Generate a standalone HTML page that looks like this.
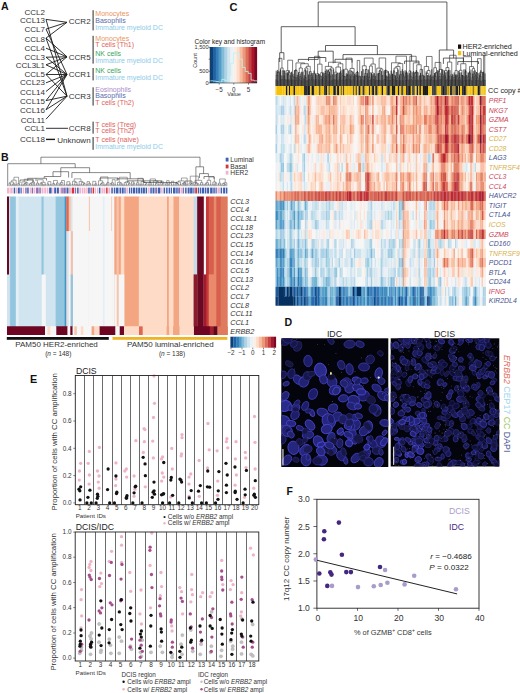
<!DOCTYPE html><html><head><meta charset="utf-8"><style>html,body{margin:0;padding:0;background:#fff;}body{width:520px;height:693px;overflow:hidden;font-family:"Liberation Sans",sans-serif;}svg{display:block}</style></head><body><svg width="520" height="693" viewBox="0 0 520 693" font-family="Liberation Sans, sans-serif"><defs><filter id="blur" x="-5%" y="-5%" width="110%" height="110%"><feGaussianBlur stdDeviation="1.0"/></filter><filter id="blur2" x="-5%" y="-5%" width="110%" height="110%"><feGaussianBlur stdDeviation="0.7"/></filter></defs><text x="1.1" y="10.4" font-size="10.6" fill="#111" font-weight="bold">A</text><text x="45" y="15" font-size="8" fill="#333" text-anchor="end">CCL2</text><text x="45" y="22.7" font-size="8" fill="#333" text-anchor="end">CCL13</text><text x="45" y="31.7" font-size="8" fill="#333" text-anchor="end">CCL7</text><text x="45" y="41.6" font-size="8" fill="#333" text-anchor="end">CCL8</text><text x="45" y="51.2" font-size="8" fill="#333" text-anchor="end">CCL4</text><text x="45" y="60.2" font-size="8" fill="#333" text-anchor="end">CCL3</text><text x="45" y="67.6" font-size="8" fill="#333" text-anchor="end">CCL3L1</text><text x="45" y="76.5" font-size="8" fill="#333" text-anchor="end">CCL5</text><text x="45" y="85" font-size="8" fill="#333" text-anchor="end">CCL23</text><text x="45" y="95" font-size="8" fill="#333" text-anchor="end">CCL14</text><text x="45" y="104" font-size="8" fill="#333" text-anchor="end">CCL15</text><text x="45" y="112.9" font-size="8" fill="#333" text-anchor="end">CCL16</text><text x="45" y="123.3" font-size="8" fill="#333" text-anchor="end">CCL11</text><text x="45" y="131" font-size="8" fill="#333" text-anchor="end">CCL1</text><text x="45" y="142.2" font-size="8" fill="#333" text-anchor="end">CCL18</text><text x="90.6" y="24.4" font-size="8" fill="#333" text-anchor="end">CCR2</text><text x="90.6" y="59.6" font-size="8" fill="#333" text-anchor="end">CCR5</text><text x="90.6" y="77" font-size="8" fill="#333" text-anchor="end">CCR1</text><text x="90.6" y="99.4" font-size="8" fill="#333" text-anchor="end">CCR3</text><text x="90.6" y="131" font-size="8" fill="#333" text-anchor="end">CCR8</text><text x="90.6" y="142.6" font-size="8" fill="#333" text-anchor="end">Unknown</text><path d="M46 19.4L67 22.3 M46 29.1L67 22.3 M46 38.1L67 22.3 M46 38.1L67 56.8 M46 48.2L67 56.8 M46 57.2L67 56.8 M46 64.8L67 56.8 M46 74.5L67 56.8 M46 29.1L67 74.5 M46 57.2L67 74.5 M46 64.8L67 74.5 M46 74.5L67 74.5 M46 82.8L67 74.5 M46 91.5L67 74.5 M46 100.6L67 74.5 M46 109.7L67 74.5 M46 19.4L67 96.2 M46 38.1L67 96.2 M46 74.5L67 96.2 M46 100.6L67 96.2 M46 109.7L67 96.2 M46 119.2L67 96.2" stroke="#1a1a1a" stroke-width="0.9" fill="none"/><line x1="46" y1="128.3" x2="68" y2="128.3" stroke="#1a1a1a" stroke-width="0.9"/><line x1="46" y1="139.4" x2="55" y2="139.4" stroke="#1a1a1a" stroke-width="1.4"/><rect x="92.3" y="10.2" width="1.7" height="20.2" fill="#808080"/><text x="95.3" y="15.8" font-size="7" fill="#e9955f">Monocytes</text><text x="95.3" y="22.6" font-size="7" fill="#5a6aab">Basophils</text><text x="95.3" y="30" font-size="7" fill="#8ecbe8">Immature myeloid DC</text><rect x="92.3" y="35.8" width="1.7" height="27.8" fill="#808080"/><text x="95.3" y="40.8" font-size="7" fill="#e9955f">Monocytes</text><text x="95.3" y="47.4" font-size="7" fill="#e0625c">T cells (Th1)</text><text x="95.3" y="55.8" font-size="7" fill="#3aa65a">NK cells</text><text x="95.3" y="62.7" font-size="7" fill="#8ecbe8">Immature myeloid DC</text><rect x="92.3" y="68" width="1.7" height="12.4" fill="#808080"/><text x="95.3" y="73.4" font-size="7" fill="#3aa65a">NK cells</text><text x="95.3" y="79.7" font-size="7" fill="#8ecbe8">Immature myeloid DC</text><rect x="92.3" y="87.3" width="1.7" height="18.3" fill="#808080"/><text x="95.3" y="92.2" font-size="7" fill="#a98ccb">Eosinophils</text><text x="95.3" y="98.4" font-size="7" fill="#5a6aab">Basophils</text><text x="95.3" y="104.8" font-size="7" fill="#e0625c">T cells (Th2)</text><rect x="92.3" y="121.6" width="1.7" height="12" fill="#808080"/><text x="95.3" y="126.5" font-size="7" fill="#e0625c">T cells (Treg)</text><text x="95.3" y="132.6" font-size="7" fill="#e0625c">T cells (Th2)</text><rect x="92.3" y="137" width="1.7" height="12.8" fill="#808080"/><text x="95.3" y="142.2" font-size="7" fill="#e0625c">T cells (naive)</text><text x="95.3" y="149" font-size="7" fill="#8ecbe8">Immature myeloid DC</text><text x="1" y="160.6" font-size="10.6" fill="#111" font-weight="bold">B</text><path d="M40.9 163.7V157.2H200V166.8 M7.7 186.2V163.7H75.2V167.7 M60.8 171.7V167.7H89.6V172.6 M53 176.5V171.7H68.6V177.5 M44.2 178.3V176.5H60.8V171.7 M71.9 178V172.6H130.2V178.8 M27.7 181V178.3H46.5V180.5 M117 181V178.8H143.5V182.5 M127.8 183V180.8H161.5V183 M143.5 182.5H177V184 M195.9 184V166.8H203.6V173.6 M199.5 178V173.6H208.4V176.5 M204 179V176.5H214V179 M36 181V178.3 M20 183V180 H33V182 M100 180V178 H118V180 M150 183V181 M170 184V182.5 M185 184.5V181H192V184" stroke="#3a3a3a" stroke-width="0.6" fill="none"/><path d="M10.1 186.2V184.7H11.2V186.2M9 186.2V183.29H10.65V184.7M12.3 186.2V184.52H13.4V186.2M12.85 184.52V183.72H14.5V186.2M9.82 183.29V182.04H13.68V183.72M15.6 186.2V184.29H16.7V186.2M11.75 182.04V180.18H16.15V184.29M18.9 186.2V184.33H20V186.2M17.8 186.2V183.45H19.45V184.33M13.95 180.18V177.23H18.62V183.45M21.3 186.2V184.77H22.4V186.2M23.5 186.2V184.47H24.6V186.2M25.7 186.2V184.37H26.8V186.2M24.05 184.47V183.51H26.25V184.37M25.15 183.51V182.71H27.9V186.2M21.85 184.77V181.91H26.52V182.71M29 186.2V184.64H30.1V186.2M31.2 186.2V184.61H32.3V186.2M29.55 184.64V183.64H31.75V184.61M30.65 183.64V182.84H33.4V186.2M32.03 182.84V182.04H34.5V186.2M24.19 181.91V179.23H33.26V182.04M35.8 186.2V184.65H36.9V186.2M38 186.2V184.21H39.1V186.2M36.35 184.65V183.18H38.55V184.21M42.4 186.2V184.73H43.5V186.2M41.3 186.2V183.93H42.95V184.73M40.2 186.2V183.13H42.12V183.93M44.6 186.2V184.43H45.7V186.2M41.16 183.13V182.33H45.15V184.43M37.45 183.18V179.69H43.16V182.33M48.1 186.2V184.69H49.2V186.2M47 186.2V183.89H48.65V184.69M50.3 186.2V184.5H51.4V186.2M47.83 183.89V181.59H50.85V184.5M53.8 186.2V184.31H54.9V186.2M52.7 186.2V183.51H54.35V184.31M56 186.2V184.17H57.1V186.2M56.55 184.17V182.91H58.2V186.2M53.53 183.51V180.46H57.38V182.91M60.6 186.2V184.49H61.7V186.2M59.5 186.2V183.69H61.15V184.49M60.33 183.69V182.45H62.8V186.2M63.9 186.2V184.72H65V186.2M61.56 182.45V180.51H64.45V184.72M66.3 186.2V184.39H67.4V186.2M68.5 186.2V184.71H69.6V186.2M69.05 184.71V183.89H70.7V186.2M66.85 184.39V181.71H69.88V183.89M72 186.2V184.41H73.1V186.2M74.2 186.2V184.44H75.3V186.2M76.4 186.2V184.36H77.5V186.2M74.75 184.44V182.34H76.95V184.36M72.55 184.41V181.31H75.85V182.34M78.6 186.2V184.76H79.7V186.2M80.8 186.2V184.33H81.9V186.2M83 186.2V184.48H84.1V186.2M83.55 184.48V183.51H85.2V186.2M81.35 184.33V182.61H84.38V183.51M79.15 184.76V181.45H82.86V182.61M74.2 181.31V178.86H81.01V181.45M86.5 186.2V184.38H87.6V186.2M89.8 186.2V184.22H90.9V186.2M88.7 186.2V183.29H90.35V184.22M87.05 184.38V181.61H89.53V183.29M92.2 186.2V184.75H93.3V186.2M94.4 186.2V184.7H95.5V186.2M94.95 184.7V183.73H96.6V186.2M92.75 184.75V181.33H95.78V183.73M97.9 186.2V184.76H99V186.2M100.1 186.2V184.49H101.2V186.2M100.65 184.49V183.54H102.3V186.2M103.4 186.2V184.77H104.5V186.2M101.48 183.54V182.74H103.95V184.77M98.45 184.76V180.75H102.71V182.74M105.6 186.2V184.63H106.7V186.2M106.15 184.63V183.83H107.8V186.2M106.98 183.83V182.52H108.9V186.2M100.58 180.75V176.9H107.94V182.52M111.3 186.2V184.42H112.4V186.2M110.2 186.2V183.62H111.85V184.42M111.03 183.62V182.82H113.5V186.2M114.6 186.2V184.36H115.7V186.2M112.26 182.82V179.66H115.15V184.36M117 186.2V184.71H118.1V186.2M119.2 186.2V184.21H120.3V186.2M121.4 186.2V184.35H122.5V186.2M119.75 184.21V183.14H121.95V184.35M117.55 184.71V182.34H120.85V183.14M123.6 186.2V184.73H124.7V186.2M125.8 186.2V184.77H126.9V186.2M124.15 184.73V182.68H126.35V184.77M128 186.2V184.38H129.1V186.2M128.55 184.38V183.39H130.2V186.2M125.25 182.68V181.88H129.38V183.39M119.2 182.34V177.24H127.31V181.88M132.6 186.2V184.32H133.7V186.2M133.15 184.32V183.29H134.8V186.2M131.5 186.2V181.84H133.97V183.29M136.1 186.2V184.29H137.2V186.2M138.3 186.2V184.32H139.4V186.2M136.65 184.29V182.75H138.85V184.32M140.5 186.2V184.21H141.6V186.2M142.7 186.2V184.23H143.8V186.2M144.9 186.2V184.66H146V186.2M145.45 184.66V183.86H147.1V186.2M143.25 184.23V182.46H146.27V183.86M141.05 184.21V181.56H144.76V182.46M137.75 182.75V178.29H142.91V181.56M148.4 186.2V184.59H149.5V186.2M150.6 186.2V184.26H151.7V186.2M148.95 184.59V182.74H151.15V184.26M152.8 186.2V184.76H153.9V186.2M155 186.2V184.77H156.1V186.2M155.55 184.77V183.33H157.2V186.2M158.3 186.2V184.59H159.4V186.2M156.38 183.33V181.67H158.85V184.59M153.35 184.76V180.87H157.61V181.67M150.05 182.74V178.93H155.48V180.87M161.8 186.2V184.18H162.9V186.2M162.35 184.18V183.12H164V186.2M160.7 186.2V181.18H163.18V183.12M165.3 186.2V184.66H166.4V186.2M165.85 184.66V183.09H167.5V186.2M168.6 186.2V184.19H169.7V186.2M166.68 183.09V180.64H169.15V184.19M171 186.2V184.76H172.1V186.2M173.2 186.2V184.64H174.3V186.2M171.55 184.76V181.2H173.75V184.64M177.8 186.2V184.44H178.9V186.2M176.7 186.2V183.59H178.35V184.44M175.6 186.2V182.79H177.52V183.59M180 186.2V184.51H181.1V186.2M176.56 182.79V181.99H180.55V184.51M183.3 186.2V184.36H184.4V186.2M182.2 186.2V183.56H183.85V184.36M183.02 183.56V182.74H185.5V186.2M178.56 181.99V180.86H184.26V182.74M186.6 186.2V184.26H187.7V186.2M181.41 180.86V178H187.15V184.26M190.1 186.2V184.56H191.2V186.2M190.65 184.56V183.76H192.3V186.2M189 186.2V182.96H191.47V183.76M194.5 186.2V184.61H195.6V186.2M196.7 186.2V184.74H197.8V186.2M197.25 184.74V183.94H198.9V186.2M195.05 184.61V183.14H198.07V183.94M193.4 186.2V182.34H196.56V183.14M200 186.2V184.36H201.1V186.2M202.2 186.2V184.22H203.3V186.2M200.55 184.36V182.62H202.75V184.22M194.98 182.34V180.35H201.65V182.62M190.24 182.96V176.15H198.32V180.35M204.6 186.2V184.46H205.7V186.2M205.15 184.46V183.61H206.8V186.2M207.9 186.2V184.33H209V186.2M205.97 183.61V182.64H208.45V184.33M210.1 186.2V184.65H211.2V186.2M207.21 182.64V180.28H210.65V184.65M212.3 186.2V184.26H213.4V186.2M214.5 186.2V184.18H215.6V186.2M215.05 184.18V183H216.7V186.2M212.85 184.26V182.03H215.88V183M208.93 180.28V176.99H214.36V182.03M218 186.2V184.45H219.1V186.2M220.2 186.2V184.76H221.3V186.2M218.55 184.45V183.12H220.75V184.76M223.5 186.2V185.16H224.6V186.2M224.05 185.16V184.36H225.7V186.2M222.4 186.2V183.56H224.88V184.36M223.64 183.56V182.76H226.8V186.2M219.65 183.12V178.96H225.22V182.76" stroke="#4a4a4a" stroke-width="0.5" fill="none"/><rect x="7" y="187.6" width="220.4" height="5.9" fill="#fff"/><rect x="7" y="187.6" width="2.5" height="5.9" fill="#f3b3cc"/><rect x="10.2" y="187.6" width="2.5" height="5.9" fill="#f3b3cc"/><rect x="13.7" y="187.6" width="1.5" height="5.9" fill="#3f5fb0"/><rect x="15.9" y="187.6" width="1.2" height="5.9" fill="#f3b3cc"/><rect x="17.8" y="187.6" width="2" height="5.9" fill="#3f5fb0"/><rect x="20.5" y="187.6" width="1.2" height="5.9" fill="#3f5fb0"/><rect x="22.7" y="187.6" width="1.5" height="5.9" fill="#f3b3cc"/><rect x="25.2" y="187.6" width="1.5" height="5.9" fill="#8c6fb0"/><rect x="27.2" y="187.6" width="1.5" height="5.9" fill="#3f5fb0"/><rect x="29.7" y="187.6" width="1.5" height="5.9" fill="#f3b3cc"/><rect x="31.7" y="187.6" width="1.5" height="5.9" fill="#8c6fb0"/><rect x="33.9" y="187.6" width="1.5" height="5.9" fill="#f3b3cc"/><rect x="36.1" y="187.6" width="2.5" height="5.9" fill="#8c6fb0"/><rect x="39.3" y="187.6" width="1.5" height="5.9" fill="#8c6fb0"/><rect x="41.5" y="187.6" width="2" height="5.9" fill="#f3b3cc"/><rect x="44.2" y="187.6" width="2" height="5.9" fill="#f3b3cc"/><rect x="46.9" y="187.6" width="1.5" height="5.9" fill="#f3b3cc"/><rect x="49.1" y="187.6" width="2.5" height="5.9" fill="#3f5fb0"/><rect x="52.3" y="187.6" width="1.2" height="5.9" fill="#f3b3cc"/><rect x="54.2" y="187.6" width="2" height="5.9" fill="#3f5fb0"/><rect x="56.9" y="187.6" width="2" height="5.9" fill="#3f5fb0"/><rect x="59.6" y="187.6" width="1.2" height="5.9" fill="#f3b3cc"/><rect x="61.3" y="187.6" width="1.5" height="5.9" fill="#8c6fb0"/><rect x="63.3" y="187.6" width="2.5" height="5.9" fill="#8c6fb0"/><rect x="66.5" y="187.6" width="2" height="5.9" fill="#3f5fb0"/><rect x="69" y="187.6" width="2" height="5.9" fill="#f3b3cc"/><rect x="71.7" y="187.6" width="2.5" height="5.9" fill="#d2373c"/><rect x="74.9" y="187.6" width="1.2" height="5.9" fill="#8c6fb0"/><rect x="77.1" y="187.6" width="1.5" height="5.9" fill="#3f5fb0"/><rect x="79.3" y="187.6" width="2" height="5.9" fill="#f3b3cc"/><rect x="82" y="187.6" width="1.5" height="5.9" fill="#f3b3cc"/><rect x="84" y="187.6" width="1.5" height="5.9" fill="#f3b3cc"/><rect x="86.2" y="187.6" width="1.5" height="5.9" fill="#f3b3cc"/><rect x="88.2" y="187.6" width="1.5" height="5.9" fill="#3f5fb0"/><rect x="90.4" y="187.6" width="1.5" height="5.9" fill="#8c6fb0"/><rect x="92.6" y="187.6" width="1.5" height="5.9" fill="#d2373c"/><rect x="94.8" y="187.6" width="1.2" height="5.9" fill="#f3b3cc"/><rect x="97" y="187.6" width="1.2" height="5.9" fill="#f3b3cc"/><rect x="98.9" y="187.6" width="1.5" height="5.9" fill="#3f5fb0"/><rect x="101.4" y="187.6" width="1.5" height="5.9" fill="#f3b3cc"/><rect x="103.4" y="187.6" width="2" height="5.9" fill="#f3b3cc"/><rect x="106.1" y="187.6" width="1.5" height="5.9" fill="#d2373c"/><rect x="108.3" y="187.6" width="2" height="5.9" fill="#f3b3cc"/><rect x="111.3" y="187.6" width="1.5" height="5.9" fill="#3f5fb0"/><rect x="113.8" y="187.6" width="1.5" height="5.9" fill="#3f5fb0"/><rect x="116" y="187.6" width="2.5" height="5.9" fill="#3f5fb0"/><rect x="119.5" y="187.6" width="1.5" height="5.9" fill="#3f5fb0"/><rect x="121.7" y="187.6" width="2" height="5.9" fill="#3f5fb0"/><rect x="124.4" y="187.6" width="1.2" height="5.9" fill="#3f5fb0"/><rect x="126.3" y="187.6" width="2" height="5.9" fill="#f3b3cc"/><rect x="129" y="187.6" width="1.2" height="5.9" fill="#3f5fb0"/><rect x="130.9" y="187.6" width="1.2" height="5.9" fill="#3f5fb0"/><rect x="132.8" y="187.6" width="2.5" height="5.9" fill="#3f5fb0"/><rect x="136" y="187.6" width="1.5" height="5.9" fill="#3f5fb0"/><rect x="138.2" y="187.6" width="2" height="5.9" fill="#3f5fb0"/><rect x="140.9" y="187.6" width="1.5" height="5.9" fill="#3f5fb0"/><rect x="142.9" y="187.6" width="2" height="5.9" fill="#3f5fb0"/><rect x="145.6" y="187.6" width="1.5" height="5.9" fill="#3f5fb0"/><rect x="148.1" y="187.6" width="1.5" height="5.9" fill="#f3b3cc"/><rect x="150.3" y="187.6" width="1.5" height="5.9" fill="#3f5fb0"/><rect x="152.5" y="187.6" width="2" height="5.9" fill="#3f5fb0"/><rect x="155.2" y="187.6" width="2" height="5.9" fill="#8c6fb0"/><rect x="157.9" y="187.6" width="2.5" height="5.9" fill="#3f5fb0"/><rect x="161.1" y="187.6" width="1.5" height="5.9" fill="#f3b3cc"/><rect x="163.6" y="187.6" width="1.5" height="5.9" fill="#3f5fb0"/><rect x="166.1" y="187.6" width="1.5" height="5.9" fill="#3f5fb0"/><rect x="168.6" y="187.6" width="1.5" height="5.9" fill="#3f5fb0"/><rect x="170.8" y="187.6" width="1.2" height="5.9" fill="#3f5fb0"/><rect x="173" y="187.6" width="2.5" height="5.9" fill="#3f5fb0"/><rect x="176.2" y="187.6" width="1.5" height="5.9" fill="#3f5fb0"/><rect x="178.2" y="187.6" width="2" height="5.9" fill="#8c6fb0"/><rect x="180.9" y="187.6" width="1.2" height="5.9" fill="#f3b3cc"/><rect x="182.6" y="187.6" width="1.5" height="5.9" fill="#8c6fb0"/><rect x="185.1" y="187.6" width="1.5" height="5.9" fill="#3f5fb0"/><rect x="187.6" y="187.6" width="2" height="5.9" fill="#3f5fb0"/><rect x="190.1" y="187.6" width="2.5" height="5.9" fill="#3f5fb0"/><rect x="193.3" y="187.6" width="1.2" height="5.9" fill="#3f5fb0"/><rect x="195.2" y="187.6" width="2" height="5.9" fill="#d2373c"/><rect x="197.9" y="187.6" width="1.2" height="5.9" fill="#3f5fb0"/><rect x="199.8" y="187.6" width="1.2" height="5.9" fill="#3f5fb0"/><rect x="201.7" y="187.6" width="2.5" height="5.9" fill="#3f5fb0"/><rect x="204.9" y="187.6" width="1.5" height="5.9" fill="#3f5fb0"/><rect x="207.1" y="187.6" width="2" height="5.9" fill="#3f5fb0"/><rect x="210.1" y="187.6" width="2.5" height="5.9" fill="#3f5fb0"/><rect x="213.3" y="187.6" width="1.5" height="5.9" fill="#3f5fb0"/><rect x="215.5" y="187.6" width="1.2" height="5.9" fill="#3f5fb0"/><rect x="217.4" y="187.6" width="2.5" height="5.9" fill="#f3b3cc"/><rect x="220.6" y="187.6" width="1.5" height="5.9" fill="#3f5fb0"/><rect x="223.1" y="187.6" width="2" height="5.9" fill="#3f5fb0"/><rect x="225.8" y="187.6" width="1.6" height="5.9" fill="#3f5fb0"/><path fill="#6c0722" d="M7 196.5h2.4v138.5h-2.4zM196.9 196.5h7.2v138.5h-7.2z"/><path fill="#d1e5f0" d="M9.1 196.5h1.3v138.5h-1.3zM18.2 196.5h23.5v138.5h-23.5zM43.4 196.5h2.4v138.5h-2.4zM45.5 196.5h10.4v138.5h-10.4z"/><path fill="#92c5de" d="M10.1 196.5h6v138.5h-6zM41.4 196.5h2.3v138.5h-2.3zM55.6 196.5h9.3v138.5h-9.3z"/><path fill="#e3eef5" d="M15.8 196.5h2.7v138.5h-2.7zM102.4 196.5h2.5v138.5h-2.5z"/><path fill="#4393c3" d="M64.6 196.5h2v138.5h-2z"/><path fill="#e0684e" d="M66.3 196.5h2.7v138.5h-2.7z"/><path fill="#f7c4aa" d="M68.7 196.5h2.3v138.5h-2.3zM88.4 196.5h1.8v138.5h-1.8zM111 196.5h1.5v138.5h-1.5zM116.5 196.5h2.4v138.5h-2.4z"/><path fill="#dde5ea" d="M70.7 196.5h2.2v138.5h-2.2z"/><path fill="#f6f6f7" d="M72.6 196.5h16.1v138.5h-16.1zM89.9 196.5h12.8v138.5h-12.8zM104.6 196.5h6.7v138.5h-6.7zM112.2 196.5h2.4v138.5h-2.4zM203.8 196.5h2.5v138.5h-2.5z"/><path fill="#f4a582" d="M114.3 196.5h2.5v138.5h-2.5zM118.6 196.5h2.5v138.5h-2.5zM124 196.5h15.1v138.5h-15.1zM166.6 196.5h2.5v138.5h-2.5zM173.1 196.5h6.4v138.5h-6.4z"/><path fill="#fddbc7" d="M120.8 196.5h3.5v138.5h-3.5zM138.8 196.5h28.1v138.5h-28.1zM168.8 196.5h4.6v138.5h-4.6zM179.2 196.5h14.7v138.5h-14.7z"/><path fill="#c6dbe8" d="M193.6 196.5h3.6v138.5h-3.6z"/><path fill="#c83a3a" d="M206 196.5h3.1v138.5h-3.1z"/><path fill="#d6604d" d="M208.8 196.5h5.3v138.5h-5.3zM216 196.5h5v138.5h-5z"/><path fill="#ea8a6c" d="M213.8 196.5h2.5v138.5h-2.5z"/><path fill="#e07a5f" d="M220.7 196.5h7v138.5h-7z"/><path fill="#d1e5f0" d="M66.3 231.12h2.7v103.88h-2.7z"/><path fill="#f6f6f7" d="M68.7 231.12h2.3v103.88h-2.3zM88.4 231.12h1.8v103.88h-1.8zM111 231.12h1.5v103.88h-1.5z"/><path fill="#f0c0b0" d="M70.7 231.12h2.2v103.88h-2.2z"/><path fill="#d1e5f0" d="M7 274.41h2.4v60.59h-2.4z"/><path fill="#f6f6f7" d="M41.4 274.41h2.3v60.59h-2.3zM43.4 274.41h2.4v60.59h-2.4zM114.3 274.41h2.5v60.59h-2.5zM118.6 274.41h2.5v60.59h-2.5zM120.8 274.41h3.5v60.59h-3.5z"/><path fill="#92c5de" d="M70.7 274.41h2.2v60.59h-2.2z"/><path fill="#8b1a2b" d="M193.6 274.41h3.6v60.59h-3.6z"/><path fill="#a01c2c" d="M203.8 274.41h2.5v60.59h-2.5z"/><path fill="#ea8a6c" d="M208.8 274.41h5.3v60.59h-5.3z"/><path fill="#6e0623" d="M7 326.34h38.3v8.66h-38.3zM56 326.34h11.8v8.66h-11.8zM70 326.34h2.9v8.66h-2.9zM99.2 326.34h16.5v8.66h-16.5zM119.3 326.34h5v8.66h-5zM193.6 326.34h16.5v8.66h-16.5z"/><path fill="#f6f6f7" d="M45 326.34h2.8v8.66h-2.8zM50 326.34h6.3v8.66h-6.3zM67.5 326.34h2.8v8.66h-2.8zM72.6 326.34h2v8.66h-2zM76.5 326.34h4.6v8.66h-4.6zM83 326.34h8.9v8.66h-8.9zM115.4 326.34h4.2v8.66h-4.2z"/><path fill="#fddbc7" d="M47.5 326.34h2.8v8.66h-2.8zM80.8 326.34h2.5v8.66h-2.5zM93.8 326.34h5.7v8.66h-5.7zM124 326.34h15.3v8.66h-15.3zM142.4 326.34h24.5v8.66h-24.5zM168.8 326.34h4.6v8.66h-4.6zM179.2 326.34h14.7v8.66h-14.7z"/><path fill="#f7c4aa" d="M74.3 326.34h2.5v8.66h-2.5z"/><path fill="#f4a582" d="M91.6 326.34h2.5v8.66h-2.5zM166.6 326.34h2.5v8.66h-2.5zM173.1 326.34h6.4v8.66h-6.4z"/><path fill="#e0684e" d="M139 326.34h3.7v8.66h-3.7z"/><path fill="#a01c2c" d="M209.8 326.34h4.3v8.66h-4.3z"/><path fill="#5a0a1e" d="M213.8 326.34h3.9v8.66h-3.9z"/><path fill="#e07a5f" d="M217.4 326.34h10.3v8.66h-10.3z"/><text x="230.3" y="203.7" font-size="7.3" fill="#333" font-style="italic">CCL3</text><text x="230.3" y="212.36" font-size="7.3" fill="#333" font-style="italic">CCL4</text><text x="230.3" y="221.01" font-size="7.3" fill="#333" font-style="italic">CCL3L1</text><text x="230.3" y="229.67" font-size="7.3" fill="#333" font-style="italic">CCL18</text><text x="230.3" y="238.32" font-size="7.3" fill="#333" font-style="italic">CCL23</text><text x="230.3" y="246.98" font-size="7.3" fill="#333" font-style="italic">CCL15</text><text x="230.3" y="255.64" font-size="7.3" fill="#333" font-style="italic">CCL14</text><text x="230.3" y="264.29" font-size="7.3" fill="#333" font-style="italic">CCL16</text><text x="230.3" y="272.95" font-size="7.3" fill="#333" font-style="italic">CCL5</text><text x="230.3" y="281.61" font-size="7.3" fill="#333" font-style="italic">CCL13</text><text x="230.3" y="290.26" font-size="7.3" fill="#333" font-style="italic">CCL2</text><text x="230.3" y="298.92" font-size="7.3" fill="#333" font-style="italic">CCL7</text><text x="230.3" y="307.57" font-size="7.3" fill="#333" font-style="italic">CCL8</text><text x="230.3" y="316.23" font-size="7.3" fill="#333" font-style="italic">CCL11</text><text x="230.3" y="324.89" font-size="7.3" fill="#333" font-style="italic">CCL1</text><text x="230.3" y="333.54" font-size="7.3" fill="#333" font-style="italic">ERBB2</text><rect x="225.7" y="157.7" width="2.8" height="3.8" fill="#3f5fb0"/><text x="230.3" y="161.6" font-size="6.7" fill="#333">Luminal</text><rect x="225.7" y="164.6" width="2.8" height="3.8" fill="#d2373c"/><text x="230.3" y="168.5" font-size="6.7" fill="#333">Basal</text><rect x="225.7" y="170.8" width="2.8" height="3.8" fill="#f3b3cc"/><text x="230.3" y="174.7" font-size="6.7" fill="#333">HER2</text><rect x="6.8" y="337" width="102" height="2.8" fill="#111"/><rect x="112.5" y="337" width="114.9" height="2.8" fill="#f0b323"/><text x="56.5" y="347.4" font-size="8" fill="#333" text-anchor="middle">PAM50 HER2-enriched</text><text x="58.3" y="355.6" font-size="6.5" fill="#333" text-anchor="middle">(<tspan font-style="italic">n</tspan> = 148)</text><text x="170.3" y="347.4" font-size="8" fill="#333" text-anchor="middle">PAM50 luminal-enriched</text><text x="172" y="355.6" font-size="6.5" fill="#333" text-anchor="middle">(<tspan font-style="italic">n</tspan> = 138)</text><rect x="230.4" y="336.7" width="2.95" height="11" fill="#0e4178"/><rect x="233.25" y="336.7" width="2.95" height="11" fill="#1f63a7"/><rect x="236.1" y="336.7" width="2.95" height="11" fill="#347fb9"/><rect x="238.95" y="336.7" width="2.95" height="11" fill="#529cc8"/><rect x="241.8" y="336.7" width="2.95" height="11" fill="#83bcd9"/><rect x="244.65" y="336.7" width="2.95" height="11" fill="#aed3e6"/><rect x="247.5" y="336.7" width="2.95" height="11" fill="#d3e6f0"/><rect x="250.35" y="336.7" width="2.95" height="11" fill="#ebf1f5"/><rect x="253.2" y="336.7" width="2.95" height="11" fill="#f9eee8"/><rect x="256.05" y="336.7" width="2.95" height="11" fill="#fdddca"/><rect x="258.9" y="336.7" width="2.95" height="11" fill="#f8bda0"/><rect x="261.75" y="336.7" width="2.95" height="11" fill="#ee9878"/><rect x="264.6" y="336.7" width="2.95" height="11" fill="#dc6d57"/><rect x="267.45" y="336.7" width="2.95" height="11" fill="#c6403e"/><rect x="270.3" y="336.7" width="2.95" height="11" fill="#ad162a"/><rect x="273.15" y="336.7" width="2.95" height="11" fill="#7e0823"/><text x="231" y="355.3" font-size="6.3" fill="#333" text-anchor="middle">−2</text><text x="242" y="355.3" font-size="6.3" fill="#333" text-anchor="middle">−1</text><text x="252.8" y="355.3" font-size="6.3" fill="#333" text-anchor="middle">0</text><text x="263.5" y="355.3" font-size="6.3" fill="#333" text-anchor="middle">1</text><text x="274.3" y="355.3" font-size="6.3" fill="#333" text-anchor="middle">2</text><line x1="231" y1="347.7" x2="231" y2="349.3" stroke="#333" stroke-width="0.6"/><line x1="242" y1="347.7" x2="242" y2="349.3" stroke="#333" stroke-width="0.6"/><line x1="252.8" y1="347.7" x2="252.8" y2="349.3" stroke="#333" stroke-width="0.6"/><line x1="263.5" y1="347.7" x2="263.5" y2="349.3" stroke="#333" stroke-width="0.6"/><line x1="274.3" y1="347.7" x2="274.3" y2="349.3" stroke="#333" stroke-width="0.6"/><text x="229.6" y="10.6" font-size="11" fill="#111" font-weight="bold">C</text><rect x="275.7" y="70.67" width="1" height="15.33" fill="#555"/><rect x="277.1" y="69.91" width="1" height="16.09" fill="#555"/><rect x="278.5" y="72.32" width="1" height="13.68" fill="#555"/><rect x="279.9" y="69.46" width="1" height="16.54" fill="#333"/><rect x="281.31" y="75.36" width="1" height="10.64" fill="#4a4a4a"/><rect x="282.71" y="70.82" width="1" height="15.18" fill="#3a3a3a"/><rect x="284.11" y="70.34" width="1" height="15.66" fill="#4a4a4a"/><rect x="285.51" y="72.79" width="1" height="13.21" fill="#555"/><rect x="286.91" y="72.33" width="1" height="13.67" fill="#3a3a3a"/><rect x="288.31" y="70.62" width="1" height="15.38" fill="#3a3a3a"/><rect x="289.71" y="75.08" width="1" height="10.92" fill="#555"/><rect x="291.11" y="71.73" width="1" height="14.27" fill="#333"/><rect x="292.52" y="73.7" width="1" height="12.3" fill="#333"/><rect x="293.92" y="70.12" width="1" height="15.88" fill="#555"/><rect x="295.32" y="69.3" width="1" height="16.7" fill="#333"/><rect x="296.72" y="74.76" width="1" height="11.24" fill="#444"/><rect x="298.12" y="72.31" width="1" height="13.69" fill="#4a4a4a"/><rect x="299.52" y="74" width="1" height="12" fill="#4a4a4a"/><rect x="300.92" y="71.76" width="1" height="14.24" fill="#555"/><rect x="302.33" y="72.11" width="1" height="13.89" fill="#3a3a3a"/><rect x="303.73" y="75.15" width="1" height="10.85" fill="#333"/><rect x="305.13" y="69.25" width="1" height="16.75" fill="#4a4a4a"/><rect x="306.53" y="70.52" width="1" height="15.48" fill="#4a4a4a"/><rect x="307.93" y="74.45" width="1" height="11.55" fill="#444"/><rect x="309.33" y="71.95" width="1" height="14.05" fill="#4a4a4a"/><rect x="310.73" y="73.02" width="1" height="12.98" fill="#555"/><rect x="312.13" y="73.1" width="1" height="12.9" fill="#555"/><rect x="313.54" y="70.63" width="1" height="15.37" fill="#444"/><rect x="314.94" y="73.77" width="1" height="12.23" fill="#333"/><rect x="316.34" y="74.99" width="1" height="11.01" fill="#555"/><rect x="317.74" y="73.7" width="1" height="12.3" fill="#3a3a3a"/><rect x="319.14" y="73.89" width="1" height="12.11" fill="#444"/><rect x="320.54" y="75.75" width="1" height="10.25" fill="#555"/><rect x="321.94" y="72.98" width="1" height="13.02" fill="#3a3a3a"/><rect x="323.35" y="73.43" width="1" height="12.57" fill="#555"/><rect x="324.75" y="70.87" width="1" height="15.13" fill="#333"/><rect x="326.15" y="69.44" width="1" height="16.56" fill="#4a4a4a"/><rect x="327.55" y="69.62" width="1" height="16.38" fill="#333"/><rect x="328.95" y="71.87" width="1" height="14.13" fill="#3a3a3a"/><rect x="330.35" y="69.14" width="1" height="16.86" fill="#4a4a4a"/><rect x="331.75" y="74.38" width="1" height="11.62" fill="#333"/><rect x="333.15" y="69.31" width="1" height="16.69" fill="#555"/><rect x="334.56" y="74.33" width="1" height="11.67" fill="#4a4a4a"/><rect x="335.96" y="74.03" width="1" height="11.97" fill="#444"/><rect x="337.36" y="72.86" width="1" height="13.14" fill="#444"/><rect x="338.76" y="72.54" width="1" height="13.46" fill="#333"/><rect x="340.16" y="71.17" width="1" height="14.83" fill="#333"/><rect x="341.56" y="69.76" width="1" height="16.24" fill="#555"/><rect x="342.96" y="69.22" width="1" height="16.78" fill="#3a3a3a"/><rect x="344.37" y="75.8" width="1" height="10.2" fill="#444"/><rect x="345.77" y="73.27" width="1" height="12.73" fill="#3a3a3a"/><rect x="347.17" y="73.83" width="1" height="12.17" fill="#444"/><rect x="348.57" y="71.2" width="1" height="14.8" fill="#3a3a3a"/><rect x="349.97" y="75.28" width="1" height="10.72" fill="#4a4a4a"/><rect x="351.37" y="71.64" width="1" height="14.36" fill="#555"/><rect x="352.77" y="71.7" width="1" height="14.3" fill="#555"/><rect x="354.17" y="73.77" width="1" height="12.23" fill="#333"/><rect x="355.58" y="73.34" width="1" height="12.66" fill="#555"/><rect x="356.98" y="70.9" width="1" height="15.1" fill="#3a3a3a"/><rect x="358.38" y="75.56" width="1" height="10.44" fill="#4a4a4a"/><rect x="359.78" y="75.84" width="1" height="10.16" fill="#555"/><rect x="361.18" y="71.12" width="1" height="14.88" fill="#444"/><rect x="362.58" y="69.08" width="1" height="16.92" fill="#4a4a4a"/><rect x="363.98" y="75.91" width="1" height="10.09" fill="#444"/><rect x="365.39" y="69.14" width="1" height="16.86" fill="#555"/><rect x="366.79" y="73.12" width="1" height="12.88" fill="#3a3a3a"/><rect x="368.19" y="69.42" width="1" height="16.58" fill="#444"/><rect x="369.59" y="72.26" width="1" height="13.74" fill="#444"/><rect x="370.99" y="73.26" width="1" height="12.74" fill="#444"/><rect x="372.39" y="74.17" width="1" height="11.83" fill="#333"/><rect x="373.79" y="73.13" width="1" height="12.87" fill="#333"/><rect x="375.19" y="75.74" width="1" height="10.26" fill="#444"/><rect x="376.6" y="73.4" width="1" height="12.6" fill="#444"/><rect x="378" y="73.15" width="1" height="12.85" fill="#444"/><rect x="379.4" y="70.24" width="1" height="15.76" fill="#3a3a3a"/><rect x="380.8" y="71.19" width="1" height="14.81" fill="#444"/><rect x="382.2" y="74.91" width="1" height="11.09" fill="#444"/><rect x="383.6" y="71.1" width="1" height="14.9" fill="#4a4a4a"/><rect x="385" y="69.73" width="1" height="16.27" fill="#333"/><rect x="386.41" y="75.8" width="1" height="10.2" fill="#3a3a3a"/><rect x="387.81" y="71.17" width="1" height="14.83" fill="#3a3a3a"/><rect x="389.21" y="73.58" width="1" height="12.42" fill="#444"/><rect x="390.61" y="70.67" width="1" height="15.33" fill="#3a3a3a"/><rect x="392.01" y="73.75" width="1" height="12.25" fill="#333"/><rect x="393.41" y="69.71" width="1" height="16.29" fill="#444"/><rect x="394.81" y="75.64" width="1" height="10.36" fill="#3a3a3a"/><rect x="396.21" y="72.07" width="1" height="13.93" fill="#3a3a3a"/><rect x="397.62" y="69.56" width="1" height="16.44" fill="#3a3a3a"/><rect x="399.02" y="75.19" width="1" height="10.81" fill="#4a4a4a"/><rect x="400.42" y="70.89" width="1" height="15.11" fill="#333"/><rect x="401.82" y="69.24" width="1" height="16.76" fill="#3a3a3a"/><rect x="403.22" y="71.21" width="1" height="14.79" fill="#555"/><rect x="404.62" y="70.29" width="1" height="15.71" fill="#444"/><rect x="406.02" y="71.38" width="1" height="14.62" fill="#333"/><rect x="407.43" y="74.64" width="1" height="11.36" fill="#444"/><rect x="408.83" y="73.13" width="1" height="12.87" fill="#4a4a4a"/><rect x="410.23" y="71.04" width="1" height="14.96" fill="#444"/><rect x="411.63" y="72.25" width="1" height="13.75" fill="#4a4a4a"/><rect x="413.03" y="71.03" width="1" height="14.97" fill="#555"/><rect x="414.43" y="71.87" width="1" height="14.13" fill="#4a4a4a"/><rect x="415.83" y="70.09" width="1" height="15.91" fill="#333"/><rect x="417.23" y="72.34" width="1" height="13.66" fill="#555"/><rect x="418.64" y="75.91" width="1" height="10.09" fill="#4a4a4a"/><rect x="420.04" y="72.91" width="1" height="13.09" fill="#3a3a3a"/><rect x="421.44" y="69.23" width="1" height="16.77" fill="#4a4a4a"/><rect x="422.84" y="74.86" width="1" height="11.14" fill="#555"/><rect x="424.24" y="75.74" width="1" height="10.26" fill="#555"/><rect x="425.64" y="71.39" width="1" height="14.61" fill="#3a3a3a"/><rect x="427.04" y="75.03" width="1" height="10.97" fill="#555"/><rect x="428.45" y="75.8" width="1" height="10.2" fill="#333"/><rect x="429.85" y="74.67" width="1" height="11.33" fill="#333"/><rect x="431.25" y="69.25" width="1" height="16.75" fill="#555"/><rect x="432.65" y="75.47" width="1" height="10.53" fill="#4a4a4a"/><rect x="434.05" y="73.04" width="1" height="12.96" fill="#333"/><rect x="435.45" y="72.37" width="1" height="13.63" fill="#333"/><rect x="436.85" y="70.2" width="1" height="15.8" fill="#444"/><rect x="438.25" y="70.67" width="1" height="15.33" fill="#333"/><rect x="439.66" y="72.67" width="1" height="13.33" fill="#4a4a4a"/><rect x="441.06" y="69.37" width="1" height="16.63" fill="#555"/><rect x="442.46" y="69.8" width="1" height="16.2" fill="#3a3a3a"/><rect x="443.86" y="70.77" width="1" height="15.23" fill="#555"/><rect x="445.26" y="72.34" width="1" height="13.66" fill="#333"/><rect x="446.66" y="71.46" width="1" height="14.54" fill="#3a3a3a"/><rect x="448.06" y="69.86" width="1" height="16.14" fill="#333"/><rect x="449.47" y="70.2" width="1" height="15.8" fill="#444"/><rect x="450.87" y="75.45" width="1" height="10.55" fill="#3a3a3a"/><rect x="452.27" y="74.76" width="1" height="11.24" fill="#333"/><rect x="453.67" y="72.41" width="1" height="13.59" fill="#555"/><rect x="455.07" y="75.04" width="1" height="10.96" fill="#333"/><rect x="456.47" y="74.3" width="1" height="11.7" fill="#3a3a3a"/><rect x="457.87" y="70.88" width="1" height="15.12" fill="#555"/><rect x="459.27" y="72.64" width="1" height="13.36" fill="#333"/><rect x="460.68" y="72.31" width="1" height="13.69" fill="#333"/><rect x="462.08" y="75" width="1" height="11" fill="#3a3a3a"/><rect x="463.48" y="69.32" width="1" height="16.68" fill="#333"/><rect x="464.88" y="69.48" width="1" height="16.52" fill="#333"/><rect x="466.28" y="74.98" width="1" height="11.02" fill="#333"/><rect x="467.68" y="72.61" width="1" height="13.39" fill="#4a4a4a"/><rect x="469.08" y="71.21" width="1" height="14.79" fill="#444"/><rect x="470.49" y="69.5" width="1" height="16.5" fill="#4a4a4a"/><rect x="471.89" y="73.53" width="1" height="12.47" fill="#555"/><rect x="473.29" y="71.13" width="1" height="14.87" fill="#444"/><rect x="474.69" y="70.34" width="1" height="15.66" fill="#444"/><rect x="476.09" y="72" width="1" height="14" fill="#3a3a3a"/><rect x="477.49" y="72.89" width="1" height="13.11" fill="#4a4a4a"/><rect x="478.89" y="74.57" width="1" height="11.43" fill="#555"/><rect x="480.29" y="70.25" width="1" height="15.75" fill="#444"/><rect x="481.7" y="72.23" width="1" height="13.77" fill="#555"/><rect x="483.1" y="71.66" width="1" height="14.34" fill="#333"/><rect x="484.5" y="73.36" width="1" height="12.64" fill="#4a4a4a"/><path d="M318.2 26.7V2H446.9V50 M281.2 52.7V26.7H355.1V45.5 M279.7 62V52.7H283.9V60 M325.5 51.2V45.5H377.4V54.6 M318.2 57.5V51.2H333.2V63.3 M308.5 61V57.5H325.8V62 M298.3 62V59.4H318.2V57.5 M343 59.3V54.6H411.6V61.1 M335 63V59.3H352V62.5 M404.6 64V61.1H419V63.5 M439.3 72V50H453.6V58.1 M443.4 63.9V58.1H463.5V61.6 M457.8 65V61.6H478.5V64" stroke="#2e2e2e" stroke-width="0.75" fill="none"/><path d="M275.9 86V79.66H276.65V86M277.4 86V80.91H278.15V86M276.27 79.66V75.28H277.77V80.91M277.02 75.28V72.53H278.9V86M277.96 72.53V71.73H279.65V86M280.4 86V79.72H281.15V86M281.9 86V79.33H282.65V86M284.15 86V79.39H284.9V86M283.4 86V76H284.52V79.39M282.27 79.33V70.79H283.96V76M280.77 79.72V67.97H283.12V70.79M278.81 71.73V58.34H281.95V67.97M285.65 86V79.63H286.4V86M287.15 86V80.18H287.9V86M288.65 86V79.61H289.4V86M287.52 80.18V74.57H289.02V79.61M290.15 86V80.69H290.9V86M288.27 74.57V72.82H290.52V80.69M286.02 79.63V70.69H289.4V72.82M291.65 86V79.87H292.4V86M292.02 79.87V76.08H293.15V86M287.71 70.69V60.19H292.59V76.08M293.9 86V80.46H294.65V86M294.27 80.46V77.1H295.4V86M296.15 86V80.42H296.9V86M296.52 80.42V77.6H297.65V86M294.84 77.1V70.57H297.09V77.6M299.15 86V80.01H299.9V86M299.52 80.01V76.44H300.65V86M298.4 86V72.7H300.09V76.44M301.4 86V80.75H302.15V86M301.77 80.75V77.96H302.9V86M299.24 72.7V68.01H302.34V77.96M303.65 86V79.45H304.4V86M305.9 86V80.87H306.65V86M305.15 86V77.53H306.27V80.87M304.02 79.45V70.76H305.71V77.53M307.4 86V80.54H308.15V86M304.87 70.76V68.01H307.77V80.54M308.9 86V79.46H309.65V86M311.15 86V79.86H311.9V86M311.52 79.86V77.08H312.65V86M310.4 86V75.34H312.09V77.08M309.27 79.46V71.52H311.24V75.34M306.32 68.01V66.3H310.26V71.52M300.79 68.01V63.71H308.29V66.3M295.96 70.57V62.91H304.54V63.71M313.4 86V79.59H314.15V86M314.9 86V80.85H315.65V86M313.77 79.59V73.27H315.27V80.85M316.4 86V79.49H317.15V86M318.65 86V80.53H319.4V86M317.9 86V75.46H319.02V80.53M316.77 79.49V73.6H318.46V75.46M320.9 86V79.58H321.65V86M320.15 86V76.11H321.27V79.58M322.4 86V79.97H323.15V86M322.77 79.97V77.9H323.9V86M320.71 76.11V72.61H323.34V77.9M317.62 73.6V64.16H322.02V72.61M314.52 73.27V56.3H319.82V64.16M326.15 86V80.41H326.9V86M325.4 86V76.14H326.52V80.41M324.65 86V73.55H325.96V76.14M329.15 86V80.82H329.9V86M329.52 80.82V76.33H330.65V86M328.4 86V74.59H330.09V76.33M327.65 86V71.2H329.24V74.59M331.4 86V80.71H332.15V86M328.45 71.2V69.87H331.77V80.71M332.9 86V79.83H333.65V86M330.11 69.87V67.99H333.27V79.83M325.31 73.55V66.42H331.69V67.99M334.4 86V79.74H335.15V86M335.9 86V79.73H336.65V86M337.4 86V80.84H338.15V86M336.27 79.73V73.43H337.77V80.84M334.77 79.74V72.15H337.02V73.43M338.9 86V79.56H339.65V86M339.27 79.56V76.95H340.4V86M339.84 76.95V73.11H341.15V86M335.9 72.15V67.05H340.49V73.11M341.9 86V79.96H342.65V86M342.27 79.96V75.7H343.4V86M338.2 67.05V63.75H342.84V75.7M328.5 66.42V62.22H340.52V63.75M344.9 86V79.97H345.65V86M344.15 86V76.57H345.27V79.97M346.4 86V79.38H347.15V86M346.77 79.38V75.55H347.9V86M344.71 76.57V69.15H347.34V75.55M349.4 86V79.33H350.15V86M350.9 86V80.76H351.65V86M349.77 79.33V74.72H351.27V80.76M350.52 74.72V71.51H352.4V86M348.65 86V70.71H351.46V71.51M353.15 86V79.71H353.9V86M353.52 79.71V76.54H354.65V86M350.06 70.71V68.43H354.09V76.54M346.02 69.15V58.11H352.07V68.43M356.9 86V80.49H357.65V86M356.15 86V76.44H357.27V80.49M355.4 86V75.64H356.71V76.44M356.06 75.64V72.48H358.4V86M359.9 86V80.25H360.65V86M359.15 86V76.66H360.27V80.25M357.23 72.48V60.44H359.71V76.66M361.4 86V79.5H362.15V86M361.77 79.5V76.75H362.9V86M363.65 86V80.54H364.4V86M364.02 80.54V76.19H365.15V86M364.59 76.19V73.42H365.9V86M367.4 86V79.94H368.15V86M366.65 86V76.27H367.77V79.94M365.24 73.42V69.55H367.21V76.27M362.34 76.75V65.79H366.23V69.55M369.65 86V80.04H370.4V86M368.9 86V77.17H370.02V80.04M371.15 86V79.41H371.9V86M373.4 86V79.39H374.15V86M372.65 86V76.08H373.77V79.39M371.52 79.41V72.77H373.21V76.08M369.46 77.17V66.02H372.37V72.77M374.9 86V80.92H375.65V86M370.92 66.02V64.02H375.27V80.92M364.28 65.79V58.08H373.1V64.02M376.4 86V80.1H377.15V86M377.9 86V80.29H378.65V86M379.4 86V80.19H380.15V86M378.27 80.29V73.56H379.77V80.19M380.9 86V80.68H381.65V86M379.02 73.56V70.79H381.27V80.68M382.4 86V80.55H383.15V86M380.15 70.79V68.96H382.77V80.55M376.77 80.1V68.16H381.46V68.96M383.9 86V79.36H384.65V86M386.15 86V80H386.9V86M385.4 86V75.74H386.52V80M388.4 86V80.21H389.15V86M387.65 86V77.03H388.77V80.21M385.96 75.74V72.01H388.21V77.03M384.27 79.36V70.4H387.09V72.01M379.12 68.16V57.98H385.68V70.4M389.9 86V80.44H390.65V86M390.27 80.44V76.87H391.4V86M390.84 76.87V75.33H392.15V86M392.9 86V79.59H393.65V86M395.15 86V80.13H395.9V86M394.4 86V75.45H395.52V80.13M393.27 79.59V71.77H394.96V75.45M396.65 86V80.14H397.4V86M397.02 80.14V77.78H398.15V86M394.12 71.77V67.98H397.59V77.78M398.9 86V80.69H399.65V86M400.4 86V80.69H401.15V86M399.27 80.69V74.36H400.77V80.69M395.85 67.98V66.43H400.02V74.36M402.65 86V80.63H403.4V86M403.02 80.63V75.91H404.15V86M401.9 86V74.02H403.59V75.91M397.94 66.43V63.58H402.74V74.02M391.49 75.33V62.78H400.34V63.58M405.65 86V79.99H406.4V86M404.9 86V77.05H406.02V79.99M407.15 86V80.37H407.9V86M405.46 77.05V72.85H407.52V80.37M395.92 62.78V56.18H406.49V72.85M408.65 86V79.82H409.4V86M410.9 86V79.6H411.65V86M410.15 86V76.11H411.27V79.6M409.02 79.82V70.76H410.71V76.11M412.4 86V80.65H413.15V86M412.77 80.65V77.07H413.9V86M415.4 86V80.07H416.15V86M415.77 80.07V75.99H416.9V86M414.65 86V73.03H416.34V75.99M417.65 86V79.84H418.4V86M415.49 73.03V72.23H418.02V79.84M419.15 86V80.91H419.9V86M419.52 80.91V75.57H420.65V86M421.4 86V79.96H422.15V86M421.77 79.96V75.58H422.9V86M420.09 75.57V69.36H422.34V75.58M416.76 72.23V64.76H421.21V69.36M413.34 77.07V62.82H418.99V64.76M409.87 70.76V56.27H416.16V62.82M424.4 86V79.7H425.15V86M423.65 86V76.66H424.77V79.7M425.9 86V79.85H426.65V86M427.4 86V79.47H428.15V86M427.77 79.47V75.76H428.9V86M426.27 79.85V73.34H428.34V75.76M429.65 86V79.97H430.4V86M427.31 73.34V70.48H430.02V79.97M424.21 76.66V66.49H428.67V70.48M431.15 86V79.74H431.9V86M431.52 79.74V76.92H432.65V86M426.44 66.49V56.46H432.09V76.92M433.4 86V80.55H434.15V86M435.65 86V80.24H436.4V86M434.9 86V76.05H436.02V80.24M437.15 86V79.89H437.9V86M435.46 76.05V72.65H437.52V79.89M433.77 80.55V67.73H436.49V72.65M439.4 86V79.61H440.15V86M438.65 86V76.6H439.77V79.61M440.9 86V79.33H441.65V86M441.27 79.33V76.09H442.4V86M441.84 76.09V74.39H443.15V86M439.21 76.6V69.45H442.49V74.39M435.13 67.73V62.42H440.85V69.45M445.4 86V80.03H446.15V86M444.65 86V77.12H445.77V80.03M443.9 86V75.78H445.21V77.12M446.9 86V79.46H447.65V86M444.56 75.78V70.6H447.27V79.46M449.15 86V80.52H449.9V86M448.4 86V76.02H449.52V80.52M445.92 70.6V67.6H448.96V76.02M450.65 86V79.75H451.4V86M452.15 86V80.19H452.9V86M451.02 79.75V74.3H452.52V80.19M447.44 67.6V62.09H451.77V74.3M454.4 86V79.72H455.15V86M453.65 86V77.33H454.77V79.72M454.21 77.33V74.79H455.9V86M457.4 86V79.94H458.15V86M456.65 86V75.8H457.77V79.94M455.06 74.79V70.44H457.21V75.8M449.61 62.09V55.26H456.13V70.44M459.65 86V79.81H460.4V86M458.9 86V77.48H460.02V79.81M461.9 86V80.9H462.65V86M462.27 80.9V76.21H463.4V86M461.15 86V75.41H462.84V76.21M459.46 77.48V70.26H461.99V75.41M464.15 86V80.33H464.9V86M464.52 80.33V76.84H465.65V86M466.4 86V80.13H467.15V86M465.09 76.84V71.81H466.77V80.13M460.73 70.26V63.72H465.93V71.81M468.65 86V79.66H469.4V86M467.9 86V76.8H469.02V79.66M470.15 86V80.11H470.9V86M468.46 76.8V72.94H470.52V80.11M471.65 86V80.79H472.4V86M472.02 80.79V77.4H473.15V86M475.4 86V80.4H476.15V86M474.65 86V75.93H475.77V80.4M473.9 86V73.98H475.21V75.93M472.59 77.4V68.36H474.56V73.98M469.49 72.94V66.58H473.57V68.36M463.33 63.72V56.66H471.53V66.58M477.65 86V80.05H478.4V86M476.9 86V77.94H478.02V80.05M480.65 86V80.9H481.4V86M479.9 86V76.18H481.02V80.9M479.15 86V73.84H480.46V76.18M482.15 86V80.74H482.9V86M479.81 73.84V72.24H482.52V80.74M477.46 77.94V58.65H481.17V72.24M484.4 86V80H485.15V86M483.65 86V55.77H484.77V80" stroke="#262626" stroke-width="0.6" fill="none"/><rect x="275.5" y="86" width="1.05" height="9.2" fill="#f4c20d"/><rect x="276.5" y="86" width="1.55" height="9.2" fill="#f4c20d"/><rect x="278" y="86" width="2.05" height="9.2" fill="#f4c20d"/><rect x="280" y="86" width="1.05" height="9.2" fill="#f4c20d"/><rect x="281" y="86" width="1.55" height="9.2" fill="#f4c20d"/><rect x="282.5" y="86" width="2.05" height="9.2" fill="#f4c20d"/><rect x="284.5" y="86" width="1.55" height="9.2" fill="#f4c20d"/><rect x="286" y="86" width="1.55" height="9.2" fill="#1c1c1c"/><rect x="287.5" y="86" width="1.55" height="9.2" fill="#f4c20d"/><rect x="289" y="86" width="1.05" height="9.2" fill="#1c1c1c"/><rect x="290" y="86" width="2.05" height="9.2" fill="#f4c20d"/><rect x="292" y="86" width="1.55" height="9.2" fill="#f4c20d"/><rect x="293.5" y="86" width="1.55" height="9.2" fill="#1c1c1c"/><rect x="295" y="86" width="2.05" height="9.2" fill="#f4c20d"/><rect x="297" y="86" width="0.85" height="9.2" fill="#f4c20d"/><rect x="297.8" y="86" width="1.55" height="9.2" fill="#f4c20d"/><rect x="299.3" y="86" width="0.85" height="9.2" fill="#f4c20d"/><rect x="300.1" y="86" width="2.05" height="9.2" fill="#f4c20d"/><rect x="302.1" y="86" width="2.05" height="9.2" fill="#f4c20d"/><rect x="304.1" y="86" width="1.05" height="9.2" fill="#1c1c1c"/><rect x="305.1" y="86" width="1.05" height="9.2" fill="#1c1c1c"/><rect x="306.1" y="86" width="1.55" height="9.2" fill="#1c1c1c"/><rect x="307.6" y="86" width="1.55" height="9.2" fill="#1c1c1c"/><rect x="309.1" y="86" width="1.05" height="9.2" fill="#1c1c1c"/><rect x="310.1" y="86" width="1.55" height="9.2" fill="#f4c20d"/><rect x="311.6" y="86" width="1.55" height="9.2" fill="#1c1c1c"/><rect x="313.1" y="86" width="1.25" height="9.2" fill="#1c1c1c"/><rect x="314.3" y="86" width="1.55" height="9.2" fill="#f4c20d"/><rect x="315.8" y="86" width="1.55" height="9.2" fill="#f4c20d"/><rect x="317.3" y="86" width="2.05" height="9.2" fill="#f4c20d"/><rect x="319.3" y="86" width="1.25" height="9.2" fill="#1c1c1c"/><rect x="320.5" y="86" width="1.55" height="9.2" fill="#f4c20d"/><rect x="322" y="86" width="1.05" height="9.2" fill="#f4c20d"/><rect x="323" y="86" width="1.25" height="9.2" fill="#f4c20d"/><rect x="324.2" y="86" width="1.55" height="9.2" fill="#1c1c1c"/><rect x="325.7" y="86" width="1.55" height="9.2" fill="#1c1c1c"/><rect x="327.2" y="86" width="1.55" height="9.2" fill="#f4c20d"/><rect x="328.7" y="86" width="1.05" height="9.2" fill="#1c1c1c"/><rect x="329.7" y="86" width="1.25" height="9.2" fill="#f4c20d"/><rect x="330.9" y="86" width="1.25" height="9.2" fill="#f4c20d"/><rect x="332.1" y="86" width="1.25" height="9.2" fill="#f4c20d"/><rect x="333.3" y="86" width="2.05" height="9.2" fill="#1c1c1c"/><rect x="335.3" y="86" width="1.05" height="9.2" fill="#1c1c1c"/><rect x="336.3" y="86" width="0.85" height="9.2" fill="#f4c20d"/><rect x="337.1" y="86" width="2.05" height="9.2" fill="#1c1c1c"/><rect x="339.1" y="86" width="0.85" height="9.2" fill="#f4c20d"/><rect x="339.9" y="86" width="1.05" height="9.2" fill="#f4c20d"/><rect x="340.9" y="86" width="0.85" height="9.2" fill="#1c1c1c"/><rect x="341.7" y="86" width="1.55" height="9.2" fill="#f4c20d"/><rect x="343.2" y="86" width="1.05" height="9.2" fill="#1c1c1c"/><rect x="344.2" y="86" width="1.05" height="9.2" fill="#f4c20d"/><rect x="345.2" y="86" width="1.55" height="9.2" fill="#f4c20d"/><rect x="346.7" y="86" width="1.55" height="9.2" fill="#f4c20d"/><rect x="348.2" y="86" width="0.85" height="9.2" fill="#f4c20d"/><rect x="349" y="86" width="0.85" height="9.2" fill="#f4c20d"/><rect x="349.8" y="86" width="2.05" height="9.2" fill="#f4c20d"/><rect x="351.8" y="86" width="1.55" height="9.2" fill="#f4c20d"/><rect x="353.3" y="86" width="1.05" height="9.2" fill="#1c1c1c"/><rect x="354.3" y="86" width="1.55" height="9.2" fill="#f4c20d"/><rect x="355.8" y="86" width="1.05" height="9.2" fill="#1c1c1c"/><rect x="356.8" y="86" width="0.85" height="9.2" fill="#f4c20d"/><rect x="357.6" y="86" width="1.05" height="9.2" fill="#f4c20d"/><rect x="358.6" y="86" width="2.05" height="9.2" fill="#1c1c1c"/><rect x="360.6" y="86" width="2.05" height="9.2" fill="#f4c20d"/><rect x="362.6" y="86" width="1.25" height="9.2" fill="#1c1c1c"/><rect x="363.8" y="86" width="0.85" height="9.2" fill="#1c1c1c"/><rect x="364.6" y="86" width="1.55" height="9.2" fill="#f4c20d"/><rect x="366.1" y="86" width="1.55" height="9.2" fill="#f4c20d"/><rect x="367.6" y="86" width="1.55" height="9.2" fill="#f4c20d"/><rect x="369.1" y="86" width="1.25" height="9.2" fill="#1c1c1c"/><rect x="370.3" y="86" width="1.55" height="9.2" fill="#f4c20d"/><rect x="371.8" y="86" width="1.05" height="9.2" fill="#1c1c1c"/><rect x="372.8" y="86" width="1.55" height="9.2" fill="#1c1c1c"/><rect x="374.3" y="86" width="1.05" height="9.2" fill="#f4c20d"/><rect x="375.3" y="86" width="0.85" height="9.2" fill="#1c1c1c"/><rect x="376.1" y="86" width="1.55" height="9.2" fill="#1c1c1c"/><rect x="377.6" y="86" width="2.05" height="9.2" fill="#f4c20d"/><rect x="379.6" y="86" width="2.05" height="9.2" fill="#f4c20d"/><rect x="381.6" y="86" width="1.55" height="9.2" fill="#1c1c1c"/><rect x="383.1" y="86" width="1.25" height="9.2" fill="#f4c20d"/><rect x="384.3" y="86" width="0.85" height="9.2" fill="#f4c20d"/><rect x="385.1" y="86" width="1.55" height="9.2" fill="#f4c20d"/><rect x="386.6" y="86" width="1.05" height="9.2" fill="#1c1c1c"/><rect x="387.6" y="86" width="2.05" height="9.2" fill="#1c1c1c"/><rect x="389.6" y="86" width="0.85" height="9.2" fill="#1c1c1c"/><rect x="390.4" y="86" width="1.55" height="9.2" fill="#f4c20d"/><rect x="391.9" y="86" width="2.05" height="9.2" fill="#1c1c1c"/><rect x="393.9" y="86" width="1.55" height="9.2" fill="#1c1c1c"/><rect x="395.4" y="86" width="1.55" height="9.2" fill="#f4c20d"/><rect x="396.9" y="86" width="1.05" height="9.2" fill="#f4c20d"/><rect x="397.9" y="86" width="1.55" height="9.2" fill="#1c1c1c"/><rect x="399.4" y="86" width="2.05" height="9.2" fill="#f4c20d"/><rect x="401.4" y="86" width="1.25" height="9.2" fill="#1c1c1c"/><rect x="402.6" y="86" width="0.85" height="9.2" fill="#1c1c1c"/><rect x="403.4" y="86" width="1.55" height="9.2" fill="#f4c20d"/><rect x="404.9" y="86" width="1.25" height="9.2" fill="#f4c20d"/><rect x="406.1" y="86" width="1.55" height="9.2" fill="#1c1c1c"/><rect x="407.6" y="86" width="1.25" height="9.2" fill="#1c1c1c"/><rect x="408.8" y="86" width="2.05" height="9.2" fill="#1c1c1c"/><rect x="410.8" y="86" width="1.55" height="9.2" fill="#f4c20d"/><rect x="412.3" y="86" width="1.25" height="9.2" fill="#1c1c1c"/><rect x="413.5" y="86" width="1.25" height="9.2" fill="#1c1c1c"/><rect x="414.7" y="86" width="0.85" height="9.2" fill="#f4c20d"/><rect x="415.5" y="86" width="1.25" height="9.2" fill="#f4c20d"/><rect x="416.7" y="86" width="1.55" height="9.2" fill="#1c1c1c"/><rect x="418.2" y="86" width="1.25" height="9.2" fill="#f4c20d"/><rect x="419.4" y="86" width="1.55" height="9.2" fill="#1c1c1c"/><rect x="420.9" y="86" width="2.05" height="9.2" fill="#f4c20d"/><rect x="422.9" y="86" width="2.05" height="9.2" fill="#1c1c1c"/><rect x="424.9" y="86" width="2.05" height="9.2" fill="#1c1c1c"/><rect x="426.9" y="86" width="1.25" height="9.2" fill="#1c1c1c"/><rect x="428.1" y="86" width="1.05" height="9.2" fill="#f4c20d"/><rect x="429.1" y="86" width="1.55" height="9.2" fill="#f4c20d"/><rect x="430.6" y="86" width="0.85" height="9.2" fill="#f4c20d"/><rect x="431.4" y="86" width="0.85" height="9.2" fill="#f4c20d"/><rect x="432.2" y="86" width="1.25" height="9.2" fill="#1c1c1c"/><rect x="433.4" y="86" width="0.85" height="9.2" fill="#1c1c1c"/><rect x="434.2" y="86" width="1.25" height="9.2" fill="#1c1c1c"/><rect x="435.4" y="86" width="1.25" height="9.2" fill="#1c1c1c"/><rect x="436.6" y="86" width="1.55" height="9.2" fill="#f4c20d"/><rect x="438.1" y="86" width="2.05" height="9.2" fill="#f4c20d"/><rect x="440.1" y="86" width="1.25" height="9.2" fill="#f4c20d"/><rect x="441.3" y="86" width="1.05" height="9.2" fill="#1c1c1c"/><rect x="442.3" y="86" width="2.05" height="9.2" fill="#1c1c1c"/><rect x="444.3" y="86" width="1.05" height="9.2" fill="#1c1c1c"/><rect x="445.3" y="86" width="1.55" height="9.2" fill="#1c1c1c"/><rect x="446.8" y="86" width="1.05" height="9.2" fill="#f4c20d"/><rect x="447.8" y="86" width="0.85" height="9.2" fill="#1c1c1c"/><rect x="448.6" y="86" width="1.55" height="9.2" fill="#f4c20d"/><rect x="450.1" y="86" width="1.05" height="9.2" fill="#1c1c1c"/><rect x="451.1" y="86" width="1.55" height="9.2" fill="#1c1c1c"/><rect x="452.6" y="86" width="1.05" height="9.2" fill="#f4c20d"/><rect x="453.6" y="86" width="1.05" height="9.2" fill="#1c1c1c"/><rect x="454.6" y="86" width="0.85" height="9.2" fill="#f4c20d"/><rect x="455.4" y="86" width="1.55" height="9.2" fill="#1c1c1c"/><rect x="456.9" y="86" width="1.25" height="9.2" fill="#1c1c1c"/><rect x="458.1" y="86" width="0.85" height="9.2" fill="#f4c20d"/><rect x="458.9" y="86" width="1.25" height="9.2" fill="#1c1c1c"/><rect x="460.1" y="86" width="2.05" height="9.2" fill="#f4c20d"/><rect x="462.1" y="86" width="0.85" height="9.2" fill="#1c1c1c"/><rect x="462.9" y="86" width="0.85" height="9.2" fill="#1c1c1c"/><rect x="463.7" y="86" width="2.05" height="9.2" fill="#1c1c1c"/><rect x="465.7" y="86" width="0.85" height="9.2" fill="#1c1c1c"/><rect x="466.5" y="86" width="2.05" height="9.2" fill="#f4c20d"/><rect x="468.5" y="86" width="1.25" height="9.2" fill="#f4c20d"/><rect x="469.7" y="86" width="2.05" height="9.2" fill="#f4c20d"/><rect x="471.7" y="86" width="1.25" height="9.2" fill="#f4c20d"/><rect x="472.9" y="86" width="0.85" height="9.2" fill="#1c1c1c"/><rect x="473.7" y="86" width="1.55" height="9.2" fill="#f4c20d"/><rect x="475.2" y="86" width="1.05" height="9.2" fill="#f4c20d"/><rect x="476.2" y="86" width="1.55" height="9.2" fill="#f4c20d"/><rect x="477.7" y="86" width="2.05" height="9.2" fill="#1c1c1c"/><rect x="479.7" y="86" width="0.85" height="9.2" fill="#1c1c1c"/><rect x="480.5" y="86" width="0.85" height="9.2" fill="#f4c20d"/><rect x="481.3" y="86" width="1.05" height="9.2" fill="#f4c20d"/><rect x="482.3" y="86" width="1.05" height="9.2" fill="#f4c20d"/><rect x="483.3" y="86" width="0.85" height="9.2" fill="#f4c20d"/><rect x="484.1" y="86" width="1.65" height="9.2" fill="#f4c20d"/><path fill="#b4d8e4" d="M275.5 96h1.45v9.58h-1.45zM474.49 162.72h1.45v9.58h-1.45zM289.51 172.25h1.45v9.58h-1.45zM303.53 200.85h1.45v9.58h-1.45zM428.25 200.85h1.45v9.58h-1.45zM311.93 210.38h1.45v9.58h-1.45zM328.75 210.38h1.45v9.58h-1.45zM380.6 238.98h1.45v9.58h-1.45zM390.41 238.98h1.45v9.58h-1.45zM447.86 238.98h1.45v9.58h-1.45zM454.87 238.98h1.45v9.58h-1.45zM391.81 248.51h1.45v9.58h-1.45zM426.84 248.51h1.45v9.58h-1.45zM303.53 258.04h1.45v9.58h-1.45zM328.75 258.04h1.45v9.58h-1.45zM331.55 258.04h1.45v9.58h-1.45zM341.36 267.57h1.45v9.58h-1.45zM398.82 267.57h1.45v9.58h-1.45zM342.76 277.1h1.45v9.58h-1.45zM351.17 277.1h1.45v9.58h-1.45zM445.06 286.64h1.45v9.58h-1.45zM461.88 296.17h1.45v9.58h-1.45zM477.29 296.17h1.45v9.58h-1.45z"/><path fill="#cce4f0" d="M276.9 96h1.45v9.58h-1.45zM289.51 96h1.45v9.58h-1.45zM278.3 105.53h1.45v9.58h-1.45zM282.51 134.13h1.45v9.58h-1.45zM283.91 143.66h1.45v9.58h-1.45zM380.6 153.19h1.45v9.58h-1.45zM382 153.19h1.45v9.58h-1.45zM429.65 153.19h1.45v9.58h-1.45zM279.7 162.72h1.45v9.58h-1.45zM296.52 162.72h1.45v9.58h-1.45zM363.78 162.72h1.45v9.58h-1.45zM426.84 162.72h1.45v9.58h-1.45zM311.93 200.85h1.45v9.58h-1.45zM317.54 200.85h1.45v9.58h-1.45zM323.15 200.85h1.45v9.58h-1.45zM330.15 200.85h1.45v9.58h-1.45zM390.41 200.85h1.45v9.58h-1.45zM286.71 210.38h1.45v9.58h-1.45zM314.74 210.38h1.45v9.58h-1.45zM320.34 210.38h1.45v9.58h-1.45zM321.74 210.38h1.45v9.58h-1.45zM335.76 210.38h1.45v9.58h-1.45zM366.59 210.38h1.45v9.58h-1.45zM367.99 210.38h1.45v9.58h-1.45zM386.21 210.38h1.45v9.58h-1.45zM393.21 210.38h1.45v9.58h-1.45zM428.25 210.38h1.45v9.58h-1.45zM429.65 210.38h1.45v9.58h-1.45zM432.45 210.38h1.45v9.58h-1.45zM433.85 210.38h1.45v9.58h-1.45zM390.41 219.91h1.45v9.58h-1.45zM428.25 219.91h1.45v9.58h-1.45zM292.32 229.45h1.45v9.58h-1.45zM296.52 229.45h1.45v9.58h-1.45zM306.33 229.45h1.45v9.58h-1.45zM401.62 229.45h1.45v9.58h-1.45zM286.71 238.98h1.45v9.58h-1.45zM300.72 238.98h1.45v9.58h-1.45zM314.74 238.98h1.45v9.58h-1.45zM316.14 238.98h1.45v9.58h-1.45zM325.95 238.98h1.45v9.58h-1.45zM335.76 238.98h1.45v9.58h-1.45zM394.61 238.98h1.45v9.58h-1.45zM426.84 238.98h1.45v9.58h-1.45zM429.65 238.98h1.45v9.58h-1.45zM286.71 248.51h1.45v9.58h-1.45zM317.54 248.51h1.45v9.58h-1.45zM338.56 248.51h1.45v9.58h-1.45zM356.78 248.51h1.45v9.58h-1.45zM358.18 248.51h1.45v9.58h-1.45zM359.58 248.51h1.45v9.58h-1.45zM412.83 248.51h1.45v9.58h-1.45zM285.31 258.04h1.45v9.58h-1.45zM324.55 258.04h1.45v9.58h-1.45zM334.36 258.04h1.45v9.58h-1.45zM349.77 258.04h1.45v9.58h-1.45zM353.97 258.04h1.45v9.58h-1.45zM386.21 258.04h1.45v9.58h-1.45zM397.42 258.04h1.45v9.58h-1.45zM295.12 267.57h1.45v9.58h-1.45zM302.13 267.57h1.45v9.58h-1.45zM325.95 267.57h1.45v9.58h-1.45zM330.15 267.57h1.45v9.58h-1.45zM331.55 267.57h1.45v9.58h-1.45zM285.31 277.1h1.45v9.58h-1.45zM331.55 277.1h1.45v9.58h-1.45zM398.82 277.1h1.45v9.58h-1.45zM410.03 277.1h1.45v9.58h-1.45zM426.84 277.1h1.45v9.58h-1.45zM432.45 277.1h1.45v9.58h-1.45zM433.85 277.1h1.45v9.58h-1.45zM466.08 277.1h1.45v9.58h-1.45zM438.05 286.64h1.45v9.58h-1.45zM477.29 286.64h1.45v9.58h-1.45zM445.06 296.17h1.45v9.58h-1.45zM471.69 296.17h1.45v9.58h-1.45zM478.69 296.17h1.45v9.58h-1.45z"/><path fill="#d8eaf0" d="M278.3 96h1.45v9.58h-1.45zM281.11 96h1.45v9.58h-1.45zM276.9 105.53h1.45v9.58h-1.45zM282.51 115.06h1.45v9.58h-1.45zM293.72 115.06h1.45v9.58h-1.45zM303.53 115.06h1.45v9.58h-1.45zM279.7 124.6h1.45v9.58h-1.45zM276.9 134.13h1.45v9.58h-1.45zM290.91 143.66h1.45v9.58h-1.45zM275.5 153.19h1.45v9.58h-1.45zM360.98 153.19h1.45v9.58h-1.45zM426.84 153.19h1.45v9.58h-1.45zM292.32 162.72h1.45v9.58h-1.45zM380.6 162.72h1.45v9.58h-1.45zM382 162.72h1.45v9.58h-1.45zM426.84 172.25h1.45v9.58h-1.45zM286.71 181.79h1.45v9.58h-1.45zM320.34 200.85h1.45v9.58h-1.45zM321.74 200.85h1.45v9.58h-1.45zM324.55 200.85h1.45v9.58h-1.45zM332.95 200.85h1.45v9.58h-1.45zM351.17 200.85h1.45v9.58h-1.45zM339.96 210.38h1.45v9.58h-1.45zM411.43 210.38h1.45v9.58h-1.45zM311.93 219.91h1.45v9.58h-1.45zM313.34 219.91h1.45v9.58h-1.45zM351.17 219.91h1.45v9.58h-1.45zM383.4 219.91h1.45v9.58h-1.45zM384.8 219.91h1.45v9.58h-1.45zM400.22 219.91h1.45v9.58h-1.45zM418.44 219.91h1.45v9.58h-1.45zM286.71 229.45h1.45v9.58h-1.45zM300.72 229.45h1.45v9.58h-1.45zM328.75 229.45h1.45v9.58h-1.45zM323.15 238.98h1.45v9.58h-1.45zM366.59 238.98h1.45v9.58h-1.45zM367.99 238.98h1.45v9.58h-1.45zM382 238.98h1.45v9.58h-1.45zM412.83 238.98h1.45v9.58h-1.45zM417.03 238.98h1.45v9.58h-1.45zM422.64 238.98h1.45v9.58h-1.45zM431.05 238.98h1.45v9.58h-1.45zM450.67 238.98h1.45v9.58h-1.45zM466.08 238.98h1.45v9.58h-1.45zM473.09 238.98h1.45v9.58h-1.45zM474.49 238.98h1.45v9.58h-1.45zM478.69 238.98h1.45v9.58h-1.45zM307.73 248.51h1.45v9.58h-1.45zM346.97 248.51h1.45v9.58h-1.45zM348.37 248.51h1.45v9.58h-1.45zM351.17 248.51h1.45v9.58h-1.45zM362.38 248.51h1.45v9.58h-1.45zM384.8 248.51h1.45v9.58h-1.45zM421.24 248.51h1.45v9.58h-1.45zM422.64 248.51h1.45v9.58h-1.45zM295.12 258.04h1.45v9.58h-1.45zM302.13 258.04h1.45v9.58h-1.45zM323.15 258.04h1.45v9.58h-1.45zM369.39 258.04h1.45v9.58h-1.45zM383.4 258.04h1.45v9.58h-1.45zM393.21 258.04h1.45v9.58h-1.45zM394.61 258.04h1.45v9.58h-1.45zM412.83 258.04h1.45v9.58h-1.45zM431.05 258.04h1.45v9.58h-1.45zM311.93 267.57h1.45v9.58h-1.45zM313.34 267.57h1.45v9.58h-1.45zM338.56 267.57h1.45v9.58h-1.45zM356.78 267.57h1.45v9.58h-1.45zM358.18 267.57h1.45v9.58h-1.45zM359.58 267.57h1.45v9.58h-1.45zM365.19 267.57h1.45v9.58h-1.45zM389.01 267.57h1.45v9.58h-1.45zM410.03 267.57h1.45v9.58h-1.45zM439.46 267.57h1.45v9.58h-1.45zM463.28 267.57h1.45v9.58h-1.45zM307.73 277.1h1.45v9.58h-1.45zM339.96 277.1h1.45v9.58h-1.45zM346.97 277.1h1.45v9.58h-1.45zM348.37 277.1h1.45v9.58h-1.45zM373.59 277.1h1.45v9.58h-1.45zM379.2 277.1h1.45v9.58h-1.45zM431.05 277.1h1.45v9.58h-1.45zM478.69 277.1h1.45v9.58h-1.45zM440.86 286.64h1.45v9.58h-1.45zM456.27 286.64h1.45v9.58h-1.45zM457.67 286.64h1.45v9.58h-1.45zM447.86 296.17h1.45v9.58h-1.45z"/><path fill="#f6f6f6" d="M279.7 96h1.45v9.58h-1.45zM290.91 96h1.45v9.58h-1.45zM311.93 96h1.45v9.58h-1.45zM353.97 96h1.45v9.58h-1.45zM338.56 105.53h1.45v9.58h-1.45zM370.79 105.53h1.45v9.58h-1.45zM389.01 105.53h1.45v9.58h-1.45zM278.3 115.06h1.45v9.58h-1.45zM355.38 115.06h1.45v9.58h-1.45zM286.71 124.6h1.45v9.58h-1.45zM299.32 124.6h1.45v9.58h-1.45zM355.38 124.6h1.45v9.58h-1.45zM376.4 124.6h1.45v9.58h-1.45zM377.8 124.6h1.45v9.58h-1.45zM288.11 134.13h1.45v9.58h-1.45zM299.32 134.13h1.45v9.58h-1.45zM302.13 134.13h1.45v9.58h-1.45zM311.93 134.13h1.45v9.58h-1.45zM345.57 134.13h1.45v9.58h-1.45zM355.38 134.13h1.45v9.58h-1.45zM373.59 134.13h1.45v9.58h-1.45zM374.99 134.13h1.45v9.58h-1.45zM386.21 134.13h1.45v9.58h-1.45zM286.71 143.66h1.45v9.58h-1.45zM302.13 143.66h1.45v9.58h-1.45zM353.97 143.66h1.45v9.58h-1.45zM283.91 153.19h1.45v9.58h-1.45zM285.31 153.19h1.45v9.58h-1.45zM299.32 153.19h1.45v9.58h-1.45zM300.72 153.19h1.45v9.58h-1.45zM309.13 153.19h1.45v9.58h-1.45zM313.34 153.19h1.45v9.58h-1.45zM334.36 153.19h1.45v9.58h-1.45zM338.56 153.19h1.45v9.58h-1.45zM353.97 153.19h1.45v9.58h-1.45zM386.21 153.19h1.45v9.58h-1.45zM418.44 153.19h1.45v9.58h-1.45zM283.91 162.72h1.45v9.58h-1.45zM285.31 162.72h1.45v9.58h-1.45zM300.72 162.72h1.45v9.58h-1.45zM309.13 162.72h1.45v9.58h-1.45zM324.55 162.72h1.45v9.58h-1.45zM330.15 162.72h1.45v9.58h-1.45zM391.81 162.72h1.45v9.58h-1.45zM467.48 162.72h1.45v9.58h-1.45zM468.88 162.72h1.45v9.58h-1.45zM304.93 172.25h1.45v9.58h-1.45zM341.36 172.25h1.45v9.58h-1.45zM276.9 181.79h1.45v9.58h-1.45zM362.38 181.79h1.45v9.58h-1.45zM384.8 181.79h1.45v9.58h-1.45zM398.82 181.79h1.45v9.58h-1.45zM466.08 181.79h1.45v9.58h-1.45zM346.97 200.85h1.45v9.58h-1.45zM348.37 200.85h1.45v9.58h-1.45zM356.78 200.85h1.45v9.58h-1.45zM358.18 200.85h1.45v9.58h-1.45zM410.03 200.85h1.45v9.58h-1.45zM421.24 200.85h1.45v9.58h-1.45zM426.84 200.85h1.45v9.58h-1.45zM352.57 210.38h1.45v9.58h-1.45zM331.55 219.91h1.45v9.58h-1.45zM341.36 219.91h1.45v9.58h-1.45zM344.17 219.91h1.45v9.58h-1.45zM345.57 219.91h1.45v9.58h-1.45zM389.01 219.91h1.45v9.58h-1.45zM411.43 219.91h1.45v9.58h-1.45zM311.93 229.45h1.45v9.58h-1.45zM313.34 229.45h1.45v9.58h-1.45zM317.54 229.45h1.45v9.58h-1.45zM339.96 229.45h1.45v9.58h-1.45zM353.97 229.45h1.45v9.58h-1.45zM373.59 229.45h1.45v9.58h-1.45zM383.4 229.45h1.45v9.58h-1.45zM295.12 238.98h1.45v9.58h-1.45zM337.16 238.98h1.45v9.58h-1.45zM346.97 238.98h1.45v9.58h-1.45zM355.38 238.98h1.45v9.58h-1.45zM356.78 238.98h1.45v9.58h-1.45zM359.58 238.98h1.45v9.58h-1.45zM360.98 238.98h1.45v9.58h-1.45zM372.19 238.98h1.45v9.58h-1.45zM373.59 238.98h1.45v9.58h-1.45zM410.03 238.98h1.45v9.58h-1.45zM445.06 238.98h1.45v9.58h-1.45zM452.07 238.98h1.45v9.58h-1.45zM453.47 238.98h1.45v9.58h-1.45zM457.67 238.98h1.45v9.58h-1.45zM467.48 238.98h1.45v9.58h-1.45zM468.88 238.98h1.45v9.58h-1.45zM475.89 238.98h1.45v9.58h-1.45zM484.3 238.98h1.45v9.58h-1.45zM342.76 248.51h1.45v9.58h-1.45zM374.99 248.51h1.45v9.58h-1.45zM379.2 248.51h1.45v9.58h-1.45zM456.27 248.51h1.45v9.58h-1.45zM309.13 258.04h1.45v9.58h-1.45zM332.95 258.04h1.45v9.58h-1.45zM422.64 258.04h1.45v9.58h-1.45zM318.94 267.57h1.45v9.58h-1.45zM337.16 267.57h1.45v9.58h-1.45zM342.76 267.57h1.45v9.58h-1.45zM396.01 267.57h1.45v9.58h-1.45zM359.58 277.1h1.45v9.58h-1.45zM360.98 277.1h1.45v9.58h-1.45zM363.78 277.1h1.45v9.58h-1.45zM422.64 277.1h1.45v9.58h-1.45zM449.27 277.1h1.45v9.58h-1.45zM460.48 277.1h1.45v9.58h-1.45zM480.09 277.1h1.45v9.58h-1.45zM482.9 277.1h1.45v9.58h-1.45zM450.67 286.64h1.45v9.58h-1.45zM470.29 286.64h1.45v9.58h-1.45zM470.29 296.17h1.45v9.58h-1.45z"/><path fill="#d2e4f0" d="M282.51 96h1.45v9.58h-1.45zM299.32 96h1.45v9.58h-1.45zM279.7 105.53h1.45v9.58h-1.45zM288.11 124.6h1.45v9.58h-1.45zM303.53 124.6h1.45v9.58h-1.45zM362.38 153.19h1.45v9.58h-1.45zM338.56 162.72h1.45v9.58h-1.45zM466.08 162.72h1.45v9.58h-1.45zM289.51 181.79h1.45v9.58h-1.45zM303.53 181.79h1.45v9.58h-1.45zM285.31 200.85h1.45v9.58h-1.45zM331.55 200.85h1.45v9.58h-1.45zM338.56 200.85h1.45v9.58h-1.45zM380.6 200.85h1.45v9.58h-1.45zM316.14 210.38h1.45v9.58h-1.45zM324.55 210.38h1.45v9.58h-1.45zM389.01 210.38h1.45v9.58h-1.45zM412.83 210.38h1.45v9.58h-1.45zM426.84 210.38h1.45v9.58h-1.45zM431.05 210.38h1.45v9.58h-1.45zM288.11 219.91h1.45v9.58h-1.45zM295.12 219.91h1.45v9.58h-1.45zM334.36 219.91h1.45v9.58h-1.45zM366.59 219.91h1.45v9.58h-1.45zM367.99 219.91h1.45v9.58h-1.45zM393.21 219.91h1.45v9.58h-1.45zM288.11 238.98h1.45v9.58h-1.45zM310.53 238.98h1.45v9.58h-1.45zM320.34 238.98h1.45v9.58h-1.45zM321.74 238.98h1.45v9.58h-1.45zM342.76 238.98h1.45v9.58h-1.45zM365.19 238.98h1.45v9.58h-1.45zM419.84 238.98h1.45v9.58h-1.45zM432.45 238.98h1.45v9.58h-1.45zM456.27 238.98h1.45v9.58h-1.45zM288.11 248.51h1.45v9.58h-1.45zM295.12 248.51h1.45v9.58h-1.45zM328.75 248.51h1.45v9.58h-1.45zM330.15 248.51h1.45v9.58h-1.45zM331.55 248.51h1.45v9.58h-1.45zM335.76 248.51h1.45v9.58h-1.45zM339.96 248.51h1.45v9.58h-1.45zM355.38 248.51h1.45v9.58h-1.45zM365.19 248.51h1.45v9.58h-1.45zM367.99 248.51h1.45v9.58h-1.45zM398.82 248.51h1.45v9.58h-1.45zM411.43 248.51h1.45v9.58h-1.45zM321.74 258.04h1.45v9.58h-1.45zM337.16 258.04h1.45v9.58h-1.45zM341.36 258.04h1.45v9.58h-1.45zM344.17 258.04h1.45v9.58h-1.45zM345.57 258.04h1.45v9.58h-1.45zM374.99 258.04h1.45v9.58h-1.45zM384.8 258.04h1.45v9.58h-1.45zM390.41 258.04h1.45v9.58h-1.45zM426.84 258.04h1.45v9.58h-1.45zM332.95 267.57h1.45v9.58h-1.45zM349.77 267.57h1.45v9.58h-1.45zM351.17 267.57h1.45v9.58h-1.45zM367.99 267.57h1.45v9.58h-1.45zM373.59 267.57h1.45v9.58h-1.45zM387.61 267.57h1.45v9.58h-1.45zM391.81 267.57h1.45v9.58h-1.45zM431.05 267.57h1.45v9.58h-1.45zM320.34 277.1h1.45v9.58h-1.45zM321.74 277.1h1.45v9.58h-1.45zM335.76 277.1h1.45v9.58h-1.45zM349.77 277.1h1.45v9.58h-1.45zM352.57 277.1h1.45v9.58h-1.45zM389.01 277.1h1.45v9.58h-1.45zM419.84 277.1h1.45v9.58h-1.45zM440.86 277.1h1.45v9.58h-1.45zM478.69 286.64h1.45v9.58h-1.45zM453.47 296.17h1.45v9.58h-1.45zM456.27 296.17h1.45v9.58h-1.45zM457.67 296.17h1.45v9.58h-1.45zM481.5 296.17h1.45v9.58h-1.45z"/><path fill="#deeaf0" d="M283.91 96h1.45v9.58h-1.45zM285.31 96h1.45v9.58h-1.45zM285.31 105.53h1.45v9.58h-1.45zM290.91 105.53h1.45v9.58h-1.45zM289.51 115.06h1.45v9.58h-1.45zM290.91 115.06h1.45v9.58h-1.45zM283.91 124.6h1.45v9.58h-1.45zM304.93 124.6h1.45v9.58h-1.45zM293.72 134.13h1.45v9.58h-1.45zM278.3 153.19h1.45v9.58h-1.45zM288.11 153.19h1.45v9.58h-1.45zM292.32 153.19h1.45v9.58h-1.45zM317.54 153.19h1.45v9.58h-1.45zM323.15 153.19h1.45v9.58h-1.45zM344.17 153.19h1.45v9.58h-1.45zM363.78 153.19h1.45v9.58h-1.45zM431.05 153.19h1.45v9.58h-1.45zM360.98 162.72h1.45v9.58h-1.45zM398.82 162.72h1.45v9.58h-1.45zM428.25 162.72h1.45v9.58h-1.45zM463.28 162.72h1.45v9.58h-1.45zM473.09 162.72h1.45v9.58h-1.45zM473.09 172.25h1.45v9.58h-1.45zM300.72 200.85h1.45v9.58h-1.45zM344.17 200.85h1.45v9.58h-1.45zM383.4 200.85h1.45v9.58h-1.45zM394.61 200.85h1.45v9.58h-1.45zM303.53 210.38h1.45v9.58h-1.45zM337.16 210.38h1.45v9.58h-1.45zM353.97 210.38h1.45v9.58h-1.45zM355.38 210.38h1.45v9.58h-1.45zM373.59 210.38h1.45v9.58h-1.45zM380.6 210.38h1.45v9.58h-1.45zM382 210.38h1.45v9.58h-1.45zM383.4 210.38h1.45v9.58h-1.45zM391.81 210.38h1.45v9.58h-1.45zM285.31 219.91h1.45v9.58h-1.45zM320.34 219.91h1.45v9.58h-1.45zM353.97 219.91h1.45v9.58h-1.45zM397.42 219.91h1.45v9.58h-1.45zM288.11 229.45h1.45v9.58h-1.45zM293.72 229.45h1.45v9.58h-1.45zM316.14 229.45h1.45v9.58h-1.45zM394.61 229.45h1.45v9.58h-1.45zM426.84 229.45h1.45v9.58h-1.45zM338.56 238.98h1.45v9.58h-1.45zM339.96 238.98h1.45v9.58h-1.45zM341.36 238.98h1.45v9.58h-1.45zM353.97 238.98h1.45v9.58h-1.45zM309.13 248.51h1.45v9.58h-1.45zM383.4 248.51h1.45v9.58h-1.45zM386.21 248.51h1.45v9.58h-1.45zM400.22 248.51h1.45v9.58h-1.45zM410.03 248.51h1.45v9.58h-1.45zM417.03 248.51h1.45v9.58h-1.45zM310.53 258.04h1.45v9.58h-1.45zM330.15 258.04h1.45v9.58h-1.45zM348.37 258.04h1.45v9.58h-1.45zM352.57 258.04h1.45v9.58h-1.45zM387.61 258.04h1.45v9.58h-1.45zM408.63 258.04h1.45v9.58h-1.45zM411.43 258.04h1.45v9.58h-1.45zM317.54 267.57h1.45v9.58h-1.45zM374.99 267.57h1.45v9.58h-1.45zM376.4 267.57h1.45v9.58h-1.45zM447.86 267.57h1.45v9.58h-1.45zM309.13 277.1h1.45v9.58h-1.45zM332.95 277.1h1.45v9.58h-1.45zM338.56 277.1h1.45v9.58h-1.45zM374.99 277.1h1.45v9.58h-1.45zM376.4 277.1h1.45v9.58h-1.45zM400.22 277.1h1.45v9.58h-1.45zM474.49 277.1h1.45v9.58h-1.45zM449.27 286.64h1.45v9.58h-1.45zM468.88 296.17h1.45v9.58h-1.45z"/><path fill="#f0f6f6" d="M286.71 96h1.45v9.58h-1.45zM300.72 96h1.45v9.58h-1.45zM355.38 96h1.45v9.58h-1.45zM286.71 105.53h1.45v9.58h-1.45zM373.59 105.53h1.45v9.58h-1.45zM387.61 105.53h1.45v9.58h-1.45zM285.31 115.06h1.45v9.58h-1.45zM278.3 124.6h1.45v9.58h-1.45zM310.53 124.6h1.45v9.58h-1.45zM279.7 134.13h1.45v9.58h-1.45zM289.51 134.13h1.45v9.58h-1.45zM278.3 143.66h1.45v9.58h-1.45zM292.32 143.66h1.45v9.58h-1.45zM311.93 143.66h1.45v9.58h-1.45zM355.38 143.66h1.45v9.58h-1.45zM332.95 153.19h1.45v9.58h-1.45zM341.36 153.19h1.45v9.58h-1.45zM351.17 153.19h1.45v9.58h-1.45zM411.43 153.19h1.45v9.58h-1.45zM421.24 153.19h1.45v9.58h-1.45zM297.92 162.72h1.45v9.58h-1.45zM299.32 162.72h1.45v9.58h-1.45zM311.93 162.72h1.45v9.58h-1.45zM317.54 162.72h1.45v9.58h-1.45zM331.55 162.72h1.45v9.58h-1.45zM339.96 162.72h1.45v9.58h-1.45zM393.21 162.72h1.45v9.58h-1.45zM405.82 162.72h1.45v9.58h-1.45zM411.43 162.72h1.45v9.58h-1.45zM276.9 172.25h1.45v9.58h-1.45zM428.25 172.25h1.45v9.58h-1.45zM283.91 181.79h1.45v9.58h-1.45zM288.11 181.79h1.45v9.58h-1.45zM473.09 181.79h1.45v9.58h-1.45zM355.38 200.85h1.45v9.58h-1.45zM365.19 200.85h1.45v9.58h-1.45zM414.23 200.85h1.45v9.58h-1.45zM307.73 210.38h1.45v9.58h-1.45zM362.38 210.38h1.45v9.58h-1.45zM377.8 210.38h1.45v9.58h-1.45zM414.23 210.38h1.45v9.58h-1.45zM419.84 210.38h1.45v9.58h-1.45zM421.24 210.38h1.45v9.58h-1.45zM302.13 219.91h1.45v9.58h-1.45zM355.38 219.91h1.45v9.58h-1.45zM394.61 219.91h1.45v9.58h-1.45zM410.03 219.91h1.45v9.58h-1.45zM412.83 219.91h1.45v9.58h-1.45zM440.86 219.91h1.45v9.58h-1.45zM338.56 229.45h1.45v9.58h-1.45zM349.77 229.45h1.45v9.58h-1.45zM389.01 229.45h1.45v9.58h-1.45zM391.81 229.45h1.45v9.58h-1.45zM285.31 238.98h1.45v9.58h-1.45zM358.18 238.98h1.45v9.58h-1.45zM362.38 238.98h1.45v9.58h-1.45zM411.43 238.98h1.45v9.58h-1.45zM344.17 248.51h1.45v9.58h-1.45zM408.63 248.51h1.45v9.58h-1.45zM440.86 248.51h1.45v9.58h-1.45zM454.87 248.51h1.45v9.58h-1.45zM307.73 258.04h1.45v9.58h-1.45zM376.4 258.04h1.45v9.58h-1.45zM310.53 267.57h1.45v9.58h-1.45zM344.17 267.57h1.45v9.58h-1.45zM345.57 267.57h1.45v9.58h-1.45zM355.38 267.57h1.45v9.58h-1.45zM421.24 267.57h1.45v9.58h-1.45zM440.86 267.57h1.45v9.58h-1.45zM355.38 277.1h1.45v9.58h-1.45zM356.78 277.1h1.45v9.58h-1.45zM358.18 277.1h1.45v9.58h-1.45zM445.06 277.1h1.45v9.58h-1.45zM446.46 286.64h1.45v9.58h-1.45zM460.48 286.64h1.45v9.58h-1.45zM471.69 286.64h1.45v9.58h-1.45zM480.09 286.64h1.45v9.58h-1.45z"/><path fill="#eaf0f6" d="M288.11 96h1.45v9.58h-1.45zM292.32 105.53h1.45v9.58h-1.45zM311.93 115.06h1.45v9.58h-1.45zM285.31 134.13h1.45v9.58h-1.45zM288.11 143.66h1.45v9.58h-1.45zM303.53 143.66h1.45v9.58h-1.45zM304.93 153.19h1.45v9.58h-1.45zM306.33 153.19h1.45v9.58h-1.45zM328.75 153.19h1.45v9.58h-1.45zM387.61 153.19h1.45v9.58h-1.45zM398.82 153.19h1.45v9.58h-1.45zM404.42 153.19h1.45v9.58h-1.45zM414.23 153.19h1.45v9.58h-1.45zM304.93 162.72h1.45v9.58h-1.45zM316.14 162.72h1.45v9.58h-1.45zM356.78 162.72h1.45v9.58h-1.45zM383.4 162.72h1.45v9.58h-1.45zM384.8 162.72h1.45v9.58h-1.45zM419.84 162.72h1.45v9.58h-1.45zM288.11 172.25h1.45v9.58h-1.45zM344.17 172.25h1.45v9.58h-1.45zM380.6 172.25h1.45v9.58h-1.45zM275.5 181.79h1.45v9.58h-1.45zM292.32 181.79h1.45v9.58h-1.45zM302.13 181.79h1.45v9.58h-1.45zM325.95 181.79h1.45v9.58h-1.45zM327.35 181.79h1.45v9.58h-1.45zM328.75 181.79h1.45v9.58h-1.45zM474.49 181.79h1.45v9.58h-1.45zM309.13 200.85h1.45v9.58h-1.45zM310.53 200.85h1.45v9.58h-1.45zM334.36 200.85h1.45v9.58h-1.45zM366.59 200.85h1.45v9.58h-1.45zM372.19 200.85h1.45v9.58h-1.45zM374.99 200.85h1.45v9.58h-1.45zM377.8 200.85h1.45v9.58h-1.45zM379.2 200.85h1.45v9.58h-1.45zM419.84 200.85h1.45v9.58h-1.45zM422.64 200.85h1.45v9.58h-1.45zM288.11 210.38h1.45v9.58h-1.45zM342.76 210.38h1.45v9.58h-1.45zM349.77 210.38h1.45v9.58h-1.45zM372.19 210.38h1.45v9.58h-1.45zM374.99 210.38h1.45v9.58h-1.45zM394.61 210.38h1.45v9.58h-1.45zM410.03 210.38h1.45v9.58h-1.45zM466.08 210.38h1.45v9.58h-1.45zM318.94 219.91h1.45v9.58h-1.45zM349.77 219.91h1.45v9.58h-1.45zM365.19 219.91h1.45v9.58h-1.45zM325.95 229.45h1.45v9.58h-1.45zM327.35 229.45h1.45v9.58h-1.45zM334.36 229.45h1.45v9.58h-1.45zM341.36 229.45h1.45v9.58h-1.45zM369.39 229.45h1.45v9.58h-1.45zM370.79 229.45h1.45v9.58h-1.45zM393.21 229.45h1.45v9.58h-1.45zM398.82 229.45h1.45v9.58h-1.45zM422.64 229.45h1.45v9.58h-1.45zM431.05 229.45h1.45v9.58h-1.45zM324.55 238.98h1.45v9.58h-1.45zM332.95 238.98h1.45v9.58h-1.45zM344.17 238.98h1.45v9.58h-1.45zM345.57 238.98h1.45v9.58h-1.45zM349.77 238.98h1.45v9.58h-1.45zM386.21 238.98h1.45v9.58h-1.45zM446.46 238.98h1.45v9.58h-1.45zM463.28 238.98h1.45v9.58h-1.45zM464.68 238.98h1.45v9.58h-1.45zM337.16 248.51h1.45v9.58h-1.45zM352.57 248.51h1.45v9.58h-1.45zM355.38 258.04h1.45v9.58h-1.45zM360.98 258.04h1.45v9.58h-1.45zM391.81 258.04h1.45v9.58h-1.45zM419.84 258.04h1.45v9.58h-1.45zM421.24 258.04h1.45v9.58h-1.45zM439.46 258.04h1.45v9.58h-1.45zM348.37 267.57h1.45v9.58h-1.45zM377.8 267.57h1.45v9.58h-1.45zM379.2 267.57h1.45v9.58h-1.45zM383.4 267.57h1.45v9.58h-1.45zM384.8 267.57h1.45v9.58h-1.45zM386.21 267.57h1.45v9.58h-1.45zM411.43 267.57h1.45v9.58h-1.45zM417.03 267.57h1.45v9.58h-1.45zM422.64 267.57h1.45v9.58h-1.45zM474.49 267.57h1.45v9.58h-1.45zM367.99 277.1h1.45v9.58h-1.45zM450.67 277.1h1.45v9.58h-1.45zM456.27 277.1h1.45v9.58h-1.45zM477.29 277.1h1.45v9.58h-1.45z"/><path fill="#e4f0f6" d="M292.32 96h1.45v9.58h-1.45zM304.93 96h1.45v9.58h-1.45zM288.11 105.53h1.45v9.58h-1.45zM276.9 124.6h1.45v9.58h-1.45zM283.91 134.13h1.45v9.58h-1.45zM300.72 134.13h1.45v9.58h-1.45zM276.9 143.66h1.45v9.58h-1.45zM285.31 143.66h1.45v9.58h-1.45zM304.93 143.66h1.45v9.58h-1.45zM389.01 143.66h1.45v9.58h-1.45zM421.24 143.66h1.45v9.58h-1.45zM276.9 153.19h1.45v9.58h-1.45zM311.93 153.19h1.45v9.58h-1.45zM352.57 153.19h1.45v9.58h-1.45zM397.42 153.19h1.45v9.58h-1.45zM325.95 162.72h1.45v9.58h-1.45zM351.17 162.72h1.45v9.58h-1.45zM352.57 162.72h1.45v9.58h-1.45zM355.38 162.72h1.45v9.58h-1.45zM360.98 172.25h1.45v9.58h-1.45zM281.11 181.79h1.45v9.58h-1.45zM360.98 181.79h1.45v9.58h-1.45zM288.11 200.85h1.45v9.58h-1.45zM295.12 200.85h1.45v9.58h-1.45zM307.73 200.85h1.45v9.58h-1.45zM342.76 200.85h1.45v9.58h-1.45zM376.4 200.85h1.45v9.58h-1.45zM389.01 200.85h1.45v9.58h-1.45zM391.81 200.85h1.45v9.58h-1.45zM310.53 219.91h1.45v9.58h-1.45zM323.15 219.91h1.45v9.58h-1.45zM328.75 219.91h1.45v9.58h-1.45zM335.76 219.91h1.45v9.58h-1.45zM356.78 219.91h1.45v9.58h-1.45zM362.38 219.91h1.45v9.58h-1.45zM391.81 219.91h1.45v9.58h-1.45zM414.23 219.91h1.45v9.58h-1.45zM419.84 219.91h1.45v9.58h-1.45zM421.24 219.91h1.45v9.58h-1.45zM318.94 229.45h1.45v9.58h-1.45zM351.17 229.45h1.45v9.58h-1.45zM400.22 229.45h1.45v9.58h-1.45zM432.45 229.45h1.45v9.58h-1.45zM328.75 238.98h1.45v9.58h-1.45zM421.24 238.98h1.45v9.58h-1.45zM433.85 238.98h1.45v9.58h-1.45zM318.94 248.51h1.45v9.58h-1.45zM332.95 248.51h1.45v9.58h-1.45zM394.61 248.51h1.45v9.58h-1.45zM318.94 258.04h1.45v9.58h-1.45zM362.38 258.04h1.45v9.58h-1.45zM373.59 258.04h1.45v9.58h-1.45zM379.2 258.04h1.45v9.58h-1.45zM414.23 258.04h1.45v9.58h-1.45zM417.03 258.04h1.45v9.58h-1.45zM324.55 267.57h1.45v9.58h-1.45zM346.97 267.57h1.45v9.58h-1.45zM412.83 267.57h1.45v9.58h-1.45zM419.84 267.57h1.45v9.58h-1.45zM421.24 277.1h1.45v9.58h-1.45zM475.89 277.1h1.45v9.58h-1.45zM459.07 286.64h1.45v9.58h-1.45zM481.5 286.64h1.45v9.58h-1.45zM438.05 296.17h1.45v9.58h-1.45z"/><path fill="#c0d8ea" d="M293.72 96h1.45v9.58h-1.45zM304.93 115.06h1.45v9.58h-1.45zM303.53 134.13h1.45v9.58h-1.45zM341.36 200.85h1.45v9.58h-1.45zM310.53 210.38h1.45v9.58h-1.45zM323.15 210.38h1.45v9.58h-1.45zM338.56 210.38h1.45v9.58h-1.45zM398.82 219.91h1.45v9.58h-1.45zM380.6 248.51h1.45v9.58h-1.45zM382 248.51h1.45v9.58h-1.45zM432.45 248.51h1.45v9.58h-1.45zM433.85 248.51h1.45v9.58h-1.45zM313.34 258.04h1.45v9.58h-1.45zM418.44 258.04h1.45v9.58h-1.45zM303.53 267.57h1.45v9.58h-1.45zM321.74 267.57h1.45v9.58h-1.45zM426.84 267.57h1.45v9.58h-1.45z"/><path fill="#fcd8c0" d="M295.12 96h1.45v9.58h-1.45zM318.94 96h1.45v9.58h-1.45zM337.16 96h1.45v9.58h-1.45zM352.57 96h1.45v9.58h-1.45zM425.44 96h1.45v9.58h-1.45zM317.54 105.53h1.45v9.58h-1.45zM344.17 105.53h1.45v9.58h-1.45zM379.2 105.53h1.45v9.58h-1.45zM428.25 105.53h1.45v9.58h-1.45zM314.74 115.06h1.45v9.58h-1.45zM337.16 115.06h1.45v9.58h-1.45zM404.42 115.06h1.45v9.58h-1.45zM464.68 115.06h1.45v9.58h-1.45zM314.74 124.6h1.45v9.58h-1.45zM323.15 124.6h1.45v9.58h-1.45zM330.15 124.6h1.45v9.58h-1.45zM348.37 124.6h1.45v9.58h-1.45zM313.34 134.13h1.45v9.58h-1.45zM369.39 134.13h1.45v9.58h-1.45zM390.41 134.13h1.45v9.58h-1.45zM474.49 134.13h1.45v9.58h-1.45zM306.33 143.66h1.45v9.58h-1.45zM332.95 143.66h1.45v9.58h-1.45zM380.6 143.66h1.45v9.58h-1.45zM382 143.66h1.45v9.58h-1.45zM383.4 143.66h1.45v9.58h-1.45zM349.77 153.19h1.45v9.58h-1.45zM390.41 153.19h1.45v9.58h-1.45zM407.23 153.19h1.45v9.58h-1.45zM447.86 162.72h1.45v9.58h-1.45zM318.94 172.25h1.45v9.58h-1.45zM320.34 172.25h1.45v9.58h-1.45zM373.59 172.25h1.45v9.58h-1.45zM449.27 172.25h1.45v9.58h-1.45zM387.61 181.79h1.45v9.58h-1.45zM390.41 181.79h1.45v9.58h-1.45zM440.86 200.85h1.45v9.58h-1.45zM460.48 200.85h1.45v9.58h-1.45zM396.01 210.38h1.45v9.58h-1.45zM449.27 210.38h1.45v9.58h-1.45zM309.13 229.45h1.45v9.58h-1.45zM365.19 229.45h1.45v9.58h-1.45zM424.04 248.51h1.45v9.58h-1.45zM425.44 248.51h1.45v9.58h-1.45zM435.25 248.51h1.45v9.58h-1.45zM457.67 248.51h1.45v9.58h-1.45zM404.42 258.04h1.45v9.58h-1.45zM456.27 258.04h1.45v9.58h-1.45zM477.29 258.04h1.45v9.58h-1.45zM405.82 267.57h1.45v9.58h-1.45zM407.23 267.57h1.45v9.58h-1.45z"/><path fill="#f6b49c" d="M296.52 96h1.45v9.58h-1.45zM432.45 96h1.45v9.58h-1.45zM335.76 115.06h1.45v9.58h-1.45zM473.09 115.06h1.45v9.58h-1.45zM442.26 124.6h1.45v9.58h-1.45zM443.66 124.6h1.45v9.58h-1.45zM362.38 134.13h1.45v9.58h-1.45zM391.81 134.13h1.45v9.58h-1.45zM307.73 143.66h1.45v9.58h-1.45zM459.07 162.72h1.45v9.58h-1.45zM349.77 181.79h1.45v9.58h-1.45zM467.48 210.38h1.45v9.58h-1.45zM468.88 210.38h1.45v9.58h-1.45zM446.46 219.91h1.45v9.58h-1.45zM454.87 229.45h1.45v9.58h-1.45zM425.44 258.04h1.45v9.58h-1.45z"/><path fill="#fcd2c0" d="M297.92 96h1.45v9.58h-1.45zM316.14 96h1.45v9.58h-1.45zM348.37 96h1.45v9.58h-1.45zM337.16 105.53h1.45v9.58h-1.45zM339.96 105.53h1.45v9.58h-1.45zM367.99 105.53h1.45v9.58h-1.45zM384.8 105.53h1.45v9.58h-1.45zM410.03 105.53h1.45v9.58h-1.45zM370.79 115.06h1.45v9.58h-1.45zM405.82 115.06h1.45v9.58h-1.45zM401.62 134.13h1.45v9.58h-1.45zM384.8 143.66h1.45v9.58h-1.45zM433.85 143.66h1.45v9.58h-1.45zM356.78 153.19h1.45v9.58h-1.45zM393.21 153.19h1.45v9.58h-1.45zM438.05 181.79h1.45v9.58h-1.45zM404.42 200.85h1.45v9.58h-1.45zM463.28 210.38h1.45v9.58h-1.45zM477.29 219.91h1.45v9.58h-1.45zM436.65 258.04h1.45v9.58h-1.45zM473.09 258.04h1.45v9.58h-1.45zM396.01 277.1h1.45v9.58h-1.45zM446.46 277.1h1.45v9.58h-1.45z"/><path fill="#fceae4" d="M302.13 96h1.45v9.58h-1.45zM314.74 96h1.45v9.58h-1.45zM338.56 96h1.45v9.58h-1.45zM474.49 96h1.45v9.58h-1.45zM310.53 105.53h1.45v9.58h-1.45zM352.57 105.53h1.45v9.58h-1.45zM363.78 105.53h1.45v9.58h-1.45zM386.21 105.53h1.45v9.58h-1.45zM286.71 115.06h1.45v9.58h-1.45zM288.11 115.06h1.45v9.58h-1.45zM318.94 115.06h1.45v9.58h-1.45zM356.78 115.06h1.45v9.58h-1.45zM363.78 115.06h1.45v9.58h-1.45zM311.93 124.6h1.45v9.58h-1.45zM397.42 124.6h1.45v9.58h-1.45zM398.82 124.6h1.45v9.58h-1.45zM352.57 134.13h1.45v9.58h-1.45zM370.79 134.13h1.45v9.58h-1.45zM389.01 134.13h1.45v9.58h-1.45zM421.24 134.13h1.45v9.58h-1.45zM313.34 143.66h1.45v9.58h-1.45zM373.59 143.66h1.45v9.58h-1.45zM386.21 143.66h1.45v9.58h-1.45zM321.74 153.19h1.45v9.58h-1.45zM335.76 153.19h1.45v9.58h-1.45zM348.37 153.19h1.45v9.58h-1.45zM379.2 153.19h1.45v9.58h-1.45zM391.81 153.19h1.45v9.58h-1.45zM417.03 153.19h1.45v9.58h-1.45zM466.08 153.19h1.45v9.58h-1.45zM307.73 162.72h1.45v9.58h-1.45zM323.15 162.72h1.45v9.58h-1.45zM348.37 162.72h1.45v9.58h-1.45zM390.41 162.72h1.45v9.58h-1.45zM412.83 162.72h1.45v9.58h-1.45zM417.03 162.72h1.45v9.58h-1.45zM452.07 162.72h1.45v9.58h-1.45zM477.29 162.72h1.45v9.58h-1.45zM285.31 172.25h1.45v9.58h-1.45zM397.42 172.25h1.45v9.58h-1.45zM414.23 172.25h1.45v9.58h-1.45zM418.44 172.25h1.45v9.58h-1.45zM419.84 172.25h1.45v9.58h-1.45zM468.88 172.25h1.45v9.58h-1.45zM293.72 181.79h1.45v9.58h-1.45zM355.38 181.79h1.45v9.58h-1.45zM405.82 181.79h1.45v9.58h-1.45zM359.58 200.85h1.45v9.58h-1.45zM360.98 200.85h1.45v9.58h-1.45zM363.78 200.85h1.45v9.58h-1.45zM405.82 200.85h1.45v9.58h-1.45zM473.09 210.38h1.45v9.58h-1.45zM332.95 219.91h1.45v9.58h-1.45zM339.96 219.91h1.45v9.58h-1.45zM377.8 219.91h1.45v9.58h-1.45zM379.2 219.91h1.45v9.58h-1.45zM484.3 219.91h1.45v9.58h-1.45zM331.55 229.45h1.45v9.58h-1.45zM332.95 229.45h1.45v9.58h-1.45zM352.57 229.45h1.45v9.58h-1.45zM414.23 229.45h1.45v9.58h-1.45zM417.03 229.45h1.45v9.58h-1.45zM376.4 238.98h1.45v9.58h-1.45zM460.48 238.98h1.45v9.58h-1.45zM461.88 238.98h1.45v9.58h-1.45zM438.05 258.04h1.45v9.58h-1.45zM442.26 267.57h1.45v9.58h-1.45zM446.46 267.57h1.45v9.58h-1.45zM449.27 267.57h1.45v9.58h-1.45zM450.67 267.57h1.45v9.58h-1.45zM475.89 267.57h1.45v9.58h-1.45zM405.82 277.1h1.45v9.58h-1.45z"/><path fill="#e4f0f0" d="M303.53 96h1.45v9.58h-1.45zM279.7 115.06h1.45v9.58h-1.45zM283.91 115.06h1.45v9.58h-1.45zM285.31 124.6h1.45v9.58h-1.45zM293.72 124.6h1.45v9.58h-1.45zM290.91 134.13h1.45v9.58h-1.45zM279.7 143.66h1.45v9.58h-1.45zM299.32 143.66h1.45v9.58h-1.45zM300.72 143.66h1.45v9.58h-1.45zM286.71 153.19h1.45v9.58h-1.45zM316.14 153.19h1.45v9.58h-1.45zM278.3 162.72h1.45v9.58h-1.45zM397.42 162.72h1.45v9.58h-1.45zM414.23 162.72h1.45v9.58h-1.45zM464.68 162.72h1.45v9.58h-1.45zM275.5 172.25h1.45v9.58h-1.45zM279.7 181.79h1.45v9.58h-1.45zM304.93 181.79h1.45v9.58h-1.45zM306.33 181.79h1.45v9.58h-1.45zM341.36 181.79h1.45v9.58h-1.45zM426.84 181.79h1.45v9.58h-1.45zM302.13 200.85h1.45v9.58h-1.45zM349.77 200.85h1.45v9.58h-1.45zM353.97 200.85h1.45v9.58h-1.45zM373.59 200.85h1.45v9.58h-1.45zM386.21 200.85h1.45v9.58h-1.45zM387.61 200.85h1.45v9.58h-1.45zM397.42 200.85h1.45v9.58h-1.45zM285.31 210.38h1.45v9.58h-1.45zM309.13 210.38h1.45v9.58h-1.45zM317.54 210.38h1.45v9.58h-1.45zM351.17 210.38h1.45v9.58h-1.45zM397.42 210.38h1.45v9.58h-1.45zM324.55 219.91h1.45v9.58h-1.45zM426.84 219.91h1.45v9.58h-1.45zM299.32 229.45h1.45v9.58h-1.45zM302.13 229.45h1.45v9.58h-1.45zM380.6 229.45h1.45v9.58h-1.45zM382 229.45h1.45v9.58h-1.45zM363.78 238.98h1.45v9.58h-1.45zM477.29 238.98h1.45v9.58h-1.45zM360.98 248.51h1.45v9.58h-1.45zM363.78 248.51h1.45v9.58h-1.45zM339.96 258.04h1.45v9.58h-1.45zM377.8 258.04h1.45v9.58h-1.45zM389.01 258.04h1.45v9.58h-1.45zM352.57 267.57h1.45v9.58h-1.45zM360.98 267.57h1.45v9.58h-1.45zM473.09 267.57h1.45v9.58h-1.45zM318.94 277.1h1.45v9.58h-1.45zM372.19 277.1h1.45v9.58h-1.45zM377.8 277.1h1.45v9.58h-1.45zM386.21 277.1h1.45v9.58h-1.45zM408.63 277.1h1.45v9.58h-1.45zM414.23 277.1h1.45v9.58h-1.45zM417.03 277.1h1.45v9.58h-1.45zM443.66 296.17h1.45v9.58h-1.45z"/><path fill="#fcccb4" d="M306.33 96h1.45v9.58h-1.45zM317.54 96h1.45v9.58h-1.45zM358.18 96h1.45v9.58h-1.45zM459.07 96h1.45v9.58h-1.45zM362.38 105.53h1.45v9.58h-1.45zM464.68 105.53h1.45v9.58h-1.45zM475.89 105.53h1.45v9.58h-1.45zM358.18 115.06h1.45v9.58h-1.45zM379.2 115.06h1.45v9.58h-1.45zM398.82 115.06h1.45v9.58h-1.45zM422.64 115.06h1.45v9.58h-1.45zM309.13 124.6h1.45v9.58h-1.45zM344.17 124.6h1.45v9.58h-1.45zM380.6 124.6h1.45v9.58h-1.45zM382 124.6h1.45v9.58h-1.45zM393.21 124.6h1.45v9.58h-1.45zM464.68 124.6h1.45v9.58h-1.45zM466.08 124.6h1.45v9.58h-1.45zM296.52 134.13h1.45v9.58h-1.45zM324.55 134.13h1.45v9.58h-1.45zM332.95 134.13h1.45v9.58h-1.45zM334.36 134.13h1.45v9.58h-1.45zM335.76 134.13h1.45v9.58h-1.45zM351.17 134.13h1.45v9.58h-1.45zM411.43 134.13h1.45v9.58h-1.45zM426.84 134.13h1.45v9.58h-1.45zM337.16 143.66h1.45v9.58h-1.45zM394.61 143.66h1.45v9.58h-1.45zM407.23 143.66h1.45v9.58h-1.45zM408.63 143.66h1.45v9.58h-1.45zM431.05 143.66h1.45v9.58h-1.45zM466.08 143.66h1.45v9.58h-1.45zM366.59 153.19h1.45v9.58h-1.45zM373.59 153.19h1.45v9.58h-1.45zM408.63 153.19h1.45v9.58h-1.45zM424.04 153.19h1.45v9.58h-1.45zM425.44 153.19h1.45v9.58h-1.45zM320.34 162.72h1.45v9.58h-1.45zM293.72 172.25h1.45v9.58h-1.45zM299.32 172.25h1.45v9.58h-1.45zM300.72 172.25h1.45v9.58h-1.45zM383.4 172.25h1.45v9.58h-1.45zM389.01 172.25h1.45v9.58h-1.45zM391.81 172.25h1.45v9.58h-1.45zM314.74 181.79h1.45v9.58h-1.45zM321.74 181.79h1.45v9.58h-1.45zM356.78 181.79h1.45v9.58h-1.45zM376.4 181.79h1.45v9.58h-1.45zM447.86 181.79h1.45v9.58h-1.45zM449.27 181.79h1.45v9.58h-1.45zM474.49 200.85h1.45v9.58h-1.45zM405.82 210.38h1.45v9.58h-1.45zM459.07 210.38h1.45v9.58h-1.45zM445.06 219.91h1.45v9.58h-1.45zM459.07 219.91h1.45v9.58h-1.45zM463.28 219.91h1.45v9.58h-1.45zM474.49 219.91h1.45v9.58h-1.45zM345.57 229.45h1.45v9.58h-1.45zM346.97 229.45h1.45v9.58h-1.45zM424.04 229.45h1.45v9.58h-1.45zM425.44 229.45h1.45v9.58h-1.45zM404.42 248.51h1.45v9.58h-1.45zM460.48 248.51h1.45v9.58h-1.45zM467.48 258.04h1.45v9.58h-1.45zM443.66 267.57h1.45v9.58h-1.45zM452.07 267.57h1.45v9.58h-1.45zM453.47 267.57h1.45v9.58h-1.45zM424.04 277.1h1.45v9.58h-1.45zM470.29 277.1h1.45v9.58h-1.45zM471.69 277.1h1.45v9.58h-1.45zM481.5 277.1h1.45v9.58h-1.45z"/><path fill="#f09c7e" d="M307.73 96h1.45v9.58h-1.45zM400.22 96h1.45v9.58h-1.45zM461.88 96h1.45v9.58h-1.45zM383.4 105.53h1.45v9.58h-1.45zM401.62 105.53h1.45v9.58h-1.45zM463.28 105.53h1.45v9.58h-1.45zM327.35 115.06h1.45v9.58h-1.45zM415.63 115.06h1.45v9.58h-1.45zM433.85 115.06h1.45v9.58h-1.45zM366.59 124.6h1.45v9.58h-1.45zM410.03 124.6h1.45v9.58h-1.45zM418.44 124.6h1.45v9.58h-1.45zM419.84 124.6h1.45v9.58h-1.45zM435.25 134.13h1.45v9.58h-1.45zM335.76 143.66h1.45v9.58h-1.45zM473.09 143.66h1.45v9.58h-1.45zM450.67 181.79h1.45v9.58h-1.45zM477.29 181.79h1.45v9.58h-1.45zM457.67 200.85h1.45v9.58h-1.45zM484.3 229.45h1.45v9.58h-1.45zM481.5 267.57h1.45v9.58h-1.45zM403.02 277.1h1.45v9.58h-1.45z"/><path fill="#f09678" d="M309.13 96h1.45v9.58h-1.45zM360.98 96h1.45v9.58h-1.45zM450.67 96h1.45v9.58h-1.45zM466.08 96h1.45v9.58h-1.45zM412.83 105.53h1.45v9.58h-1.45zM442.26 105.53h1.45v9.58h-1.45zM467.48 105.53h1.45v9.58h-1.45zM473.09 105.53h1.45v9.58h-1.45zM428.25 115.06h1.45v9.58h-1.45zM429.65 115.06h1.45v9.58h-1.45zM432.45 115.06h1.45v9.58h-1.45zM459.07 115.06h1.45v9.58h-1.45zM365.19 124.6h1.45v9.58h-1.45zM431.05 124.6h1.45v9.58h-1.45zM440.86 124.6h1.45v9.58h-1.45zM460.48 124.6h1.45v9.58h-1.45zM412.83 134.13h1.45v9.58h-1.45zM415.63 143.66h1.45v9.58h-1.45zM449.27 143.66h1.45v9.58h-1.45zM459.07 153.19h1.45v9.58h-1.45zM461.88 153.19h1.45v9.58h-1.45zM440.86 162.72h1.45v9.58h-1.45zM403.02 172.25h1.45v9.58h-1.45zM475.89 172.25h1.45v9.58h-1.45zM369.39 181.79h1.45v9.58h-1.45zM401.62 181.79h1.45v9.58h-1.45zM282.51 191.32h1.45v9.58h-1.45zM398.82 191.32h1.45v9.58h-1.45zM424.04 219.91h1.45v9.58h-1.45zM403.02 229.45h1.45v9.58h-1.45zM457.67 258.04h1.45v9.58h-1.45z"/><path fill="#fce4d8" d="M310.53 96h1.45v9.58h-1.45zM351.17 96h1.45v9.58h-1.45zM387.61 96h1.45v9.58h-1.45zM426.84 96h1.45v9.58h-1.45zM369.39 105.53h1.45v9.58h-1.45zM380.6 105.53h1.45v9.58h-1.45zM398.82 105.53h1.45v9.58h-1.45zM421.24 105.53h1.45v9.58h-1.45zM313.34 115.06h1.45v9.58h-1.45zM345.57 115.06h1.45v9.58h-1.45zM474.49 115.06h1.45v9.58h-1.45zM296.52 124.6h1.45v9.58h-1.45zM297.92 124.6h1.45v9.58h-1.45zM302.13 124.6h1.45v9.58h-1.45zM353.97 124.6h1.45v9.58h-1.45zM358.18 124.6h1.45v9.58h-1.45zM389.01 124.6h1.45v9.58h-1.45zM310.53 134.13h1.45v9.58h-1.45zM316.14 134.13h1.45v9.58h-1.45zM317.54 134.13h1.45v9.58h-1.45zM338.56 134.13h1.45v9.58h-1.45zM348.37 134.13h1.45v9.58h-1.45zM358.18 134.13h1.45v9.58h-1.45zM338.56 143.66h1.45v9.58h-1.45zM349.77 143.66h1.45v9.58h-1.45zM358.18 143.66h1.45v9.58h-1.45zM374.99 143.66h1.45v9.58h-1.45zM379.2 143.66h1.45v9.58h-1.45zM410.03 143.66h1.45v9.58h-1.45zM419.84 143.66h1.45v9.58h-1.45zM297.92 153.19h1.45v9.58h-1.45zM342.76 153.19h1.45v9.58h-1.45zM346.97 153.19h1.45v9.58h-1.45zM412.83 153.19h1.45v9.58h-1.45zM436.65 153.19h1.45v9.58h-1.45zM295.12 162.72h1.45v9.58h-1.45zM313.34 162.72h1.45v9.58h-1.45zM335.76 162.72h1.45v9.58h-1.45zM349.77 162.72h1.45v9.58h-1.45zM372.19 162.72h1.45v9.58h-1.45zM418.44 162.72h1.45v9.58h-1.45zM431.05 162.72h1.45v9.58h-1.45zM311.93 172.25h1.45v9.58h-1.45zM316.14 172.25h1.45v9.58h-1.45zM334.36 172.25h1.45v9.58h-1.45zM335.76 172.25h1.45v9.58h-1.45zM338.56 172.25h1.45v9.58h-1.45zM374.99 172.25h1.45v9.58h-1.45zM447.86 172.25h1.45v9.58h-1.45zM297.92 181.79h1.45v9.58h-1.45zM323.15 181.79h1.45v9.58h-1.45zM332.95 181.79h1.45v9.58h-1.45zM339.96 181.79h1.45v9.58h-1.45zM344.17 181.79h1.45v9.58h-1.45zM417.03 181.79h1.45v9.58h-1.45zM428.25 181.79h1.45v9.58h-1.45zM332.95 210.38h1.45v9.58h-1.45zM363.78 210.38h1.45v9.58h-1.45zM454.87 210.38h1.45v9.58h-1.45zM359.58 219.91h1.45v9.58h-1.45zM360.98 219.91h1.45v9.58h-1.45zM372.19 219.91h1.45v9.58h-1.45zM374.99 219.91h1.45v9.58h-1.45zM408.63 219.91h1.45v9.58h-1.45zM447.86 219.91h1.45v9.58h-1.45zM482.9 219.91h1.45v9.58h-1.45zM307.73 229.45h1.45v9.58h-1.45zM310.53 229.45h1.45v9.58h-1.45zM355.38 229.45h1.45v9.58h-1.45zM356.78 229.45h1.45v9.58h-1.45zM386.21 229.45h1.45v9.58h-1.45zM412.83 229.45h1.45v9.58h-1.45zM433.85 229.45h1.45v9.58h-1.45zM405.82 248.51h1.45v9.58h-1.45zM446.46 248.51h1.45v9.58h-1.45zM450.67 248.51h1.45v9.58h-1.45zM466.08 248.51h1.45v9.58h-1.45zM474.49 248.51h1.45v9.58h-1.45zM358.18 258.04h1.45v9.58h-1.45zM359.58 258.04h1.45v9.58h-1.45zM415.63 267.57h1.45v9.58h-1.45zM477.29 267.57h1.45v9.58h-1.45zM459.07 277.1h1.45v9.58h-1.45z"/><path fill="#fcf0ea" d="M313.34 96h1.45v9.58h-1.45zM302.13 105.53h1.45v9.58h-1.45zM346.97 105.53h1.45v9.58h-1.45zM397.42 105.53h1.45v9.58h-1.45zM299.32 115.06h1.45v9.58h-1.45zM302.13 115.06h1.45v9.58h-1.45zM292.32 124.6h1.45v9.58h-1.45zM306.33 134.13h1.45v9.58h-1.45zM356.78 134.13h1.45v9.58h-1.45zM331.55 143.66h1.45v9.58h-1.45zM352.57 143.66h1.45v9.58h-1.45zM356.78 143.66h1.45v9.58h-1.45zM376.4 143.66h1.45v9.58h-1.45zM377.8 143.66h1.45v9.58h-1.45zM332.95 162.72h1.45v9.58h-1.45zM342.76 162.72h1.45v9.58h-1.45zM377.8 162.72h1.45v9.58h-1.45zM394.61 162.72h1.45v9.58h-1.45zM363.78 172.25h1.45v9.58h-1.45zM379.2 172.25h1.45v9.58h-1.45zM398.82 172.25h1.45v9.58h-1.45zM307.73 181.79h1.45v9.58h-1.45zM309.13 181.79h1.45v9.58h-1.45zM331.55 181.79h1.45v9.58h-1.45zM353.97 181.79h1.45v9.58h-1.45zM380.6 181.79h1.45v9.58h-1.45zM382 181.79h1.45v9.58h-1.45zM418.44 181.79h1.45v9.58h-1.45zM419.84 181.79h1.45v9.58h-1.45zM411.43 200.85h1.45v9.58h-1.45zM365.19 210.38h1.45v9.58h-1.45zM408.63 210.38h1.45v9.58h-1.45zM303.53 219.91h1.45v9.58h-1.45zM309.13 219.91h1.45v9.58h-1.45zM442.26 219.91h1.45v9.58h-1.45zM360.98 229.45h1.45v9.58h-1.45zM367.99 229.45h1.45v9.58h-1.45zM410.03 229.45h1.45v9.58h-1.45zM374.99 238.98h1.45v9.58h-1.45zM415.63 238.98h1.45v9.58h-1.45zM439.46 248.51h1.45v9.58h-1.45zM356.78 258.04h1.45v9.58h-1.45zM309.13 267.57h1.45v9.58h-1.45zM407.23 277.1h1.45v9.58h-1.45zM435.25 277.1h1.45v9.58h-1.45zM446.46 296.17h1.45v9.58h-1.45z"/><path fill="#fcc6ae" d="M320.34 96h1.45v9.58h-1.45zM330.15 96h1.45v9.58h-1.45zM363.78 96h1.45v9.58h-1.45zM335.76 105.53h1.45v9.58h-1.45zM426.84 105.53h1.45v9.58h-1.45zM339.96 115.06h1.45v9.58h-1.45zM351.17 115.06h1.45v9.58h-1.45zM426.84 124.6h1.45v9.58h-1.45zM297.92 134.13h1.45v9.58h-1.45zM341.36 134.13h1.45v9.58h-1.45zM376.4 134.13h1.45v9.58h-1.45zM377.8 134.13h1.45v9.58h-1.45zM432.45 134.13h1.45v9.58h-1.45zM323.15 143.66h1.45v9.58h-1.45zM345.57 153.19h1.45v9.58h-1.45zM401.62 153.19h1.45v9.58h-1.45zM415.63 153.19h1.45v9.58h-1.45zM463.28 153.19h1.45v9.58h-1.45zM337.16 162.72h1.45v9.58h-1.45zM400.22 162.72h1.45v9.58h-1.45zM337.16 172.25h1.45v9.58h-1.45zM351.17 172.25h1.45v9.58h-1.45zM353.97 172.25h1.45v9.58h-1.45zM372.19 172.25h1.45v9.58h-1.45zM372.19 181.79h1.45v9.58h-1.45zM383.4 181.79h1.45v9.58h-1.45zM393.21 181.79h1.45v9.58h-1.45zM394.61 181.79h1.45v9.58h-1.45zM429.65 181.79h1.45v9.58h-1.45zM471.69 181.79h1.45v9.58h-1.45zM447.86 200.85h1.45v9.58h-1.45zM459.07 200.85h1.45v9.58h-1.45zM467.48 200.85h1.45v9.58h-1.45zM468.88 200.85h1.45v9.58h-1.45zM415.63 210.38h1.45v9.58h-1.45zM425.44 210.38h1.45v9.58h-1.45zM457.67 210.38h1.45v9.58h-1.45zM450.67 219.91h1.45v9.58h-1.45zM358.18 229.45h1.45v9.58h-1.45zM407.23 238.98h1.45v9.58h-1.45zM435.25 238.98h1.45v9.58h-1.45zM461.88 248.51h1.45v9.58h-1.45zM450.67 258.04h1.45v9.58h-1.45zM424.04 267.57h1.45v9.58h-1.45zM425.44 267.57h1.45v9.58h-1.45zM480.09 267.57h1.45v9.58h-1.45z"/><path fill="#fcdec6" d="M321.74 96h1.45v9.58h-1.45zM421.24 124.6h1.45v9.58h-1.45zM369.39 143.66h1.45v9.58h-1.45zM307.73 172.25h1.45v9.58h-1.45zM463.28 172.25h1.45v9.58h-1.45zM478.69 248.51h1.45v9.58h-1.45z"/><path fill="#fcd2ba" d="M323.15 96h1.45v9.58h-1.45zM324.55 96h1.45v9.58h-1.45zM397.42 96h1.45v9.58h-1.45zM421.24 96h1.45v9.58h-1.45zM475.89 96h1.45v9.58h-1.45zM342.76 105.53h1.45v9.58h-1.45zM358.18 105.53h1.45v9.58h-1.45zM411.43 105.53h1.45v9.58h-1.45zM422.64 105.53h1.45v9.58h-1.45zM306.33 115.06h1.45v9.58h-1.45zM331.55 115.06h1.45v9.58h-1.45zM394.61 115.06h1.45v9.58h-1.45zM341.36 124.6h1.45v9.58h-1.45zM307.73 134.13h1.45v9.58h-1.45zM359.58 134.13h1.45v9.58h-1.45zM380.6 134.13h1.45v9.58h-1.45zM407.23 134.13h1.45v9.58h-1.45zM424.04 134.13h1.45v9.58h-1.45zM295.12 143.66h1.45v9.58h-1.45zM321.74 143.66h1.45v9.58h-1.45zM348.37 143.66h1.45v9.58h-1.45zM337.16 153.19h1.45v9.58h-1.45zM359.58 153.19h1.45v9.58h-1.45zM389.01 153.19h1.45v9.58h-1.45zM394.61 153.19h1.45v9.58h-1.45zM484.3 162.72h1.45v9.58h-1.45zM390.41 172.25h1.45v9.58h-1.45zM393.21 172.25h1.45v9.58h-1.45zM438.05 172.25h1.45v9.58h-1.45zM310.53 181.79h1.45v9.58h-1.45zM389.01 181.79h1.45v9.58h-1.45zM412.83 181.79h1.45v9.58h-1.45zM438.05 200.85h1.45v9.58h-1.45zM435.25 210.38h1.45v9.58h-1.45zM484.3 210.38h1.45v9.58h-1.45zM396.01 219.91h1.45v9.58h-1.45zM405.82 219.91h1.45v9.58h-1.45zM456.27 219.91h1.45v9.58h-1.45zM477.29 248.51h1.45v9.58h-1.45z"/><path fill="#ea9072" d="M325.95 96h1.45v9.58h-1.45zM328.75 96h1.45v9.58h-1.45zM367.99 96h1.45v9.58h-1.45zM408.63 96h1.45v9.58h-1.45zM460.48 96h1.45v9.58h-1.45zM463.28 96h1.45v9.58h-1.45zM478.69 96h1.45v9.58h-1.45zM295.12 105.53h1.45v9.58h-1.45zM415.63 105.53h1.45v9.58h-1.45zM328.75 115.06h1.45v9.58h-1.45zM401.62 124.6h1.45v9.58h-1.45zM412.83 124.6h1.45v9.58h-1.45zM415.63 124.6h1.45v9.58h-1.45zM447.86 124.6h1.45v9.58h-1.45zM467.48 124.6h1.45v9.58h-1.45zM365.19 134.13h1.45v9.58h-1.45zM443.66 143.66h1.45v9.58h-1.45zM450.67 153.19h1.45v9.58h-1.45zM482.9 153.19h1.45v9.58h-1.45zM345.57 172.25h1.45v9.58h-1.45zM459.07 172.25h1.45v9.58h-1.45zM459.07 181.79h1.45v9.58h-1.45zM480.09 181.79h1.45v9.58h-1.45zM481.5 181.79h1.45v9.58h-1.45zM482.9 181.79h1.45v9.58h-1.45zM288.11 191.32h1.45v9.58h-1.45zM289.51 191.32h1.45v9.58h-1.45zM397.42 191.32h1.45v9.58h-1.45zM477.29 200.85h1.45v9.58h-1.45zM471.69 219.91h1.45v9.58h-1.45zM436.65 229.45h1.45v9.58h-1.45zM445.06 229.45h1.45v9.58h-1.45z"/><path fill="#e4846c" d="M327.35 96h1.45v9.58h-1.45zM332.95 96h1.45v9.58h-1.45zM405.82 96h1.45v9.58h-1.45zM453.47 96h1.45v9.58h-1.45zM362.38 115.06h1.45v9.58h-1.45zM365.19 115.06h1.45v9.58h-1.45zM456.27 115.06h1.45v9.58h-1.45zM396.01 134.13h1.45v9.58h-1.45zM412.83 143.66h1.45v9.58h-1.45zM454.87 153.19h1.45v9.58h-1.45zM348.37 172.25h1.45v9.58h-1.45zM349.77 172.25h1.45v9.58h-1.45zM369.39 172.25h1.45v9.58h-1.45zM396.01 172.25h1.45v9.58h-1.45zM440.86 181.79h1.45v9.58h-1.45zM275.5 191.32h1.45v9.58h-1.45zM355.38 191.32h1.45v9.58h-1.45zM425.44 200.85h1.45v9.58h-1.45zM435.25 229.45h1.45v9.58h-1.45zM480.09 258.04h1.45v9.58h-1.45z"/><path fill="#fcdecc" d="M331.55 96h1.45v9.58h-1.45zM344.17 96h1.45v9.58h-1.45zM346.97 96h1.45v9.58h-1.45zM356.78 96h1.45v9.58h-1.45zM389.01 96h1.45v9.58h-1.45zM306.33 105.53h1.45v9.58h-1.45zM318.94 105.53h1.45v9.58h-1.45zM341.36 105.53h1.45v9.58h-1.45zM351.17 105.53h1.45v9.58h-1.45zM360.98 105.53h1.45v9.58h-1.45zM348.37 115.06h1.45v9.58h-1.45zM386.21 115.06h1.45v9.58h-1.45zM410.03 115.06h1.45v9.58h-1.45zM411.43 115.06h1.45v9.58h-1.45zM306.33 124.6h1.45v9.58h-1.45zM313.34 124.6h1.45v9.58h-1.45zM321.74 124.6h1.45v9.58h-1.45zM331.55 124.6h1.45v9.58h-1.45zM345.57 124.6h1.45v9.58h-1.45zM346.97 124.6h1.45v9.58h-1.45zM379.2 124.6h1.45v9.58h-1.45zM386.21 124.6h1.45v9.58h-1.45zM474.49 124.6h1.45v9.58h-1.45zM323.15 134.13h1.45v9.58h-1.45zM379.2 134.13h1.45v9.58h-1.45zM422.64 134.13h1.45v9.58h-1.45zM316.14 143.66h1.45v9.58h-1.45zM344.17 143.66h1.45v9.58h-1.45zM345.57 143.66h1.45v9.58h-1.45zM359.58 143.66h1.45v9.58h-1.45zM429.65 143.66h1.45v9.58h-1.45zM432.45 143.66h1.45v9.58h-1.45zM320.34 153.19h1.45v9.58h-1.45zM330.15 153.19h1.45v9.58h-1.45zM339.96 153.19h1.45v9.58h-1.45zM376.4 153.19h1.45v9.58h-1.45zM383.4 153.19h1.45v9.58h-1.45zM384.8 153.19h1.45v9.58h-1.45zM433.85 153.19h1.45v9.58h-1.45zM334.36 162.72h1.45v9.58h-1.45zM370.79 162.72h1.45v9.58h-1.45zM387.61 162.72h1.45v9.58h-1.45zM461.88 162.72h1.45v9.58h-1.45zM297.92 172.25h1.45v9.58h-1.45zM313.34 172.25h1.45v9.58h-1.45zM317.54 172.25h1.45v9.58h-1.45zM327.35 172.25h1.45v9.58h-1.45zM328.75 172.25h1.45v9.58h-1.45zM382 172.25h1.45v9.58h-1.45zM421.24 172.25h1.45v9.58h-1.45zM471.69 172.25h1.45v9.58h-1.45zM299.32 181.79h1.45v9.58h-1.45zM300.72 181.79h1.45v9.58h-1.45zM311.93 181.79h1.45v9.58h-1.45zM313.34 181.79h1.45v9.58h-1.45zM338.56 181.79h1.45v9.58h-1.45zM374.99 181.79h1.45v9.58h-1.45zM433.85 181.79h1.45v9.58h-1.45zM464.68 181.79h1.45v9.58h-1.45zM467.48 181.79h1.45v9.58h-1.45zM337.16 200.85h1.45v9.58h-1.45zM407.23 200.85h1.45v9.58h-1.45zM435.25 200.85h1.45v9.58h-1.45zM456.27 200.85h1.45v9.58h-1.45zM438.05 210.38h1.45v9.58h-1.45zM445.06 210.38h1.45v9.58h-1.45zM452.07 210.38h1.45v9.58h-1.45zM453.47 210.38h1.45v9.58h-1.45zM464.68 210.38h1.45v9.58h-1.45zM474.49 210.38h1.45v9.58h-1.45zM478.69 210.38h1.45v9.58h-1.45zM438.05 219.91h1.45v9.58h-1.45zM449.27 219.91h1.45v9.58h-1.45zM475.89 219.91h1.45v9.58h-1.45zM303.53 229.45h1.45v9.58h-1.45zM366.59 229.45h1.45v9.58h-1.45zM372.19 229.45h1.45v9.58h-1.45zM374.99 229.45h1.45v9.58h-1.45zM376.4 229.45h1.45v9.58h-1.45zM377.8 229.45h1.45v9.58h-1.45zM408.63 229.45h1.45v9.58h-1.45zM419.84 229.45h1.45v9.58h-1.45zM421.24 229.45h1.45v9.58h-1.45zM405.82 238.98h1.45v9.58h-1.45zM443.66 238.98h1.45v9.58h-1.45zM445.06 248.51h1.45v9.58h-1.45zM452.07 248.51h1.45v9.58h-1.45zM482.9 248.51h1.45v9.58h-1.45zM484.3 248.51h1.45v9.58h-1.45zM449.27 258.04h1.45v9.58h-1.45zM475.89 258.04h1.45v9.58h-1.45zM459.07 267.57h1.45v9.58h-1.45zM461.88 267.57h1.45v9.58h-1.45zM470.29 267.57h1.45v9.58h-1.45zM471.69 267.57h1.45v9.58h-1.45zM482.9 267.57h1.45v9.58h-1.45z"/><path fill="#e48466" d="M334.36 96h1.45v9.58h-1.45zM447.86 96h1.45v9.58h-1.45zM307.73 105.53h1.45v9.58h-1.45zM457.67 105.53h1.45v9.58h-1.45zM391.81 115.06h1.45v9.58h-1.45zM457.67 124.6h1.45v9.58h-1.45zM461.88 124.6h1.45v9.58h-1.45zM418.44 143.66h1.45v9.58h-1.45zM480.09 153.19h1.45v9.58h-1.45zM481.5 153.19h1.45v9.58h-1.45zM453.47 162.72h1.45v9.58h-1.45zM454.87 162.72h1.45v9.58h-1.45zM424.04 172.25h1.45v9.58h-1.45zM480.09 172.25h1.45v9.58h-1.45zM481.5 172.25h1.45v9.58h-1.45zM408.63 181.79h1.45v9.58h-1.45zM403.02 200.85h1.45v9.58h-1.45z"/><path fill="#f6ae90" d="M335.76 96h1.45v9.58h-1.45zM390.41 105.53h1.45v9.58h-1.45zM316.14 115.06h1.45v9.58h-1.45zM369.39 115.06h1.45v9.58h-1.45zM393.21 115.06h1.45v9.58h-1.45zM460.48 115.06h1.45v9.58h-1.45zM461.88 115.06h1.45v9.58h-1.45zM466.08 115.06h1.45v9.58h-1.45zM295.12 124.6h1.45v9.58h-1.45zM316.14 124.6h1.45v9.58h-1.45zM335.76 124.6h1.45v9.58h-1.45zM394.61 134.13h1.45v9.58h-1.45zM475.89 134.13h1.45v9.58h-1.45zM309.13 143.66h1.45v9.58h-1.45zM320.34 143.66h1.45v9.58h-1.45zM475.89 143.66h1.45v9.58h-1.45zM403.02 153.19h1.45v9.58h-1.45zM424.04 162.72h1.45v9.58h-1.45zM358.18 172.25h1.45v9.58h-1.45zM377.8 172.25h1.45v9.58h-1.45zM407.23 181.79h1.45v9.58h-1.45zM475.89 181.79h1.45v9.58h-1.45zM445.06 200.85h1.45v9.58h-1.45zM453.47 200.85h1.45v9.58h-1.45zM482.9 200.85h1.45v9.58h-1.45zM424.04 210.38h1.45v9.58h-1.45zM436.65 219.91h1.45v9.58h-1.45zM481.5 219.91h1.45v9.58h-1.45zM407.23 229.45h1.45v9.58h-1.45zM403.02 248.51h1.45v9.58h-1.45zM467.48 248.51h1.45v9.58h-1.45zM468.88 248.51h1.45v9.58h-1.45zM480.09 248.51h1.45v9.58h-1.45zM403.02 258.04h1.45v9.58h-1.45z"/><path fill="#fcccae" d="M339.96 96h1.45v9.58h-1.45zM394.61 96h1.45v9.58h-1.45zM325.95 105.53h1.45v9.58h-1.45zM324.55 124.6h1.45v9.58h-1.45zM404.42 124.6h1.45v9.58h-1.45zM346.97 134.13h1.45v9.58h-1.45zM362.38 143.66h1.45v9.58h-1.45zM422.64 143.66h1.45v9.58h-1.45zM426.84 143.66h1.45v9.58h-1.45zM367.99 153.19h1.45v9.58h-1.45zM407.23 162.72h1.45v9.58h-1.45zM348.37 229.45h1.45v9.58h-1.45zM425.44 238.98h1.45v9.58h-1.45zM425.44 277.1h1.45v9.58h-1.45z"/><path fill="#fce4d2" d="M341.36 96h1.45v9.58h-1.45zM342.76 96h1.45v9.58h-1.45zM345.57 105.53h1.45v9.58h-1.45zM377.8 105.53h1.45v9.58h-1.45zM320.34 115.06h1.45v9.58h-1.45zM321.74 115.06h1.45v9.58h-1.45zM346.97 115.06h1.45v9.58h-1.45zM369.39 124.6h1.45v9.58h-1.45zM373.59 124.6h1.45v9.58h-1.45zM374.99 124.6h1.45v9.58h-1.45zM330.15 143.66h1.45v9.58h-1.45zM351.17 143.66h1.45v9.58h-1.45zM370.79 143.66h1.45v9.58h-1.45zM397.42 143.66h1.45v9.58h-1.45zM398.82 143.66h1.45v9.58h-1.45zM374.99 153.19h1.45v9.58h-1.45zM410.03 153.19h1.45v9.58h-1.45zM321.74 162.72h1.45v9.58h-1.45zM353.97 162.72h1.45v9.58h-1.45zM403.02 162.72h1.45v9.58h-1.45zM435.25 162.72h1.45v9.58h-1.45zM438.05 162.72h1.45v9.58h-1.45zM449.27 162.72h1.45v9.58h-1.45zM471.69 162.72h1.45v9.58h-1.45zM278.3 172.25h1.45v9.58h-1.45zM295.12 172.25h1.45v9.58h-1.45zM417.03 172.25h1.45v9.58h-1.45zM433.85 172.25h1.45v9.58h-1.45zM295.12 181.79h1.45v9.58h-1.45zM334.36 181.79h1.45v9.58h-1.45zM335.76 181.79h1.45v9.58h-1.45zM421.24 181.79h1.45v9.58h-1.45zM396.01 200.85h1.45v9.58h-1.45zM359.58 210.38h1.45v9.58h-1.45zM415.63 219.91h1.45v9.58h-1.45zM454.87 219.91h1.45v9.58h-1.45zM330.15 229.45h1.45v9.58h-1.45zM359.58 229.45h1.45v9.58h-1.45zM379.2 229.45h1.45v9.58h-1.45zM396.01 229.45h1.45v9.58h-1.45zM424.04 238.98h1.45v9.58h-1.45zM470.29 238.98h1.45v9.58h-1.45zM471.69 238.98h1.45v9.58h-1.45zM467.48 267.57h1.45v9.58h-1.45zM468.88 267.57h1.45v9.58h-1.45zM443.66 277.1h1.45v9.58h-1.45zM457.67 277.1h1.45v9.58h-1.45zM442.26 286.64h1.45v9.58h-1.45z"/><path fill="#fceade" d="M345.57 96h1.45v9.58h-1.45zM373.59 96h1.45v9.58h-1.45zM374.99 96h1.45v9.58h-1.45zM348.37 105.53h1.45v9.58h-1.45zM349.77 105.53h1.45v9.58h-1.45zM356.78 105.53h1.45v9.58h-1.45zM376.4 105.53h1.45v9.58h-1.45zM373.59 115.06h1.45v9.58h-1.45zM387.61 124.6h1.45v9.58h-1.45zM314.74 134.13h1.45v9.58h-1.45zM331.55 134.13h1.45v9.58h-1.45zM337.16 134.13h1.45v9.58h-1.45zM398.82 134.13h1.45v9.58h-1.45zM310.53 143.66h1.45v9.58h-1.45zM369.39 153.19h1.45v9.58h-1.45zM370.79 153.19h1.45v9.58h-1.45zM473.09 153.19h1.45v9.58h-1.45zM318.94 162.72h1.45v9.58h-1.45zM369.39 162.72h1.45v9.58h-1.45zM389.01 162.72h1.45v9.58h-1.45zM436.65 162.72h1.45v9.58h-1.45zM292.32 172.25h1.45v9.58h-1.45zM309.13 172.25h1.45v9.58h-1.45zM323.15 172.25h1.45v9.58h-1.45zM332.95 172.25h1.45v9.58h-1.45zM342.76 172.25h1.45v9.58h-1.45zM362.38 172.25h1.45v9.58h-1.45zM474.49 172.25h1.45v9.58h-1.45zM417.03 200.85h1.45v9.58h-1.45zM356.78 210.38h1.45v9.58h-1.45zM379.2 210.38h1.45v9.58h-1.45zM447.86 210.38h1.45v9.58h-1.45zM376.4 219.91h1.45v9.58h-1.45zM435.25 219.91h1.45v9.58h-1.45zM337.16 229.45h1.45v9.58h-1.45zM342.76 229.45h1.45v9.58h-1.45zM411.43 229.45h1.45v9.58h-1.45zM396.01 238.98h1.45v9.58h-1.45zM407.23 248.51h1.45v9.58h-1.45zM396.01 258.04h1.45v9.58h-1.45zM415.63 258.04h1.45v9.58h-1.45zM454.87 258.04h1.45v9.58h-1.45zM466.08 258.04h1.45v9.58h-1.45zM456.27 267.57h1.45v9.58h-1.45zM464.68 267.57h1.45v9.58h-1.45zM466.08 267.57h1.45v9.58h-1.45zM415.63 277.1h1.45v9.58h-1.45zM436.65 277.1h1.45v9.58h-1.45z"/><path fill="#fcded2" d="M349.77 96h1.45v9.58h-1.45zM370.79 96h1.45v9.58h-1.45zM398.82 96h1.45v9.58h-1.45zM299.32 105.53h1.45v9.58h-1.45zM435.25 153.19h1.45v9.58h-1.45zM410.03 162.72h1.45v9.58h-1.45zM321.74 172.25h1.45v9.58h-1.45zM463.28 181.79h1.45v9.58h-1.45zM454.87 200.85h1.45v9.58h-1.45zM478.69 219.91h1.45v9.58h-1.45zM436.65 238.98h1.45v9.58h-1.45zM460.48 267.57h1.45v9.58h-1.45z"/><path fill="#f6ae8a" d="M359.58 96h1.45v9.58h-1.45zM401.62 96h1.45v9.58h-1.45zM410.03 96h1.45v9.58h-1.45zM419.84 96h1.45v9.58h-1.45zM424.04 105.53h1.45v9.58h-1.45zM297.92 115.06h1.45v9.58h-1.45zM334.36 115.06h1.45v9.58h-1.45zM389.01 115.06h1.45v9.58h-1.45zM362.38 124.6h1.45v9.58h-1.45zM425.44 124.6h1.45v9.58h-1.45zM328.75 134.13h1.45v9.58h-1.45zM401.62 143.66h1.45v9.58h-1.45zM365.19 153.19h1.45v9.58h-1.45zM346.97 162.72h1.45v9.58h-1.45zM477.29 210.38h1.45v9.58h-1.45zM404.42 219.91h1.45v9.58h-1.45zM477.29 229.45h1.45v9.58h-1.45z"/><path fill="#e47e66" d="M362.38 96h1.45v9.58h-1.45zM442.26 96h1.45v9.58h-1.45zM400.22 115.06h1.45v9.58h-1.45zM435.25 124.6h1.45v9.58h-1.45zM407.23 172.25h1.45v9.58h-1.45zM425.44 172.25h1.45v9.58h-1.45zM396.01 181.79h1.45v9.58h-1.45zM285.31 191.32h1.45v9.58h-1.45zM290.91 191.32h1.45v9.58h-1.45zM292.32 191.32h1.45v9.58h-1.45zM299.32 191.32h1.45v9.58h-1.45zM400.22 191.32h1.45v9.58h-1.45z"/><path fill="#cc4842" d="M365.19 96h1.45v9.58h-1.45zM456.27 105.53h1.45v9.58h-1.45zM436.65 115.06h1.45v9.58h-1.45zM450.67 115.06h1.45v9.58h-1.45zM446.46 124.6h1.45v9.58h-1.45zM445.06 153.19h1.45v9.58h-1.45zM367.99 172.25h1.45v9.58h-1.45zM445.06 172.25h1.45v9.58h-1.45zM457.67 172.25h1.45v9.58h-1.45zM324.55 191.32h1.45v9.58h-1.45zM338.56 191.32h1.45v9.58h-1.45zM356.78 191.32h1.45v9.58h-1.45zM367.99 191.32h1.45v9.58h-1.45zM377.8 191.32h1.45v9.58h-1.45zM415.63 191.32h1.45v9.58h-1.45zM438.05 191.32h1.45v9.58h-1.45zM449.27 191.32h1.45v9.58h-1.45zM464.68 191.32h1.45v9.58h-1.45zM467.48 191.32h1.45v9.58h-1.45zM468.88 191.32h1.45v9.58h-1.45zM481.5 210.38h1.45v9.58h-1.45zM482.9 229.45h1.45v9.58h-1.45z"/><path fill="#cc5448" d="M366.59 96h1.45v9.58h-1.45zM438.05 134.13h1.45v9.58h-1.45zM447.86 134.13h1.45v9.58h-1.45zM452.07 134.13h1.45v9.58h-1.45zM461.88 134.13h1.45v9.58h-1.45zM425.44 181.79h1.45v9.58h-1.45zM457.67 181.79h1.45v9.58h-1.45zM303.53 191.32h1.45v9.58h-1.45zM309.13 191.32h1.45v9.58h-1.45zM380.6 191.32h1.45v9.58h-1.45zM390.41 191.32h1.45v9.58h-1.45zM461.88 229.45h1.45v9.58h-1.45z"/><path fill="#f6b490" d="M369.39 96h1.45v9.58h-1.45zM297.92 105.53h1.45v9.58h-1.45zM382 105.53h1.45v9.58h-1.45zM414.23 115.06h1.45v9.58h-1.45zM426.84 115.06h1.45v9.58h-1.45zM449.27 115.06h1.45v9.58h-1.45zM327.35 124.6h1.45v9.58h-1.45zM407.23 124.6h1.45v9.58h-1.45zM408.63 124.6h1.45v9.58h-1.45zM295.12 134.13h1.45v9.58h-1.45zM415.63 134.13h1.45v9.58h-1.45zM431.05 134.13h1.45v9.58h-1.45zM328.75 143.66h1.45v9.58h-1.45zM339.96 143.66h1.45v9.58h-1.45zM417.03 143.66h1.45v9.58h-1.45zM424.04 143.66h1.45v9.58h-1.45zM425.44 143.66h1.45v9.58h-1.45zM428.25 143.66h1.45v9.58h-1.45zM464.68 153.19h1.45v9.58h-1.45zM345.57 162.72h1.45v9.58h-1.45zM470.29 162.72h1.45v9.58h-1.45zM401.62 172.25h1.45v9.58h-1.45zM415.63 172.25h1.45v9.58h-1.45zM320.34 181.79h1.45v9.58h-1.45zM348.37 181.79h1.45v9.58h-1.45zM464.68 200.85h1.45v9.58h-1.45zM466.08 200.85h1.45v9.58h-1.45zM436.65 210.38h1.45v9.58h-1.45zM453.47 219.91h1.45v9.58h-1.45zM439.46 229.45h1.45v9.58h-1.45z"/><path fill="#ea8a6c" d="M372.19 96h1.45v9.58h-1.45zM365.19 105.53h1.45v9.58h-1.45zM391.81 105.53h1.45v9.58h-1.45zM461.88 105.53h1.45v9.58h-1.45zM439.46 115.06h1.45v9.58h-1.45zM403.02 124.6h1.45v9.58h-1.45zM428.25 124.6h1.45v9.58h-1.45zM429.65 124.6h1.45v9.58h-1.45zM439.46 124.6h1.45v9.58h-1.45zM418.44 134.13h1.45v9.58h-1.45zM449.27 134.13h1.45v9.58h-1.45zM372.19 143.66h1.45v9.58h-1.45zM468.88 143.66h1.45v9.58h-1.45zM443.66 162.72h1.45v9.58h-1.45zM457.67 162.72h1.45v9.58h-1.45zM400.22 172.25h1.45v9.58h-1.45zM408.63 172.25h1.45v9.58h-1.45zM452.07 172.25h1.45v9.58h-1.45zM403.02 181.79h1.45v9.58h-1.45zM435.25 181.79h1.45v9.58h-1.45zM279.7 191.32h1.45v9.58h-1.45zM286.71 191.32h1.45v9.58h-1.45zM463.28 229.45h1.45v9.58h-1.45z"/><path fill="#fcd8c6" d="M376.4 96h1.45v9.58h-1.45zM377.8 96h1.45v9.58h-1.45zM379.2 96h1.45v9.58h-1.45zM386.21 96h1.45v9.58h-1.45zM417.03 96h1.45v9.58h-1.45zM422.64 96h1.45v9.58h-1.45zM428.25 96h1.45v9.58h-1.45zM316.14 105.53h1.45v9.58h-1.45zM324.55 105.53h1.45v9.58h-1.45zM459.07 105.53h1.45v9.58h-1.45zM352.57 115.06h1.45v9.58h-1.45zM374.99 115.06h1.45v9.58h-1.45zM377.8 115.06h1.45v9.58h-1.45zM337.16 124.6h1.45v9.58h-1.45zM394.61 124.6h1.45v9.58h-1.45zM417.03 124.6h1.45v9.58h-1.45zM410.03 134.13h1.45v9.58h-1.45zM297.92 143.66h1.45v9.58h-1.45zM341.36 143.66h1.45v9.58h-1.45zM346.97 143.66h1.45v9.58h-1.45zM405.82 143.66h1.45v9.58h-1.45zM464.68 143.66h1.45v9.58h-1.45zM474.49 143.66h1.45v9.58h-1.45zM355.38 153.19h1.45v9.58h-1.45zM422.64 153.19h1.45v9.58h-1.45zM314.74 162.72h1.45v9.58h-1.45zM352.57 172.25h1.45v9.58h-1.45zM411.43 172.25h1.45v9.58h-1.45zM467.48 172.25h1.45v9.58h-1.45zM318.94 181.79h1.45v9.58h-1.45zM330.15 181.79h1.45v9.58h-1.45zM404.42 181.79h1.45v9.58h-1.45zM449.27 200.85h1.45v9.58h-1.45zM464.68 219.91h1.45v9.58h-1.45zM466.08 219.91h1.45v9.58h-1.45zM474.49 229.45h1.45v9.58h-1.45zM480.09 238.98h1.45v9.58h-1.45zM438.05 248.51h1.45v9.58h-1.45zM435.25 267.57h1.45v9.58h-1.45zM404.42 277.1h1.45v9.58h-1.45z"/><path fill="#f6c0a2" d="M380.6 96h1.45v9.58h-1.45zM382 96h1.45v9.58h-1.45zM393.21 96h1.45v9.58h-1.45zM411.43 96h1.45v9.58h-1.45zM359.58 105.53h1.45v9.58h-1.45zM407.23 105.53h1.45v9.58h-1.45zM429.65 105.53h1.45v9.58h-1.45zM477.29 105.53h1.45v9.58h-1.45zM478.69 105.53h1.45v9.58h-1.45zM352.57 124.6h1.45v9.58h-1.45zM359.58 124.6h1.45v9.58h-1.45zM330.15 134.13h1.45v9.58h-1.45zM360.98 134.13h1.45v9.58h-1.45zM384.8 134.13h1.45v9.58h-1.45zM419.84 134.13h1.45v9.58h-1.45zM325.95 143.66h1.45v9.58h-1.45zM360.98 143.66h1.45v9.58h-1.45zM367.99 143.66h1.45v9.58h-1.45zM393.21 143.66h1.45v9.58h-1.45zM411.43 143.66h1.45v9.58h-1.45zM467.48 153.19h1.45v9.58h-1.45zM468.88 153.19h1.45v9.58h-1.45zM367.99 162.72h1.45v9.58h-1.45zM339.96 172.25h1.45v9.58h-1.45zM359.58 172.25h1.45v9.58h-1.45zM370.79 172.25h1.45v9.58h-1.45zM387.61 172.25h1.45v9.58h-1.45zM482.9 172.25h1.45v9.58h-1.45zM358.18 181.79h1.45v9.58h-1.45zM359.58 181.79h1.45v9.58h-1.45zM468.88 181.79h1.45v9.58h-1.45zM415.63 200.85h1.45v9.58h-1.45zM452.07 200.85h1.45v9.58h-1.45zM446.46 210.38h1.45v9.58h-1.45zM460.48 210.38h1.45v9.58h-1.45zM452.07 219.91h1.45v9.58h-1.45zM473.09 248.51h1.45v9.58h-1.45zM452.07 258.04h1.45v9.58h-1.45zM453.47 258.04h1.45v9.58h-1.45zM482.9 258.04h1.45v9.58h-1.45z"/><path fill="#f6b496" d="M383.4 96h1.45v9.58h-1.45zM418.44 96h1.45v9.58h-1.45zM323.15 105.53h1.45v9.58h-1.45zM372.19 105.53h1.45v9.58h-1.45zM432.45 105.53h1.45v9.58h-1.45zM433.85 105.53h1.45v9.58h-1.45zM466.08 105.53h1.45v9.58h-1.45zM296.52 115.06h1.45v9.58h-1.45zM376.4 115.06h1.45v9.58h-1.45zM384.8 115.06h1.45v9.58h-1.45zM387.61 115.06h1.45v9.58h-1.45zM421.24 115.06h1.45v9.58h-1.45zM307.73 124.6h1.45v9.58h-1.45zM317.54 124.6h1.45v9.58h-1.45zM318.94 124.6h1.45v9.58h-1.45zM332.95 124.6h1.45v9.58h-1.45zM334.36 124.6h1.45v9.58h-1.45zM339.96 124.6h1.45v9.58h-1.45zM384.8 124.6h1.45v9.58h-1.45zM391.81 124.6h1.45v9.58h-1.45zM424.04 124.6h1.45v9.58h-1.45zM327.35 134.13h1.45v9.58h-1.45zM417.03 134.13h1.45v9.58h-1.45zM425.44 134.13h1.45v9.58h-1.45zM428.25 134.13h1.45v9.58h-1.45zM429.65 134.13h1.45v9.58h-1.45zM447.86 153.19h1.45v9.58h-1.45zM356.78 172.25h1.45v9.58h-1.45zM394.61 172.25h1.45v9.58h-1.45zM435.25 172.25h1.45v9.58h-1.45zM446.46 172.25h1.45v9.58h-1.45zM477.29 172.25h1.45v9.58h-1.45zM478.69 172.25h1.45v9.58h-1.45zM370.79 181.79h1.45v9.58h-1.45zM431.05 181.79h1.45v9.58h-1.45zM484.3 200.85h1.45v9.58h-1.45zM461.88 210.38h1.45v9.58h-1.45zM475.89 210.38h1.45v9.58h-1.45zM425.44 219.91h1.45v9.58h-1.45zM460.48 219.91h1.45v9.58h-1.45zM461.88 219.91h1.45v9.58h-1.45zM480.09 219.91h1.45v9.58h-1.45zM466.08 229.45h1.45v9.58h-1.45zM404.42 238.98h1.45v9.58h-1.45zM481.5 238.98h1.45v9.58h-1.45zM442.26 258.04h1.45v9.58h-1.45zM484.3 258.04h1.45v9.58h-1.45zM457.67 267.57h1.45v9.58h-1.45z"/><path fill="#fcc0a8" d="M384.8 96h1.45v9.58h-1.45zM424.04 96h1.45v9.58h-1.45zM464.68 96h1.45v9.58h-1.45zM296.52 105.53h1.45v9.58h-1.45zM320.34 105.53h1.45v9.58h-1.45zM321.74 105.53h1.45v9.58h-1.45zM323.15 115.06h1.45v9.58h-1.45zM342.76 115.06h1.45v9.58h-1.45zM344.17 115.06h1.45v9.58h-1.45zM349.77 134.13h1.45v9.58h-1.45zM405.82 134.13h1.45v9.58h-1.45zM318.94 143.66h1.45v9.58h-1.45zM342.76 143.66h1.45v9.58h-1.45zM467.48 143.66h1.45v9.58h-1.45zM400.22 153.19h1.45v9.58h-1.45zM438.05 153.19h1.45v9.58h-1.45zM449.27 153.19h1.45v9.58h-1.45zM396.01 162.72h1.45v9.58h-1.45zM439.46 162.72h1.45v9.58h-1.45zM480.09 162.72h1.45v9.58h-1.45zM481.5 162.72h1.45v9.58h-1.45zM482.9 162.72h1.45v9.58h-1.45zM405.82 172.25h1.45v9.58h-1.45zM337.16 181.79h1.45v9.58h-1.45zM342.76 181.79h1.45v9.58h-1.45zM391.81 181.79h1.45v9.58h-1.45zM478.69 181.79h1.45v9.58h-1.45zM484.3 181.79h1.45v9.58h-1.45zM404.42 210.38h1.45v9.58h-1.45zM363.78 229.45h1.45v9.58h-1.45zM415.63 229.45h1.45v9.58h-1.45zM475.89 248.51h1.45v9.58h-1.45zM459.07 258.04h1.45v9.58h-1.45zM460.48 258.04h1.45v9.58h-1.45zM463.28 258.04h1.45v9.58h-1.45zM464.68 258.04h1.45v9.58h-1.45z"/><path fill="#f0a27e" d="M390.41 96h1.45v9.58h-1.45zM407.23 96h1.45v9.58h-1.45zM431.05 96h1.45v9.58h-1.45zM433.85 96h1.45v9.58h-1.45zM307.73 115.06h1.45v9.58h-1.45zM403.02 115.06h1.45v9.58h-1.45zM412.83 115.06h1.45v9.58h-1.45zM431.05 115.06h1.45v9.58h-1.45zM475.89 115.06h1.45v9.58h-1.45zM449.27 124.6h1.45v9.58h-1.45zM393.21 134.13h1.45v9.58h-1.45zM400.22 134.13h1.45v9.58h-1.45zM365.19 143.66h1.45v9.58h-1.45zM400.22 143.66h1.45v9.58h-1.45zM461.88 143.66h1.45v9.58h-1.45zM471.69 153.19h1.45v9.58h-1.45zM475.89 153.19h1.45v9.58h-1.45zM422.64 172.25h1.45v9.58h-1.45zM460.48 181.79h1.45v9.58h-1.45zM475.89 200.85h1.45v9.58h-1.45z"/><path fill="#f6a884" d="M391.81 96h1.45v9.58h-1.45zM309.13 105.53h1.45v9.58h-1.45zM328.75 105.53h1.45v9.58h-1.45zM366.59 105.53h1.45v9.58h-1.45zM394.61 105.53h1.45v9.58h-1.45zM400.22 105.53h1.45v9.58h-1.45zM404.42 105.53h1.45v9.58h-1.45zM405.82 105.53h1.45v9.58h-1.45zM414.23 105.53h1.45v9.58h-1.45zM417.03 105.53h1.45v9.58h-1.45zM419.84 105.53h1.45v9.58h-1.45zM431.05 105.53h1.45v9.58h-1.45zM460.48 105.53h1.45v9.58h-1.45zM325.95 115.06h1.45v9.58h-1.45zM390.41 115.06h1.45v9.58h-1.45zM419.84 115.06h1.45v9.58h-1.45zM463.28 115.06h1.45v9.58h-1.45zM320.34 124.6h1.45v9.58h-1.45zM351.17 124.6h1.45v9.58h-1.45zM360.98 124.6h1.45v9.58h-1.45zM405.82 124.6h1.45v9.58h-1.45zM477.29 124.6h1.45v9.58h-1.45zM478.69 124.6h1.45v9.58h-1.45zM321.74 134.13h1.45v9.58h-1.45zM372.19 134.13h1.45v9.58h-1.45zM383.4 134.13h1.45v9.58h-1.45zM391.81 143.66h1.45v9.58h-1.45zM404.42 143.66h1.45v9.58h-1.45zM460.48 143.66h1.45v9.58h-1.45zM463.28 143.66h1.45v9.58h-1.45zM460.48 153.19h1.45v9.58h-1.45zM432.45 162.72h1.45v9.58h-1.45zM445.06 162.72h1.45v9.58h-1.45zM386.21 172.25h1.45v9.58h-1.45zM410.03 172.25h1.45v9.58h-1.45zM461.88 172.25h1.45v9.58h-1.45zM470.29 172.25h1.45v9.58h-1.45zM346.97 181.79h1.45v9.58h-1.45zM410.03 181.79h1.45v9.58h-1.45zM278.3 191.32h1.45v9.58h-1.45zM473.09 200.85h1.45v9.58h-1.45zM470.29 210.38h1.45v9.58h-1.45zM471.69 210.38h1.45v9.58h-1.45zM480.09 210.38h1.45v9.58h-1.45zM457.67 219.91h1.45v9.58h-1.45zM447.86 229.45h1.45v9.58h-1.45zM403.02 238.98h1.45v9.58h-1.45zM436.65 248.51h1.45v9.58h-1.45zM445.06 258.04h1.45v9.58h-1.45z"/><path fill="#b42430" d="M396.01 96h1.45v9.58h-1.45zM470.29 115.06h1.45v9.58h-1.45zM456.27 134.13h1.45v9.58h-1.45zM456.27 172.25h1.45v9.58h-1.45zM445.06 191.32h1.45v9.58h-1.45z"/><path fill="#d8604e" d="M403.02 96h1.45v9.58h-1.45zM415.63 96h1.45v9.58h-1.45zM435.25 105.53h1.45v9.58h-1.45zM450.67 105.53h1.45v9.58h-1.45zM440.86 134.13h1.45v9.58h-1.45zM450.67 134.13h1.45v9.58h-1.45zM396.01 143.66h1.45v9.58h-1.45zM452.07 143.66h1.45v9.58h-1.45zM471.69 143.66h1.45v9.58h-1.45zM440.86 172.25h1.45v9.58h-1.45zM432.45 181.79h1.45v9.58h-1.45zM310.53 191.32h1.45v9.58h-1.45zM320.34 191.32h1.45v9.58h-1.45zM321.74 191.32h1.45v9.58h-1.45zM323.15 191.32h1.45v9.58h-1.45zM334.36 191.32h1.45v9.58h-1.45zM341.36 191.32h1.45v9.58h-1.45zM362.38 191.32h1.45v9.58h-1.45zM373.59 191.32h1.45v9.58h-1.45zM387.61 191.32h1.45v9.58h-1.45zM393.21 191.32h1.45v9.58h-1.45zM419.84 191.32h1.45v9.58h-1.45zM443.66 200.85h1.45v9.58h-1.45zM481.5 200.85h1.45v9.58h-1.45zM446.46 229.45h1.45v9.58h-1.45zM475.89 229.45h1.45v9.58h-1.45zM480.09 229.45h1.45v9.58h-1.45zM471.69 248.51h1.45v9.58h-1.45z"/><path fill="#e48a6c" d="M404.42 96h1.45v9.58h-1.45zM412.83 96h1.45v9.58h-1.45zM459.07 134.13h1.45v9.58h-1.45zM346.97 172.25h1.45v9.58h-1.45zM459.07 229.45h1.45v9.58h-1.45z"/><path fill="#de7860" d="M414.23 96h1.45v9.58h-1.45zM443.66 96h1.45v9.58h-1.45zM443.66 105.53h1.45v9.58h-1.45zM449.27 105.53h1.45v9.58h-1.45zM332.95 115.06h1.45v9.58h-1.45zM481.5 115.06h1.45v9.58h-1.45zM367.99 124.6h1.45v9.58h-1.45zM456.27 124.6h1.45v9.58h-1.45zM481.5 124.6h1.45v9.58h-1.45zM436.65 134.13h1.45v9.58h-1.45zM447.86 143.66h1.45v9.58h-1.45zM300.72 191.32h1.45v9.58h-1.45zM401.62 191.32h1.45v9.58h-1.45zM429.65 191.32h1.45v9.58h-1.45zM453.47 229.45h1.45v9.58h-1.45z"/><path fill="#f6ba9c" d="M429.65 96h1.45v9.58h-1.45zM330.15 105.53h1.45v9.58h-1.45zM331.55 105.53h1.45v9.58h-1.45zM332.95 105.53h1.45v9.58h-1.45zM334.36 105.53h1.45v9.58h-1.45zM408.63 105.53h1.45v9.58h-1.45zM309.13 115.06h1.45v9.58h-1.45zM317.54 115.06h1.45v9.58h-1.45zM330.15 115.06h1.45v9.58h-1.45zM341.36 115.06h1.45v9.58h-1.45zM349.77 115.06h1.45v9.58h-1.45zM359.58 115.06h1.45v9.58h-1.45zM367.99 115.06h1.45v9.58h-1.45zM380.6 115.06h1.45v9.58h-1.45zM382 115.06h1.45v9.58h-1.45zM325.95 124.6h1.45v9.58h-1.45zM342.76 124.6h1.45v9.58h-1.45zM432.45 124.6h1.45v9.58h-1.45zM433.85 124.6h1.45v9.58h-1.45zM473.09 124.6h1.45v9.58h-1.45zM475.89 124.6h1.45v9.58h-1.45zM318.94 134.13h1.45v9.58h-1.45zM325.95 134.13h1.45v9.58h-1.45zM367.99 134.13h1.45v9.58h-1.45zM404.42 134.13h1.45v9.58h-1.45zM317.54 143.66h1.45v9.58h-1.45zM327.35 143.66h1.45v9.58h-1.45zM334.36 143.66h1.45v9.58h-1.45zM459.07 143.66h1.45v9.58h-1.45zM358.18 153.19h1.45v9.58h-1.45zM477.29 153.19h1.45v9.58h-1.45zM478.69 153.19h1.45v9.58h-1.45zM446.46 162.72h1.45v9.58h-1.45zM450.67 162.72h1.45v9.58h-1.45zM314.74 172.25h1.45v9.58h-1.45zM330.15 172.25h1.45v9.58h-1.45zM355.38 172.25h1.45v9.58h-1.45zM376.4 172.25h1.45v9.58h-1.45zM429.65 172.25h1.45v9.58h-1.45zM464.68 172.25h1.45v9.58h-1.45zM415.63 181.79h1.45v9.58h-1.45zM461.88 181.79h1.45v9.58h-1.45zM276.9 191.32h1.45v9.58h-1.45zM424.04 200.85h1.45v9.58h-1.45zM450.67 200.85h1.45v9.58h-1.45zM407.23 210.38h1.45v9.58h-1.45zM450.67 210.38h1.45v9.58h-1.45zM407.23 219.91h1.45v9.58h-1.45zM467.48 219.91h1.45v9.58h-1.45zM468.88 219.91h1.45v9.58h-1.45zM404.42 229.45h1.45v9.58h-1.45zM449.27 229.45h1.45v9.58h-1.45zM473.09 229.45h1.45v9.58h-1.45zM424.04 258.04h1.45v9.58h-1.45zM447.86 258.04h1.45v9.58h-1.45zM468.88 258.04h1.45v9.58h-1.45zM478.69 258.04h1.45v9.58h-1.45zM436.65 267.57h1.45v9.58h-1.45z"/><path fill="#c63c3c" d="M435.25 96h1.45v9.58h-1.45zM446.46 96h1.45v9.58h-1.45zM482.9 105.53h1.45v9.58h-1.45zM484.3 105.53h1.45v9.58h-1.45zM435.25 115.06h1.45v9.58h-1.45zM468.88 124.6h1.45v9.58h-1.45zM442.26 181.79h1.45v9.58h-1.45zM443.66 181.79h1.45v9.58h-1.45zM396.01 191.32h1.45v9.58h-1.45zM474.49 191.32h1.45v9.58h-1.45z"/><path fill="#ae182a" d="M436.65 96h1.45v9.58h-1.45zM436.65 105.53h1.45v9.58h-1.45zM456.27 143.66h1.45v9.58h-1.45z"/><path fill="#d25448" d="M438.05 96h1.45v9.58h-1.45zM447.86 105.53h1.45v9.58h-1.45zM436.65 124.6h1.45v9.58h-1.45zM453.47 143.66h1.45v9.58h-1.45zM454.87 143.66h1.45v9.58h-1.45zM440.86 153.19h1.45v9.58h-1.45zM424.04 181.79h1.45v9.58h-1.45zM314.74 191.32h1.45v9.58h-1.45zM351.17 191.32h1.45v9.58h-1.45zM372.19 191.32h1.45v9.58h-1.45zM379.2 191.32h1.45v9.58h-1.45zM391.81 191.32h1.45v9.58h-1.45zM405.82 191.32h1.45v9.58h-1.45zM408.63 191.32h1.45v9.58h-1.45zM410.03 191.32h1.45v9.58h-1.45zM457.67 229.45h1.45v9.58h-1.45zM471.69 229.45h1.45v9.58h-1.45z"/><path fill="#de725a" d="M439.46 96h1.45v9.58h-1.45zM482.9 96h1.45v9.58h-1.45zM484.3 96h1.45v9.58h-1.45zM447.86 115.06h1.45v9.58h-1.45zM453.47 124.6h1.45v9.58h-1.45zM454.87 124.6h1.45v9.58h-1.45zM460.48 134.13h1.45v9.58h-1.45zM463.28 134.13h1.45v9.58h-1.45zM481.5 134.13h1.45v9.58h-1.45zM440.86 143.66h1.45v9.58h-1.45zM446.46 153.19h1.45v9.58h-1.45zM442.26 162.72h1.45v9.58h-1.45zM432.45 172.25h1.45v9.58h-1.45zM422.64 181.79h1.45v9.58h-1.45zM452.07 181.79h1.45v9.58h-1.45zM283.91 191.32h1.45v9.58h-1.45zM302.13 191.32h1.45v9.58h-1.45zM306.33 191.32h1.45v9.58h-1.45zM414.23 191.32h1.45v9.58h-1.45zM418.44 191.32h1.45v9.58h-1.45zM422.64 191.32h1.45v9.58h-1.45zM478.69 229.45h1.45v9.58h-1.45zM470.29 258.04h1.45v9.58h-1.45zM481.5 258.04h1.45v9.58h-1.45z"/><path fill="#de6c5a" d="M440.86 96h1.45v9.58h-1.45zM440.86 105.53h1.45v9.58h-1.45zM438.05 115.06h1.45v9.58h-1.45zM450.67 143.66h1.45v9.58h-1.45zM445.06 181.79h1.45v9.58h-1.45zM446.46 181.79h1.45v9.58h-1.45zM331.55 191.32h1.45v9.58h-1.45z"/><path fill="#9c1224" d="M445.06 96h1.45v9.58h-1.45zM480.09 124.6h1.45v9.58h-1.45zM480.09 143.66h1.45v9.58h-1.45zM481.5 191.32h1.45v9.58h-1.45z"/><path fill="#f6a284" d="M449.27 96h1.45v9.58h-1.45zM414.23 124.6h1.45v9.58h-1.45zM309.13 134.13h1.45v9.58h-1.45zM484.3 153.19h1.45v9.58h-1.45zM431.05 172.25h1.45v9.58h-1.45zM460.48 172.25h1.45v9.58h-1.45zM403.02 210.38h1.45v9.58h-1.45zM456.27 229.45h1.45v9.58h-1.45z"/><path fill="#e47860" d="M452.07 96h1.45v9.58h-1.45zM454.87 96h1.45v9.58h-1.45zM424.04 115.06h1.45v9.58h-1.45zM425.44 115.06h1.45v9.58h-1.45zM484.3 124.6h1.45v9.58h-1.45zM481.5 143.66h1.45v9.58h-1.45zM293.72 191.32h1.45v9.58h-1.45zM446.46 200.85h1.45v9.58h-1.45zM440.86 229.45h1.45v9.58h-1.45zM442.26 229.45h1.45v9.58h-1.45zM452.07 229.45h1.45v9.58h-1.45zM446.46 258.04h1.45v9.58h-1.45zM471.69 258.04h1.45v9.58h-1.45z"/><path fill="#d25a48" d="M456.27 96h1.45v9.58h-1.45zM453.47 105.53h1.45v9.58h-1.45zM468.88 105.53h1.45v9.58h-1.45zM396.01 124.6h1.45v9.58h-1.45zM477.29 134.13h1.45v9.58h-1.45zM478.69 134.13h1.45v9.58h-1.45zM436.65 143.66h1.45v9.58h-1.45zM439.46 143.66h1.45v9.58h-1.45zM470.29 143.66h1.45v9.58h-1.45zM484.3 143.66h1.45v9.58h-1.45zM453.47 153.19h1.45v9.58h-1.45zM365.19 172.25h1.45v9.58h-1.45zM442.26 172.25h1.45v9.58h-1.45zM443.66 172.25h1.45v9.58h-1.45zM365.19 181.79h1.45v9.58h-1.45zM470.29 181.79h1.45v9.58h-1.45zM295.12 191.32h1.45v9.58h-1.45zM307.73 191.32h1.45v9.58h-1.45zM317.54 191.32h1.45v9.58h-1.45zM330.15 191.32h1.45v9.58h-1.45zM332.95 191.32h1.45v9.58h-1.45zM337.16 191.32h1.45v9.58h-1.45zM342.76 191.32h1.45v9.58h-1.45zM383.4 191.32h1.45v9.58h-1.45zM389.01 191.32h1.45v9.58h-1.45zM394.61 191.32h1.45v9.58h-1.45zM426.84 191.32h1.45v9.58h-1.45zM428.25 191.32h1.45v9.58h-1.45zM431.05 191.32h1.45v9.58h-1.45zM473.09 191.32h1.45v9.58h-1.45zM484.3 191.32h1.45v9.58h-1.45z"/><path fill="#d86c54" d="M457.67 96h1.45v9.58h-1.45zM481.5 96h1.45v9.58h-1.45zM454.87 105.53h1.45v9.58h-1.45zM454.87 115.06h1.45v9.58h-1.45zM438.05 124.6h1.45v9.58h-1.45zM452.07 124.6h1.45v9.58h-1.45zM442.26 134.13h1.45v9.58h-1.45zM443.66 134.13h1.45v9.58h-1.45zM435.25 143.66h1.45v9.58h-1.45zM470.29 153.19h1.45v9.58h-1.45zM454.87 172.25h1.45v9.58h-1.45zM297.92 191.32h1.45v9.58h-1.45zM369.39 191.32h1.45v9.58h-1.45zM370.79 191.32h1.45v9.58h-1.45zM404.42 191.32h1.45v9.58h-1.45zM411.43 191.32h1.45v9.58h-1.45zM412.83 191.32h1.45v9.58h-1.45zM470.29 200.85h1.45v9.58h-1.45zM471.69 200.85h1.45v9.58h-1.45zM470.29 219.91h1.45v9.58h-1.45zM467.48 229.45h1.45v9.58h-1.45zM468.88 229.45h1.45v9.58h-1.45zM443.66 258.04h1.45v9.58h-1.45z"/><path fill="#d86654" d="M467.48 96h1.45v9.58h-1.45zM396.01 115.06h1.45v9.58h-1.45zM400.22 124.6h1.45v9.58h-1.45zM403.02 143.66h1.45v9.58h-1.45zM456.27 153.19h1.45v9.58h-1.45zM304.93 191.32h1.45v9.58h-1.45zM311.93 191.32h1.45v9.58h-1.45zM344.17 191.32h1.45v9.58h-1.45zM345.57 191.32h1.45v9.58h-1.45zM352.57 191.32h1.45v9.58h-1.45zM353.97 191.32h1.45v9.58h-1.45zM374.99 191.32h1.45v9.58h-1.45zM376.4 191.32h1.45v9.58h-1.45zM424.04 191.32h1.45v9.58h-1.45zM432.45 191.32h1.45v9.58h-1.45zM466.08 191.32h1.45v9.58h-1.45zM460.48 229.45h1.45v9.58h-1.45z"/><path fill="#ba2430" d="M468.88 96h1.45v9.58h-1.45zM445.06 105.53h1.45v9.58h-1.45zM446.46 105.53h1.45v9.58h-1.45zM470.29 105.53h1.45v9.58h-1.45zM470.29 124.6h1.45v9.58h-1.45zM467.48 134.13h1.45v9.58h-1.45zM442.26 153.19h1.45v9.58h-1.45zM443.66 153.19h1.45v9.58h-1.45zM348.37 191.32h1.45v9.58h-1.45zM349.77 191.32h1.45v9.58h-1.45zM443.66 191.32h1.45v9.58h-1.45zM453.47 191.32h1.45v9.58h-1.45zM457.67 191.32h1.45v9.58h-1.45z"/><path fill="#c03036" d="M470.29 96h1.45v9.58h-1.45zM471.69 96h1.45v9.58h-1.45zM396.01 105.53h1.45v9.58h-1.45zM438.05 105.53h1.45v9.58h-1.45zM445.06 115.06h1.45v9.58h-1.45zM446.46 115.06h1.45v9.58h-1.45zM471.69 115.06h1.45v9.58h-1.45zM445.06 124.6h1.45v9.58h-1.45zM445.06 143.66h1.45v9.58h-1.45zM446.46 143.66h1.45v9.58h-1.45zM454.87 181.79h1.45v9.58h-1.45zM359.58 191.32h1.45v9.58h-1.45zM360.98 191.32h1.45v9.58h-1.45zM365.19 191.32h1.45v9.58h-1.45zM366.59 191.32h1.45v9.58h-1.45zM460.48 191.32h1.45v9.58h-1.45zM475.89 191.32h1.45v9.58h-1.45zM470.29 229.45h1.45v9.58h-1.45z"/><path fill="#f09c78" d="M473.09 96h1.45v9.58h-1.45zM393.21 105.53h1.45v9.58h-1.45zM295.12 115.06h1.45v9.58h-1.45zM477.29 115.06h1.45v9.58h-1.45zM478.69 115.06h1.45v9.58h-1.45zM349.77 124.6h1.45v9.58h-1.45zM411.43 124.6h1.45v9.58h-1.45zM366.59 134.13h1.45v9.58h-1.45zM366.59 143.66h1.45v9.58h-1.45zM442.26 143.66h1.45v9.58h-1.45zM358.18 162.72h1.45v9.58h-1.45zM359.58 162.72h1.45v9.58h-1.45zM439.46 172.25h1.45v9.58h-1.45zM484.3 172.25h1.45v9.58h-1.45zM400.22 181.79h1.45v9.58h-1.45zM436.65 181.79h1.45v9.58h-1.45zM281.11 191.32h1.45v9.58h-1.45zM478.69 200.85h1.45v9.58h-1.45zM443.66 210.38h1.45v9.58h-1.45zM482.9 210.38h1.45v9.58h-1.45zM403.02 219.91h1.45v9.58h-1.45zM438.05 229.45h1.45v9.58h-1.45zM450.67 229.45h1.45v9.58h-1.45zM481.5 248.51h1.45v9.58h-1.45zM403.02 267.57h1.45v9.58h-1.45z"/><path fill="#fcc6a8" d="M477.29 96h1.45v9.58h-1.45zM327.35 105.53h1.45v9.58h-1.45zM407.23 115.06h1.45v9.58h-1.45zM408.63 115.06h1.45v9.58h-1.45zM414.23 134.13h1.45v9.58h-1.45zM433.85 134.13h1.45v9.58h-1.45zM324.55 143.66h1.45v9.58h-1.45zM390.41 143.66h1.45v9.58h-1.45zM365.19 162.72h1.45v9.58h-1.45zM386.21 162.72h1.45v9.58h-1.45zM415.63 162.72h1.45v9.58h-1.45zM422.64 162.72h1.45v9.58h-1.45zM460.48 162.72h1.45v9.58h-1.45zM384.8 172.25h1.45v9.58h-1.45zM404.42 172.25h1.45v9.58h-1.45zM412.83 172.25h1.45v9.58h-1.45zM436.65 172.25h1.45v9.58h-1.45zM377.8 181.79h1.45v9.58h-1.45zM379.2 181.79h1.45v9.58h-1.45zM436.65 200.85h1.45v9.58h-1.45zM463.28 200.85h1.45v9.58h-1.45zM405.82 229.45h1.45v9.58h-1.45zM443.66 248.51h1.45v9.58h-1.45z"/><path fill="#7e0624" d="M480.09 96h1.45v9.58h-1.45zM468.88 134.13h1.45v9.58h-1.45z"/><path fill="#c6def0" d="M275.5 105.53h1.45v9.58h-1.45zM275.5 134.13h1.45v9.58h-1.45zM304.93 134.13h1.45v9.58h-1.45zM282.51 153.19h1.45v9.58h-1.45zM282.51 181.79h1.45v9.58h-1.45zM313.34 200.85h1.45v9.58h-1.45zM369.39 200.85h1.45v9.58h-1.45zM295.12 210.38h1.45v9.58h-1.45zM306.33 219.91h1.45v9.58h-1.45zM317.54 219.91h1.45v9.58h-1.45zM327.35 219.91h1.45v9.58h-1.45zM401.62 219.91h1.45v9.58h-1.45zM428.25 229.45h1.45v9.58h-1.45zM303.53 238.98h1.45v9.58h-1.45zM352.57 238.98h1.45v9.58h-1.45zM383.4 238.98h1.45v9.58h-1.45zM384.8 238.98h1.45v9.58h-1.45zM400.22 238.98h1.45v9.58h-1.45zM414.23 238.98h1.45v9.58h-1.45zM438.05 238.98h1.45v9.58h-1.45zM442.26 238.98h1.45v9.58h-1.45zM349.77 248.51h1.45v9.58h-1.45zM410.03 258.04h1.45v9.58h-1.45zM285.31 267.57h1.45v9.58h-1.45zM433.85 267.57h1.45v9.58h-1.45zM341.36 277.1h1.45v9.58h-1.45zM365.19 277.1h1.45v9.58h-1.45zM464.68 277.1h1.45v9.58h-1.45zM436.65 286.64h1.45v9.58h-1.45zM447.86 286.64h1.45v9.58h-1.45z"/><path fill="#a2cce4" d="M281.11 105.53h1.45v9.58h-1.45zM303.53 162.72h1.45v9.58h-1.45zM400.22 200.85h1.45v9.58h-1.45zM289.51 210.38h1.45v9.58h-1.45zM325.95 210.38h1.45v9.58h-1.45zM400.22 210.38h1.45v9.58h-1.45zM314.74 219.91h1.45v9.58h-1.45zM316.14 219.91h1.45v9.58h-1.45zM279.7 229.45h1.45v9.58h-1.45zM282.51 229.45h1.45v9.58h-1.45zM282.51 238.98h1.45v9.58h-1.45zM439.46 238.98h1.45v9.58h-1.45zM296.52 248.51h1.45v9.58h-1.45zM314.74 248.51h1.45v9.58h-1.45zM316.14 248.51h1.45v9.58h-1.45zM353.97 248.51h1.45v9.58h-1.45zM387.61 248.51h1.45v9.58h-1.45zM418.44 248.51h1.45v9.58h-1.45zM314.74 258.04h1.45v9.58h-1.45zM316.14 258.04h1.45v9.58h-1.45zM327.35 258.04h1.45v9.58h-1.45zM400.22 258.04h1.45v9.58h-1.45zM433.85 258.04h1.45v9.58h-1.45zM429.65 267.57h1.45v9.58h-1.45zM295.12 277.1h1.45v9.58h-1.45zM370.79 277.1h1.45v9.58h-1.45zM391.81 277.1h1.45v9.58h-1.45zM387.61 286.64h1.45v9.58h-1.45zM463.28 286.64h1.45v9.58h-1.45zM464.68 286.64h1.45v9.58h-1.45zM475.89 286.64h1.45v9.58h-1.45zM463.28 296.17h1.45v9.58h-1.45zM484.3 296.17h1.45v9.58h-1.45z"/><path fill="#a8cce4" d="M282.51 105.53h1.45v9.58h-1.45zM275.5 124.6h1.45v9.58h-1.45zM281.11 124.6h1.45v9.58h-1.45zM275.5 143.66h1.45v9.58h-1.45zM306.33 210.38h1.45v9.58h-1.45zM283.91 219.91h1.45v9.58h-1.45zM292.32 219.91h1.45v9.58h-1.45zM432.45 219.91h1.45v9.58h-1.45zM293.72 238.98h1.45v9.58h-1.45zM351.17 238.98h1.45v9.58h-1.45zM286.71 267.57h1.45v9.58h-1.45zM432.45 267.57h1.45v9.58h-1.45zM334.36 277.1h1.45v9.58h-1.45zM484.3 286.64h1.45v9.58h-1.45z"/><path fill="#d8e4f0" d="M283.91 105.53h1.45v9.58h-1.45zM276.9 115.06h1.45v9.58h-1.45zM281.11 115.06h1.45v9.58h-1.45zM290.91 124.6h1.45v9.58h-1.45zM289.51 143.66h1.45v9.58h-1.45zM327.35 162.72h1.45v9.58h-1.45zM302.13 172.25h1.45v9.58h-1.45zM339.96 200.85h1.45v9.58h-1.45zM367.99 200.85h1.45v9.58h-1.45zM382 200.85h1.45v9.58h-1.45zM418.44 210.38h1.45v9.58h-1.45zM286.71 219.91h1.45v9.58h-1.45zM338.56 219.91h1.45v9.58h-1.45zM390.41 229.45h1.45v9.58h-1.45zM397.42 229.45h1.45v9.58h-1.45zM317.54 238.98h1.45v9.58h-1.45zM387.61 238.98h1.45v9.58h-1.45zM345.57 248.51h1.45v9.58h-1.45zM419.84 248.51h1.45v9.58h-1.45zM431.05 248.51h1.45v9.58h-1.45zM335.76 258.04h1.45v9.58h-1.45zM346.97 258.04h1.45v9.58h-1.45zM432.45 258.04h1.45v9.58h-1.45zM353.97 267.57h1.45v9.58h-1.45zM372.19 267.57h1.45v9.58h-1.45zM382 267.57h1.45v9.58h-1.45zM414.23 267.57h1.45v9.58h-1.45zM344.17 277.1h1.45v9.58h-1.45zM369.39 277.1h1.45v9.58h-1.45zM454.87 277.1h1.45v9.58h-1.45zM463.28 277.1h1.45v9.58h-1.45zM440.86 296.17h1.45v9.58h-1.45z"/><path fill="#c6deea" d="M289.51 105.53h1.45v9.58h-1.45zM293.72 105.53h1.45v9.58h-1.45zM304.93 105.53h1.45v9.58h-1.45zM281.11 134.13h1.45v9.58h-1.45zM302.13 162.72h1.45v9.58h-1.45zM282.51 172.25h1.45v9.58h-1.45zM278.3 229.45h1.45v9.58h-1.45zM300.72 258.04h1.45v9.58h-1.45zM429.65 258.04h1.45v9.58h-1.45zM390.41 267.57h1.45v9.58h-1.45zM400.22 267.57h1.45v9.58h-1.45zM384.8 277.1h1.45v9.58h-1.45z"/><path fill="#f0f0f6" d="M300.72 105.53h1.45v9.58h-1.45zM311.93 105.53h1.45v9.58h-1.45zM300.72 115.06h1.45v9.58h-1.45zM278.3 134.13h1.45v9.58h-1.45zM397.42 134.13h1.45v9.58h-1.45zM310.53 153.19h1.45v9.58h-1.45zM318.94 153.19h1.45v9.58h-1.45zM324.55 153.19h1.45v9.58h-1.45zM325.95 153.19h1.45v9.58h-1.45zM405.82 153.19h1.45v9.58h-1.45zM275.5 162.72h1.45v9.58h-1.45zM306.33 162.72h1.45v9.58h-1.45zM310.53 162.72h1.45v9.58h-1.45zM344.17 162.72h1.45v9.58h-1.45zM374.99 162.72h1.45v9.58h-1.45zM404.42 162.72h1.45v9.58h-1.45zM286.71 172.25h1.45v9.58h-1.45zM285.31 181.79h1.45v9.58h-1.45zM352.57 200.85h1.45v9.58h-1.45zM344.17 210.38h1.45v9.58h-1.45zM345.57 210.38h1.45v9.58h-1.45zM376.4 210.38h1.45v9.58h-1.45zM439.46 210.38h1.45v9.58h-1.45zM300.72 219.91h1.45v9.58h-1.45zM321.74 219.91h1.45v9.58h-1.45zM337.16 219.91h1.45v9.58h-1.45zM352.57 219.91h1.45v9.58h-1.45zM386.21 219.91h1.45v9.58h-1.45zM387.61 219.91h1.45v9.58h-1.45zM285.31 229.45h1.45v9.58h-1.45zM295.12 229.45h1.45v9.58h-1.45zM377.8 238.98h1.45v9.58h-1.45zM379.2 238.98h1.45v9.58h-1.45zM342.76 258.04h1.45v9.58h-1.45zM372.19 258.04h1.45v9.58h-1.45zM405.82 258.04h1.45v9.58h-1.45zM307.73 267.57h1.45v9.58h-1.45zM408.63 267.57h1.45v9.58h-1.45zM337.16 277.1h1.45v9.58h-1.45zM362.38 277.1h1.45v9.58h-1.45zM394.61 277.1h1.45v9.58h-1.45zM412.83 277.1h1.45v9.58h-1.45zM442.26 277.1h1.45v9.58h-1.45zM452.07 277.1h1.45v9.58h-1.45zM473.09 277.1h1.45v9.58h-1.45zM442.26 296.17h1.45v9.58h-1.45zM480.09 296.17h1.45v9.58h-1.45z"/><path fill="#bad8ea" d="M303.53 105.53h1.45v9.58h-1.45zM281.11 143.66h1.45v9.58h-1.45zM279.7 172.25h1.45v9.58h-1.45zM290.91 181.79h1.45v9.58h-1.45zM325.95 200.85h1.45v9.58h-1.45zM431.05 200.85h1.45v9.58h-1.45zM370.79 210.38h1.45v9.58h-1.45zM401.62 210.38h1.45v9.58h-1.45zM304.93 219.91h1.45v9.58h-1.45zM380.6 219.91h1.45v9.58h-1.45zM382 219.91h1.45v9.58h-1.45zM433.85 219.91h1.45v9.58h-1.45zM292.32 238.98h1.45v9.58h-1.45zM299.32 238.98h1.45v9.58h-1.45zM449.27 238.98h1.45v9.58h-1.45zM324.55 248.51h1.45v9.58h-1.45zM341.36 248.51h1.45v9.58h-1.45zM401.62 248.51h1.45v9.58h-1.45zM414.23 248.51h1.45v9.58h-1.45zM306.33 258.04h1.45v9.58h-1.45zM311.93 258.04h1.45v9.58h-1.45zM428.25 258.04h1.45v9.58h-1.45zM393.21 267.57h1.45v9.58h-1.45zM394.61 267.57h1.45v9.58h-1.45zM303.53 277.1h1.45v9.58h-1.45zM310.53 277.1h1.45v9.58h-1.45zM330.15 277.1h1.45v9.58h-1.45zM353.97 277.1h1.45v9.58h-1.45zM366.59 277.1h1.45v9.58h-1.45zM387.61 277.1h1.45v9.58h-1.45zM438.05 277.1h1.45v9.58h-1.45zM424.04 286.64h1.45v9.58h-1.45zM425.44 286.64h1.45v9.58h-1.45zM439.46 286.64h1.45v9.58h-1.45zM452.07 286.64h1.45v9.58h-1.45zM425.44 296.17h1.45v9.58h-1.45z"/><path fill="#fcf0e4" d="M313.34 105.53h1.45v9.58h-1.45zM353.97 105.53h1.45v9.58h-1.45zM338.56 124.6h1.45v9.58h-1.45zM342.76 134.13h1.45v9.58h-1.45zM344.17 134.13h1.45v9.58h-1.45zM296.52 143.66h1.45v9.58h-1.45zM314.74 153.19h1.45v9.58h-1.45zM377.8 153.19h1.45v9.58h-1.45zM373.59 162.72h1.45v9.58h-1.45zM401.62 162.72h1.45v9.58h-1.45zM408.63 162.72h1.45v9.58h-1.45zM475.89 162.72h1.45v9.58h-1.45zM478.69 162.72h1.45v9.58h-1.45zM283.91 172.25h1.45v9.58h-1.45zM310.53 172.25h1.45v9.58h-1.45zM278.3 181.79h1.45v9.58h-1.45zM317.54 181.79h1.45v9.58h-1.45zM411.43 181.79h1.45v9.58h-1.45zM439.46 200.85h1.45v9.58h-1.45zM373.59 219.91h1.45v9.58h-1.45zM324.55 229.45h1.45v9.58h-1.45zM318.94 238.98h1.45v9.58h-1.45zM396.01 248.51h1.45v9.58h-1.45zM415.63 248.51h1.45v9.58h-1.45zM442.26 248.51h1.45v9.58h-1.45zM459.07 248.51h1.45v9.58h-1.45zM463.28 248.51h1.45v9.58h-1.45zM363.78 258.04h1.45v9.58h-1.45zM363.78 267.57h1.45v9.58h-1.45zM478.69 267.57h1.45v9.58h-1.45zM468.88 277.1h1.45v9.58h-1.45zM459.07 296.17h1.45v9.58h-1.45z"/><path fill="#f6f0ea" d="M314.74 105.53h1.45v9.58h-1.45zM355.38 105.53h1.45v9.58h-1.45zM310.53 115.06h1.45v9.58h-1.45zM397.42 115.06h1.45v9.58h-1.45zM356.78 124.6h1.45v9.58h-1.45zM292.32 134.13h1.45v9.58h-1.45zM363.78 134.13h1.45v9.58h-1.45zM429.65 162.72h1.45v9.58h-1.45zM433.85 162.72h1.45v9.58h-1.45zM466.08 172.25h1.45v9.58h-1.45zM296.52 181.79h1.45v9.58h-1.45zM363.78 181.79h1.45v9.58h-1.45zM397.42 181.79h1.45v9.58h-1.45zM408.63 200.85h1.45v9.58h-1.45zM331.55 210.38h1.45v9.58h-1.45zM358.18 219.91h1.45v9.58h-1.45zM417.03 219.91h1.45v9.58h-1.45zM344.17 229.45h1.45v9.58h-1.45zM309.13 238.98h1.45v9.58h-1.45zM348.37 238.98h1.45v9.58h-1.45zM454.87 267.57h1.45v9.58h-1.45z"/><path fill="#f6f6f0" d="M374.99 105.53h1.45v9.58h-1.45zM300.72 124.6h1.45v9.58h-1.45zM353.97 134.13h1.45v9.58h-1.45zM293.72 153.19h1.45v9.58h-1.45zM331.55 153.19h1.45v9.58h-1.45zM376.4 162.72h1.45v9.58h-1.45zM306.33 172.25h1.45v9.58h-1.45zM324.55 172.25h1.45v9.58h-1.45zM325.95 172.25h1.45v9.58h-1.45zM331.55 172.25h1.45v9.58h-1.45zM316.14 181.79h1.45v9.58h-1.45zM346.97 210.38h1.45v9.58h-1.45zM360.98 210.38h1.45v9.58h-1.45zM440.86 210.38h1.45v9.58h-1.45zM330.15 219.91h1.45v9.58h-1.45zM346.97 219.91h1.45v9.58h-1.45zM363.78 219.91h1.45v9.58h-1.45zM335.76 229.45h1.45v9.58h-1.45zM384.8 229.45h1.45v9.58h-1.45zM307.73 238.98h1.45v9.58h-1.45zM330.15 238.98h1.45v9.58h-1.45zM397.42 238.98h1.45v9.58h-1.45zM459.07 238.98h1.45v9.58h-1.45zM464.68 248.51h1.45v9.58h-1.45zM362.38 267.57h1.45v9.58h-1.45zM411.43 277.1h1.45v9.58h-1.45z"/><path fill="#cc4e42" d="M403.02 105.53h1.45v9.58h-1.45zM452.07 105.53h1.45v9.58h-1.45zM484.3 115.06h1.45v9.58h-1.45zM439.46 134.13h1.45v9.58h-1.45zM457.67 134.13h1.45v9.58h-1.45zM367.99 181.79h1.45v9.58h-1.45zM327.35 191.32h1.45v9.58h-1.45zM339.96 191.32h1.45v9.58h-1.45zM403.02 191.32h1.45v9.58h-1.45z"/><path fill="#f6a88a" d="M418.44 105.53h1.45v9.58h-1.45zM425.44 105.53h1.45v9.58h-1.45zM324.55 115.06h1.45v9.58h-1.45zM366.59 115.06h1.45v9.58h-1.45zM383.4 115.06h1.45v9.58h-1.45zM401.62 115.06h1.45v9.58h-1.45zM417.03 115.06h1.45v9.58h-1.45zM418.44 115.06h1.45v9.58h-1.45zM328.75 124.6h1.45v9.58h-1.45zM383.4 124.6h1.45v9.58h-1.45zM459.07 124.6h1.45v9.58h-1.45zM320.34 134.13h1.45v9.58h-1.45zM339.96 134.13h1.45v9.58h-1.45zM464.68 134.13h1.45v9.58h-1.45zM414.23 143.66h1.45v9.58h-1.45zM478.69 143.66h1.45v9.58h-1.45zM366.59 162.72h1.45v9.58h-1.45zM425.44 162.72h1.45v9.58h-1.45zM450.67 172.25h1.45v9.58h-1.45zM345.57 181.79h1.45v9.58h-1.45zM373.59 181.79h1.45v9.58h-1.45zM386.21 181.79h1.45v9.58h-1.45zM439.46 181.79h1.45v9.58h-1.45zM442.26 200.85h1.45v9.58h-1.45zM461.88 200.85h1.45v9.58h-1.45zM473.09 219.91h1.45v9.58h-1.45zM453.47 248.51h1.45v9.58h-1.45zM461.88 258.04h1.45v9.58h-1.45z"/><path fill="#d8664e" d="M439.46 105.53h1.45v9.58h-1.45zM432.45 153.19h1.45v9.58h-1.45zM456.27 162.72h1.45v9.58h-1.45zM313.34 191.32h1.45v9.58h-1.45zM382 191.32h1.45v9.58h-1.45zM417.03 191.32h1.45v9.58h-1.45zM425.44 191.32h1.45v9.58h-1.45zM470.29 248.51h1.45v9.58h-1.45z"/><path fill="#ba2a36" d="M471.69 105.53h1.45v9.58h-1.45zM468.88 115.06h1.45v9.58h-1.45zM482.9 134.13h1.45v9.58h-1.45zM457.67 143.66h1.45v9.58h-1.45zM477.29 191.32h1.45v9.58h-1.45zM481.5 229.45h1.45v9.58h-1.45z"/><path fill="#fce4de" d="M474.49 105.53h1.45v9.58h-1.45zM292.32 115.06h1.45v9.58h-1.45zM422.64 124.6h1.45v9.58h-1.45zM307.73 153.19h1.45v9.58h-1.45zM296.52 172.25h1.45v9.58h-1.45zM351.17 181.79h1.45v9.58h-1.45zM352.57 181.79h1.45v9.58h-1.45zM442.26 210.38h1.45v9.58h-1.45zM422.64 219.91h1.45v9.58h-1.45zM323.15 229.45h1.45v9.58h-1.45zM408.63 238.98h1.45v9.58h-1.45zM482.9 238.98h1.45v9.58h-1.45zM447.86 248.51h1.45v9.58h-1.45zM445.06 267.57h1.45v9.58h-1.45z"/><path fill="#9c122a" d="M480.09 105.53h1.45v9.58h-1.45z"/><path fill="#e47e60" d="M481.5 105.53h1.45v9.58h-1.45zM360.98 115.06h1.45v9.58h-1.45zM440.86 115.06h1.45v9.58h-1.45zM450.67 124.6h1.45v9.58h-1.45zM463.28 124.6h1.45v9.58h-1.45zM482.9 124.6h1.45v9.58h-1.45zM403.02 134.13h1.45v9.58h-1.45zM439.46 153.19h1.45v9.58h-1.45zM443.66 219.91h1.45v9.58h-1.45zM464.68 229.45h1.45v9.58h-1.45z"/><path fill="#c0deea" d="M275.5 115.06h1.45v9.58h-1.45zM282.51 143.66h1.45v9.58h-1.45zM293.72 143.66h1.45v9.58h-1.45zM302.13 153.19h1.45v9.58h-1.45zM286.71 162.72h1.45v9.58h-1.45zM288.11 162.72h1.45v9.58h-1.45zM328.75 162.72h1.45v9.58h-1.45zM281.11 172.25h1.45v9.58h-1.45zM290.91 172.25h1.45v9.58h-1.45zM296.52 200.85h1.45v9.58h-1.45zM314.74 200.85h1.45v9.58h-1.45zM316.14 200.85h1.45v9.58h-1.45zM327.35 200.85h1.45v9.58h-1.45zM341.36 210.38h1.45v9.58h-1.45zM369.39 210.38h1.45v9.58h-1.45zM384.8 210.38h1.45v9.58h-1.45zM325.95 219.91h1.45v9.58h-1.45zM276.9 229.45h1.45v9.58h-1.45zM283.91 229.45h1.45v9.58h-1.45zM304.93 229.45h1.45v9.58h-1.45zM306.33 238.98h1.45v9.58h-1.45zM440.86 238.98h1.45v9.58h-1.45zM303.53 248.51h1.45v9.58h-1.45zM366.59 248.51h1.45v9.58h-1.45zM372.19 248.51h1.45v9.58h-1.45zM393.21 248.51h1.45v9.58h-1.45zM397.42 248.51h1.45v9.58h-1.45zM299.32 258.04h1.45v9.58h-1.45zM382 258.04h1.45v9.58h-1.45zM316.14 267.57h1.45v9.58h-1.45zM345.57 277.1h1.45v9.58h-1.45zM383.4 277.1h1.45v9.58h-1.45zM401.62 277.1h1.45v9.58h-1.45zM418.44 277.1h1.45v9.58h-1.45zM467.48 286.64h1.45v9.58h-1.45zM439.46 296.17h1.45v9.58h-1.45z"/><path fill="#f6f0f0" d="M338.56 115.06h1.45v9.58h-1.45zM353.97 115.06h1.45v9.58h-1.45zM363.78 124.6h1.45v9.58h-1.45zM286.71 134.13h1.45v9.58h-1.45zM387.61 134.13h1.45v9.58h-1.45zM314.74 143.66h1.45v9.58h-1.45zM363.78 143.66h1.45v9.58h-1.45zM295.12 153.19h1.45v9.58h-1.45zM296.52 153.19h1.45v9.58h-1.45zM372.19 153.19h1.45v9.58h-1.45zM474.49 153.19h1.45v9.58h-1.45zM276.9 162.72h1.45v9.58h-1.45zM293.72 162.72h1.45v9.58h-1.45zM379.2 162.72h1.45v9.58h-1.45zM421.24 162.72h1.45v9.58h-1.45zM324.55 181.79h1.45v9.58h-1.45zM414.23 181.79h1.45v9.58h-1.45zM318.94 200.85h1.45v9.58h-1.45zM335.76 200.85h1.45v9.58h-1.45zM362.38 200.85h1.45v9.58h-1.45zM384.8 200.85h1.45v9.58h-1.45zM412.83 200.85h1.45v9.58h-1.45zM318.94 210.38h1.45v9.58h-1.45zM330.15 210.38h1.45v9.58h-1.45zM348.37 210.38h1.45v9.58h-1.45zM358.18 210.38h1.45v9.58h-1.45zM417.03 210.38h1.45v9.58h-1.45zM422.64 210.38h1.45v9.58h-1.45zM456.27 210.38h1.45v9.58h-1.45zM307.73 219.91h1.45v9.58h-1.45zM342.76 219.91h1.45v9.58h-1.45zM348.37 219.91h1.45v9.58h-1.45zM439.46 219.91h1.45v9.58h-1.45zM314.74 229.45h1.45v9.58h-1.45zM320.34 229.45h1.45v9.58h-1.45zM321.74 229.45h1.45v9.58h-1.45zM362.38 229.45h1.45v9.58h-1.45zM387.61 229.45h1.45v9.58h-1.45zM418.44 229.45h1.45v9.58h-1.45zM331.55 238.98h1.45v9.58h-1.45zM376.4 248.51h1.45v9.58h-1.45zM377.8 248.51h1.45v9.58h-1.45zM449.27 248.51h1.45v9.58h-1.45zM407.23 258.04h1.45v9.58h-1.45zM435.25 258.04h1.45v9.58h-1.45zM440.86 258.04h1.45v9.58h-1.45zM474.49 258.04h1.45v9.58h-1.45zM438.05 267.57h1.45v9.58h-1.45zM484.3 267.57h1.45v9.58h-1.45zM447.86 277.1h1.45v9.58h-1.45zM453.47 277.1h1.45v9.58h-1.45zM461.88 277.1h1.45v9.58h-1.45zM467.48 277.1h1.45v9.58h-1.45zM484.3 277.1h1.45v9.58h-1.45zM443.66 286.64h1.45v9.58h-1.45zM460.48 296.17h1.45v9.58h-1.45z"/><path fill="#c6423c" d="M372.19 115.06h1.45v9.58h-1.45zM335.76 191.32h1.45v9.58h-1.45zM358.18 191.32h1.45v9.58h-1.45zM407.23 191.32h1.45v9.58h-1.45zM435.25 191.32h1.45v9.58h-1.45zM447.86 191.32h1.45v9.58h-1.45z"/><path fill="#f0a284" d="M442.26 115.06h1.45v9.58h-1.45zM443.66 115.06h1.45v9.58h-1.45zM390.41 124.6h1.45v9.58h-1.45zM477.29 143.66h1.45v9.58h-1.45z"/><path fill="#c0363c" d="M452.07 115.06h1.45v9.58h-1.45zM454.87 134.13h1.45v9.58h-1.45zM453.47 181.79h1.45v9.58h-1.45zM363.78 191.32h1.45v9.58h-1.45zM446.46 191.32h1.45v9.58h-1.45zM454.87 191.32h1.45v9.58h-1.45z"/><path fill="#c64842" d="M453.47 115.06h1.45v9.58h-1.45zM325.95 191.32h1.45v9.58h-1.45zM439.46 191.32h1.45v9.58h-1.45z"/><path fill="#c03c3c" d="M457.67 115.06h1.45v9.58h-1.45zM438.05 143.66h1.45v9.58h-1.45zM384.8 191.32h1.45v9.58h-1.45zM386.21 191.32h1.45v9.58h-1.45zM440.86 191.32h1.45v9.58h-1.45zM482.9 191.32h1.45v9.58h-1.45z"/><path fill="#de6c54" d="M467.48 115.06h1.45v9.58h-1.45zM372.19 124.6h1.45v9.58h-1.45zM466.08 134.13h1.45v9.58h-1.45zM296.52 191.32h1.45v9.58h-1.45zM480.09 200.85h1.45v9.58h-1.45z"/><path fill="#840c24" d="M480.09 115.06h1.45v9.58h-1.45zM470.29 134.13h1.45v9.58h-1.45z"/><path fill="#cc4e48" d="M482.9 115.06h1.45v9.58h-1.45zM482.9 143.66h1.45v9.58h-1.45zM457.67 153.19h1.45v9.58h-1.45zM366.59 172.25h1.45v9.58h-1.45zM453.47 172.25h1.45v9.58h-1.45zM366.59 181.79h1.45v9.58h-1.45zM316.14 191.32h1.45v9.58h-1.45zM318.94 191.32h1.45v9.58h-1.45zM328.75 191.32h1.45v9.58h-1.45zM421.24 191.32h1.45v9.58h-1.45z"/><path fill="#a8d2e4" d="M282.51 124.6h1.45v9.58h-1.45zM289.51 124.6h1.45v9.58h-1.45zM279.7 153.19h1.45v9.58h-1.45zM290.91 210.38h1.45v9.58h-1.45zM387.61 210.38h1.45v9.58h-1.45zM369.39 219.91h1.45v9.58h-1.45zM431.05 219.91h1.45v9.58h-1.45zM275.5 229.45h1.45v9.58h-1.45zM334.36 238.98h1.45v9.58h-1.45zM369.39 238.98h1.45v9.58h-1.45zM370.79 238.98h1.45v9.58h-1.45zM389.01 248.51h1.45v9.58h-1.45zM286.71 258.04h1.45v9.58h-1.45zM296.52 258.04h1.45v9.58h-1.45zM304.93 258.04h1.45v9.58h-1.45zM338.56 258.04h1.45v9.58h-1.45zM365.19 258.04h1.45v9.58h-1.45zM380.6 258.04h1.45v9.58h-1.45zM327.35 267.57h1.45v9.58h-1.45zM328.75 267.57h1.45v9.58h-1.45zM366.59 267.57h1.45v9.58h-1.45zM380.6 267.57h1.45v9.58h-1.45zM397.42 267.57h1.45v9.58h-1.45zM418.44 267.57h1.45v9.58h-1.45zM288.11 277.1h1.45v9.58h-1.45zM324.55 277.1h1.45v9.58h-1.45zM468.88 286.64h1.45v9.58h-1.45zM473.09 286.64h1.45v9.58h-1.45zM482.9 286.64h1.45v9.58h-1.45z"/><path fill="#fcccba" d="M370.79 124.6h1.45v9.58h-1.45zM382 134.13h1.45v9.58h-1.45zM408.63 134.13h1.45v9.58h-1.45z"/><path fill="#ba2a30" d="M471.69 124.6h1.45v9.58h-1.45zM453.47 134.13h1.45v9.58h-1.45zM471.69 134.13h1.45v9.58h-1.45zM484.3 134.13h1.45v9.58h-1.45zM346.97 191.32h1.45v9.58h-1.45zM442.26 191.32h1.45v9.58h-1.45zM450.67 191.32h1.45v9.58h-1.45zM452.07 191.32h1.45v9.58h-1.45zM456.27 191.32h1.45v9.58h-1.45zM463.28 191.32h1.45v9.58h-1.45zM478.69 191.32h1.45v9.58h-1.45zM443.66 229.45h1.45v9.58h-1.45z"/><path fill="#a2122a" d="M445.06 134.13h1.45v9.58h-1.45zM446.46 134.13h1.45v9.58h-1.45z"/><path fill="#ea9078" d="M473.09 134.13h1.45v9.58h-1.45z"/><path fill="#66001e" d="M480.09 134.13h1.45v9.58h-1.45z"/><path fill="#e4eaf0" d="M387.61 143.66h1.45v9.58h-1.45zM419.84 153.19h1.45v9.58h-1.45zM345.57 200.85h1.45v9.58h-1.45zM418.44 200.85h1.45v9.58h-1.45zM397.42 277.1h1.45v9.58h-1.45z"/><path fill="#aed2e4" d="M281.11 153.19h1.45v9.58h-1.45zM289.51 153.19h1.45v9.58h-1.45zM362.38 162.72h1.45v9.58h-1.45zM328.75 200.85h1.45v9.58h-1.45zM370.79 200.85h1.45v9.58h-1.45zM283.91 210.38h1.45v9.58h-1.45zM304.93 210.38h1.45v9.58h-1.45zM327.35 210.38h1.45v9.58h-1.45zM334.36 210.38h1.45v9.58h-1.45zM390.41 210.38h1.45v9.58h-1.45zM370.79 219.91h1.45v9.58h-1.45zM290.91 229.45h1.45v9.58h-1.45zM296.52 238.98h1.45v9.58h-1.45zM302.13 238.98h1.45v9.58h-1.45zM311.93 238.98h1.45v9.58h-1.45zM313.34 238.98h1.45v9.58h-1.45zM389.01 238.98h1.45v9.58h-1.45zM285.31 248.51h1.45v9.58h-1.45zM320.34 248.51h1.45v9.58h-1.45zM321.74 248.51h1.45v9.58h-1.45zM369.39 248.51h1.45v9.58h-1.45zM288.11 258.04h1.45v9.58h-1.45zM317.54 258.04h1.45v9.58h-1.45zM283.91 267.57h1.45v9.58h-1.45zM323.15 267.57h1.45v9.58h-1.45zM369.39 267.57h1.45v9.58h-1.45zM370.79 267.57h1.45v9.58h-1.45zM286.71 277.1h1.45v9.58h-1.45zM327.35 286.64h1.45v9.58h-1.45zM328.75 286.64h1.45v9.58h-1.45zM408.63 286.64h1.45v9.58h-1.45zM454.87 286.64h1.45v9.58h-1.45zM436.65 296.17h1.45v9.58h-1.45zM450.67 296.17h1.45v9.58h-1.45zM482.9 296.17h1.45v9.58h-1.45z"/><path fill="#b4d8ea" d="M290.91 153.19h1.45v9.58h-1.45zM341.36 162.72h1.45v9.58h-1.45zM303.53 172.25h1.45v9.58h-1.45zM299.32 200.85h1.45v9.58h-1.45zM393.21 200.85h1.45v9.58h-1.45zM429.65 200.85h1.45v9.58h-1.45zM432.45 200.85h1.45v9.58h-1.45zM433.85 200.85h1.45v9.58h-1.45zM313.34 210.38h1.45v9.58h-1.45zM391.81 238.98h1.45v9.58h-1.45zM398.82 238.98h1.45v9.58h-1.45zM302.13 248.51h1.45v9.58h-1.45zM313.34 248.51h1.45v9.58h-1.45zM334.36 248.51h1.45v9.58h-1.45zM373.59 248.51h1.45v9.58h-1.45zM320.34 258.04h1.45v9.58h-1.45zM370.79 258.04h1.45v9.58h-1.45zM339.96 267.57h1.45v9.58h-1.45zM461.88 286.64h1.45v9.58h-1.45z"/><path fill="#9ccce4" d="M303.53 153.19h1.45v9.58h-1.45zM327.35 153.19h1.45v9.58h-1.45zM428.25 153.19h1.45v9.58h-1.45zM289.51 200.85h1.45v9.58h-1.45zM306.33 200.85h1.45v9.58h-1.45zM299.32 219.91h1.45v9.58h-1.45zM297.92 229.45h1.45v9.58h-1.45zM290.91 238.98h1.45v9.58h-1.45zM401.62 238.98h1.45v9.58h-1.45zM310.53 248.51h1.45v9.58h-1.45zM323.15 248.51h1.45v9.58h-1.45zM327.35 248.51h1.45v9.58h-1.45zM325.95 258.04h1.45v9.58h-1.45zM366.59 258.04h1.45v9.58h-1.45zM367.99 258.04h1.45v9.58h-1.45zM320.34 267.57h1.45v9.58h-1.45zM401.62 267.57h1.45v9.58h-1.45zM428.25 267.57h1.45v9.58h-1.45zM382 277.1h1.45v9.58h-1.45zM428.25 277.1h1.45v9.58h-1.45zM429.65 277.1h1.45v9.58h-1.45zM453.47 286.64h1.45v9.58h-1.45z"/><path fill="#f6baa2" d="M396.01 153.19h1.45v9.58h-1.45zM404.42 267.57h1.45v9.58h-1.45z"/><path fill="#ea9678" d="M452.07 153.19h1.45v9.58h-1.45z"/><path fill="#90c0de" d="M281.11 162.72h1.45v9.58h-1.45zM276.9 219.91h1.45v9.58h-1.45zM390.41 248.51h1.45v9.58h-1.45zM380.6 277.1h1.45v9.58h-1.45zM439.46 277.1h1.45v9.58h-1.45zM396.01 296.17h1.45v9.58h-1.45z"/><path fill="#90c6de" d="M282.51 162.72h1.45v9.58h-1.45zM398.82 200.85h1.45v9.58h-1.45zM398.82 210.38h1.45v9.58h-1.45zM429.65 219.91h1.45v9.58h-1.45zM289.51 229.45h1.45v9.58h-1.45zM278.3 238.98h1.45v9.58h-1.45zM289.51 238.98h1.45v9.58h-1.45zM351.17 258.04h1.45v9.58h-1.45zM335.76 267.57h1.45v9.58h-1.45zM323.15 277.1h1.45v9.58h-1.45zM309.13 286.64h1.45v9.58h-1.45zM396.01 286.64h1.45v9.58h-1.45zM435.25 296.17h1.45v9.58h-1.45z"/><path fill="#84c0d8" d="M289.51 162.72h1.45v9.58h-1.45zM292.32 200.85h1.45v9.58h-1.45zM290.91 219.91h1.45v9.58h-1.45zM283.91 258.04h1.45v9.58h-1.45zM306.33 277.1h1.45v9.58h-1.45zM307.73 286.64h1.45v9.58h-1.45zM365.19 296.17h1.45v9.58h-1.45z"/><path fill="#9cccde" d="M290.91 162.72h1.45v9.58h-1.45zM286.71 200.85h1.45v9.58h-1.45zM296.52 219.91h1.45v9.58h-1.45zM281.11 238.98h1.45v9.58h-1.45zM348.37 286.64h1.45v9.58h-1.45zM365.19 286.64h1.45v9.58h-1.45zM327.35 296.17h1.45v9.58h-1.45zM328.75 296.17h1.45v9.58h-1.45z"/><path fill="#a8182a" d="M456.27 181.79h1.45v9.58h-1.45z"/><path fill="#c64242" d="M433.85 191.32h1.45v9.58h-1.45zM436.65 191.32h1.45v9.58h-1.45z"/><path fill="#c03636" d="M459.07 191.32h1.45v9.58h-1.45z"/><path fill="#ba3036" d="M461.88 191.32h1.45v9.58h-1.45zM470.29 191.32h1.45v9.58h-1.45zM471.69 191.32h1.45v9.58h-1.45z"/><path fill="#a8122a" d="M480.09 191.32h1.45v9.58h-1.45z"/><path fill="#4e9cc6" d="M275.5 200.85h1.45v9.58h-1.45zM281.11 210.38h1.45v9.58h-1.45zM275.5 219.91h1.45v9.58h-1.45zM289.51 248.51h1.45v9.58h-1.45zM292.32 277.1h1.45v9.58h-1.45zM299.32 277.1h1.45v9.58h-1.45zM300.72 277.1h1.45v9.58h-1.45zM363.78 286.64h1.45v9.58h-1.45z"/><path fill="#6caed2" d="M276.9 200.85h1.45v9.58h-1.45zM304.93 200.85h1.45v9.58h-1.45zM428.25 238.98h1.45v9.58h-1.45zM297.92 248.51h1.45v9.58h-1.45zM293.72 258.04h1.45v9.58h-1.45zM410.03 286.64h1.45v9.58h-1.45zM433.85 286.64h1.45v9.58h-1.45zM331.55 296.17h1.45v9.58h-1.45zM334.36 296.17h1.45v9.58h-1.45zM415.63 296.17h1.45v9.58h-1.45z"/><path fill="#66a8cc" d="M278.3 200.85h1.45v9.58h-1.45zM275.5 238.98h1.45v9.58h-1.45zM299.32 267.57h1.45v9.58h-1.45zM300.72 267.57h1.45v9.58h-1.45zM327.35 277.1h1.45v9.58h-1.45zM320.34 286.64h1.45v9.58h-1.45zM351.17 286.64h1.45v9.58h-1.45zM454.87 296.17h1.45v9.58h-1.45z"/><path fill="#4e96c6" d="M279.7 200.85h1.45v9.58h-1.45z"/><path fill="#4290c0" d="M281.11 200.85h1.45v9.58h-1.45zM278.3 248.51h1.45v9.58h-1.45zM279.7 258.04h1.45v9.58h-1.45zM276.9 267.57h1.45v9.58h-1.45zM281.11 277.1h1.45v9.58h-1.45zM362.38 286.64h1.45v9.58h-1.45zM383.4 286.64h1.45v9.58h-1.45zM384.8 286.64h1.45v9.58h-1.45zM386.21 286.64h1.45v9.58h-1.45zM401.62 286.64h1.45v9.58h-1.45zM320.34 296.17h1.45v9.58h-1.45zM330.15 296.17h1.45v9.58h-1.45zM370.79 296.17h1.45v9.58h-1.45zM386.21 296.17h1.45v9.58h-1.45zM417.03 296.17h1.45v9.58h-1.45z"/><path fill="#3c8ac0" d="M282.51 200.85h1.45v9.58h-1.45zM292.32 248.51h1.45v9.58h-1.45zM281.11 258.04h1.45v9.58h-1.45zM279.7 267.57h1.45v9.58h-1.45zM290.91 267.57h1.45v9.58h-1.45zM290.91 277.1h1.45v9.58h-1.45zM310.53 286.64h1.45v9.58h-1.45zM394.61 286.64h1.45v9.58h-1.45zM411.43 286.64h1.45v9.58h-1.45zM429.65 286.64h1.45v9.58h-1.45zM362.38 296.17h1.45v9.58h-1.45zM389.01 296.17h1.45v9.58h-1.45zM391.81 296.17h1.45v9.58h-1.45zM394.61 296.17h1.45v9.58h-1.45z"/><path fill="#8ac0de" d="M283.91 200.85h1.45v9.58h-1.45zM300.72 210.38h1.45v9.58h-1.45zM304.93 238.98h1.45v9.58h-1.45zM325.95 248.51h1.45v9.58h-1.45zM332.95 296.17h1.45v9.58h-1.45z"/><path fill="#60a2cc" d="M290.91 200.85h1.45v9.58h-1.45zM293.72 219.91h1.45v9.58h-1.45zM474.49 286.64h1.45v9.58h-1.45z"/><path fill="#8ac0d8" d="M293.72 200.85h1.45v9.58h-1.45zM282.51 210.38h1.45v9.58h-1.45zM299.32 210.38h1.45v9.58h-1.45zM283.91 238.98h1.45v9.58h-1.45zM293.72 248.51h1.45v9.58h-1.45zM297.92 258.04h1.45v9.58h-1.45zM334.36 267.57h1.45v9.58h-1.45zM475.89 296.17h1.45v9.58h-1.45z"/><path fill="#84bad8" d="M297.92 200.85h1.45v9.58h-1.45zM304.93 267.57h1.45v9.58h-1.45zM283.91 277.1h1.45v9.58h-1.45zM302.13 277.1h1.45v9.58h-1.45zM311.93 277.1h1.45v9.58h-1.45zM393.21 277.1h1.45v9.58h-1.45zM415.63 286.64h1.45v9.58h-1.45zM426.84 286.64h1.45v9.58h-1.45zM435.25 286.64h1.45v9.58h-1.45zM466.08 286.64h1.45v9.58h-1.45z"/><path fill="#72b4d2" d="M401.62 200.85h1.45v9.58h-1.45zM278.3 210.38h1.45v9.58h-1.45zM276.9 238.98h1.45v9.58h-1.45zM278.3 258.04h1.45v9.58h-1.45zM314.74 277.1h1.45v9.58h-1.45zM316.14 277.1h1.45v9.58h-1.45zM331.55 286.64h1.45v9.58h-1.45zM403.02 286.64h1.45v9.58h-1.45zM408.63 296.17h1.45v9.58h-1.45z"/><path fill="#3684ba" d="M275.5 210.38h1.45v9.58h-1.45zM289.51 258.04h1.45v9.58h-1.45zM282.51 267.57h1.45v9.58h-1.45zM297.92 267.57h1.45v9.58h-1.45zM293.72 277.1h1.45v9.58h-1.45zM372.19 286.64h1.45v9.58h-1.45zM382 286.64h1.45v9.58h-1.45zM398.82 286.64h1.45v9.58h-1.45zM404.42 286.64h1.45v9.58h-1.45zM428.25 286.64h1.45v9.58h-1.45zM318.94 296.17h1.45v9.58h-1.45zM324.55 296.17h1.45v9.58h-1.45zM341.36 296.17h1.45v9.58h-1.45zM358.18 296.17h1.45v9.58h-1.45zM387.61 296.17h1.45v9.58h-1.45z"/><path fill="#4896c6" d="M276.9 210.38h1.45v9.58h-1.45zM281.11 219.91h1.45v9.58h-1.45zM278.3 277.1h1.45v9.58h-1.45zM325.95 286.64h1.45v9.58h-1.45zM341.36 286.64h1.45v9.58h-1.45zM360.98 286.64h1.45v9.58h-1.45zM379.2 286.64h1.45v9.58h-1.45zM380.6 286.64h1.45v9.58h-1.45zM389.01 286.64h1.45v9.58h-1.45zM393.21 286.64h1.45v9.58h-1.45zM417.03 286.64h1.45v9.58h-1.45zM431.05 286.64h1.45v9.58h-1.45zM307.73 296.17h1.45v9.58h-1.45zM321.74 296.17h1.45v9.58h-1.45zM360.98 296.17h1.45v9.58h-1.45zM410.03 296.17h1.45v9.58h-1.45zM431.05 296.17h1.45v9.58h-1.45zM466.08 296.17h1.45v9.58h-1.45z"/><path fill="#5aa2cc" d="M279.7 210.38h1.45v9.58h-1.45zM297.92 210.38h1.45v9.58h-1.45zM290.91 248.51h1.45v9.58h-1.45zM278.3 267.57h1.45v9.58h-1.45zM321.74 286.64h1.45v9.58h-1.45zM330.15 286.64h1.45v9.58h-1.45zM418.44 286.64h1.45v9.58h-1.45zM418.44 296.17h1.45v9.58h-1.45z"/><path fill="#78b4d8" d="M292.32 210.38h1.45v9.58h-1.45zM278.3 219.91h1.45v9.58h-1.45zM289.51 219.91h1.45v9.58h-1.45zM279.7 238.98h1.45v9.58h-1.45zM297.92 238.98h1.45v9.58h-1.45zM275.5 267.57h1.45v9.58h-1.45zM325.95 277.1h1.45v9.58h-1.45zM390.41 277.1h1.45v9.58h-1.45zM349.77 286.64h1.45v9.58h-1.45zM432.45 296.17h1.45v9.58h-1.45zM452.07 296.17h1.45v9.58h-1.45zM473.09 296.17h1.45v9.58h-1.45z"/><path fill="#549cc6" d="M293.72 210.38h1.45v9.58h-1.45zM289.51 277.1h1.45v9.58h-1.45zM335.76 286.64h1.45v9.58h-1.45zM432.45 286.64h1.45v9.58h-1.45z"/><path fill="#96c6de" d="M296.52 210.38h1.45v9.58h-1.45zM302.13 210.38h1.45v9.58h-1.45zM393.21 238.98h1.45v9.58h-1.45zM418.44 238.98h1.45v9.58h-1.45zM299.32 248.51h1.45v9.58h-1.45zM300.72 248.51h1.45v9.58h-1.45zM428.25 248.51h1.45v9.58h-1.45zM429.65 248.51h1.45v9.58h-1.45zM398.82 258.04h1.45v9.58h-1.45zM288.11 267.57h1.45v9.58h-1.45zM296.52 267.57h1.45v9.58h-1.45zM306.33 267.57h1.45v9.58h-1.45zM314.74 267.57h1.45v9.58h-1.45zM328.75 277.1h1.45v9.58h-1.45zM332.95 286.64h1.45v9.58h-1.45zM467.48 296.17h1.45v9.58h-1.45z"/><path fill="#549ccc" d="M279.7 219.91h1.45v9.58h-1.45zM282.51 219.91h1.45v9.58h-1.45zM282.51 258.04h1.45v9.58h-1.45zM292.32 258.04h1.45v9.58h-1.45zM293.72 267.57h1.45v9.58h-1.45zM345.57 286.64h1.45v9.58h-1.45zM346.97 286.64h1.45v9.58h-1.45zM309.13 296.17h1.45v9.58h-1.45zM355.38 296.17h1.45v9.58h-1.45z"/><path fill="#60a8cc" d="M297.92 219.91h1.45v9.58h-1.45zM283.91 248.51h1.45v9.58h-1.45zM304.93 248.51h1.45v9.58h-1.45zM313.34 277.1h1.45v9.58h-1.45zM334.36 286.64h1.45v9.58h-1.45zM391.81 286.64h1.45v9.58h-1.45zM407.23 286.64h1.45v9.58h-1.45zM403.02 296.17h1.45v9.58h-1.45zM424.04 296.17h1.45v9.58h-1.45z"/><path fill="#9cc6de" d="M281.11 229.45h1.45v9.58h-1.45zM327.35 238.98h1.45v9.58h-1.45z"/><path fill="#c6e4f0" d="M429.65 229.45h1.45v9.58h-1.45zM317.54 277.1h1.45v9.58h-1.45z"/><path fill="#3078b4" d="M275.5 248.51h1.45v9.58h-1.45zM281.11 248.51h1.45v9.58h-1.45zM302.13 286.64h1.45v9.58h-1.45zM304.93 286.64h1.45v9.58h-1.45zM344.17 286.64h1.45v9.58h-1.45zM366.59 286.64h1.45v9.58h-1.45zM310.53 296.17h1.45v9.58h-1.45zM345.57 296.17h1.45v9.58h-1.45zM346.97 296.17h1.45v9.58h-1.45zM383.4 296.17h1.45v9.58h-1.45zM422.64 296.17h1.45v9.58h-1.45z"/><path fill="#3c84c0" d="M276.9 248.51h1.45v9.58h-1.45zM290.91 258.04h1.45v9.58h-1.45zM279.7 277.1h1.45v9.58h-1.45zM318.94 286.64h1.45v9.58h-1.45zM390.41 286.64h1.45v9.58h-1.45zM369.39 296.17h1.45v9.58h-1.45z"/><path fill="#307eb4" d="M279.7 248.51h1.45v9.58h-1.45zM380.6 296.17h1.45v9.58h-1.45zM382 296.17h1.45v9.58h-1.45z"/><path fill="#2a78b4" d="M282.51 248.51h1.45v9.58h-1.45zM297.92 277.1h1.45v9.58h-1.45zM342.76 296.17h1.45v9.58h-1.45zM351.17 296.17h1.45v9.58h-1.45zM397.42 296.17h1.45v9.58h-1.45z"/><path fill="#78b4d2" d="M306.33 248.51h1.45v9.58h-1.45zM276.9 258.04h1.45v9.58h-1.45zM401.62 258.04h1.45v9.58h-1.45zM464.68 296.17h1.45v9.58h-1.45z"/><path fill="#6ca8d2" d="M311.93 248.51h1.45v9.58h-1.45zM296.52 277.1h1.45v9.58h-1.45zM400.22 286.64h1.45v9.58h-1.45z"/><path fill="#7ebad8" d="M370.79 248.51h1.45v9.58h-1.45zM292.32 267.57h1.45v9.58h-1.45zM275.5 277.1h1.45v9.58h-1.45zM304.93 277.1h1.45v9.58h-1.45zM433.85 296.17h1.45v9.58h-1.45zM449.27 296.17h1.45v9.58h-1.45z"/><path fill="#54a2cc" d="M275.5 258.04h1.45v9.58h-1.45z"/><path fill="#307eba" d="M281.11 267.57h1.45v9.58h-1.45zM297.92 286.64h1.45v9.58h-1.45zM311.93 286.64h1.45v9.58h-1.45zM370.79 286.64h1.45v9.58h-1.45zM323.15 296.17h1.45v9.58h-1.45zM325.95 296.17h1.45v9.58h-1.45zM367.99 296.17h1.45v9.58h-1.45z"/><path fill="#3c84ba" d="M289.51 267.57h1.45v9.58h-1.45zM276.9 277.1h1.45v9.58h-1.45zM342.76 286.64h1.45v9.58h-1.45zM348.37 296.17h1.45v9.58h-1.45zM359.58 296.17h1.45v9.58h-1.45zM429.65 296.17h1.45v9.58h-1.45z"/><path fill="#3c90c0" d="M282.51 277.1h1.45v9.58h-1.45zM323.15 286.64h1.45v9.58h-1.45zM397.42 286.64h1.45v9.58h-1.45zM363.78 296.17h1.45v9.58h-1.45z"/><path fill="#185496" d="M275.5 286.64h1.45v9.58h-1.45zM293.72 286.64h1.45v9.58h-1.45zM316.14 286.64h1.45v9.58h-1.45zM300.72 296.17h1.45v9.58h-1.45zM314.74 296.17h1.45v9.58h-1.45zM316.14 296.17h1.45v9.58h-1.45zM352.57 296.17h1.45v9.58h-1.45zM376.4 296.17h1.45v9.58h-1.45zM426.84 296.17h1.45v9.58h-1.45z"/><path fill="#185a9c" d="M276.9 286.64h1.45v9.58h-1.45z"/><path fill="#063060" d="M278.3 286.64h1.45v9.58h-1.45zM279.7 286.64h1.45v9.58h-1.45zM281.11 286.64h1.45v9.58h-1.45zM282.51 286.64h1.45v9.58h-1.45zM286.71 286.64h1.45v9.58h-1.45zM289.51 286.64h1.45v9.58h-1.45zM290.91 286.64h1.45v9.58h-1.45zM356.78 286.64h1.45v9.58h-1.45zM358.18 286.64h1.45v9.58h-1.45zM359.58 286.64h1.45v9.58h-1.45zM278.3 296.17h1.45v9.58h-1.45zM279.7 296.17h1.45v9.58h-1.45zM281.11 296.17h1.45v9.58h-1.45zM282.51 296.17h1.45v9.58h-1.45zM283.91 296.17h1.45v9.58h-1.45zM285.31 296.17h1.45v9.58h-1.45zM286.71 296.17h1.45v9.58h-1.45zM288.11 296.17h1.45v9.58h-1.45zM289.51 296.17h1.45v9.58h-1.45zM290.91 296.17h1.45v9.58h-1.45zM292.32 296.17h1.45v9.58h-1.45zM338.56 296.17h1.45v9.58h-1.45z"/><path fill="#0c3c6c" d="M283.91 286.64h1.45v9.58h-1.45zM338.56 286.64h1.45v9.58h-1.45z"/><path fill="#2a6cb4" d="M285.31 286.64h1.45v9.58h-1.45zM369.39 286.64h1.45v9.58h-1.45zM335.76 296.17h1.45v9.58h-1.45z"/><path fill="#0c4278" d="M288.11 286.64h1.45v9.58h-1.45zM300.72 286.64h1.45v9.58h-1.45zM296.52 296.17h1.45v9.58h-1.45zM303.53 296.17h1.45v9.58h-1.45z"/><path fill="#185490" d="M292.32 286.64h1.45v9.58h-1.45zM339.96 286.64h1.45v9.58h-1.45z"/><path fill="#246cae" d="M295.12 286.64h1.45v9.58h-1.45zM303.53 286.64h1.45v9.58h-1.45zM353.97 286.64h1.45v9.58h-1.45zM374.99 286.64h1.45v9.58h-1.45zM419.84 286.64h1.45v9.58h-1.45zM302.13 296.17h1.45v9.58h-1.45zM311.93 296.17h1.45v9.58h-1.45zM313.34 296.17h1.45v9.58h-1.45zM353.97 296.17h1.45v9.58h-1.45zM374.99 296.17h1.45v9.58h-1.45zM377.8 296.17h1.45v9.58h-1.45z"/><path fill="#124e8a" d="M296.52 286.64h1.45v9.58h-1.45zM314.74 286.64h1.45v9.58h-1.45zM414.23 296.17h1.45v9.58h-1.45z"/><path fill="#124884" d="M299.32 286.64h1.45v9.58h-1.45zM276.9 296.17h1.45v9.58h-1.45zM306.33 296.17h1.45v9.58h-1.45zM373.59 296.17h1.45v9.58h-1.45zM398.82 296.17h1.45v9.58h-1.45zM421.24 296.17h1.45v9.58h-1.45z"/><path fill="#2a72b4" d="M306.33 286.64h1.45v9.58h-1.45zM313.34 286.64h1.45v9.58h-1.45zM295.12 296.17h1.45v9.58h-1.45zM297.92 296.17h1.45v9.58h-1.45zM356.78 296.17h1.45v9.58h-1.45zM372.19 296.17h1.45v9.58h-1.45zM384.8 296.17h1.45v9.58h-1.45zM400.22 296.17h1.45v9.58h-1.45zM401.62 296.17h1.45v9.58h-1.45zM412.83 296.17h1.45v9.58h-1.45z"/><path fill="#1e60a2" d="M317.54 286.64h1.45v9.58h-1.45zM299.32 296.17h1.45v9.58h-1.45zM304.93 296.17h1.45v9.58h-1.45zM317.54 296.17h1.45v9.58h-1.45z"/><path fill="#4296c0" d="M324.55 286.64h1.45v9.58h-1.45zM411.43 296.17h1.45v9.58h-1.45z"/><path fill="#367eba" d="M337.16 286.64h1.45v9.58h-1.45zM377.8 286.64h1.45v9.58h-1.45zM422.64 286.64h1.45v9.58h-1.45zM344.17 296.17h1.45v9.58h-1.45zM349.77 296.17h1.45v9.58h-1.45zM366.59 296.17h1.45v9.58h-1.45zM379.2 296.17h1.45v9.58h-1.45zM474.49 296.17h1.45v9.58h-1.45z"/><path fill="#063066" d="M352.57 286.64h1.45v9.58h-1.45zM275.5 296.17h1.45v9.58h-1.45z"/><path fill="#1e66a8" d="M355.38 286.64h1.45v9.58h-1.45zM367.99 286.64h1.45v9.58h-1.45zM414.23 286.64h1.45v9.58h-1.45z"/><path fill="#2466ae" d="M373.59 286.64h1.45v9.58h-1.45zM376.4 286.64h1.45v9.58h-1.45zM405.82 286.64h1.45v9.58h-1.45zM412.83 286.64h1.45v9.58h-1.45zM390.41 296.17h1.45v9.58h-1.45zM404.42 296.17h1.45v9.58h-1.45zM405.82 296.17h1.45v9.58h-1.45z"/><path fill="#184e8a" d="M421.24 286.64h1.45v9.58h-1.45z"/><path fill="#063666" d="M293.72 296.17h1.45v9.58h-1.45z"/><path fill="#184e90" d="M337.16 296.17h1.45v9.58h-1.45z"/><path fill="#0c3c78" d="M339.96 296.17h1.45v9.58h-1.45zM428.25 296.17h1.45v9.58h-1.45z"/><path fill="#66a8d2" d="M393.21 296.17h1.45v9.58h-1.45z"/><path fill="#7eb4d8" d="M407.23 296.17h1.45v9.58h-1.45z"/><path fill="#1e60a8" d="M419.84 296.17h1.45v9.58h-1.45z"/><text x="488.8" y="103.1" font-size="6.9" fill="#cc4456" font-style="italic">PRF1</text><text x="488.8" y="112.63" font-size="6.9" fill="#cc4456" font-style="italic">NKG7</text><text x="488.8" y="122.16" font-size="6.9" fill="#cc4456" font-style="italic">GZMA</text><text x="488.8" y="131.7" font-size="6.9" fill="#cc4456" font-style="italic">CST7</text><text x="488.8" y="141.23" font-size="6.9" fill="#d9b04a" font-style="italic">CD27</text><text x="488.8" y="150.76" font-size="6.9" fill="#d9b04a" font-style="italic">CD28</text><text x="488.8" y="160.29" font-size="6.9" fill="#46528f" font-style="italic">LAG3</text><text x="488.8" y="169.82" font-size="6.9" fill="#d9b04a" font-style="italic">TNFRSF4</text><text x="488.8" y="179.35" font-size="6.9" fill="#cc4456" font-style="italic">CCL3</text><text x="488.8" y="188.89" font-size="6.9" fill="#cc4456" font-style="italic">CCL4</text><text x="488.8" y="198.42" font-size="6.9" fill="#46528f" font-style="italic">HAVCR2</text><text x="488.8" y="207.95" font-size="6.9" fill="#46528f" font-style="italic">TIGIT</text><text x="488.8" y="217.48" font-size="6.9" fill="#46528f" font-style="italic">CTLA4</text><text x="488.8" y="227.01" font-size="6.9" fill="#d9b04a" font-style="italic">ICOS</text><text x="488.8" y="236.55" font-size="6.9" fill="#cc4456" font-style="italic">GZMB</text><text x="488.8" y="246.08" font-size="6.9" fill="#46528f" font-style="italic">CD160</text><text x="488.8" y="255.61" font-size="6.9" fill="#d9b04a" font-style="italic">TNFRSF9</text><text x="488.8" y="265.14" font-size="6.9" fill="#46528f" font-style="italic">PDCD1</text><text x="488.8" y="274.67" font-size="6.9" fill="#46528f" font-style="italic">BTLA</text><text x="488.8" y="284.2" font-size="6.9" fill="#46528f" font-style="italic">CD244</text><text x="488.8" y="293.74" font-size="6.9" fill="#cc4456" font-style="italic">IFNG</text><text x="488.8" y="303.27" font-size="6.9" fill="#46528f" font-style="italic">KIR2DL4</text><text x="488" y="93" font-size="7.2" fill="#222">CC copy #</text><rect x="458" y="44.5" width="3.2" height="4.3" fill="#111"/><text x="462.5" y="48.9" font-size="7.2" fill="#222">HER2-enriched</text><rect x="458" y="51" width="3.2" height="4.3" fill="#f4c20d"/><text x="462.5" y="55.5" font-size="7.2" fill="#222">Luminal-enriched</text><text x="194.6" y="44.4" font-size="6.5" fill="#222">Color key and histogram</text><rect x="210" y="47" width="3.04" height="36" fill="#0e4178"/><rect x="212.94" y="47" width="3.04" height="36" fill="#1f63a7"/><rect x="215.88" y="47" width="3.04" height="36" fill="#347fb9"/><rect x="218.81" y="47" width="3.04" height="36" fill="#529cc8"/><rect x="221.75" y="47" width="3.04" height="36" fill="#83bcd9"/><rect x="224.69" y="47" width="3.04" height="36" fill="#aed3e6"/><rect x="227.62" y="47" width="3.04" height="36" fill="#d3e6f0"/><rect x="230.56" y="47" width="3.04" height="36" fill="#ebf1f5"/><rect x="233.5" y="47" width="3.04" height="36" fill="#f9eee8"/><rect x="236.44" y="47" width="3.04" height="36" fill="#fdddca"/><rect x="239.38" y="47" width="3.04" height="36" fill="#f8bda0"/><rect x="242.31" y="47" width="3.04" height="36" fill="#ee9878"/><rect x="245.25" y="47" width="3.04" height="36" fill="#dc6d57"/><rect x="248.19" y="47" width="3.04" height="36" fill="#c6403e"/><rect x="251.12" y="47" width="3.04" height="36" fill="#ad162a"/><rect x="254.06" y="47" width="3.04" height="36" fill="#7e0823"/><polyline points="210,80.84 212.94,80.84 212.94,81.08 215.88,81.08 215.88,81.56 218.81,81.56 218.81,82.04 221.75,82.04 221.75,79.4 224.69,79.4 224.69,80.6 227.62,80.6 227.62,75.8 230.56,75.8 230.56,63.32 233.5,63.32 233.5,53 236.44,53 236.44,53 239.38,53 239.38,59 242.31,59 242.31,67.4 245.25,67.4 245.25,71.48 248.19,71.48 248.19,73.4 251.12,73.4 251.12,80.12 254.06,80.12 254.06,80.84 257,80.84" fill="none" stroke="#b8f2f2" stroke-width="0.8"/><line x1="210" y1="47" x2="210" y2="83" stroke="#333" stroke-width="0.6"/><line x1="210" y1="83" x2="257" y2="83" stroke="#333" stroke-width="0.6"/><text x="208.6" y="49.3" font-size="5.6" fill="#333" text-anchor="end">1,500</text><line x1="208.6" y1="47.3" x2="210" y2="47.3" stroke="#333" stroke-width="0.6"/><text x="208.6" y="73.3" font-size="5.6" fill="#333" text-anchor="end">500</text><line x1="208.6" y1="71.3" x2="210" y2="71.3" stroke="#333" stroke-width="0.6"/><text x="208.6" y="85" font-size="5.6" fill="#333" text-anchor="end">0</text><line x1="208.6" y1="83" x2="210" y2="83" stroke="#333" stroke-width="0.6"/><line x1="208.6" y1="59.2" x2="210" y2="59.2" stroke="#333" stroke-width="0.6"/><text transform="translate(196.9,60.5) rotate(-90)" font-size="5.4" fill="#333" text-anchor="middle">Count</text><text x="219.2" y="91.5" font-size="6.3" fill="#333" text-anchor="middle">−5</text><line x1="219.2" y1="83" x2="219.2" y2="84.6" stroke="#333" stroke-width="0.6"/><text x="233.8" y="91.5" font-size="6.3" fill="#333" text-anchor="middle">0</text><line x1="233.8" y1="83" x2="233.8" y2="84.6" stroke="#333" stroke-width="0.6"/><text x="248.5" y="91.5" font-size="6.3" fill="#333" text-anchor="middle">5</text><line x1="248.5" y1="83" x2="248.5" y2="84.6" stroke="#333" stroke-width="0.6"/><text x="234" y="96.3" font-size="5.5" fill="#333" text-anchor="middle">Value</text><text x="284.4" y="326.2" font-size="10.6" fill="#111" font-weight="bold">D</text><text x="334.5" y="337" font-size="8.8" fill="#222" text-anchor="middle">IDC</text><text x="444.5" y="337" font-size="8.8" fill="#222" text-anchor="middle">DCIS</text><clipPath id="c101"><rect x="281.3" y="338.3" width="107" height="128.7"/></clipPath><rect x="281.3" y="338.3" width="107" height="128.7" fill="#04040c"/><g clip-path="url(#c101)"><g filter="url(#blur2)"><ellipse cx="285" cy="342" rx="4.8" ry="3.35" fill="#151545" stroke="#25256f" stroke-width="0.9" transform="rotate(173.75 285 342)"/><ellipse cx="297.6" cy="346.3" rx="5.13" ry="3.93" fill="#151545" stroke="#25256f" stroke-width="0.9" transform="rotate(119.42 297.6 346.3)"/><ellipse cx="331" cy="341" rx="3.82" ry="2.69" fill="#151545" stroke="#25256f" stroke-width="0.9" transform="rotate(51.93 331 341)"/><ellipse cx="349.6" cy="344.2" rx="5.61" ry="3.94" fill="#1c1c5c" stroke="#323294" stroke-width="0.9" transform="rotate(174.8 349.6 344.2)"/><ellipse cx="360" cy="344.2" rx="4.32" ry="3.02" fill="#1c1c5c" stroke="#323294" stroke-width="0.9" transform="rotate(16 360 344.2)"/><ellipse cx="308" cy="361" rx="5.69" ry="4.22" fill="#1f1f67" stroke="#3838a6" stroke-width="0.9" transform="rotate(84.9 308 361)"/><ellipse cx="320.5" cy="370.2" rx="7.17" ry="5.8" fill="#2a2a8a" stroke="#4b4bde" stroke-width="0.9" transform="rotate(72.7 320.5 370.2)"/><ellipse cx="297.6" cy="379.6" rx="5.08" ry="3.85" fill="#232373" stroke="#3e3eb9" stroke-width="0.9" transform="rotate(54.77 297.6 379.6)"/><ellipse cx="303.9" cy="381.7" rx="5.6" ry="4.79" fill="#232373" stroke="#3e3eb9" stroke-width="0.9" transform="rotate(122.43 303.9 381.7)"/><ellipse cx="332" cy="381.7" rx="5.58" ry="4.86" fill="#232373" stroke="#3e3eb9" stroke-width="0.9" transform="rotate(71.04 332 381.7)"/><ellipse cx="341.3" cy="365" rx="4.61" ry="3.48" fill="#1c1c5c" stroke="#323294" stroke-width="0.9" transform="rotate(72.82 341.3 365)"/><ellipse cx="349.6" cy="369.2" rx="5.58" ry="3.64" fill="#1f1f67" stroke="#3838a6" stroke-width="0.9" transform="rotate(83.54 349.6 369.2)"/><ellipse cx="364" cy="367" rx="5.44" ry="4" fill="#1f1f67" stroke="#3838a6" stroke-width="0.9" transform="rotate(3.94 364 367)"/><ellipse cx="378.7" cy="373.3" rx="5.62" ry="3.67" fill="#232373" stroke="#3e3eb9" stroke-width="0.9" transform="rotate(101.59 378.7 373.3)"/><ellipse cx="376.6" cy="388" rx="5.03" ry="3.31" fill="#232373" stroke="#3e3eb9" stroke-width="0.9" transform="rotate(32.55 376.6 388)"/><ellipse cx="285" cy="396" rx="4.93" ry="3.39" fill="#232373" stroke="#3e3eb9" stroke-width="0.9" transform="rotate(123.28 285 396)"/><ellipse cx="313" cy="394" rx="5.65" ry="4.18" fill="#1f1f67" stroke="#3838a6" stroke-width="0.9" transform="rotate(117.43 313 394)"/><ellipse cx="335" cy="390" rx="6.04" ry="4.68" fill="#232373" stroke="#3e3eb9" stroke-width="0.9" transform="rotate(157.66 335 390)"/><ellipse cx="349.6" cy="388" rx="5.2" ry="4.51" fill="#232373" stroke="#3e3eb9" stroke-width="0.9" transform="rotate(124.39 349.6 388)"/><ellipse cx="358" cy="388" rx="5.6" ry="3.65" fill="#232373" stroke="#3e3eb9" stroke-width="0.9" transform="rotate(15.13 358 388)"/><ellipse cx="343.4" cy="398.3" rx="4.89" ry="3.6" fill="#232373" stroke="#3e3eb9" stroke-width="0.9" transform="rotate(170.3 343.4 398.3)"/><ellipse cx="353.8" cy="400.4" rx="5.81" ry="4.99" fill="#232373" stroke="#3e3eb9" stroke-width="0.9" transform="rotate(21.4 353.8 400.4)"/><ellipse cx="364" cy="396" rx="5.62" ry="4.74" fill="#1f1f67" stroke="#3838a6" stroke-width="0.9" transform="rotate(145.67 364 396)"/><ellipse cx="382.9" cy="396" rx="5.72" ry="3.92" fill="#1f1f67" stroke="#3838a6" stroke-width="0.9" transform="rotate(32.19 382.9 396)"/><ellipse cx="285" cy="406" rx="6.43" ry="5.37" fill="#2a2a8a" stroke="#4b4bde" stroke-width="0.9" transform="rotate(160.64 285 406)"/><ellipse cx="284" cy="421" rx="6.01" ry="5.24" fill="#26267e" stroke="#4444cb" stroke-width="0.9" transform="rotate(25.09 284 421)"/><ellipse cx="287" cy="431" rx="5.89" ry="5.13" fill="#232373" stroke="#3e3eb9" stroke-width="0.9" transform="rotate(60.76 287 431)"/><ellipse cx="295.5" cy="408" rx="4.93" ry="3.88" fill="#232373" stroke="#3e3eb9" stroke-width="0.9" transform="rotate(124.06 295.5 408)"/><ellipse cx="310" cy="425" rx="5.89" ry="3.92" fill="#26267e" stroke="#4444cb" stroke-width="0.9" transform="rotate(50.16 310 425)"/><ellipse cx="308" cy="435" rx="5.75" ry="3.87" fill="#232373" stroke="#3e3eb9" stroke-width="0.9" transform="rotate(168.71 308 435)"/><ellipse cx="322.6" cy="412.5" rx="5.77" ry="4.05" fill="#232373" stroke="#3e3eb9" stroke-width="0.9" transform="rotate(20.19 322.6 412.5)"/><ellipse cx="328.8" cy="420.8" rx="7.4" ry="6.48" fill="#26267e" stroke="#4444cb" stroke-width="0.9" transform="rotate(57.45 328.8 420.8)"/><ellipse cx="326.7" cy="429" rx="5.58" ry="4.54" fill="#26267e" stroke="#4444cb" stroke-width="0.9" transform="rotate(159.76 326.7 429)"/><ellipse cx="333" cy="408" rx="4.87" ry="3.94" fill="#232373" stroke="#3e3eb9" stroke-width="0.9" transform="rotate(154.21 333 408)"/><ellipse cx="337" cy="416.6" rx="5.36" ry="4.24" fill="#232373" stroke="#3e3eb9" stroke-width="0.9" transform="rotate(144.77 337 416.6)"/><ellipse cx="331" cy="437.4" rx="5.12" ry="3.68" fill="#232373" stroke="#3e3eb9" stroke-width="0.9" transform="rotate(118.87 331 437.4)"/><ellipse cx="318.4" cy="441.6" rx="6.14" ry="4.81" fill="#26267e" stroke="#4444cb" stroke-width="0.9" transform="rotate(60.18 318.4 441.6)"/><ellipse cx="324.7" cy="447.8" rx="5.87" ry="4.24" fill="#232373" stroke="#3e3eb9" stroke-width="0.9" transform="rotate(122.2 324.7 447.8)"/><ellipse cx="331" cy="450" rx="5.83" ry="4.37" fill="#232373" stroke="#3e3eb9" stroke-width="0.9" transform="rotate(9.78 331 450)"/><ellipse cx="351.7" cy="406" rx="5.1" ry="3.4" fill="#232373" stroke="#3e3eb9" stroke-width="0.9" transform="rotate(26.66 351.7 406)"/><ellipse cx="351.7" cy="420.8" rx="5.61" ry="4.13" fill="#26267e" stroke="#4444cb" stroke-width="0.9" transform="rotate(66.59 351.7 420.8)"/><ellipse cx="355.8" cy="425" rx="5.34" ry="4.36" fill="#232373" stroke="#3e3eb9" stroke-width="0.9" transform="rotate(121.81 355.8 425)"/><ellipse cx="351.7" cy="435" rx="5.6" ry="4.15" fill="#232373" stroke="#3e3eb9" stroke-width="0.9" transform="rotate(119.32 351.7 435)"/><ellipse cx="368.3" cy="427" rx="6.14" ry="4.18" fill="#26267e" stroke="#4444cb" stroke-width="0.9" transform="rotate(98.25 368.3 427)"/><ellipse cx="364" cy="431" rx="5.2" ry="4.26" fill="#232373" stroke="#3e3eb9" stroke-width="0.9" transform="rotate(132.26 364 431)"/><ellipse cx="376.6" cy="410.4" rx="5.76" ry="4.37" fill="#232373" stroke="#3e3eb9" stroke-width="0.9" transform="rotate(81.88 376.6 410.4)"/><ellipse cx="385" cy="423" rx="5.18" ry="3.42" fill="#232373" stroke="#3e3eb9" stroke-width="0.9" transform="rotate(8.93 385 423)"/><ellipse cx="293.5" cy="447.8" rx="6.67" ry="5.57" fill="#26267e" stroke="#4444cb" stroke-width="0.9" transform="rotate(78.98 293.5 447.8)"/><ellipse cx="305" cy="450" rx="6.28" ry="4.5" fill="#26267e" stroke="#4444cb" stroke-width="0.9" transform="rotate(127.87 305 450)"/><ellipse cx="306" cy="460" rx="5.89" ry="4.96" fill="#232373" stroke="#3e3eb9" stroke-width="0.9" transform="rotate(83.73 306 460)"/><ellipse cx="321.5" cy="460" rx="5.92" ry="5.21" fill="#232373" stroke="#3e3eb9" stroke-width="0.9" transform="rotate(10.48 321.5 460)"/><ellipse cx="341.3" cy="456" rx="5.3" ry="4.05" fill="#1f1f67" stroke="#3838a6" stroke-width="0.9" transform="rotate(49.34 341.3 456)"/><ellipse cx="355.8" cy="458" rx="5.53" ry="3.79" fill="#232373" stroke="#3e3eb9" stroke-width="0.9" transform="rotate(134.49 355.8 458)"/><ellipse cx="366" cy="454" rx="5.79" ry="3.85" fill="#1f1f67" stroke="#3838a6" stroke-width="0.9" transform="rotate(124.58 366 454)"/><ellipse cx="378.7" cy="462.4" rx="5.15" ry="4.17" fill="#232373" stroke="#3e3eb9" stroke-width="0.9" transform="rotate(124.42 378.7 462.4)"/><ellipse cx="380.8" cy="441.6" rx="5.91" ry="5.02" fill="#1f1f67" stroke="#3838a6" stroke-width="0.9" transform="rotate(61.01 380.8 441.6)"/><ellipse cx="287" cy="460" rx="5.65" ry="3.88" fill="#232373" stroke="#3e3eb9" stroke-width="0.9" transform="rotate(128.45 287 460)"/><ellipse cx="372.5" cy="443.7" rx="5.31" ry="3.8" fill="#1f1f67" stroke="#3838a6" stroke-width="0.9" transform="rotate(42.93 372.5 443.7)"/><ellipse cx="304.5" cy="440.79" rx="3.46" ry="2.31" fill="#151548" stroke="#272773" stroke-width="0.9" transform="rotate(131.4 304.5 440.79)"/><ellipse cx="378.01" cy="412.55" rx="3.26" ry="2.08" fill="#13133f" stroke="#222266" stroke-width="0.9" transform="rotate(110.05 378.01 412.55)"/><ellipse cx="387.63" cy="390.16" rx="3.12" ry="2.19" fill="#1e1e62" stroke="#35359e" stroke-width="0.9" transform="rotate(177.52 387.63 390.16)"/><ellipse cx="381.42" cy="381.1" rx="3.61" ry="3.3" fill="#1c1c5e" stroke="#333397" stroke-width="0.9" transform="rotate(36.07 381.42 381.1)"/><ellipse cx="305.27" cy="405.96" rx="4.78" ry="3.09" fill="#1f1f67" stroke="#3838a6" stroke-width="0.9" transform="rotate(119.2 305.27 405.96)"/><ellipse cx="350.2" cy="426.11" rx="4.58" ry="4.26" fill="#1f1f69" stroke="#3939a8" stroke-width="0.9" transform="rotate(176.34 350.2 426.11)"/><ellipse cx="291.09" cy="423.4" rx="4.71" ry="2.9" fill="#272780" stroke="#4545ce" stroke-width="0.9" transform="rotate(7.83 291.09 423.4)"/><ellipse cx="287.37" cy="338.63" rx="4.97" ry="4.44" fill="#18184f" stroke="#2a2a7f" stroke-width="0.9" transform="rotate(33.54 287.37 338.63)"/><ellipse cx="354.88" cy="440.64" rx="3.54" ry="3.33" fill="#222270" stroke="#3d3db5" stroke-width="0.9" transform="rotate(123.18 354.88 440.64)"/><ellipse cx="326.29" cy="448.85" rx="4.06" ry="3.45" fill="#12123d" stroke="#212162" stroke-width="0.9" transform="rotate(125.34 326.29 448.85)"/><ellipse cx="295.9" cy="459.76" rx="3.27" ry="2.47" fill="#131341" stroke="#232369" stroke-width="0.9" transform="rotate(18.23 295.9 459.76)"/><ellipse cx="370.14" cy="359.48" rx="4.57" ry="4.13" fill="#17174c" stroke="#29297a" stroke-width="0.9" transform="rotate(128.56 370.14 359.48)"/><ellipse cx="362.93" cy="455.62" rx="4.48" ry="3.61" fill="#12123d" stroke="#212163" stroke-width="0.9" transform="rotate(45.96 362.93 455.62)"/><ellipse cx="357.91" cy="406.4" rx="3.57" ry="2.85" fill="#25257b" stroke="#4343c7" stroke-width="0.9" transform="rotate(176.39 357.91 406.4)"/><ellipse cx="340.4" cy="432.42" rx="3.28" ry="2.61" fill="#242478" stroke="#4141c1" stroke-width="0.9" transform="rotate(21.48 340.4 432.42)"/><ellipse cx="297.08" cy="402.63" rx="3.28" ry="2.15" fill="#1b1b5b" stroke="#313192" stroke-width="0.9" transform="rotate(142.68 297.08 402.63)"/><ellipse cx="299.63" cy="442.02" rx="3.5" ry="2.92" fill="#12123d" stroke="#212162" stroke-width="0.9" transform="rotate(57.98 299.63 442.02)"/><ellipse cx="307.63" cy="449.31" rx="4.55" ry="3.65" fill="#1a1a55" stroke="#2e2e8a" stroke-width="0.9" transform="rotate(159.5 307.63 449.31)"/><ellipse cx="355.75" cy="379.38" rx="3.59" ry="2.51" fill="#262680" stroke="#4545ce" stroke-width="0.9" transform="rotate(175.58 355.75 379.38)"/><ellipse cx="376.25" cy="450.73" rx="3.89" ry="3.59" fill="#17174b" stroke="#292979" stroke-width="0.9" transform="rotate(18.83 376.25 450.73)"/><ellipse cx="295.04" cy="414.98" rx="4.84" ry="3.95" fill="#1f1f68" stroke="#3838a8" stroke-width="0.9" transform="rotate(123.66 295.04 414.98)"/><ellipse cx="369.31" cy="439" rx="3.11" ry="2.26" fill="#222270" stroke="#3c3cb4" stroke-width="0.9" transform="rotate(36.13 369.31 439)"/><ellipse cx="333.48" cy="441.37" rx="4.14" ry="3.89" fill="#131340" stroke="#232368" stroke-width="0.9" transform="rotate(142.58 333.48 441.37)"/><ellipse cx="331.41" cy="376.89" rx="3.44" ry="3.07" fill="#0e0e2f" stroke="#19194b" stroke-width="0.9" transform="rotate(173.2 331.41 376.89)"/><ellipse cx="343.49" cy="452.12" rx="4.38" ry="2.67" fill="#161649" stroke="#282876" stroke-width="0.9" transform="rotate(74.65 343.49 452.12)"/><ellipse cx="361.22" cy="391.83" rx="4.56" ry="3.1" fill="#282884" stroke="#4747d4" stroke-width="0.9" transform="rotate(4.26 361.22 391.83)"/><ellipse cx="320.99" cy="444.51" rx="3.66" ry="2.42" fill="#272782" stroke="#4646d2" stroke-width="0.9" transform="rotate(157.7 320.99 444.51)"/><ellipse cx="290" cy="407.63" rx="3.04" ry="2.06" fill="#21216f" stroke="#3c3cb2" stroke-width="0.9" transform="rotate(95.15 290 407.63)"/><ellipse cx="312.05" cy="412.94" rx="3.68" ry="2.34" fill="#242477" stroke="#4141c0" stroke-width="0.9" transform="rotate(68.89 312.05 412.94)"/><ellipse cx="357.86" cy="381.48" rx="4.15" ry="2.87" fill="#1e1e63" stroke="#3636a0" stroke-width="0.9" transform="rotate(139.03 357.86 381.48)"/><ellipse cx="289.22" cy="363.88" rx="3.98" ry="2.54" fill="#12123d" stroke="#212162" stroke-width="0.9" transform="rotate(28.99 289.22 363.88)"/><ellipse cx="368.55" cy="461.78" rx="4.78" ry="4.31" fill="#191954" stroke="#2e2e88" stroke-width="0.9" transform="rotate(176.44 368.55 461.78)"/><ellipse cx="354.85" cy="417.63" rx="3.56" ry="3.17" fill="#222270" stroke="#3d3db5" stroke-width="0.9" transform="rotate(33.01 354.85 417.63)"/><ellipse cx="384.65" cy="432.68" rx="3.06" ry="2.02" fill="#20206c" stroke="#3a3aae" stroke-width="0.9" transform="rotate(130.05 384.65 432.68)"/><ellipse cx="380.94" cy="451.99" rx="3.39" ry="2.13" fill="#1a1a58" stroke="#30308e" stroke-width="0.9" transform="rotate(76.22 380.94 451.99)"/><ellipse cx="336.27" cy="390.97" rx="3.92" ry="3.27" fill="#252579" stroke="#4242c4" stroke-width="0.9" transform="rotate(121.68 336.27 390.97)"/><ellipse cx="308.52" cy="410.93" rx="3.25" ry="2.07" fill="#1c1c5d" stroke="#323295" stroke-width="0.9" transform="rotate(169.36 308.52 410.93)"/><ellipse cx="358.85" cy="415.98" rx="3.62" ry="2.59" fill="#1d1d5f" stroke="#333399" stroke-width="0.9" transform="rotate(22.09 358.85 415.98)"/><ellipse cx="348.68" cy="417.03" rx="3.99" ry="3.17" fill="#141444" stroke="#25256e" stroke-width="0.9" transform="rotate(148.83 348.68 417.03)"/><ellipse cx="307.22" cy="376.13" rx="4.57" ry="4.12" fill="#18184f" stroke="#2b2b80" stroke-width="0.9" transform="rotate(108.1 307.22 376.13)"/><ellipse cx="366.79" cy="447.12" rx="3.14" ry="2.84" fill="#272782" stroke="#4646d1" stroke-width="0.9" transform="rotate(128.91 366.79 447.12)"/><ellipse cx="287.84" cy="430.45" rx="3.22" ry="2.42" fill="#181850" stroke="#2b2b81" stroke-width="0.9" transform="rotate(145.29 287.84 430.45)"/><ellipse cx="364.46" cy="380.66" rx="3.69" ry="2.78" fill="#1f1f68" stroke="#3838a7" stroke-width="0.9" transform="rotate(170.61 364.46 380.66)"/><ellipse cx="339.85" cy="443.3" rx="4.57" ry="3.03" fill="#1c1c5f" stroke="#333399" stroke-width="0.9" transform="rotate(100.03 339.85 443.3)"/><ellipse cx="311.31" cy="373.91" rx="3.83" ry="2.57" fill="#141444" stroke="#25256e" stroke-width="0.9" transform="rotate(167.62 311.31 373.91)"/><ellipse cx="384.15" cy="441.74" rx="4.53" ry="2.78" fill="#272780" stroke="#4545cf" stroke-width="0.9" transform="rotate(126.22 384.15 441.74)"/><ellipse cx="308.1" cy="457.39" rx="3.02" ry="2.11" fill="#20206c" stroke="#3a3aae" stroke-width="0.9" transform="rotate(96.71 308.1 457.39)"/><ellipse cx="367.67" cy="426.29" rx="4.88" ry="3.04" fill="#141444" stroke="#25256d" stroke-width="0.9" transform="rotate(51.93 367.67 426.29)"/><ellipse cx="295.6" cy="409.32" rx="3.36" ry="2.6" fill="#17174e" stroke="#2a2a7e" stroke-width="0.9" transform="rotate(3.07 295.6 409.32)"/><ellipse cx="330.98" cy="419.11" rx="4.91" ry="3.42" fill="#1f1f66" stroke="#3737a4" stroke-width="0.9" transform="rotate(73.48 330.98 419.11)"/><ellipse cx="317.79" cy="460.87" rx="4.92" ry="4.11" fill="#17174e" stroke="#2a2a7d" stroke-width="0.9" transform="rotate(177.47 317.79 460.87)"/><ellipse cx="291.35" cy="373.69" rx="4.89" ry="3.56" fill="#191952" stroke="#2c2c84" stroke-width="0.9" transform="rotate(104.38 291.35 373.69)"/><ellipse cx="358.14" cy="438.9" rx="4.84" ry="3.91" fill="#151545" stroke="#25256f" stroke-width="0.9" transform="rotate(27.2 358.14 438.9)"/><ellipse cx="373.35" cy="408.97" rx="4.52" ry="4.26" fill="#191952" stroke="#2c2c85" stroke-width="0.9" transform="rotate(93.5 373.35 408.97)"/><ellipse cx="293.96" cy="343.98" rx="3.75" ry="3.06" fill="#17174c" stroke="#29297b" stroke-width="0.9" transform="rotate(135.02 293.96 343.98)"/><ellipse cx="387.93" cy="398.07" rx="3.73" ry="2.98" fill="#21216d" stroke="#3b3bb0" stroke-width="0.9" transform="rotate(27.64 387.93 398.07)"/><ellipse cx="323.38" cy="379.34" rx="4.51" ry="3.68" fill="#222271" stroke="#3d3db6" stroke-width="0.9" transform="rotate(72.65 323.38 379.34)"/><ellipse cx="380.4" cy="353.33" rx="3.19" ry="2.45" fill="#0f0f34" stroke="#1c1c54" stroke-width="0.9" transform="rotate(35.75 380.4 353.33)"/><ellipse cx="282.09" cy="439.62" rx="4.26" ry="4" fill="#17174e" stroke="#2a2a7e" stroke-width="0.9" transform="rotate(106.02 282.09 439.62)"/><ellipse cx="370.96" cy="399.9" rx="4.74" ry="3.88" fill="#131340" stroke="#222267" stroke-width="0.9" transform="rotate(37.09 370.96 399.9)"/><ellipse cx="370.92" cy="439.06" rx="3.47" ry="2.16" fill="#17174c" stroke="#29297b" stroke-width="0.9" transform="rotate(89.47 370.92 439.06)"/><ellipse cx="320.72" cy="451.37" rx="4.68" ry="3.86" fill="#26267f" stroke="#4545cd" stroke-width="0.9" transform="rotate(50.3 320.72 451.37)"/><ellipse cx="345.73" cy="460.91" rx="3.39" ry="2.09" fill="#202069" stroke="#3939aa" stroke-width="0.9" transform="rotate(80.41 345.73 460.91)"/><ellipse cx="346.58" cy="382.05" rx="4.61" ry="4.22" fill="#1d1d60" stroke="#34349a" stroke-width="0.9" transform="rotate(173.57 346.58 382.05)"/><ellipse cx="342.9" cy="419.31" rx="4.59" ry="4.2" fill="#1d1d60" stroke="#34349b" stroke-width="0.9" transform="rotate(85.97 342.9 419.31)"/><ellipse cx="286.14" cy="383.72" rx="3.25" ry="2.11" fill="#20206a" stroke="#3939ab" stroke-width="0.9" transform="rotate(160.35 286.14 383.72)"/><ellipse cx="304.82" cy="431.29" rx="3.02" ry="2.8" fill="#141444" stroke="#25256e" stroke-width="0.9" transform="rotate(86.65 304.82 431.29)"/><ellipse cx="283.14" cy="374.77" rx="3.76" ry="2.94" fill="#181851" stroke="#2c2c82" stroke-width="0.9" transform="rotate(110.32 283.14 374.77)"/><ellipse cx="329.53" cy="445.51" rx="4.4" ry="3.33" fill="#222272" stroke="#3e3eb7" stroke-width="0.9" transform="rotate(17.04 329.53 445.51)"/><ellipse cx="299.81" cy="428.08" rx="3.72" ry="2.29" fill="#1f1f68" stroke="#3838a8" stroke-width="0.9" transform="rotate(18.87 299.81 428.08)"/><ellipse cx="362.79" cy="458.1" rx="3.16" ry="2.68" fill="#151545" stroke="#25256f" stroke-width="0.9" transform="rotate(144.54 362.79 458.1)"/><ellipse cx="340.2" cy="430.75" rx="3.36" ry="2.3" fill="#252579" stroke="#4242c3" stroke-width="0.9" transform="rotate(142.11 340.2 430.75)"/><ellipse cx="349.05" cy="443.31" rx="3.58" ry="3.37" fill="#282884" stroke="#4747d5" stroke-width="0.9" transform="rotate(19.34 349.05 443.31)"/><ellipse cx="347.99" cy="426.57" rx="3.78" ry="2.73" fill="#26267e" stroke="#4444cc" stroke-width="0.9" transform="rotate(25.16 347.99 426.57)"/><ellipse cx="290.87" cy="434.5" rx="3.77" ry="3" fill="#21216d" stroke="#3b3bb0" stroke-width="0.9" transform="rotate(46.25 290.87 434.5)"/><ellipse cx="349.44" cy="422.8" rx="3.94" ry="3.65" fill="#1c1c5d" stroke="#323295" stroke-width="0.9" transform="rotate(164.92 349.44 422.8)"/><ellipse cx="348.45" cy="434.85" rx="4.55" ry="2.86" fill="#232375" stroke="#3f3fbc" stroke-width="0.9" transform="rotate(25.82 348.45 434.85)"/><ellipse cx="346.32" cy="383.23" rx="3.76" ry="3.28" fill="#191953" stroke="#2d2d86" stroke-width="0.9" transform="rotate(95.49 346.32 383.23)"/><ellipse cx="344.16" cy="383.51" rx="4.25" ry="3.38" fill="#20206c" stroke="#3a3aae" stroke-width="0.9" transform="rotate(41.15 344.16 383.51)"/><ellipse cx="330.96" cy="452.33" rx="3.17" ry="2.49" fill="#12123d" stroke="#212163" stroke-width="0.9" transform="rotate(65.46 330.96 452.33)"/></g><circle cx="307.93" cy="437.52" r="0.4" fill="#9080b0"/><circle cx="297.88" cy="430.93" r="0.4" fill="#6060a0"/><circle cx="353.52" cy="388.73" r="0.4" fill="#9080b0"/><circle cx="328.64" cy="364.47" r="0.4" fill="#6060a0"/><circle cx="355.01" cy="371.24" r="0.4" fill="#9080b0"/><circle cx="294.3" cy="369" r="0.4" fill="#9080b0"/><circle cx="370.35" cy="377.45" r="0.4" fill="#8080d0"/><circle cx="368.47" cy="453.63" r="0.4" fill="#6060a0"/><circle cx="367.76" cy="356.05" r="0.4" fill="#a0a0c0"/><circle cx="317.34" cy="344.69" r="0.4" fill="#a06070"/><circle cx="370.99" cy="443.53" r="0.4" fill="#8080d0"/><circle cx="356.94" cy="403.01" r="0.4" fill="#a0a0c0"/><circle cx="311.01" cy="414.76" r="0.4" fill="#a06070"/><circle cx="335.96" cy="353.54" r="0.4" fill="#8080d0"/><circle cx="296.82" cy="339.53" r="0.4" fill="#6060a0"/><circle cx="304.73" cy="442.86" r="0.4" fill="#8080d0"/><circle cx="334.59" cy="438.67" r="0.4" fill="#a0a0c0"/><circle cx="382.35" cy="393.75" r="0.4" fill="#8080d0"/><circle cx="359.58" cy="384.09" r="0.4" fill="#8080d0"/><circle cx="334.77" cy="446.57" r="0.4" fill="#9080b0"/><circle cx="342.81" cy="423.7" r="0.4" fill="#a06070"/><circle cx="332.59" cy="401.52" r="0.4" fill="#9080b0"/><circle cx="375.88" cy="380.01" r="0.4" fill="#a06070"/><circle cx="363.27" cy="385.61" r="0.4" fill="#6060a0"/><circle cx="289.52" cy="393.98" r="0.4" fill="#6060a0"/><circle cx="341.39" cy="372.16" r="0.4" fill="#a0a0c0"/><circle cx="324.55" cy="344.59" r="0.4" fill="#6060a0"/><circle cx="361.41" cy="357.92" r="0.4" fill="#9080b0"/></g><clipPath id="c202"><rect x="390.7" y="338.3" width="108.6" height="128.2"/></clipPath><rect x="390.7" y="338.3" width="108.6" height="128.2" fill="#04040c"/><g clip-path="url(#c202)"><g filter="url(#blur2)"><ellipse cx="473.66" cy="420.96" rx="2.56" ry="2.14" fill="#1c1c5c" stroke="#323294" stroke-width="0.9" transform="rotate(76.99 473.66 420.96)"/><ellipse cx="483.11" cy="342.93" rx="2.56" ry="1.98" fill="#16164a" stroke="#282877" stroke-width="0.9" transform="rotate(154.06 483.11 342.93)"/><ellipse cx="447.49" cy="449.69" rx="2.47" ry="1.88" fill="#18184f" stroke="#2b2b7f" stroke-width="0.9" transform="rotate(127.43 447.49 449.69)"/><ellipse cx="394.69" cy="370.17" rx="2.91" ry="2.63" fill="#111138" stroke="#1e1e5b" stroke-width="0.9" transform="rotate(8.26 394.69 370.17)"/><ellipse cx="394.9" cy="371.72" rx="3.49" ry="2.25" fill="#0f0f31" stroke="#1a1a4f" stroke-width="0.9" transform="rotate(39.72 394.9 371.72)"/><ellipse cx="424.17" cy="421.64" rx="2.68" ry="2.42" fill="#1c1c5d" stroke="#323296" stroke-width="0.9" transform="rotate(43.62 424.17 421.64)"/><ellipse cx="428.66" cy="345.66" rx="2.8" ry="2.19" fill="#151548" stroke="#272774" stroke-width="0.9" transform="rotate(62.9 428.66 345.66)"/><ellipse cx="407.86" cy="409.54" rx="2.75" ry="2.59" fill="#1f1f66" stroke="#3737a5" stroke-width="0.9" transform="rotate(2.72 407.86 409.54)"/><ellipse cx="494.64" cy="462.62" rx="3.57" ry="2.28" fill="#1b1b59" stroke="#303090" stroke-width="0.9" transform="rotate(30.4 494.64 462.62)"/><ellipse cx="404.69" cy="362.03" rx="2.47" ry="1.53" fill="#0d0d2b" stroke="#171746" stroke-width="0.9" transform="rotate(62.45 404.69 362.03)"/><ellipse cx="461.29" cy="398.02" rx="2.33" ry="1.48" fill="#151547" stroke="#262673" stroke-width="0.9" transform="rotate(28.22 461.29 398.02)"/><ellipse cx="392.09" cy="346.2" rx="3.55" ry="2.75" fill="#0d0d2b" stroke="#171745" stroke-width="0.9" transform="rotate(35.06 392.09 346.2)"/><ellipse cx="464.69" cy="439.92" rx="2.91" ry="1.78" fill="#151546" stroke="#262671" stroke-width="0.9" transform="rotate(136.09 464.69 439.92)"/><ellipse cx="444.96" cy="438.97" rx="3.17" ry="2.42" fill="#161649" stroke="#282876" stroke-width="0.9" transform="rotate(13.11 444.96 438.97)"/><ellipse cx="439.99" cy="417.79" rx="3.02" ry="1.83" fill="#131340" stroke="#222267" stroke-width="0.9" transform="rotate(169.42 439.99 417.79)"/><ellipse cx="466.02" cy="403.54" rx="3.44" ry="2.74" fill="#141443" stroke="#24246d" stroke-width="0.9" transform="rotate(66.85 466.02 403.54)"/><ellipse cx="407.29" cy="362.72" rx="3" ry="2.61" fill="#141441" stroke="#232369" stroke-width="0.9" transform="rotate(69.21 407.29 362.72)"/><ellipse cx="459.69" cy="376.85" rx="3.39" ry="3.17" fill="#17174e" stroke="#2a2a7e" stroke-width="0.9" transform="rotate(157.93 459.69 376.85)"/><ellipse cx="478.3" cy="385.39" rx="2.9" ry="1.8" fill="#161649" stroke="#272775" stroke-width="0.9" transform="rotate(99.41 478.3 385.39)"/><ellipse cx="470.93" cy="412.51" rx="3.51" ry="2.95" fill="#16164b" stroke="#282879" stroke-width="0.9" transform="rotate(34.88 470.93 412.51)"/><ellipse cx="478.91" cy="375.33" rx="3.55" ry="2.31" fill="#1c1c5d" stroke="#323296" stroke-width="0.9" transform="rotate(71.3 478.91 375.33)"/><ellipse cx="434.72" cy="356.18" rx="2.36" ry="1.89" fill="#12123d" stroke="#212163" stroke-width="0.9" transform="rotate(122.02 434.72 356.18)"/><ellipse cx="404.36" cy="374.73" rx="2.72" ry="2.3" fill="#111138" stroke="#1e1e5a" stroke-width="0.9" transform="rotate(135.13 404.36 374.73)"/><ellipse cx="428.34" cy="456.3" rx="2.67" ry="2.4" fill="#16164a" stroke="#282878" stroke-width="0.9" transform="rotate(155.53 428.34 456.3)"/><ellipse cx="467.81" cy="455.48" rx="2.75" ry="2.36" fill="#1b1b5a" stroke="#303090" stroke-width="0.9" transform="rotate(94.5 467.81 455.48)"/><ellipse cx="468.47" cy="415.85" rx="2.56" ry="2.09" fill="#0f0f33" stroke="#1b1b52" stroke-width="0.9" transform="rotate(80.49 468.47 415.85)"/><ellipse cx="474.89" cy="387.14" rx="3.56" ry="2.87" fill="#151546" stroke="#262671" stroke-width="0.9" transform="rotate(34.81 474.89 387.14)"/><ellipse cx="494.27" cy="444.91" rx="3.51" ry="2.92" fill="#0f0f33" stroke="#1c1c53" stroke-width="0.9" transform="rotate(7.85 494.27 444.91)"/><ellipse cx="417.61" cy="413.23" rx="2.31" ry="2.15" fill="#131341" stroke="#232369" stroke-width="0.9" transform="rotate(150.94 417.61 413.23)"/><ellipse cx="466.28" cy="386.72" rx="2.56" ry="1.77" fill="#0d0d2c" stroke="#171747" stroke-width="0.9" transform="rotate(65.71 466.28 386.72)"/><ellipse cx="488.62" cy="430.55" rx="2.75" ry="2.07" fill="#151545" stroke="#25256f" stroke-width="0.9" transform="rotate(91.83 488.62 430.55)"/><ellipse cx="461.04" cy="340.43" rx="2.45" ry="2" fill="#1a1a56" stroke="#2f2f8b" stroke-width="0.9" transform="rotate(158.73 461.04 340.43)"/><ellipse cx="481.74" cy="408.57" rx="3.16" ry="2.23" fill="#141443" stroke="#24246c" stroke-width="0.9" transform="rotate(24.28 481.74 408.57)"/><ellipse cx="413.45" cy="400.93" rx="2.38" ry="1.86" fill="#161649" stroke="#272775" stroke-width="0.9" transform="rotate(94.37 413.45 400.93)"/><ellipse cx="498.03" cy="399.31" rx="3.44" ry="2.22" fill="#181852" stroke="#2c2c84" stroke-width="0.9" transform="rotate(23.84 498.03 399.31)"/><ellipse cx="483.98" cy="344" rx="2.84" ry="1.77" fill="#1b1b59" stroke="#30308f" stroke-width="0.9" transform="rotate(31.78 483.98 344)"/><ellipse cx="415.92" cy="431.26" rx="3.42" ry="2.47" fill="#1e1e63" stroke="#35359f" stroke-width="0.9" transform="rotate(150.57 415.92 431.26)"/><ellipse cx="398.6" cy="370.96" rx="3.22" ry="2.26" fill="#131340" stroke="#232367" stroke-width="0.9" transform="rotate(37.36 398.6 370.96)"/><ellipse cx="391.36" cy="409.88" rx="2.61" ry="1.78" fill="#232374" stroke="#3f3fba" stroke-width="0.9" transform="rotate(26.41 391.36 409.88)"/><ellipse cx="426.54" cy="440.65" rx="2.62" ry="2.12" fill="#1c1c5d" stroke="#323296" stroke-width="0.9" transform="rotate(28.33 426.54 440.65)"/><ellipse cx="469.88" cy="355.5" rx="2.46" ry="1.97" fill="#17174c" stroke="#29297a" stroke-width="0.9" transform="rotate(128.16 469.88 355.5)"/><ellipse cx="455.02" cy="415.39" rx="2.64" ry="1.71" fill="#1c1c5c" stroke="#323295" stroke-width="0.9" transform="rotate(16.67 455.02 415.39)"/><ellipse cx="438.29" cy="459.1" rx="3.31" ry="2.04" fill="#17174d" stroke="#2a2a7c" stroke-width="0.9" transform="rotate(5.26 438.29 459.1)"/><ellipse cx="456.77" cy="388.24" rx="2.92" ry="2.07" fill="#141443" stroke="#24246b" stroke-width="0.9" transform="rotate(111.09 456.77 388.24)"/><ellipse cx="403.28" cy="398.43" rx="3.48" ry="3.23" fill="#111138" stroke="#1e1e5b" stroke-width="0.9" transform="rotate(65.28 403.28 398.43)"/><ellipse cx="481.84" cy="449.2" rx="2.32" ry="1.96" fill="#0f0f34" stroke="#1c1c54" stroke-width="0.9" transform="rotate(129.45 481.84 449.2)"/><ellipse cx="403.17" cy="411.04" rx="3.07" ry="2.09" fill="#131340" stroke="#232368" stroke-width="0.9" transform="rotate(152.8 403.17 411.04)"/><ellipse cx="472.39" cy="421.22" rx="2.82" ry="2.25" fill="#101036" stroke="#1d1d57" stroke-width="0.9" transform="rotate(122.96 472.39 421.22)"/><ellipse cx="402.33" cy="358.95" rx="2.96" ry="2.39" fill="#18184f" stroke="#2a2a7f" stroke-width="0.9" transform="rotate(103.39 402.33 358.95)"/><ellipse cx="437.35" cy="449.68" rx="2.93" ry="1.98" fill="#181850" stroke="#2b2b81" stroke-width="0.9" transform="rotate(9.09 437.35 449.68)"/><ellipse cx="482.86" cy="404.05" rx="2.81" ry="1.98" fill="#1b1b5a" stroke="#313191" stroke-width="0.9" transform="rotate(71.64 482.86 404.05)"/><ellipse cx="468.68" cy="339.32" rx="3.39" ry="2.8" fill="#181850" stroke="#2b2b82" stroke-width="0.9" transform="rotate(109.4 468.68 339.32)"/><ellipse cx="407.77" cy="401.21" rx="3.04" ry="2.87" fill="#141441" stroke="#232369" stroke-width="0.9" transform="rotate(126.25 407.77 401.21)"/><ellipse cx="423.2" cy="415.05" rx="3.22" ry="2.24" fill="#16164a" stroke="#282877" stroke-width="0.9" transform="rotate(36.7 423.2 415.05)"/><ellipse cx="430.29" cy="461.32" rx="3.15" ry="2.98" fill="#0f0f33" stroke="#1b1b52" stroke-width="0.9" transform="rotate(70.98 430.29 461.32)"/><ellipse cx="475.2" cy="463.79" rx="2.77" ry="2.51" fill="#12123b" stroke="#202060" stroke-width="0.9" transform="rotate(33.67 475.2 463.79)"/><ellipse cx="478.26" cy="437.19" rx="2.67" ry="2.14" fill="#161649" stroke="#272775" stroke-width="0.9" transform="rotate(49.24 478.26 437.19)"/><ellipse cx="450.97" cy="392.06" rx="2.38" ry="2.15" fill="#1c1c5d" stroke="#323296" stroke-width="0.9" transform="rotate(98.19 450.97 392.06)"/><ellipse cx="477.53" cy="453.59" rx="2.79" ry="2.2" fill="#16164a" stroke="#282877" stroke-width="0.9" transform="rotate(28.2 477.53 453.59)"/><ellipse cx="440.17" cy="382.21" rx="3.25" ry="2.82" fill="#1b1b5b" stroke="#313193" stroke-width="0.9" transform="rotate(120.55 440.17 382.21)"/><ellipse cx="477.49" cy="423.26" rx="2.72" ry="1.82" fill="#151545" stroke="#25256f" stroke-width="0.9" transform="rotate(144.63 477.49 423.26)"/><ellipse cx="451.14" cy="342.33" rx="3.17" ry="2.58" fill="#161649" stroke="#272775" stroke-width="0.9" transform="rotate(48.61 451.14 342.33)"/><ellipse cx="412.47" cy="428.63" rx="2.86" ry="2.45" fill="#141443" stroke="#24246d" stroke-width="0.9" transform="rotate(139.24 412.47 428.63)"/><ellipse cx="415.51" cy="447.67" rx="3.25" ry="3" fill="#272780" stroke="#4646cf" stroke-width="0.9" transform="rotate(146.64 415.51 447.67)"/><ellipse cx="410.73" cy="442.61" rx="2.55" ry="2.29" fill="#1a1a58" stroke="#2f2f8d" stroke-width="0.9" transform="rotate(139.82 410.73 442.61)"/><ellipse cx="415.77" cy="353.44" rx="3.45" ry="3.11" fill="#1b1b5b" stroke="#313193" stroke-width="0.9" transform="rotate(90.85 415.77 353.44)"/><ellipse cx="474.04" cy="387.25" rx="2.62" ry="2.08" fill="#151545" stroke="#25256f" stroke-width="0.9" transform="rotate(10.86 474.04 387.25)"/><ellipse cx="444.83" cy="384.69" rx="2.37" ry="1.72" fill="#1c1c5d" stroke="#323296" stroke-width="0.9" transform="rotate(134.11 444.83 384.69)"/><ellipse cx="495.49" cy="437.42" rx="2.34" ry="1.59" fill="#131340" stroke="#232368" stroke-width="0.9" transform="rotate(51.05 495.49 437.42)"/><ellipse cx="442.08" cy="372.9" rx="2.63" ry="2.01" fill="#0e0e30" stroke="#1a1a4d" stroke-width="0.9" transform="rotate(106.56 442.08 372.9)"/><ellipse cx="493.57" cy="442.04" rx="3.41" ry="3.04" fill="#131341" stroke="#232369" stroke-width="0.9" transform="rotate(160.07 493.57 442.04)"/><ellipse cx="426.12" cy="361.24" rx="2.72" ry="1.74" fill="#12123c" stroke="#202061" stroke-width="0.9" transform="rotate(59.33 426.12 361.24)"/><ellipse cx="452.56" cy="373.59" rx="3.48" ry="2.13" fill="#11113a" stroke="#1f1f5e" stroke-width="0.9" transform="rotate(38.56 452.56 373.59)"/><ellipse cx="455.26" cy="462.19" rx="3.01" ry="1.86" fill="#17174d" stroke="#2a2a7d" stroke-width="0.9" transform="rotate(19.94 455.26 462.19)"/><ellipse cx="412.24" cy="418.8" rx="2.48" ry="1.69" fill="#141442" stroke="#24246a" stroke-width="0.9" transform="rotate(166.48 412.24 418.8)"/><ellipse cx="491.37" cy="458.66" rx="2.54" ry="2.21" fill="#1a1a55" stroke="#2e2e8a" stroke-width="0.9" transform="rotate(54.61 491.37 458.66)"/><ellipse cx="397.36" cy="380.06" rx="3.48" ry="2.14" fill="#12123b" stroke="#20205f" stroke-width="0.9" transform="rotate(31.78 397.36 380.06)"/><ellipse cx="437.43" cy="368.04" rx="2.76" ry="2.24" fill="#111139" stroke="#1f1f5c" stroke-width="0.9" transform="rotate(64.79 437.43 368.04)"/><ellipse cx="470.85" cy="431.21" rx="3.23" ry="2.28" fill="#101036" stroke="#1d1d58" stroke-width="0.9" transform="rotate(20.75 470.85 431.21)"/><ellipse cx="423.57" cy="410.64" rx="2.36" ry="1.73" fill="#13133e" stroke="#212164" stroke-width="0.9" transform="rotate(73.58 423.57 410.64)"/><ellipse cx="405.27" cy="418.43" rx="2.74" ry="2.04" fill="#1b1b59" stroke="#303090" stroke-width="0.9" transform="rotate(13.98 405.27 418.43)"/><ellipse cx="400.27" cy="443.56" rx="2.65" ry="1.99" fill="#1e1e63" stroke="#3636a0" stroke-width="0.9" transform="rotate(1.21 400.27 443.56)"/><ellipse cx="440.87" cy="366.9" rx="3.52" ry="2.19" fill="#12123d" stroke="#212162" stroke-width="0.9" transform="rotate(17.92 440.87 366.9)"/><ellipse cx="479.24" cy="398.92" rx="3.29" ry="2.93" fill="#1b1b5a" stroke="#313191" stroke-width="0.9" transform="rotate(160.52 479.24 398.92)"/><ellipse cx="404.52" cy="401.34" rx="3.22" ry="2.26" fill="#0f0f32" stroke="#1b1b51" stroke-width="0.9" transform="rotate(87.3 404.52 401.34)"/><ellipse cx="484.7" cy="463.95" rx="2.33" ry="1.95" fill="#131341" stroke="#232368" stroke-width="0.9" transform="rotate(145.59 484.7 463.95)"/><ellipse cx="473.45" cy="433.43" rx="2.66" ry="1.76" fill="#12123d" stroke="#212163" stroke-width="0.9" transform="rotate(46.85 473.45 433.43)"/><ellipse cx="433.05" cy="364.19" rx="3.41" ry="2.72" fill="#141443" stroke="#24246d" stroke-width="0.9" transform="rotate(5.18 433.05 364.19)"/><ellipse cx="476.87" cy="462.24" rx="3.43" ry="2.5" fill="#0e0e30" stroke="#1a1a4d" stroke-width="0.9" transform="rotate(172.96 476.87 462.24)"/><ellipse cx="401.5" cy="338.8" rx="3.44" ry="3.22" fill="#141442" stroke="#24246b" stroke-width="0.9" transform="rotate(43.6 401.5 338.8)"/><ellipse cx="413.48" cy="440.11" rx="2.54" ry="1.95" fill="#181850" stroke="#2b2b81" stroke-width="0.9" transform="rotate(164.89 413.48 440.11)"/><ellipse cx="494.59" cy="462.1" rx="3.24" ry="2.29" fill="#17174c" stroke="#29297b" stroke-width="0.9" transform="rotate(47.2 494.59 462.1)"/><ellipse cx="407.97" cy="439.84" rx="2.88" ry="2" fill="#1a1a58" stroke="#30308e" stroke-width="0.9" transform="rotate(29.98 407.97 439.84)"/><ellipse cx="462.13" cy="368.22" rx="2.83" ry="2.08" fill="#11113a" stroke="#1f1f5d" stroke-width="0.9" transform="rotate(155.43 462.13 368.22)"/><ellipse cx="451.96" cy="402.96" rx="2.69" ry="2.43" fill="#0f0f33" stroke="#1b1b52" stroke-width="0.9" transform="rotate(105.39 451.96 402.96)"/><ellipse cx="419.56" cy="366.61" rx="2.88" ry="2.05" fill="#16164b" stroke="#292979" stroke-width="0.9" transform="rotate(60.86 419.56 366.61)"/><ellipse cx="423.51" cy="384.84" rx="2.96" ry="2.63" fill="#141442" stroke="#24246a" stroke-width="0.9" transform="rotate(46.78 423.51 384.84)"/><ellipse cx="482.7" cy="375.76" rx="2.35" ry="1.79" fill="#0e0e2f" stroke="#19194c" stroke-width="0.9" transform="rotate(171.22 482.7 375.76)"/><ellipse cx="462.1" cy="390.93" rx="2.32" ry="1.71" fill="#131340" stroke="#222267" stroke-width="0.9" transform="rotate(48.75 462.1 390.93)"/><ellipse cx="431.48" cy="440.95" rx="3.06" ry="2.64" fill="#0f0f34" stroke="#1c1c53" stroke-width="0.9" transform="rotate(22.57 431.48 440.95)"/><ellipse cx="443.81" cy="418.88" rx="2.4" ry="1.88" fill="#161649" stroke="#272775" stroke-width="0.9" transform="rotate(29.61 443.81 418.88)"/><ellipse cx="424.53" cy="359.63" rx="2.82" ry="2.52" fill="#0f0f34" stroke="#1c1c53" stroke-width="0.9" transform="rotate(63.46 424.53 359.63)"/><ellipse cx="444.58" cy="412.75" rx="2.87" ry="2.11" fill="#17174e" stroke="#2a2a7d" stroke-width="0.9" transform="rotate(28.73 444.58 412.75)"/><ellipse cx="424.27" cy="420.42" rx="2.66" ry="2.44" fill="#1c1c5d" stroke="#323296" stroke-width="0.9" transform="rotate(94.11 424.27 420.42)"/><ellipse cx="396.73" cy="438.84" rx="2.44" ry="1.51" fill="#25257a" stroke="#4242c4" stroke-width="0.9" transform="rotate(1.04 396.73 438.84)"/><ellipse cx="433.08" cy="371.44" rx="2.35" ry="2.19" fill="#141443" stroke="#24246c" stroke-width="0.9" transform="rotate(177.87 433.08 371.44)"/><ellipse cx="427.46" cy="372.52" rx="3.27" ry="2.58" fill="#0d0d2c" stroke="#171747" stroke-width="0.9" transform="rotate(14.6 427.46 372.52)"/><ellipse cx="413.54" cy="424.61" rx="3.46" ry="2.82" fill="#1e1e65" stroke="#3737a2" stroke-width="0.9" transform="rotate(114.56 413.54 424.61)"/><ellipse cx="392.05" cy="398.3" rx="3.15" ry="2.73" fill="#1b1b5a" stroke="#313192" stroke-width="0.9" transform="rotate(82.65 392.05 398.3)"/><ellipse cx="419.35" cy="404.99" rx="2.77" ry="2.21" fill="#1c1c5c" stroke="#323295" stroke-width="0.9" transform="rotate(25.13 419.35 404.99)"/><ellipse cx="491.97" cy="406.02" rx="3.43" ry="2.34" fill="#101035" stroke="#1c1c55" stroke-width="0.9" transform="rotate(70.51 491.97 406.02)"/><ellipse cx="399.3" cy="454.25" rx="2.33" ry="1.92" fill="#26267d" stroke="#4444ca" stroke-width="0.9" transform="rotate(33.12 399.3 454.25)"/><ellipse cx="398.25" cy="386.94" rx="2.98" ry="2.42" fill="#13133f" stroke="#222266" stroke-width="0.9" transform="rotate(109.77 398.25 386.94)"/><ellipse cx="402.32" cy="423.46" rx="2.86" ry="1.81" fill="#242477" stroke="#4040bf" stroke-width="0.9" transform="rotate(172.04 402.32 423.46)"/><ellipse cx="428.73" cy="436.48" rx="2.61" ry="1.95" fill="#161649" stroke="#272776" stroke-width="0.9" transform="rotate(0.6 428.73 436.48)"/><ellipse cx="467.79" cy="414.37" rx="2.73" ry="2" fill="#131341" stroke="#232369" stroke-width="0.9" transform="rotate(79.95 467.79 414.37)"/><ellipse cx="466.16" cy="405.72" rx="3" ry="2.37" fill="#0d0d2d" stroke="#181848" stroke-width="0.9" transform="rotate(174.88 466.16 405.72)"/><ellipse cx="493.82" cy="380.97" rx="3.24" ry="2.09" fill="#111138" stroke="#1e1e5a" stroke-width="0.9" transform="rotate(131.86 493.82 380.97)"/><ellipse cx="395.61" cy="430.74" rx="2.55" ry="1.94" fill="#1f1f68" stroke="#3838a8" stroke-width="0.9" transform="rotate(86.68 395.61 430.74)"/><ellipse cx="490.94" cy="422.34" rx="3.23" ry="1.99" fill="#1a1a57" stroke="#2f2f8d" stroke-width="0.9" transform="rotate(148.91 490.94 422.34)"/><ellipse cx="465.86" cy="379.05" rx="3.23" ry="2.21" fill="#141442" stroke="#24246a" stroke-width="0.9" transform="rotate(94.17 465.86 379.05)"/><ellipse cx="437.31" cy="438.23" rx="2.46" ry="2.24" fill="#191954" stroke="#2e2e88" stroke-width="0.9" transform="rotate(80.11 437.31 438.23)"/><ellipse cx="408.48" cy="399.89" rx="2.94" ry="2.13" fill="#16164a" stroke="#282877" stroke-width="0.9" transform="rotate(21.03 408.48 399.89)"/><ellipse cx="487.98" cy="353.44" rx="3.11" ry="2.43" fill="#101035" stroke="#1d1d56" stroke-width="0.9" transform="rotate(45.55 487.98 353.44)"/><ellipse cx="399.42" cy="423.86" rx="3.12" ry="2.34" fill="#17174c" stroke="#29297b" stroke-width="0.9" transform="rotate(40.82 399.42 423.86)"/><ellipse cx="471.7" cy="358.07" rx="2.41" ry="2.04" fill="#12123b" stroke="#20205f" stroke-width="0.9" transform="rotate(67.47 471.7 358.07)"/><ellipse cx="405.66" cy="396.96" rx="2.99" ry="2.09" fill="#1a1a55" stroke="#2e2e89" stroke-width="0.9" transform="rotate(28.66 405.66 396.96)"/><ellipse cx="399.99" cy="423.88" rx="2.98" ry="1.82" fill="#191952" stroke="#2d2d85" stroke-width="0.9" transform="rotate(95.93 399.99 423.88)"/><ellipse cx="450.08" cy="408.71" rx="3.58" ry="3.03" fill="#111139" stroke="#1f1f5c" stroke-width="0.9" transform="rotate(100.02 450.08 408.71)"/><ellipse cx="411.56" cy="340.7" rx="3.34" ry="3.01" fill="#151546" stroke="#262672" stroke-width="0.9" transform="rotate(12.64 411.56 340.7)"/><ellipse cx="481.11" cy="372" rx="2.79" ry="2.62" fill="#16164a" stroke="#282878" stroke-width="0.9" transform="rotate(99.81 481.11 372)"/><ellipse cx="476.43" cy="447.93" rx="3.28" ry="3.09" fill="#16164a" stroke="#282877" stroke-width="0.9" transform="rotate(28.98 476.43 447.93)"/><ellipse cx="481.9" cy="343.18" rx="3.58" ry="3.02" fill="#131341" stroke="#232369" stroke-width="0.9" transform="rotate(62.29 481.9 343.18)"/><ellipse cx="425.01" cy="464.53" rx="2.55" ry="2.35" fill="#12123b" stroke="#202060" stroke-width="0.9" transform="rotate(152.75 425.01 464.53)"/><ellipse cx="494.67" cy="411.68" rx="2.39" ry="2.06" fill="#1b1b5b" stroke="#313193" stroke-width="0.9" transform="rotate(159.38 494.67 411.68)"/><ellipse cx="397.23" cy="446.78" rx="3.57" ry="2.34" fill="#181851" stroke="#2c2c83" stroke-width="0.9" transform="rotate(91.11 397.23 446.78)"/><ellipse cx="481.89" cy="434.65" rx="2.92" ry="2.27" fill="#12123d" stroke="#212163" stroke-width="0.9" transform="rotate(85.68 481.89 434.65)"/><ellipse cx="439.61" cy="465.83" rx="3.25" ry="2.35" fill="#111138" stroke="#1e1e5b" stroke-width="0.9" transform="rotate(64.73 439.61 465.83)"/><ellipse cx="427.22" cy="405.72" rx="3.5" ry="2.68" fill="#101034" stroke="#1c1c55" stroke-width="0.9" transform="rotate(155.6 427.22 405.72)"/><ellipse cx="418.94" cy="354.66" rx="3.56" ry="2.3" fill="#0f0f31" stroke="#1a1a4f" stroke-width="0.9" transform="rotate(115.52 418.94 354.66)"/><ellipse cx="455.74" cy="438.87" rx="3.03" ry="2.59" fill="#181850" stroke="#2b2b82" stroke-width="0.9" transform="rotate(95.27 455.74 438.87)"/><ellipse cx="481.8" cy="340.29" rx="2.48" ry="2.25" fill="#151546" stroke="#262671" stroke-width="0.9" transform="rotate(101.41 481.8 340.29)"/><ellipse cx="418.12" cy="466" rx="2.6" ry="2.32" fill="#1e1e64" stroke="#3636a1" stroke-width="0.9" transform="rotate(121.66 418.12 466)"/><ellipse cx="437.42" cy="425.55" rx="3.44" ry="2.34" fill="#12123d" stroke="#212162" stroke-width="0.9" transform="rotate(112.24 437.42 425.55)"/><ellipse cx="415.68" cy="422.17" rx="3.51" ry="2.47" fill="#16164a" stroke="#282878" stroke-width="0.9" transform="rotate(56.9 415.68 422.17)"/><ellipse cx="487.63" cy="374.02" rx="3.04" ry="2.2" fill="#17174c" stroke="#29297b" stroke-width="0.9" transform="rotate(117.12 487.63 374.02)"/><ellipse cx="401.24" cy="440.23" rx="3.24" ry="2.04" fill="#191954" stroke="#2e2e88" stroke-width="0.9" transform="rotate(148.01 401.24 440.23)"/><ellipse cx="390.73" cy="345.96" rx="2.72" ry="1.72" fill="#151546" stroke="#262671" stroke-width="0.9" transform="rotate(100.25 390.73 345.96)"/><ellipse cx="450.78" cy="430.81" rx="3.28" ry="2.97" fill="#101036" stroke="#1d1d57" stroke-width="0.9" transform="rotate(40.5 450.78 430.81)"/><ellipse cx="393.93" cy="431.34" rx="2.39" ry="1.65" fill="#222271" stroke="#3d3db6" stroke-width="0.9" transform="rotate(84.1 393.93 431.34)"/><ellipse cx="400.84" cy="441.74" rx="2.38" ry="1.92" fill="#232373" stroke="#3e3eb9" stroke-width="0.9" transform="rotate(143.36 400.84 441.74)"/><ellipse cx="481.95" cy="426.74" rx="3.01" ry="2.58" fill="#0e0e2f" stroke="#1a1a4d" stroke-width="0.9" transform="rotate(148.49 481.95 426.74)"/><ellipse cx="484.81" cy="445.47" rx="3.16" ry="2.75" fill="#1b1b58" stroke="#30308f" stroke-width="0.9" transform="rotate(65.72 484.81 445.47)"/><ellipse cx="427.14" cy="386.39" rx="3" ry="2" fill="#191954" stroke="#2e2e88" stroke-width="0.9" transform="rotate(9.82 427.14 386.39)"/><ellipse cx="423.95" cy="400.21" rx="3.2" ry="2.36" fill="#161649" stroke="#272776" stroke-width="0.9" transform="rotate(50.17 423.95 400.21)"/><ellipse cx="411.75" cy="424.07" rx="3.5" ry="2.79" fill="#151545" stroke="#25256f" stroke-width="0.9" transform="rotate(113.97 411.75 424.07)"/><ellipse cx="491.52" cy="374.89" rx="3.2" ry="2.98" fill="#1b1b59" stroke="#303090" stroke-width="0.9" transform="rotate(121.52 491.52 374.89)"/><ellipse cx="402.3" cy="442.35" rx="2.85" ry="2.25" fill="#151548" stroke="#272773" stroke-width="0.9" transform="rotate(38.96 402.3 442.35)"/><ellipse cx="430.66" cy="458.41" rx="3.37" ry="2.38" fill="#0e0e2f" stroke="#19194c" stroke-width="0.9" transform="rotate(46.24 430.66 458.41)"/><ellipse cx="429.21" cy="403.27" rx="3.16" ry="2.53" fill="#131341" stroke="#232369" stroke-width="0.9" transform="rotate(74.65 429.21 403.27)"/><ellipse cx="452.34" cy="368" rx="3.52" ry="2.69" fill="#0e0e2e" stroke="#19194b" stroke-width="0.9" transform="rotate(115.75 452.34 368)"/><ellipse cx="415.24" cy="376.43" rx="2.66" ry="2.51" fill="#1c1c5c" stroke="#323294" stroke-width="0.9" transform="rotate(168.11 415.24 376.43)"/><ellipse cx="398.28" cy="368.12" rx="3.16" ry="2.07" fill="#1c1c5d" stroke="#323295" stroke-width="0.9" transform="rotate(73.08 398.28 368.12)"/><ellipse cx="468.83" cy="426.44" rx="3.23" ry="2.56" fill="#0e0e30" stroke="#1a1a4d" stroke-width="0.9" transform="rotate(166.8 468.83 426.44)"/><ellipse cx="480.99" cy="399.95" rx="2.86" ry="1.9" fill="#1c1c5c" stroke="#323294" stroke-width="0.9" transform="rotate(99.52 480.99 399.95)"/><ellipse cx="466.26" cy="445.74" rx="2.93" ry="2.61" fill="#191953" stroke="#2d2d85" stroke-width="0.9" transform="rotate(138.37 466.26 445.74)"/><ellipse cx="416.73" cy="421.14" rx="3.6" ry="2.99" fill="#242477" stroke="#4040c0" stroke-width="0.9" transform="rotate(158.29 416.73 421.14)"/><ellipse cx="453.07" cy="358.76" rx="3.43" ry="3.08" fill="#1a1a55" stroke="#2e2e89" stroke-width="0.9" transform="rotate(143.48 453.07 358.76)"/><ellipse cx="428.11" cy="445.51" rx="3.09" ry="2.3" fill="#101035" stroke="#1d1d56" stroke-width="0.9" transform="rotate(177.31 428.11 445.51)"/><ellipse cx="495.46" cy="436.91" rx="2.85" ry="1.87" fill="#141442" stroke="#23236a" stroke-width="0.9" transform="rotate(133.32 495.46 436.91)"/><ellipse cx="426.91" cy="464.35" rx="2.52" ry="2.02" fill="#191954" stroke="#2e2e88" stroke-width="0.9" transform="rotate(108.62 426.91 464.35)"/><ellipse cx="413.43" cy="362.08" rx="3.55" ry="2.35" fill="#1a1a56" stroke="#2e2e8a" stroke-width="0.9" transform="rotate(87.72 413.43 362.08)"/><ellipse cx="427.7" cy="382.11" rx="2.54" ry="1.78" fill="#0e0e31" stroke="#1a1a4f" stroke-width="0.9" transform="rotate(39.95 427.7 382.11)"/><ellipse cx="493.76" cy="448.34" rx="3.12" ry="2.92" fill="#1b1b5a" stroke="#313191" stroke-width="0.9" transform="rotate(118.47 493.76 448.34)"/><ellipse cx="419.73" cy="353.16" rx="2.71" ry="2.5" fill="#191954" stroke="#2d2d88" stroke-width="0.9" transform="rotate(160.01 419.73 353.16)"/><ellipse cx="453.34" cy="462.6" rx="3.3" ry="2.67" fill="#181851" stroke="#2c2c83" stroke-width="0.9" transform="rotate(0.39 453.34 462.6)"/><ellipse cx="489.49" cy="390.47" rx="3.45" ry="3" fill="#191954" stroke="#2e2e88" stroke-width="0.9" transform="rotate(71.95 489.49 390.47)"/><ellipse cx="437.14" cy="370.59" rx="3.47" ry="3.01" fill="#101037" stroke="#1e1e59" stroke-width="0.9" transform="rotate(19.05 437.14 370.59)"/><ellipse cx="435.87" cy="442.87" rx="3.46" ry="2.08" fill="#191952" stroke="#2c2c84" stroke-width="0.9" transform="rotate(106.3 435.87 442.87)"/><ellipse cx="441.66" cy="362.34" rx="3.16" ry="2.5" fill="#141443" stroke="#24246c" stroke-width="0.9" transform="rotate(160.83 441.66 362.34)"/><ellipse cx="496.4" cy="415.08" rx="2.55" ry="2.37" fill="#151546" stroke="#262671" stroke-width="0.9" transform="rotate(122.86 496.4 415.08)"/><ellipse cx="430.3" cy="373.11" rx="3.56" ry="2.87" fill="#0e0e2e" stroke="#19194a" stroke-width="0.9" transform="rotate(49.93 430.3 373.11)"/><ellipse cx="476.84" cy="457.84" rx="2.92" ry="1.86" fill="#0d0d2c" stroke="#181847" stroke-width="0.9" transform="rotate(103.2 476.84 457.84)"/><ellipse cx="478.85" cy="418.81" rx="2.34" ry="1.41" fill="#141444" stroke="#25256e" stroke-width="0.9" transform="rotate(14.85 478.85 418.81)"/><ellipse cx="462.44" cy="418.6" rx="3.27" ry="3.04" fill="#141442" stroke="#24246a" stroke-width="0.9" transform="rotate(80.5 462.44 418.6)"/><ellipse cx="421.67" cy="444.98" rx="2.55" ry="2.14" fill="#21216c" stroke="#3b3bae" stroke-width="0.9" transform="rotate(15.6 421.67 444.98)"/><ellipse cx="425.17" cy="375.68" rx="2.58" ry="1.96" fill="#16164a" stroke="#282877" stroke-width="0.9" transform="rotate(132.38 425.17 375.68)"/><ellipse cx="417.61" cy="366.86" rx="3.51" ry="2.35" fill="#1c1c5c" stroke="#323294" stroke-width="0.9" transform="rotate(120.75 417.61 366.86)"/><ellipse cx="406.77" cy="454.83" rx="2.84" ry="1.84" fill="#272781" stroke="#4646d1" stroke-width="0.9" transform="rotate(88.54 406.77 454.83)"/><ellipse cx="421.31" cy="347.28" rx="3.53" ry="2.66" fill="#0d0d2c" stroke="#181847" stroke-width="0.9" transform="rotate(93.51 421.31 347.28)"/><ellipse cx="421.94" cy="434.78" rx="3.05" ry="2.19" fill="#1c1c5d" stroke="#333397" stroke-width="0.9" transform="rotate(80.19 421.94 434.78)"/><ellipse cx="426.09" cy="399.96" rx="3.4" ry="2.82" fill="#0f0f32" stroke="#1b1b51" stroke-width="0.9" transform="rotate(124.23 426.09 399.96)"/><ellipse cx="488.76" cy="440.58" rx="3.26" ry="2.48" fill="#1b1b59" stroke="#30308f" stroke-width="0.9" transform="rotate(53.88 488.76 440.58)"/><ellipse cx="482.07" cy="443.15" rx="3.52" ry="2.65" fill="#0f0f31" stroke="#1a1a4f" stroke-width="0.9" transform="rotate(24.87 482.07 443.15)"/><ellipse cx="498.78" cy="432.53" rx="2.39" ry="1.74" fill="#13133e" stroke="#222264" stroke-width="0.9" transform="rotate(156.64 498.78 432.53)"/><ellipse cx="414.89" cy="430.23" rx="2.53" ry="2.13" fill="#191953" stroke="#2d2d85" stroke-width="0.9" transform="rotate(133.27 414.89 430.23)"/><ellipse cx="395.86" cy="404.66" rx="2.84" ry="2.51" fill="#1d1d61" stroke="#35359d" stroke-width="0.9" transform="rotate(146.45 395.86 404.66)"/><ellipse cx="394.41" cy="364.88" rx="2.39" ry="1.59" fill="#17174c" stroke="#29297b" stroke-width="0.9" transform="rotate(155.01 394.41 364.88)"/><ellipse cx="450.92" cy="356.85" rx="3.05" ry="2.18" fill="#131341" stroke="#232369" stroke-width="0.9" transform="rotate(61.93 450.92 356.85)"/><ellipse cx="464.94" cy="381.49" rx="2.5" ry="1.9" fill="#0e0e2e" stroke="#19194a" stroke-width="0.9" transform="rotate(0.82 464.94 381.49)"/><ellipse cx="393.19" cy="395.4" rx="3.57" ry="3.14" fill="#13133f" stroke="#222265" stroke-width="0.9" transform="rotate(82.68 393.19 395.4)"/><ellipse cx="396.51" cy="460.19" rx="2.83" ry="2.24" fill="#1a1a56" stroke="#2f2f8b" stroke-width="0.9" transform="rotate(101.58 396.51 460.19)"/><ellipse cx="470.56" cy="455.02" rx="2.83" ry="1.97" fill="#0f0f32" stroke="#1b1b51" stroke-width="0.9" transform="rotate(161.97 470.56 455.02)"/><ellipse cx="492.52" cy="412.08" rx="3.07" ry="2.55" fill="#101037" stroke="#1d1d58" stroke-width="0.9" transform="rotate(22.42 492.52 412.08)"/><ellipse cx="463.15" cy="385.31" rx="3.2" ry="2.7" fill="#1a1a57" stroke="#2f2f8c" stroke-width="0.9" transform="rotate(80.27 463.15 385.31)"/><ellipse cx="406.8" cy="397.76" rx="3.51" ry="3.13" fill="#12123d" stroke="#212162" stroke-width="0.9" transform="rotate(109.36 406.8 397.76)"/><ellipse cx="401.99" cy="346.53" rx="3.22" ry="2.18" fill="#151546" stroke="#262671" stroke-width="0.9" transform="rotate(100.36 401.99 346.53)"/><ellipse cx="492.49" cy="382.91" rx="2.37" ry="1.77" fill="#191953" stroke="#2d2d86" stroke-width="0.9" transform="rotate(154.88 492.49 382.91)"/><ellipse cx="480.85" cy="338.64" rx="2.79" ry="1.68" fill="#181850" stroke="#2b2b82" stroke-width="0.9" transform="rotate(160.92 480.85 338.64)"/><ellipse cx="421.88" cy="371.7" rx="2.52" ry="2.37" fill="#12123d" stroke="#212163" stroke-width="0.9" transform="rotate(120.19 421.88 371.7)"/><ellipse cx="479.65" cy="426.36" rx="3.08" ry="2.56" fill="#111138" stroke="#1e1e5a" stroke-width="0.9" transform="rotate(101.01 479.65 426.36)"/><ellipse cx="435.51" cy="451.87" rx="2.85" ry="1.98" fill="#11113a" stroke="#1f1f5d" stroke-width="0.9" transform="rotate(119.66 435.51 451.87)"/><ellipse cx="486.32" cy="366.16" rx="3" ry="2.13" fill="#101036" stroke="#1d1d57" stroke-width="0.9" transform="rotate(141.4 486.32 366.16)"/><ellipse cx="471.34" cy="363.58" rx="2.65" ry="2.08" fill="#0e0e2f" stroke="#19194c" stroke-width="0.9" transform="rotate(176.04 471.34 363.58)"/><ellipse cx="419.62" cy="466.42" rx="3.21" ry="3.05" fill="#1a1a58" stroke="#2f2f8d" stroke-width="0.9" transform="rotate(32.67 419.62 466.42)"/><ellipse cx="451.65" cy="342.29" rx="2.97" ry="1.96" fill="#181852" stroke="#2c2c83" stroke-width="0.9" transform="rotate(67.66 451.65 342.29)"/><ellipse cx="420.36" cy="439.31" rx="3.52" ry="2.96" fill="#191952" stroke="#2c2c84" stroke-width="0.9" transform="rotate(128.05 420.36 439.31)"/><ellipse cx="445.9" cy="449.85" rx="3.46" ry="2.91" fill="#151547" stroke="#262673" stroke-width="0.9" transform="rotate(75.34 445.9 449.85)"/><ellipse cx="478.86" cy="347.09" rx="3.01" ry="2.73" fill="#17174d" stroke="#2a2a7d" stroke-width="0.9" transform="rotate(177.59 478.86 347.09)"/><ellipse cx="450.21" cy="464.65" rx="3.42" ry="2.07" fill="#18184f" stroke="#2b2b7f" stroke-width="0.9" transform="rotate(120.79 450.21 464.65)"/><ellipse cx="478.77" cy="431.32" rx="2.57" ry="2.19" fill="#101036" stroke="#1d1d57" stroke-width="0.9" transform="rotate(71.62 478.77 431.32)"/><ellipse cx="415.91" cy="348.35" rx="2.57" ry="2.14" fill="#101034" stroke="#1c1c55" stroke-width="0.9" transform="rotate(16.22 415.91 348.35)"/><ellipse cx="448.36" cy="453.8" rx="2.95" ry="2.61" fill="#181851" stroke="#2c2c82" stroke-width="0.9" transform="rotate(99.81 448.36 453.8)"/><ellipse cx="447.81" cy="416.27" rx="2.82" ry="2.45" fill="#101037" stroke="#1e1e59" stroke-width="0.9" transform="rotate(128.68 447.81 416.27)"/><ellipse cx="481.61" cy="423.09" rx="2.96" ry="2.69" fill="#191953" stroke="#2d2d86" stroke-width="0.9" transform="rotate(23.98 481.61 423.09)"/><ellipse cx="417.38" cy="438.88" rx="3" ry="2.36" fill="#141442" stroke="#24246b" stroke-width="0.9" transform="rotate(66.65 417.38 438.88)"/><ellipse cx="482.96" cy="347.38" rx="2.4" ry="2.02" fill="#141443" stroke="#24246c" stroke-width="0.9" transform="rotate(109.33 482.96 347.38)"/><ellipse cx="460.92" cy="368.49" rx="2.9" ry="2.05" fill="#17174d" stroke="#2a2a7d" stroke-width="0.9" transform="rotate(48.19 460.92 368.49)"/><ellipse cx="414.83" cy="443.33" rx="2.87" ry="2.44" fill="#222272" stroke="#3e3eb7" stroke-width="0.9" transform="rotate(144.08 414.83 443.33)"/><ellipse cx="412.42" cy="403.81" rx="3.05" ry="2.04" fill="#1c1c5f" stroke="#333398" stroke-width="0.9" transform="rotate(167.97 412.42 403.81)"/><ellipse cx="436.97" cy="404.29" rx="3.31" ry="2.51" fill="#161649" stroke="#282876" stroke-width="0.9" transform="rotate(52.62 436.97 404.29)"/><ellipse cx="442.8" cy="363.03" rx="3.14" ry="2.64" fill="#0f0f33" stroke="#1b1b52" stroke-width="0.9" transform="rotate(40.52 442.8 363.03)"/><ellipse cx="398.92" cy="374.83" rx="2.47" ry="2.16" fill="#0e0e2e" stroke="#19194b" stroke-width="0.9" transform="rotate(4.54 398.92 374.83)"/><ellipse cx="402.7" cy="462.32" rx="2.57" ry="1.96" fill="#1a1a56" stroke="#2e2e8a" stroke-width="0.9" transform="rotate(29.26 402.7 462.32)"/><ellipse cx="463.16" cy="383.66" rx="3.44" ry="3.04" fill="#13133f" stroke="#222266" stroke-width="0.9" transform="rotate(99.34 463.16 383.66)"/><ellipse cx="459.92" cy="399.35" rx="3.39" ry="2.96" fill="#1c1c5d" stroke="#323295" stroke-width="0.9" transform="rotate(13.8 459.92 399.35)"/><ellipse cx="468.8" cy="459.7" rx="2.87" ry="1.77" fill="#191954" stroke="#2d2d87" stroke-width="0.9" transform="rotate(170.23 468.8 459.7)"/><ellipse cx="458.32" cy="373.19" rx="3.5" ry="3.21" fill="#12123b" stroke="#20205f" stroke-width="0.9" transform="rotate(67.67 458.32 373.19)"/><ellipse cx="454.78" cy="414.86" rx="3.35" ry="2.35" fill="#1a1a57" stroke="#2f2f8c" stroke-width="0.9" transform="rotate(26.86 454.78 414.86)"/><ellipse cx="456.25" cy="432.75" rx="3.36" ry="2.92" fill="#151546" stroke="#262671" stroke-width="0.9" transform="rotate(96.01 456.25 432.75)"/><ellipse cx="485.27" cy="377.11" rx="2.74" ry="1.67" fill="#1b1b59" stroke="#30308f" stroke-width="0.9" transform="rotate(165.49 485.27 377.11)"/><ellipse cx="452.29" cy="351.17" rx="3.13" ry="2.13" fill="#17174b" stroke="#292979" stroke-width="0.9" transform="rotate(23.06 452.29 351.17)"/><ellipse cx="417.28" cy="466.33" rx="3.09" ry="2.81" fill="#13133e" stroke="#212164" stroke-width="0.9" transform="rotate(43.92 417.28 466.33)"/><ellipse cx="474" cy="372.72" rx="2.7" ry="1.78" fill="#101034" stroke="#1c1c55" stroke-width="0.9" transform="rotate(75.51 474 372.72)"/><ellipse cx="494.07" cy="445.31" rx="3.3" ry="2.49" fill="#12123c" stroke="#202061" stroke-width="0.9" transform="rotate(73.76 494.07 445.31)"/><ellipse cx="428.48" cy="397.03" rx="2.67" ry="2.42" fill="#1b1b59" stroke="#30308f" stroke-width="0.9" transform="rotate(141.82 428.48 397.03)"/><ellipse cx="410.24" cy="418.38" rx="2.39" ry="1.66" fill="#21216d" stroke="#3b3baf" stroke-width="0.9" transform="rotate(116.27 410.24 418.38)"/><ellipse cx="463.7" cy="436.98" rx="3.05" ry="2.73" fill="#12123e" stroke="#212163" stroke-width="0.9" transform="rotate(173.48 463.7 436.98)"/><ellipse cx="412.35" cy="420.12" rx="2.77" ry="1.81" fill="#242477" stroke="#4141c0" stroke-width="0.9" transform="rotate(100.7 412.35 420.12)"/><ellipse cx="490.62" cy="393.1" rx="2.75" ry="1.95" fill="#12123e" stroke="#212163" stroke-width="0.9" transform="rotate(13.35 490.62 393.1)"/><ellipse cx="413.17" cy="433.95" rx="3.08" ry="2.27" fill="#222271" stroke="#3d3db7" stroke-width="0.9" transform="rotate(28.61 413.17 433.95)"/><ellipse cx="490.91" cy="418.16" rx="3.16" ry="2.66" fill="#131340" stroke="#222267" stroke-width="0.9" transform="rotate(4.47 490.91 418.16)"/><ellipse cx="392.63" cy="379.68" rx="2.77" ry="2.31" fill="#111138" stroke="#1e1e5a" stroke-width="0.9" transform="rotate(152.92 392.63 379.68)"/><ellipse cx="415.49" cy="441.48" rx="2.85" ry="1.86" fill="#1b1b59" stroke="#30308f" stroke-width="0.9" transform="rotate(4.77 415.49 441.48)"/><ellipse cx="419.63" cy="382.76" rx="2.89" ry="1.74" fill="#151547" stroke="#262673" stroke-width="0.9" transform="rotate(69.24 419.63 382.76)"/><ellipse cx="476.17" cy="362.89" rx="2.53" ry="2.1" fill="#141444" stroke="#24246d" stroke-width="0.9" transform="rotate(157.83 476.17 362.89)"/><ellipse cx="407.02" cy="368.1" rx="2.61" ry="1.88" fill="#0e0e2e" stroke="#19194a" stroke-width="0.9" transform="rotate(74.99 407.02 368.1)"/><ellipse cx="495.01" cy="395.25" rx="2.3" ry="2.1" fill="#151546" stroke="#262671" stroke-width="0.9" transform="rotate(80.95 495.01 395.25)"/><ellipse cx="466.78" cy="389.72" rx="2.71" ry="2.39" fill="#101037" stroke="#1e1e59" stroke-width="0.9" transform="rotate(53.46 466.78 389.72)"/><ellipse cx="481.23" cy="401.43" rx="3.53" ry="2.76" fill="#0f0f32" stroke="#1b1b50" stroke-width="0.9" transform="rotate(95.28 481.23 401.43)"/><ellipse cx="404.21" cy="405.51" rx="2.71" ry="1.91" fill="#1e1e63" stroke="#35359f" stroke-width="0.9" transform="rotate(133.51 404.21 405.51)"/><ellipse cx="498.24" cy="411.67" rx="2.38" ry="1.54" fill="#131341" stroke="#232369" stroke-width="0.9" transform="rotate(126.97 498.24 411.67)"/><ellipse cx="491.66" cy="423.31" rx="2.48" ry="1.99" fill="#181850" stroke="#2b2b82" stroke-width="0.9" transform="rotate(170.91 491.66 423.31)"/><ellipse cx="493.03" cy="411.54" rx="3.51" ry="2.88" fill="#181851" stroke="#2c2c82" stroke-width="0.9" transform="rotate(90.47 493.03 411.54)"/><ellipse cx="395.92" cy="453.15" rx="3.41" ry="2.07" fill="#141442" stroke="#24246b" stroke-width="0.9" transform="rotate(137.09 395.92 453.15)"/><ellipse cx="470.43" cy="340.21" rx="2.4" ry="1.77" fill="#1a1a58" stroke="#30308e" stroke-width="0.9" transform="rotate(39.45 470.43 340.21)"/><ellipse cx="428.71" cy="432.89" rx="3.34" ry="2.42" fill="#16164b" stroke="#282878" stroke-width="0.9" transform="rotate(131.47 428.71 432.89)"/><ellipse cx="396.12" cy="345.09" rx="3.29" ry="2.65" fill="#1c1c5c" stroke="#323295" stroke-width="0.9" transform="rotate(58.85 396.12 345.09)"/><ellipse cx="463.41" cy="398.93" rx="3.18" ry="2.09" fill="#13133e" stroke="#222264" stroke-width="0.9" transform="rotate(35.02 463.41 398.93)"/><ellipse cx="454.97" cy="364.57" rx="2.72" ry="2.06" fill="#16164a" stroke="#282877" stroke-width="0.9" transform="rotate(11.27 454.97 364.57)"/><ellipse cx="411.84" cy="422.95" rx="2.41" ry="1.91" fill="#25257c" stroke="#4343c8" stroke-width="0.9" transform="rotate(90.43 411.84 422.95)"/><ellipse cx="421.57" cy="376.65" rx="2.84" ry="2.39" fill="#1c1c5d" stroke="#323295" stroke-width="0.9" transform="rotate(69.52 421.57 376.65)"/><ellipse cx="440.05" cy="446.26" rx="2.5" ry="2.19" fill="#191952" stroke="#2c2c84" stroke-width="0.9" transform="rotate(68.77 440.05 446.26)"/><ellipse cx="482.69" cy="395.49" rx="2.82" ry="2.37" fill="#0d0d2c" stroke="#181848" stroke-width="0.9" transform="rotate(14.93 482.69 395.49)"/><ellipse cx="480.14" cy="444.32" rx="2.4" ry="2.15" fill="#1a1a57" stroke="#2f2f8c" stroke-width="0.9" transform="rotate(60.83 480.14 444.32)"/><ellipse cx="486.82" cy="340.37" rx="2.55" ry="2.15" fill="#17174d" stroke="#2a2a7d" stroke-width="0.9" transform="rotate(147.12 486.82 340.37)"/><ellipse cx="449.14" cy="396.2" rx="3.42" ry="2.28" fill="#1b1b59" stroke="#30308f" stroke-width="0.9" transform="rotate(104.65 449.14 396.2)"/><ellipse cx="399.23" cy="381.76" rx="2.9" ry="1.79" fill="#151546" stroke="#262672" stroke-width="0.9" transform="rotate(65.51 399.23 381.76)"/><ellipse cx="427.53" cy="395.62" rx="3.44" ry="2.33" fill="#191953" stroke="#2d2d85" stroke-width="0.9" transform="rotate(146.35 427.53 395.62)"/><ellipse cx="436.57" cy="437.93" rx="2.69" ry="2.42" fill="#17174d" stroke="#2a2a7c" stroke-width="0.9" transform="rotate(109.2 436.57 437.93)"/><ellipse cx="460.52" cy="413.96" rx="3.39" ry="3.06" fill="#1c1c5d" stroke="#323296" stroke-width="0.9" transform="rotate(50.14 460.52 413.96)"/><ellipse cx="420.42" cy="347.59" rx="2.92" ry="2.55" fill="#0f0f31" stroke="#1a1a4f" stroke-width="0.9" transform="rotate(48.16 420.42 347.59)"/><ellipse cx="413.8" cy="427.83" rx="2.36" ry="1.87" fill="#13133f" stroke="#222266" stroke-width="0.9" transform="rotate(47.51 413.8 427.83)"/><ellipse cx="488.51" cy="345.29" rx="3.1" ry="2.73" fill="#111139" stroke="#1f1f5c" stroke-width="0.9" transform="rotate(70.97 488.51 345.29)"/><ellipse cx="393.72" cy="432.92" rx="2.66" ry="1.92" fill="#12123d" stroke="#212163" stroke-width="0.9" transform="rotate(147.65 393.72 432.92)"/><ellipse cx="442.65" cy="456.4" rx="2.71" ry="1.71" fill="#181851" stroke="#2c2c83" stroke-width="0.9" transform="rotate(81.8 442.65 456.4)"/><ellipse cx="445.31" cy="409.02" rx="2.73" ry="2.06" fill="#1b1b5b" stroke="#313192" stroke-width="0.9" transform="rotate(172.12 445.31 409.02)"/><ellipse cx="461" cy="434.76" rx="3.1" ry="2.57" fill="#141442" stroke="#24246a" stroke-width="0.9" transform="rotate(127.12 461 434.76)"/><ellipse cx="462.73" cy="465.2" rx="2.54" ry="1.95" fill="#1a1a57" stroke="#2f2f8d" stroke-width="0.9" transform="rotate(90.36 462.73 465.2)"/><ellipse cx="408.03" cy="383.6" rx="3.21" ry="1.97" fill="#0d0d2d" stroke="#181848" stroke-width="0.9" transform="rotate(62.72 408.03 383.6)"/><ellipse cx="480.33" cy="393.17" rx="2.74" ry="2.43" fill="#131341" stroke="#232369" stroke-width="0.9" transform="rotate(125.15 480.33 393.17)"/><ellipse cx="464.64" cy="410.84" rx="3.46" ry="3.24" fill="#141442" stroke="#24246b" stroke-width="0.9" transform="rotate(98.12 464.64 410.84)"/><ellipse cx="400.73" cy="348.93" rx="3.22" ry="2.27" fill="#141442" stroke="#23236a" stroke-width="0.9" transform="rotate(80.56 400.73 348.93)"/><ellipse cx="482.99" cy="370.8" rx="3.17" ry="2.07" fill="#141444" stroke="#25256e" stroke-width="0.9" transform="rotate(118.41 482.99 370.8)"/><ellipse cx="428.45" cy="356.42" rx="3.4" ry="2.76" fill="#191953" stroke="#2d2d85" stroke-width="0.9" transform="rotate(82.33 428.45 356.42)"/><ellipse cx="441.87" cy="439.3" rx="2.74" ry="2.37" fill="#0e0e2f" stroke="#19194c" stroke-width="0.9" transform="rotate(24.54 441.87 439.3)"/><ellipse cx="411.97" cy="422.4" rx="3.55" ry="2.55" fill="#222272" stroke="#3e3eb7" stroke-width="0.9" transform="rotate(110.13 411.97 422.4)"/><ellipse cx="477.59" cy="362.34" rx="3.24" ry="2.13" fill="#191952" stroke="#2c2c84" stroke-width="0.9" transform="rotate(38.22 477.59 362.34)"/><ellipse cx="418.87" cy="344.69" rx="2.41" ry="1.97" fill="#12123c" stroke="#202061" stroke-width="0.9" transform="rotate(130.67 418.87 344.69)"/><ellipse cx="423.15" cy="415.47" rx="3.41" ry="3.21" fill="#202069" stroke="#3939a9" stroke-width="0.9" transform="rotate(166.45 423.15 415.47)"/><ellipse cx="420.76" cy="415.57" rx="3.5" ry="2.79" fill="#1e1e63" stroke="#3636a0" stroke-width="0.9" transform="rotate(135.71 420.76 415.57)"/><ellipse cx="491.85" cy="422.75" rx="2.92" ry="2.73" fill="#181851" stroke="#2c2c82" stroke-width="0.9" transform="rotate(152.22 491.85 422.75)"/><ellipse cx="422.15" cy="415.18" rx="2.95" ry="2.61" fill="#1f1f67" stroke="#3737a5" stroke-width="0.9" transform="rotate(81.59 422.15 415.18)"/><ellipse cx="439.38" cy="345.71" rx="3.04" ry="2.22" fill="#0d0d2b" stroke="#171746" stroke-width="0.9" transform="rotate(175.76 439.38 345.71)"/><ellipse cx="473.45" cy="366.67" rx="3.38" ry="2.4" fill="#16164a" stroke="#282878" stroke-width="0.9" transform="rotate(5.9 473.45 366.67)"/><ellipse cx="413.98" cy="340.66" rx="3.53" ry="2.42" fill="#1a1a55" stroke="#2e2e8a" stroke-width="0.9" transform="rotate(64.72 413.98 340.66)"/><ellipse cx="390.96" cy="420.96" rx="2.69" ry="2.36" fill="#26267d" stroke="#4444c9" stroke-width="0.9" transform="rotate(54.25 390.96 420.96)"/><ellipse cx="446.93" cy="434.28" rx="2.42" ry="1.98" fill="#101035" stroke="#1c1c55" stroke-width="0.9" transform="rotate(8.47 446.93 434.28)"/><ellipse cx="436.68" cy="348.05" rx="3.17" ry="2.41" fill="#101035" stroke="#1c1c55" stroke-width="0.9" transform="rotate(28.46 436.68 348.05)"/><ellipse cx="484.4" cy="420.12" rx="2.39" ry="1.52" fill="#17174d" stroke="#2a2a7c" stroke-width="0.9" transform="rotate(88.71 484.4 420.12)"/><ellipse cx="455.67" cy="378.53" rx="2.86" ry="1.84" fill="#17174d" stroke="#2a2a7c" stroke-width="0.9" transform="rotate(25.35 455.67 378.53)"/><ellipse cx="423.38" cy="464.46" rx="2.37" ry="1.47" fill="#131340" stroke="#222267" stroke-width="0.9" transform="rotate(18.6 423.38 464.46)"/><ellipse cx="423.03" cy="430.12" rx="3.57" ry="3.06" fill="#13133e" stroke="#212164" stroke-width="0.9" transform="rotate(88.52 423.03 430.12)"/><ellipse cx="490.7" cy="353.87" rx="2.41" ry="2.24" fill="#0e0e2e" stroke="#19194b" stroke-width="0.9" transform="rotate(30.04 490.7 353.87)"/><ellipse cx="499.29" cy="463.31" rx="2.92" ry="1.95" fill="#0f0f34" stroke="#1c1c54" stroke-width="0.9" transform="rotate(107.38 499.29 463.31)"/><ellipse cx="433.37" cy="371.63" rx="2.69" ry="2.02" fill="#17174c" stroke="#29297b" stroke-width="0.9" transform="rotate(30.27 433.37 371.63)"/><ellipse cx="478.66" cy="420.91" rx="2.86" ry="2.1" fill="#181851" stroke="#2c2c82" stroke-width="0.9" transform="rotate(113.18 478.66 420.91)"/><ellipse cx="478.78" cy="447.73" rx="2.71" ry="1.7" fill="#0e0e30" stroke="#1a1a4e" stroke-width="0.9" transform="rotate(126.81 478.78 447.73)"/><ellipse cx="434.39" cy="368.58" rx="2.53" ry="1.59" fill="#1a1a57" stroke="#2f2f8c" stroke-width="0.9" transform="rotate(152.57 434.39 368.58)"/><ellipse cx="452.81" cy="411.81" rx="2.33" ry="2.09" fill="#141442" stroke="#24246b" stroke-width="0.9" transform="rotate(122.17 452.81 411.81)"/><ellipse cx="447.91" cy="422.87" rx="3.09" ry="1.89" fill="#0f0f32" stroke="#1b1b52" stroke-width="0.9" transform="rotate(69.07 447.91 422.87)"/><ellipse cx="481.01" cy="456.1" rx="3.06" ry="2.71" fill="#141442" stroke="#23236a" stroke-width="0.9" transform="rotate(90.59 481.01 456.1)"/><ellipse cx="417.98" cy="442.85" rx="3.19" ry="2.41" fill="#242478" stroke="#4141c1" stroke-width="0.9" transform="rotate(37.73 417.98 442.85)"/><ellipse cx="424.56" cy="464.21" rx="2.36" ry="1.82" fill="#17174d" stroke="#2a2a7c" stroke-width="0.9" transform="rotate(171.65 424.56 464.21)"/><ellipse cx="451.45" cy="423.6" rx="3.22" ry="2.08" fill="#161648" stroke="#272774" stroke-width="0.9" transform="rotate(97.04 451.45 423.6)"/><ellipse cx="427.9" cy="358.06" rx="2.58" ry="2.12" fill="#1a1a56" stroke="#2e2e8a" stroke-width="0.9" transform="rotate(40.68 427.9 358.06)"/><ellipse cx="486.27" cy="416.56" rx="2.93" ry="2.57" fill="#1a1a58" stroke="#2f2f8d" stroke-width="0.9" transform="rotate(57.49 486.27 416.56)"/><ellipse cx="404.32" cy="361.81" rx="3.38" ry="3.1" fill="#191953" stroke="#2d2d85" stroke-width="0.9" transform="rotate(146.6 404.32 361.81)"/><ellipse cx="398.11" cy="381.82" rx="2.57" ry="1.92" fill="#0f0f31" stroke="#1a1a4f" stroke-width="0.9" transform="rotate(26.56 398.11 381.82)"/><ellipse cx="406.77" cy="396.98" rx="2.7" ry="2.37" fill="#111138" stroke="#1e1e5a" stroke-width="0.9" transform="rotate(86.05 406.77 396.98)"/><ellipse cx="419.47" cy="428.61" rx="3.41" ry="2.6" fill="#1b1b5b" stroke="#313192" stroke-width="0.9" transform="rotate(46.81 419.47 428.61)"/><ellipse cx="420.09" cy="340.09" rx="2.73" ry="2.38" fill="#0d0d2d" stroke="#181848" stroke-width="0.9" transform="rotate(154.43 420.09 340.09)"/><ellipse cx="427.56" cy="340.99" rx="3.53" ry="2.19" fill="#111138" stroke="#1e1e5b" stroke-width="0.9" transform="rotate(55.99 427.56 340.99)"/><ellipse cx="409.76" cy="454.37" rx="2.81" ry="2.5" fill="#222272" stroke="#3e3eb8" stroke-width="0.9" transform="rotate(96.76 409.76 454.37)"/><ellipse cx="390.92" cy="431.57" rx="3.22" ry="2.8" fill="#151548" stroke="#272774" stroke-width="0.9" transform="rotate(162.65 390.92 431.57)"/><ellipse cx="418.21" cy="459.58" rx="3.36" ry="2.95" fill="#1f1f67" stroke="#3838a6" stroke-width="0.9" transform="rotate(160.51 418.21 459.58)"/><ellipse cx="464.22" cy="426.49" rx="3.24" ry="2.7" fill="#1b1b59" stroke="#303090" stroke-width="0.9" transform="rotate(62.78 464.22 426.49)"/><ellipse cx="440.93" cy="382.15" rx="2.8" ry="2.52" fill="#141441" stroke="#23236a" stroke-width="0.9" transform="rotate(29.95 440.93 382.15)"/><ellipse cx="428.52" cy="395.01" rx="3.42" ry="2.53" fill="#1b1b5a" stroke="#313192" stroke-width="0.9" transform="rotate(100.59 428.52 395.01)"/><ellipse cx="397.79" cy="452.2" rx="3.12" ry="2.37" fill="#141444" stroke="#25256e" stroke-width="0.9" transform="rotate(24.39 397.79 452.2)"/><ellipse cx="488.65" cy="454.11" rx="3.2" ry="2.34" fill="#191952" stroke="#2c2c84" stroke-width="0.9" transform="rotate(81.69 488.65 454.11)"/><ellipse cx="473.68" cy="452.66" rx="2.52" ry="1.98" fill="#1c1c5d" stroke="#323296" stroke-width="0.9" transform="rotate(170.55 473.68 452.66)"/><ellipse cx="421.37" cy="426.33" rx="2.47" ry="2.01" fill="#1f1f68" stroke="#3838a7" stroke-width="0.9" transform="rotate(122.99 421.37 426.33)"/><ellipse cx="467.22" cy="388.49" rx="2.78" ry="2.37" fill="#17174d" stroke="#2a2a7c" stroke-width="0.9" transform="rotate(140.63 467.22 388.49)"/><ellipse cx="496.6" cy="464.78" rx="3.2" ry="2.11" fill="#101035" stroke="#1d1d56" stroke-width="0.9" transform="rotate(31.21 496.6 464.78)"/><ellipse cx="483.31" cy="424.11" rx="3.36" ry="2.84" fill="#1c1c5c" stroke="#323294" stroke-width="0.9" transform="rotate(32.76 483.31 424.11)"/><ellipse cx="401.33" cy="413.37" rx="3.36" ry="2.74" fill="#191953" stroke="#2d2d87" stroke-width="0.9" transform="rotate(174.75 401.33 413.37)"/><ellipse cx="492.5" cy="358.36" rx="2.95" ry="2.5" fill="#111139" stroke="#1f1f5c" stroke-width="0.9" transform="rotate(12.15 492.5 358.36)"/><ellipse cx="470.38" cy="465.99" rx="2.39" ry="1.62" fill="#141443" stroke="#24246c" stroke-width="0.9" transform="rotate(1.31 470.38 465.99)"/><ellipse cx="402.07" cy="426.86" rx="3.07" ry="2.75" fill="#12123d" stroke="#212163" stroke-width="0.9" transform="rotate(6.47 402.07 426.86)"/><ellipse cx="441.44" cy="341.35" rx="3.17" ry="2.12" fill="#1c1c5d" stroke="#323296" stroke-width="0.9" transform="rotate(25.06 441.44 341.35)"/><ellipse cx="476.68" cy="341.54" rx="2.55" ry="1.58" fill="#101035" stroke="#1d1d56" stroke-width="0.9" transform="rotate(63.91 476.68 341.54)"/><ellipse cx="410.81" cy="419.3" rx="3.37" ry="2.81" fill="#1d1d61" stroke="#35359d" stroke-width="0.9" transform="rotate(49.61 410.81 419.3)"/><ellipse cx="455.85" cy="406.03" rx="3.54" ry="2.63" fill="#111138" stroke="#1e1e5a" stroke-width="0.9" transform="rotate(147.4 455.85 406.03)"/><ellipse cx="404.31" cy="419.64" rx="2.56" ry="1.87" fill="#181851" stroke="#2c2c83" stroke-width="0.9" transform="rotate(10.76 404.31 419.64)"/><ellipse cx="447.76" cy="433.4" rx="3.57" ry="2.77" fill="#141443" stroke="#24246c" stroke-width="0.9" transform="rotate(158.51 447.76 433.4)"/><ellipse cx="394.52" cy="383.93" rx="2.73" ry="1.75" fill="#181851" stroke="#2c2c82" stroke-width="0.9" transform="rotate(47.11 394.52 383.93)"/><ellipse cx="426.76" cy="425.59" rx="2.74" ry="2.1" fill="#1c1c5c" stroke="#323294" stroke-width="0.9" transform="rotate(152.07 426.76 425.59)"/><ellipse cx="426.79" cy="404.4" rx="3.1" ry="2.92" fill="#17174e" stroke="#2a2a7e" stroke-width="0.9" transform="rotate(154.83 426.79 404.4)"/><ellipse cx="469.63" cy="464.08" rx="2.34" ry="2.06" fill="#191955" stroke="#2e2e89" stroke-width="0.9" transform="rotate(60.41 469.63 464.08)"/><ellipse cx="411.2" cy="454.6" rx="3.54" ry="2.42" fill="#25257b" stroke="#4343c6" stroke-width="0.9" transform="rotate(36.59 411.2 454.6)"/><ellipse cx="460.93" cy="393.61" rx="3.38" ry="2.82" fill="#111139" stroke="#1f1f5d" stroke-width="0.9" transform="rotate(49.16 460.93 393.61)"/><ellipse cx="460.8" cy="359.66" rx="2.6" ry="2.32" fill="#1a1a55" stroke="#2e2e8a" stroke-width="0.9" transform="rotate(144.99 460.8 359.66)"/><ellipse cx="402.12" cy="421.91" rx="3.25" ry="2.56" fill="#242477" stroke="#4141c0" stroke-width="0.9" transform="rotate(169.14 402.12 421.91)"/><ellipse cx="453.78" cy="348.7" rx="3.57" ry="2.55" fill="#0d0d2b" stroke="#171745" stroke-width="0.9" transform="rotate(177.4 453.78 348.7)"/><ellipse cx="481.86" cy="347.49" rx="3.3" ry="2.69" fill="#191954" stroke="#2e2e88" stroke-width="0.9" transform="rotate(100.07 481.86 347.49)"/><ellipse cx="488.28" cy="363.75" rx="2.42" ry="2.2" fill="#181850" stroke="#2b2b81" stroke-width="0.9" transform="rotate(44.92 488.28 363.75)"/><ellipse cx="391.5" cy="357.31" rx="2.42" ry="2.07" fill="#12123e" stroke="#212163" stroke-width="0.9" transform="rotate(29.64 391.5 357.31)"/><ellipse cx="407.9" cy="419.39" rx="2.62" ry="1.64" fill="#232374" stroke="#3f3fbb" stroke-width="0.9" transform="rotate(109.49 407.9 419.39)"/><ellipse cx="405.78" cy="341.69" rx="3.39" ry="2.56" fill="#181850" stroke="#2b2b80" stroke-width="0.9" transform="rotate(66.56 405.78 341.69)"/><ellipse cx="410.41" cy="379.5" rx="3.58" ry="2.29" fill="#1b1b59" stroke="#30308f" stroke-width="0.9" transform="rotate(104.08 410.41 379.5)"/><ellipse cx="420.32" cy="451.17" rx="3.53" ry="3.15" fill="#25257c" stroke="#4343c8" stroke-width="0.9" transform="rotate(20.38 420.32 451.17)"/><ellipse cx="420" cy="381.84" rx="2.66" ry="1.77" fill="#1a1a55" stroke="#2e2e89" stroke-width="0.9" transform="rotate(68.02 420 381.84)"/><ellipse cx="394.21" cy="426.12" rx="3.2" ry="2.54" fill="#141444" stroke="#25256e" stroke-width="0.9" transform="rotate(75.58 394.21 426.12)"/><ellipse cx="459.48" cy="378.89" rx="3.06" ry="2.49" fill="#17174c" stroke="#29297b" stroke-width="0.9" transform="rotate(169.03 459.48 378.89)"/><ellipse cx="429.43" cy="429.55" rx="2.75" ry="2.55" fill="#1b1b5a" stroke="#313191" stroke-width="0.9" transform="rotate(126.79 429.43 429.55)"/><ellipse cx="408.09" cy="345.44" rx="2.99" ry="2.24" fill="#161649" stroke="#272776" stroke-width="0.9" transform="rotate(104.5 408.09 345.44)"/><ellipse cx="391.35" cy="411.18" rx="3.48" ry="3.25" fill="#151547" stroke="#262672" stroke-width="0.9" transform="rotate(82.58 391.35 411.18)"/><ellipse cx="497.69" cy="422.29" rx="2.99" ry="2.26" fill="#0d0d2d" stroke="#181849" stroke-width="0.9" transform="rotate(110.46 497.69 422.29)"/><ellipse cx="443.26" cy="406.73" rx="2.92" ry="2.02" fill="#0f0f31" stroke="#1a1a4f" stroke-width="0.9" transform="rotate(125.88 443.26 406.73)"/><ellipse cx="478.41" cy="405.03" rx="2.98" ry="2.51" fill="#17174b" stroke="#29297a" stroke-width="0.9" transform="rotate(41.92 478.41 405.03)"/><ellipse cx="406.86" cy="428.78" rx="3.14" ry="2.6" fill="#12123d" stroke="#212162" stroke-width="0.9" transform="rotate(68.34 406.86 428.78)"/><ellipse cx="406.78" cy="339.95" rx="3.52" ry="3.05" fill="#1a1a56" stroke="#2e2e8b" stroke-width="0.9" transform="rotate(50.15 406.78 339.95)"/><ellipse cx="414.09" cy="449.75" rx="2.7" ry="2.2" fill="#1a1a55" stroke="#2e2e8a" stroke-width="0.9" transform="rotate(89.09 414.09 449.75)"/><ellipse cx="444.43" cy="364.64" rx="3.18" ry="2.52" fill="#11113a" stroke="#1f1f5e" stroke-width="0.9" transform="rotate(10.68 444.43 364.64)"/><ellipse cx="425.74" cy="428.67" rx="2.47" ry="1.55" fill="#1a1a57" stroke="#2f2f8c" stroke-width="0.9" transform="rotate(134.21 425.74 428.67)"/><ellipse cx="472.72" cy="368.16" rx="3.59" ry="2.59" fill="#1c1c5d" stroke="#323296" stroke-width="0.9" transform="rotate(17.43 472.72 368.16)"/><ellipse cx="478.4" cy="364.18" rx="3.48" ry="3.11" fill="#151546" stroke="#262671" stroke-width="0.9" transform="rotate(112.69 478.4 364.18)"/><ellipse cx="460.89" cy="342.74" rx="2.86" ry="1.84" fill="#16164a" stroke="#282878" stroke-width="0.9" transform="rotate(131.64 460.89 342.74)"/><ellipse cx="418.98" cy="441.54" rx="3.54" ry="3.29" fill="#16164a" stroke="#282877" stroke-width="0.9" transform="rotate(164.6 418.98 441.54)"/><ellipse cx="459.03" cy="462.41" rx="3.17" ry="2.15" fill="#111138" stroke="#1e1e5b" stroke-width="0.9" transform="rotate(167.26 459.03 462.41)"/><ellipse cx="390.98" cy="375.65" rx="2.96" ry="1.98" fill="#0e0e2e" stroke="#19194a" stroke-width="0.9" transform="rotate(179.56 390.98 375.65)"/><ellipse cx="403.5" cy="449.14" rx="3.03" ry="2.37" fill="#181852" stroke="#2c2c83" stroke-width="0.9" transform="rotate(54.6 403.5 449.14)"/><ellipse cx="481.43" cy="439.08" rx="3.14" ry="2.72" fill="#111139" stroke="#1f1f5c" stroke-width="0.9" transform="rotate(47.28 481.43 439.08)"/><ellipse cx="413.08" cy="398.23" rx="2.9" ry="1.76" fill="#141442" stroke="#24246b" stroke-width="0.9" transform="rotate(17.68 413.08 398.23)"/><ellipse cx="430.33" cy="365.28" rx="2.87" ry="2" fill="#18184f" stroke="#2b2b7f" stroke-width="0.9" transform="rotate(36.53 430.33 365.28)"/><ellipse cx="474.85" cy="447.3" rx="3.01" ry="2.08" fill="#101036" stroke="#1d1d58" stroke-width="0.9" transform="rotate(8.83 474.85 447.3)"/><ellipse cx="404.48" cy="461.78" rx="2.53" ry="2.22" fill="#26267f" stroke="#4545cd" stroke-width="0.9" transform="rotate(90.07 404.48 461.78)"/><ellipse cx="446.94" cy="373.73" rx="3.18" ry="1.92" fill="#13133f" stroke="#222265" stroke-width="0.9" transform="rotate(130.39 446.94 373.73)"/><ellipse cx="482.01" cy="434.37" rx="2.37" ry="1.84" fill="#0e0e30" stroke="#1a1a4d" stroke-width="0.9" transform="rotate(109.24 482.01 434.37)"/></g><circle cx="414.63" cy="445.69" r="0.4" fill="#a0a0c0"/><circle cx="489.98" cy="400.17" r="0.4" fill="#8080d0"/><circle cx="402.15" cy="410.64" r="0.4" fill="#a06070"/><circle cx="456.43" cy="362.09" r="0.4" fill="#6060a0"/><circle cx="457.59" cy="438.61" r="0.4" fill="#9080b0"/><circle cx="430.66" cy="427.92" r="0.4" fill="#8080d0"/><circle cx="484.52" cy="436" r="0.4" fill="#9080b0"/><circle cx="448.89" cy="436.8" r="0.4" fill="#6060a0"/><circle cx="441.94" cy="349.36" r="0.4" fill="#9080b0"/><circle cx="432.03" cy="457.4" r="0.4" fill="#a06070"/><circle cx="453.12" cy="369.17" r="0.4" fill="#9080b0"/><circle cx="415.17" cy="367.47" r="0.4" fill="#a0a0c0"/><circle cx="439.57" cy="431" r="0.4" fill="#6060a0"/><circle cx="496.83" cy="368.29" r="0.4" fill="#9080b0"/><circle cx="412.81" cy="453.84" r="0.4" fill="#a0a0c0"/><circle cx="445.65" cy="406.99" r="0.4" fill="#6060a0"/><circle cx="461.1" cy="423.63" r="0.4" fill="#a0a0c0"/><circle cx="417.36" cy="428.83" r="0.4" fill="#8080d0"/><circle cx="409.88" cy="397.72" r="0.4" fill="#9080b0"/><circle cx="491.12" cy="400.03" r="0.4" fill="#a06070"/><circle cx="400.86" cy="387.71" r="0.4" fill="#6060a0"/><circle cx="445.43" cy="425.92" r="0.4" fill="#9080b0"/><circle cx="449.95" cy="427.62" r="0.4" fill="#a0a0c0"/><circle cx="444.57" cy="435.51" r="0.4" fill="#6060a0"/><circle cx="493.46" cy="435.62" r="0.4" fill="#a0a0c0"/><circle cx="431.12" cy="356.05" r="0.4" fill="#a06070"/><circle cx="393.42" cy="396.15" r="0.4" fill="#a0a0c0"/><circle cx="425.45" cy="390.07" r="0.4" fill="#9080b0"/><circle cx="435.17" cy="352.58" r="0.4" fill="#8080d0"/><circle cx="462.7" cy="414.15" r="0.4" fill="#9080b0"/><circle cx="424.94" cy="442.05" r="0.4" fill="#8080d0"/><circle cx="487.07" cy="394.12" r="0.4" fill="#a0a0c0"/><circle cx="392.54" cy="362.76" r="0.4" fill="#9080b0"/><circle cx="452.44" cy="344.11" r="0.4" fill="#8080d0"/><circle cx="458.38" cy="351.82" r="0.4" fill="#6060a0"/><circle cx="413.23" cy="386.83" r="0.4" fill="#8080d0"/><circle cx="457.92" cy="344.15" r="0.4" fill="#a0a0c0"/><circle cx="401.46" cy="344.52" r="0.4" fill="#6060a0"/><circle cx="445.1" cy="424.27" r="0.4" fill="#9080b0"/><circle cx="435.93" cy="444.77" r="0.4" fill="#a06070"/><circle cx="406.64" cy="454.59" r="0.4" fill="#a06070"/><circle cx="472.01" cy="367.89" r="0.4" fill="#a06070"/><circle cx="401.51" cy="446.61" r="0.4" fill="#8080d0"/><circle cx="418.52" cy="348.34" r="0.4" fill="#a0a0c0"/><circle cx="405.6" cy="394.62" r="0.4" fill="#a0a0c0"/><circle cx="430.03" cy="354.89" r="0.4" fill="#9080b0"/><circle cx="476.88" cy="382.63" r="0.4" fill="#6060a0"/><circle cx="417.85" cy="397.2" r="0.4" fill="#8080d0"/><circle cx="405.31" cy="420.87" r="0.4" fill="#8080d0"/><circle cx="496.02" cy="357.27" r="0.4" fill="#6060a0"/><circle cx="399.64" cy="379.67" r="0.4" fill="#8080d0"/><circle cx="460.69" cy="433.67" r="0.4" fill="#9080b0"/><circle cx="457.62" cy="387.01" r="0.4" fill="#9080b0"/><circle cx="433.84" cy="357.96" r="0.4" fill="#8080d0"/><circle cx="433.89" cy="400.63" r="0.4" fill="#a06070"/><circle cx="402.94" cy="364.31" r="0.4" fill="#a06070"/><circle cx="468.63" cy="343.95" r="0.4" fill="#8080d0"/><circle cx="472.88" cy="465.8" r="0.4" fill="#9080b0"/><circle cx="405.87" cy="365.65" r="0.4" fill="#9080b0"/><circle cx="495.17" cy="370.93" r="0.4" fill="#a0a0c0"/><circle cx="473.77" cy="387.56" r="0.4" fill="#8080d0"/><circle cx="414.97" cy="426.05" r="0.4" fill="#a0a0c0"/><circle cx="428.46" cy="411.54" r="0.4" fill="#8080d0"/><circle cx="410.41" cy="441.26" r="0.4" fill="#a06070"/><circle cx="443.79" cy="388.43" r="0.4" fill="#9080b0"/><circle cx="483.04" cy="353" r="0.4" fill="#9080b0"/><circle cx="425.11" cy="398.46" r="0.4" fill="#a06070"/><circle cx="400.35" cy="400.08" r="0.4" fill="#9080b0"/><circle cx="418.73" cy="372.35" r="0.4" fill="#8080d0"/><circle cx="478.09" cy="463.48" r="0.4" fill="#9080b0"/><circle cx="408.96" cy="350.98" r="0.4" fill="#8080d0"/><circle cx="486" cy="359.72" r="0.4" fill="#9080b0"/><circle cx="401.14" cy="399.88" r="0.4" fill="#a0a0c0"/><circle cx="494.21" cy="343.94" r="0.4" fill="#a0a0c0"/><circle cx="493.2" cy="426.39" r="0.4" fill="#a0a0c0"/><circle cx="498.91" cy="445.7" r="0.4" fill="#6060a0"/><circle cx="411.33" cy="357.28" r="0.4" fill="#6060a0"/><circle cx="418" cy="396.31" r="0.4" fill="#9080b0"/><circle cx="449.36" cy="358.2" r="0.4" fill="#8080d0"/><circle cx="465.15" cy="441.1" r="0.4" fill="#8080d0"/><circle cx="398.12" cy="371.49" r="0.4" fill="#a0a0c0"/><circle cx="454.26" cy="372.72" r="0.4" fill="#9080b0"/><circle cx="487.34" cy="404.51" r="0.4" fill="#8080d0"/><circle cx="465.05" cy="404.99" r="0.4" fill="#6060a0"/><circle cx="432.19" cy="444.6" r="0.4" fill="#a06070"/><circle cx="395.88" cy="465.02" r="0.4" fill="#a06070"/><circle cx="495.32" cy="409.16" r="0.4" fill="#9080b0"/><circle cx="465.91" cy="449.55" r="0.4" fill="#a06070"/><circle cx="477.52" cy="378.63" r="0.4" fill="#a06070"/><circle cx="455.05" cy="343.86" r="0.4" fill="#a06070"/><circle cx="482.09" cy="447.12" r="0.4" fill="#a0a0c0"/><circle cx="393.81" cy="453.9" r="0.4" fill="#a0a0c0"/><circle cx="435.07" cy="433.02" r="0.4" fill="#a0a0c0"/><circle cx="418.89" cy="460.95" r="0.4" fill="#a0a0c0"/><circle cx="399.06" cy="388.05" r="0.4" fill="#9080b0"/><circle cx="462.98" cy="404.08" r="0.4" fill="#6060a0"/><circle cx="475.86" cy="366.32" r="0.4" fill="#9080b0"/><circle cx="414.57" cy="340.77" r="0.4" fill="#a0a0c0"/><circle cx="424.58" cy="464.7" r="0.4" fill="#a06070"/><circle cx="493.41" cy="411.81" r="0.4" fill="#8080d0"/><circle cx="394.97" cy="402.08" r="0.4" fill="#a0a0c0"/><circle cx="437.82" cy="457.34" r="0.4" fill="#8080d0"/><circle cx="446.32" cy="395.78" r="0.4" fill="#a0a0c0"/><circle cx="446.62" cy="429.27" r="0.4" fill="#8080d0"/><circle cx="465.99" cy="379.79" r="0.4" fill="#a0a0c0"/><circle cx="441.33" cy="408.05" r="0.4" fill="#a0a0c0"/><circle cx="448.66" cy="459.94" r="0.4" fill="#a06070"/><circle cx="478.83" cy="394.7" r="0.4" fill="#6060a0"/><circle cx="423.67" cy="464.89" r="0.4" fill="#6060a0"/><circle cx="428.06" cy="437.09" r="0.4" fill="#9080b0"/><circle cx="486.57" cy="436.89" r="0.4" fill="#a06070"/><circle cx="401.97" cy="394.74" r="0.4" fill="#9080b0"/><circle cx="430.41" cy="372.13" r="0.4" fill="#a06070"/><circle cx="400.59" cy="362.84" r="0.4" fill="#8080d0"/><circle cx="470.51" cy="440.93" r="0.4" fill="#a06070"/><circle cx="486.86" cy="376.55" r="0.4" fill="#9080b0"/><circle cx="454.06" cy="352.45" r="0.4" fill="#a0a0c0"/><circle cx="412.49" cy="360.99" r="0.4" fill="#6060a0"/><circle cx="409.8" cy="448.74" r="0.4" fill="#9080b0"/><circle cx="489.9" cy="386.37" r="0.4" fill="#a06070"/><circle cx="408.63" cy="453.31" r="0.4" fill="#6060a0"/><circle cx="442.09" cy="433.01" r="0.4" fill="#a0a0c0"/><circle cx="430.94" cy="342.28" r="0.4" fill="#6060a0"/><circle cx="391.2" cy="342.41" r="0.4" fill="#6060a0"/><circle cx="457.55" cy="391.88" r="0.4" fill="#a06070"/><circle cx="475.98" cy="429.85" r="0.4" fill="#a06070"/><circle cx="462.83" cy="362.33" r="0.4" fill="#6060a0"/><circle cx="408.17" cy="344.03" r="0.4" fill="#a0a0c0"/><circle cx="433.68" cy="407" r="0.4" fill="#6060a0"/><circle cx="441.02" cy="400.67" r="0.4" fill="#8080d0"/><circle cx="419.31" cy="383.8" r="0.4" fill="#9080b0"/><circle cx="466.17" cy="444.96" r="0.4" fill="#a0a0c0"/><circle cx="492.89" cy="348.72" r="0.4" fill="#9080b0"/><circle cx="426.37" cy="437.49" r="0.4" fill="#6060a0"/><circle cx="440.29" cy="446.55" r="0.4" fill="#8080d0"/><circle cx="487.69" cy="463.6" r="0.4" fill="#9080b0"/><circle cx="441.87" cy="383.28" r="0.4" fill="#a06070"/><circle cx="451.44" cy="386.09" r="0.4" fill="#a06070"/><circle cx="437.48" cy="404.55" r="0.4" fill="#6060a0"/><circle cx="452.26" cy="423.44" r="0.4" fill="#6060a0"/><circle cx="485.26" cy="414.15" r="0.4" fill="#8080d0"/><circle cx="467.59" cy="339.27" r="0.4" fill="#9080b0"/><circle cx="406.22" cy="370.63" r="0.4" fill="#6060a0"/><circle cx="471.62" cy="444.85" r="0.4" fill="#9080b0"/><circle cx="464.96" cy="463.66" r="0.4" fill="#6060a0"/><circle cx="468.28" cy="385.93" r="0.4" fill="#a0a0c0"/><circle cx="453.92" cy="348.1" r="0.4" fill="#9080b0"/><circle cx="401.55" cy="425.97" r="0.4" fill="#6060a0"/><circle cx="487.04" cy="368.95" r="0.4" fill="#6060a0"/><circle cx="486.78" cy="368.82" r="0.4" fill="#a06070"/><circle cx="488.46" cy="392.94" r="0.4" fill="#9080b0"/><circle cx="470.87" cy="357.27" r="0.4" fill="#a0a0c0"/><circle cx="487.88" cy="351.99" r="0.4" fill="#6060a0"/><circle cx="414.32" cy="466.06" r="0.4" fill="#9080b0"/><circle cx="430.52" cy="454.9" r="0.4" fill="#9080b0"/><circle cx="454.08" cy="465.22" r="0.4" fill="#9080b0"/><circle cx="423.65" cy="431.19" r="0.4" fill="#a06070"/><circle cx="411.1" cy="369.47" r="0.4" fill="#6060a0"/><circle cx="395.3" cy="363.3" r="0.4" fill="#a0a0c0"/><circle cx="460.3" cy="460.71" r="0.4" fill="#9080b0"/><circle cx="482.99" cy="357.35" r="0.4" fill="#8080d0"/><circle cx="450.67" cy="458.97" r="0.4" fill="#6060a0"/><circle cx="447.71" cy="396.96" r="0.4" fill="#a06070"/><circle cx="407.27" cy="448.97" r="0.4" fill="#a06070"/><circle cx="480.07" cy="415.26" r="0.4" fill="#6060a0"/><circle cx="440.57" cy="424.85" r="0.4" fill="#a0a0c0"/><circle cx="432.78" cy="465.62" r="0.4" fill="#6060a0"/><circle cx="415.76" cy="400.83" r="0.4" fill="#6060a0"/><circle cx="429.78" cy="435.91" r="0.4" fill="#a06070"/><circle cx="489.92" cy="407.78" r="0.4" fill="#9080b0"/><circle cx="437.36" cy="405.5" r="0.4" fill="#a06070"/><circle cx="438.75" cy="362.24" r="0.4" fill="#9080b0"/><circle cx="406.94" cy="423.07" r="0.4" fill="#8080d0"/><circle cx="452.26" cy="434.94" r="0.4" fill="#a06070"/><circle cx="402.35" cy="347.16" r="0.4" fill="#8080d0"/><circle cx="405.83" cy="405.26" r="0.4" fill="#6060a0"/><circle cx="403.28" cy="352.5" r="0.4" fill="#a06070"/><circle cx="432.54" cy="450.92" r="0.4" fill="#9080b0"/><circle cx="398.15" cy="457.69" r="0.4" fill="#6060a0"/><circle cx="431.8" cy="377.22" r="0.4" fill="#8080d0"/><circle cx="482.8" cy="419.72" r="0.4" fill="#9080b0"/><circle cx="396.66" cy="397.27" r="0.4" fill="#a06070"/><circle cx="491.7" cy="356.53" r="0.4" fill="#a06070"/><circle cx="476.21" cy="342.97" r="0.4" fill="#9080b0"/><circle cx="493.1" cy="423.02" r="0.4" fill="#a06070"/><circle cx="443.96" cy="420.84" r="0.4" fill="#a06070"/><circle cx="416.98" cy="460.16" r="0.4" fill="#8080d0"/><circle cx="402.42" cy="424.85" r="0.4" fill="#6060a0"/><circle cx="443.88" cy="429.2" r="0.4" fill="#a06070"/><circle cx="428.76" cy="434.51" r="0.4" fill="#9080b0"/><circle cx="404.4" cy="409.44" r="0.4" fill="#6060a0"/><circle cx="436.34" cy="341.34" r="0.4" fill="#a0a0c0"/><circle cx="398.86" cy="465.71" r="0.4" fill="#9080b0"/><circle cx="424.83" cy="393.7" r="0.4" fill="#a0a0c0"/><circle cx="400.85" cy="350.36" r="0.4" fill="#a0a0c0"/><circle cx="472.17" cy="397.08" r="0.4" fill="#6060a0"/><circle cx="485.63" cy="430.26" r="0.4" fill="#6060a0"/><circle cx="451.02" cy="348.17" r="0.4" fill="#6060a0"/><circle cx="484.96" cy="363.25" r="0.4" fill="#9080b0"/><circle cx="429.65" cy="442.65" r="0.4" fill="#8080d0"/><circle cx="430.15" cy="342.81" r="0.4" fill="#6060a0"/><circle cx="461.62" cy="455.06" r="0.4" fill="#a06070"/><circle cx="495.06" cy="367.81" r="0.4" fill="#8080d0"/><circle cx="499.3" cy="444.41" r="0.4" fill="#9080b0"/><circle cx="417.73" cy="375.59" r="0.4" fill="#a0a0c0"/><circle cx="424.25" cy="458.65" r="0.4" fill="#9080b0"/><circle cx="458.42" cy="389.66" r="0.4" fill="#9080b0"/><circle cx="441.27" cy="387.55" r="0.4" fill="#a06070"/><circle cx="437.46" cy="338.53" r="0.4" fill="#a0a0c0"/><circle cx="431.09" cy="358.71" r="0.4" fill="#8080d0"/><circle cx="461.18" cy="408.65" r="0.4" fill="#a0a0c0"/><circle cx="458" cy="434.7" r="0.4" fill="#a0a0c0"/><circle cx="420.91" cy="391.25" r="0.4" fill="#8080d0"/><circle cx="468.84" cy="458.64" r="0.4" fill="#9080b0"/><circle cx="465.38" cy="396.35" r="0.4" fill="#a06070"/><circle cx="407.15" cy="379.68" r="0.4" fill="#6060a0"/><circle cx="391.96" cy="425.66" r="0.4" fill="#8080d0"/><circle cx="486.63" cy="390.59" r="0.4" fill="#a0a0c0"/><circle cx="465.46" cy="403.11" r="0.4" fill="#a0a0c0"/><circle cx="481.48" cy="453.33" r="0.4" fill="#6060a0"/><circle cx="445.79" cy="431.7" r="0.4" fill="#a0a0c0"/><circle cx="440.04" cy="435.33" r="0.4" fill="#6060a0"/><circle cx="493.11" cy="462.78" r="0.4" fill="#a06070"/><circle cx="447.28" cy="378.31" r="0.4" fill="#9080b0"/><circle cx="496.37" cy="372.95" r="0.4" fill="#6060a0"/><circle cx="462.45" cy="376.73" r="0.4" fill="#a06070"/><circle cx="428.47" cy="363.03" r="0.4" fill="#6060a0"/><circle cx="409.96" cy="428.92" r="0.4" fill="#a0a0c0"/><circle cx="470.08" cy="396.07" r="0.4" fill="#a0a0c0"/><circle cx="427.14" cy="393.79" r="0.4" fill="#8080d0"/><circle cx="435.61" cy="346.52" r="0.4" fill="#9080b0"/><circle cx="493.37" cy="365.86" r="0.4" fill="#9080b0"/><circle cx="479.97" cy="421.4" r="0.4" fill="#a0a0c0"/><circle cx="456.43" cy="357.66" r="0.4" fill="#a0a0c0"/><circle cx="475.25" cy="371.44" r="0.4" fill="#6060a0"/><circle cx="401.11" cy="367.84" r="0.4" fill="#a06070"/><circle cx="475.49" cy="452.65" r="0.4" fill="#9080b0"/><circle cx="411.33" cy="380.17" r="0.4" fill="#6060a0"/><circle cx="497.55" cy="346.96" r="0.4" fill="#a0a0c0"/><circle cx="449.73" cy="412.69" r="0.4" fill="#a06070"/><circle cx="398.87" cy="379.69" r="0.4" fill="#8080d0"/><circle cx="430.87" cy="353.06" r="0.4" fill="#6060a0"/><circle cx="435.56" cy="340.95" r="0.4" fill="#a06070"/><circle cx="410.45" cy="458.03" r="0.4" fill="#8080d0"/><circle cx="406.33" cy="373.07" r="0.4" fill="#8080d0"/><circle cx="484.12" cy="458.52" r="0.4" fill="#a06070"/><circle cx="433.93" cy="461.89" r="0.4" fill="#6060a0"/><circle cx="466.07" cy="381.98" r="0.4" fill="#9080b0"/><circle cx="484.15" cy="417.26" r="0.4" fill="#a06070"/><circle cx="492.31" cy="391.12" r="0.4" fill="#9080b0"/><circle cx="461.49" cy="378.77" r="0.4" fill="#6060a0"/><circle cx="421.86" cy="429.49" r="0.4" fill="#a0a0c0"/><circle cx="425.29" cy="372.19" r="0.4" fill="#a06070"/><circle cx="449.76" cy="459.26" r="0.4" fill="#9080b0"/><circle cx="485.42" cy="434.79" r="0.4" fill="#8080d0"/><circle cx="427.63" cy="370.1" r="0.4" fill="#8080d0"/><circle cx="453.97" cy="380.78" r="0.4" fill="#6060a0"/><circle cx="494.98" cy="458.51" r="0.4" fill="#a06070"/><circle cx="463.42" cy="387.98" r="0.4" fill="#a0a0c0"/><circle cx="394.01" cy="358.79" r="0.4" fill="#a0a0c0"/><circle cx="426.41" cy="341.75" r="0.4" fill="#9080b0"/><circle cx="418.92" cy="349.19" r="0.4" fill="#6060a0"/><circle cx="493.4" cy="393.46" r="0.4" fill="#6060a0"/><circle cx="431.45" cy="370.76" r="0.4" fill="#a06070"/><circle cx="441.1" cy="438.33" r="0.4" fill="#a0a0c0"/><circle cx="442.11" cy="392.63" r="0.4" fill="#a06070"/><circle cx="484.54" cy="455.56" r="0.4" fill="#8080d0"/><circle cx="432.07" cy="364.48" r="0.4" fill="#6060a0"/><circle cx="391.92" cy="462.87" r="0.4" fill="#8080d0"/><circle cx="456.59" cy="349.4" r="0.4" fill="#8080d0"/><circle cx="466.06" cy="406.27" r="0.4" fill="#9080b0"/><circle cx="496.68" cy="357.1" r="0.4" fill="#9080b0"/><circle cx="498.79" cy="345.12" r="0.4" fill="#6060a0"/><circle cx="430.6" cy="411.14" r="0.4" fill="#8080d0"/><circle cx="496.9" cy="434.73" r="0.4" fill="#8080d0"/><circle cx="401.02" cy="420.72" r="0.4" fill="#a06070"/><circle cx="396.19" cy="461.62" r="0.4" fill="#9080b0"/><circle cx="417.89" cy="339.28" r="0.4" fill="#9080b0"/><circle cx="475.14" cy="416.49" r="0.4" fill="#6060a0"/><circle cx="438.17" cy="385.64" r="0.4" fill="#6060a0"/></g><rect x="282.4" y="449" width="1.1" height="16.5" fill="#e8e8e8"/><rect x="393.1" y="446.7" width="1.1" height="18.2" fill="#e8e8e8"/><ellipse cx="330.9" cy="373.3" rx="0.9" ry="1.6" fill="#f0e890"/><circle cx="378.7" cy="377.6" r="1.1" fill="#f4f4f4"/><text transform="translate(503.6,355) rotate(90)" font-size="8.8" fill="#333"><tspan fill="#e2705f" font-style="italic">ERBB2</tspan> <tspan fill="#9ad4ee">CEP17</tspan> <tspan fill="#9cc45a">CC</tspan> <tspan fill="#45508f">DAPI</tspan></text><text x="29.9" y="383.2" font-size="10.8" fill="#111" font-weight="bold">E</text><text x="75.9" y="373.8" font-size="8.7" fill="#222">DCIS</text><line x1="84.5" y1="375.5" x2="84.5" y2="504.7" stroke="#3a3a3a" stroke-width="0.75"/><line x1="93.5" y1="375.5" x2="93.5" y2="504.7" stroke="#3a3a3a" stroke-width="0.75"/><line x1="102.5" y1="375.5" x2="102.5" y2="504.7" stroke="#3a3a3a" stroke-width="0.75"/><line x1="112.5" y1="375.5" x2="112.5" y2="504.7" stroke="#3a3a3a" stroke-width="0.75"/><line x1="121.5" y1="375.5" x2="121.5" y2="504.7" stroke="#3a3a3a" stroke-width="0.75"/><line x1="130.5" y1="375.5" x2="130.5" y2="504.7" stroke="#3a3a3a" stroke-width="0.75"/><line x1="139.5" y1="375.5" x2="139.5" y2="504.7" stroke="#3a3a3a" stroke-width="0.75"/><line x1="148.5" y1="375.5" x2="148.5" y2="504.7" stroke="#3a3a3a" stroke-width="0.75"/><line x1="158.5" y1="375.5" x2="158.5" y2="504.7" stroke="#3a3a3a" stroke-width="0.75"/><line x1="167.5" y1="375.5" x2="167.5" y2="504.7" stroke="#3a3a3a" stroke-width="0.75"/><line x1="176.5" y1="375.5" x2="176.5" y2="504.7" stroke="#3a3a3a" stroke-width="0.75"/><line x1="185.5" y1="375.5" x2="185.5" y2="504.7" stroke="#3a3a3a" stroke-width="0.75"/><line x1="194.5" y1="375.5" x2="194.5" y2="504.7" stroke="#3a3a3a" stroke-width="0.75"/><line x1="203.5" y1="375.5" x2="203.5" y2="504.7" stroke="#3a3a3a" stroke-width="0.75"/><line x1="213.5" y1="375.5" x2="213.5" y2="504.7" stroke="#3a3a3a" stroke-width="0.75"/><line x1="222.5" y1="375.5" x2="222.5" y2="504.7" stroke="#3a3a3a" stroke-width="0.75"/><line x1="231.5" y1="375.5" x2="231.5" y2="504.7" stroke="#3a3a3a" stroke-width="0.75"/><line x1="240.5" y1="375.5" x2="240.5" y2="504.7" stroke="#3a3a3a" stroke-width="0.75"/><line x1="249.5" y1="375.5" x2="249.5" y2="504.7" stroke="#3a3a3a" stroke-width="0.75"/><line x1="73.3" y1="502.9" x2="75.3" y2="502.9" stroke="#333" stroke-width="0.6"/><text x="71.6" y="505.1" font-size="6.4" fill="#333" text-anchor="end">0.0</text><line x1="73.3" y1="475.6" x2="75.3" y2="475.6" stroke="#333" stroke-width="0.6"/><text x="71.6" y="477.8" font-size="6.4" fill="#333" text-anchor="end">0.2</text><line x1="73.3" y1="448.3" x2="75.3" y2="448.3" stroke="#333" stroke-width="0.6"/><text x="71.6" y="450.5" font-size="6.4" fill="#333" text-anchor="end">0.4</text><line x1="73.3" y1="421" x2="75.3" y2="421" stroke="#333" stroke-width="0.6"/><text x="71.6" y="423.2" font-size="6.4" fill="#333" text-anchor="end">0.6</text><line x1="73.3" y1="393.7" x2="75.3" y2="393.7" stroke="#333" stroke-width="0.6"/><text x="71.6" y="395.9" font-size="6.4" fill="#333" text-anchor="end">0.8</text><text x="79.89" y="510.2" font-size="6.4" fill="#333" text-anchor="middle">1</text><text x="89.08" y="510.2" font-size="6.4" fill="#333" text-anchor="middle">2</text><text x="98.27" y="510.2" font-size="6.4" fill="#333" text-anchor="middle">3</text><text x="107.47" y="510.2" font-size="6.4" fill="#333" text-anchor="middle">4</text><text x="116.66" y="510.2" font-size="6.4" fill="#333" text-anchor="middle">5</text><text x="125.84" y="510.2" font-size="6.4" fill="#333" text-anchor="middle">6</text><text x="135.03" y="510.2" font-size="6.4" fill="#333" text-anchor="middle">7</text><text x="144.22" y="510.2" font-size="6.4" fill="#333" text-anchor="middle">8</text><text x="153.41" y="510.2" font-size="6.4" fill="#333" text-anchor="middle">9</text><text x="162.6" y="510.2" font-size="6.4" fill="#333" text-anchor="middle">10</text><text x="171.79" y="510.2" font-size="6.4" fill="#333" text-anchor="middle">11</text><text x="180.98" y="510.2" font-size="6.4" fill="#333" text-anchor="middle">12</text><text x="190.18" y="510.2" font-size="6.4" fill="#333" text-anchor="middle">13</text><text x="199.37" y="510.2" font-size="6.4" fill="#333" text-anchor="middle">14</text><text x="208.56" y="510.2" font-size="6.4" fill="#333" text-anchor="middle">15</text><text x="217.75" y="510.2" font-size="6.4" fill="#333" text-anchor="middle">16</text><text x="226.94" y="510.2" font-size="6.4" fill="#333" text-anchor="middle">17</text><text x="236.12" y="510.2" font-size="6.4" fill="#333" text-anchor="middle">18</text><text x="245.31" y="510.2" font-size="6.4" fill="#333" text-anchor="middle">19</text><text x="254.5" y="510.2" font-size="6.4" fill="#333" text-anchor="middle">20</text><text x="75.7" y="518.2" font-size="6.2" fill="#333">Patient IDs</text><text transform="translate(57,441.8) rotate(-90)" font-size="7.8" fill="#333" text-anchor="middle">Proportion of cells with CC amplification</text><circle cx="80.61" cy="463.3" r="1.65" fill="#efb3c6"/><circle cx="79.48" cy="471" r="1.65" fill="#efb3c6"/><circle cx="79.27" cy="480.1" r="1.65" fill="#efb3c6"/><circle cx="80.67" cy="486.8" r="1.65" fill="#111"/><circle cx="78.97" cy="489.2" r="1.65" fill="#111"/><circle cx="79.84" cy="490.8" r="1.65" fill="#111"/><circle cx="80.03" cy="499.9" r="1.65" fill="#111"/><circle cx="89.35" cy="451.4" r="1.65" fill="#efb3c6"/><circle cx="88.23" cy="463.3" r="1.65" fill="#efb3c6"/><circle cx="89.4" cy="475" r="1.65" fill="#efb3c6"/><circle cx="89.09" cy="484.1" r="1.65" fill="#efb3c6"/><circle cx="89.93" cy="490.2" r="1.65" fill="#111"/><circle cx="87.95" cy="497.3" r="1.65" fill="#111"/><circle cx="91.28" cy="503" r="1.65" fill="#111"/><circle cx="86.88" cy="503" r="1.65" fill="#111"/><circle cx="99.37" cy="447.4" r="1.65" fill="#efb3c6"/><circle cx="97.49" cy="471" r="1.65" fill="#efb3c6"/><circle cx="99.03" cy="476" r="1.65" fill="#efb3c6"/><circle cx="98.29" cy="482.1" r="1.65" fill="#efb3c6"/><circle cx="99.08" cy="488.2" r="1.65" fill="#efb3c6"/><circle cx="97.51" cy="494.2" r="1.65" fill="#111"/><circle cx="97.85" cy="496.3" r="1.65" fill="#111"/><circle cx="97.28" cy="498.3" r="1.65" fill="#111"/><circle cx="96.07" cy="503" r="1.65" fill="#111"/><circle cx="108.13" cy="469" r="1.65" fill="#111"/><circle cx="107.55" cy="489.6" r="1.65" fill="#111"/><circle cx="109.67" cy="503" r="1.65" fill="#111"/><circle cx="115.95" cy="462.9" r="1.65" fill="#efb3c6"/><circle cx="115.92" cy="479.1" r="1.65" fill="#efb3c6"/><circle cx="115.65" cy="485.6" r="1.65" fill="#efb3c6"/><circle cx="115.94" cy="476" r="1.65" fill="#111"/><circle cx="116.8" cy="492.2" r="1.65" fill="#111"/><circle cx="116.51" cy="493.6" r="1.65" fill="#111"/><circle cx="114.45" cy="503" r="1.65" fill="#111"/><circle cx="126.34" cy="469" r="1.65" fill="#efb3c6"/><circle cx="124.83" cy="471" r="1.65" fill="#efb3c6"/><circle cx="126.66" cy="477.1" r="1.65" fill="#efb3c6"/><circle cx="127" cy="495.7" r="1.65" fill="#111"/><circle cx="126.42" cy="497.3" r="1.65" fill="#111"/><circle cx="126.43" cy="498.3" r="1.65" fill="#111"/><circle cx="135.87" cy="440.7" r="1.65" fill="#efb3c6"/><circle cx="134.06" cy="476" r="1.65" fill="#efb3c6"/><circle cx="134.94" cy="489.2" r="1.65" fill="#efb3c6"/><circle cx="134.03" cy="496.3" r="1.65" fill="#efb3c6"/><circle cx="135.71" cy="486.2" r="1.65" fill="#111"/><circle cx="135.13" cy="486.8" r="1.65" fill="#111"/><circle cx="134.09" cy="492.8" r="1.65" fill="#111"/><circle cx="132.84" cy="503" r="1.65" fill="#111"/><circle cx="144.09" cy="428.6" r="1.65" fill="#efb3c6"/><circle cx="144.89" cy="429.6" r="1.65" fill="#efb3c6"/><circle cx="144.35" cy="441.7" r="1.65" fill="#efb3c6"/><circle cx="143.32" cy="452.4" r="1.65" fill="#efb3c6"/><circle cx="145.27" cy="486.8" r="1.65" fill="#efb3c6"/><circle cx="143.16" cy="457.3" r="1.65" fill="#111"/><circle cx="145.05" cy="463.9" r="1.65" fill="#111"/><circle cx="145.36" cy="475.7" r="1.65" fill="#111"/><circle cx="142.03" cy="503" r="1.65" fill="#111"/><circle cx="154.02" cy="376" r="1.65" fill="#efb3c6"/><circle cx="154.49" cy="403.3" r="1.65" fill="#efb3c6"/><circle cx="153.49" cy="417.5" r="1.65" fill="#efb3c6"/><circle cx="152.74" cy="441.1" r="1.65" fill="#efb3c6"/><circle cx="153.35" cy="457.9" r="1.65" fill="#efb3c6"/><circle cx="153.99" cy="482.1" r="1.65" fill="#111"/><circle cx="154.06" cy="490.8" r="1.65" fill="#111"/><circle cx="153.14" cy="492.2" r="1.65" fill="#111"/><circle cx="154.49" cy="494.2" r="1.65" fill="#111"/><circle cx="152.3" cy="497.3" r="1.65" fill="#111"/><circle cx="162.59" cy="456.9" r="1.65" fill="#efb3c6"/><circle cx="161.5" cy="458.9" r="1.65" fill="#efb3c6"/><circle cx="162.26" cy="473" r="1.65" fill="#efb3c6"/><circle cx="163.78" cy="477.1" r="1.65" fill="#efb3c6"/><circle cx="161.69" cy="481.1" r="1.65" fill="#efb3c6"/><circle cx="163.77" cy="462.5" r="1.65" fill="#111"/><circle cx="163.58" cy="493.6" r="1.65" fill="#111"/><circle cx="163.06" cy="494.2" r="1.65" fill="#111"/><circle cx="161.54" cy="494.8" r="1.65" fill="#111"/><circle cx="162.6" cy="503" r="1.65" fill="#111"/><circle cx="171.73" cy="448.4" r="1.65" fill="#efb3c6"/><circle cx="172.26" cy="469" r="1.65" fill="#efb3c6"/><circle cx="170.82" cy="496.9" r="1.65" fill="#efb3c6"/><circle cx="171.31" cy="477.5" r="1.65" fill="#111"/><circle cx="170.82" cy="480.1" r="1.65" fill="#111"/><circle cx="172.62" cy="495.3" r="1.65" fill="#111"/><circle cx="169.59" cy="503" r="1.65" fill="#111"/><circle cx="181.98" cy="434.6" r="1.65" fill="#efb3c6"/><circle cx="182" cy="437.7" r="1.65" fill="#efb3c6"/><circle cx="181.59" cy="453.8" r="1.65" fill="#efb3c6"/><circle cx="181.17" cy="455.9" r="1.65" fill="#efb3c6"/><circle cx="179.93" cy="479.1" r="1.65" fill="#111"/><circle cx="180.94" cy="480.1" r="1.65" fill="#111"/><circle cx="181.61" cy="482.1" r="1.65" fill="#111"/><circle cx="178.78" cy="503" r="1.65" fill="#111"/><circle cx="190.79" cy="474" r="1.65" fill="#efb3c6"/><circle cx="189.04" cy="477.1" r="1.65" fill="#efb3c6"/><circle cx="188.99" cy="484.1" r="1.65" fill="#efb3c6"/><circle cx="189.19" cy="496.3" r="1.65" fill="#efb3c6"/><circle cx="191.19" cy="490.6" r="1.65" fill="#111"/><circle cx="189.25" cy="497.9" r="1.65" fill="#111"/><circle cx="192.38" cy="503" r="1.65" fill="#111"/><circle cx="199.1" cy="460.5" r="1.65" fill="#efb3c6"/><circle cx="199.31" cy="496.3" r="1.65" fill="#efb3c6"/><circle cx="200.29" cy="485.6" r="1.65" fill="#111"/><circle cx="198.49" cy="491.2" r="1.65" fill="#111"/><circle cx="201.57" cy="503" r="1.65" fill="#111"/><circle cx="207.98" cy="423.5" r="1.65" fill="#efb3c6"/><circle cx="209.21" cy="449.8" r="1.65" fill="#efb3c6"/><circle cx="207.56" cy="468" r="1.65" fill="#efb3c6"/><circle cx="207.75" cy="471" r="1.65" fill="#111"/><circle cx="207.42" cy="486.8" r="1.65" fill="#111"/><circle cx="209.65" cy="487.2" r="1.65" fill="#111"/><circle cx="206.36" cy="503" r="1.65" fill="#111"/><circle cx="217.11" cy="450.8" r="1.65" fill="#efb3c6"/><circle cx="217.75" cy="481.1" r="1.65" fill="#efb3c6"/><circle cx="217.45" cy="495.3" r="1.65" fill="#efb3c6"/><circle cx="218.9" cy="471.6" r="1.65" fill="#111"/><circle cx="218.25" cy="490.8" r="1.65" fill="#111"/><circle cx="217.99" cy="499.3" r="1.65" fill="#111"/><circle cx="215.55" cy="503" r="1.65" fill="#111"/><circle cx="226.91" cy="438.7" r="1.65" fill="#efb3c6"/><circle cx="226.38" cy="441.7" r="1.65" fill="#efb3c6"/><circle cx="227.75" cy="447.8" r="1.65" fill="#efb3c6"/><circle cx="225.98" cy="463.3" r="1.65" fill="#111"/><circle cx="227.23" cy="475" r="1.65" fill="#111"/><circle cx="226.44" cy="485.2" r="1.65" fill="#111"/><circle cx="226.4" cy="492.6" r="1.65" fill="#111"/><circle cx="236.01" cy="441.7" r="1.65" fill="#efb3c6"/><circle cx="235.38" cy="458.9" r="1.65" fill="#efb3c6"/><circle cx="236.35" cy="475" r="1.65" fill="#efb3c6"/><circle cx="235.09" cy="485.2" r="1.65" fill="#efb3c6"/><circle cx="234.97" cy="467" r="1.65" fill="#111"/><circle cx="235.26" cy="491.2" r="1.65" fill="#111"/><circle cx="235.14" cy="492.6" r="1.65" fill="#111"/><circle cx="237.03" cy="499.3" r="1.65" fill="#111"/><circle cx="245.34" cy="452.4" r="1.65" fill="#efb3c6"/><circle cx="245.74" cy="457.9" r="1.65" fill="#efb3c6"/><circle cx="245.98" cy="467.6" r="1.65" fill="#efb3c6"/><circle cx="244.51" cy="497.3" r="1.65" fill="#efb3c6"/><circle cx="246.4" cy="470.4" r="1.65" fill="#111"/><circle cx="245.04" cy="489.2" r="1.65" fill="#111"/><circle cx="245.22" cy="494.8" r="1.65" fill="#111"/><circle cx="243.12" cy="503" r="1.65" fill="#111"/><circle cx="254.48" cy="416.5" r="1.65" fill="#efb3c6"/><circle cx="254.97" cy="442.3" r="1.65" fill="#efb3c6"/><circle cx="255.15" cy="469" r="1.65" fill="#efb3c6"/><circle cx="253.77" cy="488.2" r="1.65" fill="#efb3c6"/><circle cx="255.29" cy="480.7" r="1.65" fill="#111"/><circle cx="254.33" cy="494.2" r="1.65" fill="#111"/><circle cx="253.91" cy="495.3" r="1.65" fill="#111"/><circle cx="255.38" cy="497.3" r="1.65" fill="#111"/><rect x="75.3" y="375.5" width="183.5" height="129.2" fill="none" stroke="#222" stroke-width="0.9"/><text x="164.5" y="518.6" font-size="7" fill="#111" text-anchor="middle">•</text><text x="167.7" y="518.6" font-size="6.5" fill="#333">Cells w/o <tspan font-style="italic">ERBB2</tspan> ampl</text><circle cx="164.5" cy="523.3" r="1.2" fill="#efb3c6"/><text x="167.7" y="525.4" font-size="6.5" fill="#333">Cells w/ <tspan font-style="italic">ERBB2</tspan> ampl</text><text x="75.8" y="530" font-size="8.7" fill="#222">DCIS/IDC</text><line x1="85.5" y1="532" x2="85.5" y2="661" stroke="#3a3a3a" stroke-width="0.75"/><line x1="95.5" y1="532" x2="95.5" y2="661" stroke="#3a3a3a" stroke-width="0.75"/><line x1="105.5" y1="532" x2="105.5" y2="661" stroke="#3a3a3a" stroke-width="0.75"/><line x1="115.5" y1="532" x2="115.5" y2="661" stroke="#3a3a3a" stroke-width="0.75"/><line x1="125.5" y1="532" x2="125.5" y2="661" stroke="#3a3a3a" stroke-width="0.75"/><line x1="135.5" y1="532" x2="135.5" y2="661" stroke="#3a3a3a" stroke-width="0.75"/><line x1="145.5" y1="532" x2="145.5" y2="661" stroke="#3a3a3a" stroke-width="0.75"/><line x1="156.5" y1="532" x2="156.5" y2="661" stroke="#3a3a3a" stroke-width="0.75"/><line x1="166.5" y1="532" x2="166.5" y2="661" stroke="#3a3a3a" stroke-width="0.75"/><line x1="176.5" y1="532" x2="176.5" y2="661" stroke="#3a3a3a" stroke-width="0.75"/><line x1="186.5" y1="532" x2="186.5" y2="661" stroke="#3a3a3a" stroke-width="0.75"/><line x1="196.5" y1="532" x2="196.5" y2="661" stroke="#3a3a3a" stroke-width="0.75"/><line x1="206.5" y1="532" x2="206.5" y2="661" stroke="#3a3a3a" stroke-width="0.75"/><line x1="216.5" y1="532" x2="216.5" y2="661" stroke="#3a3a3a" stroke-width="0.75"/><line x1="226.5" y1="532" x2="226.5" y2="661" stroke="#3a3a3a" stroke-width="0.75"/><line x1="236.5" y1="532" x2="236.5" y2="661" stroke="#3a3a3a" stroke-width="0.75"/><line x1="246.5" y1="532" x2="246.5" y2="661" stroke="#3a3a3a" stroke-width="0.75"/><line x1="73.2" y1="658.1" x2="75.2" y2="658.1" stroke="#333" stroke-width="0.6"/><text x="71.5" y="660.3" font-size="6.4" fill="#333" text-anchor="end">0.0</text><line x1="73.2" y1="633" x2="75.2" y2="633" stroke="#333" stroke-width="0.6"/><text x="71.5" y="635.2" font-size="6.4" fill="#333" text-anchor="end">0.2</text><line x1="73.2" y1="607.6" x2="75.2" y2="607.6" stroke="#333" stroke-width="0.6"/><text x="71.5" y="609.8" font-size="6.4" fill="#333" text-anchor="end">0.4</text><line x1="73.2" y1="582.5" x2="75.2" y2="582.5" stroke="#333" stroke-width="0.6"/><text x="71.5" y="584.7" font-size="6.4" fill="#333" text-anchor="end">0.6</text><line x1="73.2" y1="557.2" x2="75.2" y2="557.2" stroke="#333" stroke-width="0.6"/><text x="71.5" y="559.4" font-size="6.4" fill="#333" text-anchor="end">0.8</text><line x1="73.2" y1="532.1" x2="75.2" y2="532.1" stroke="#333" stroke-width="0.6"/><text x="71.5" y="534.3" font-size="6.4" fill="#333" text-anchor="end">1.0</text><text x="80.25" y="666.6" font-size="6.4" fill="#333" text-anchor="middle">1</text><text x="90.35" y="666.6" font-size="6.4" fill="#333" text-anchor="middle">2</text><text x="100.45" y="666.6" font-size="6.4" fill="#333" text-anchor="middle">3</text><text x="110.55" y="666.6" font-size="6.4" fill="#333" text-anchor="middle">4</text><text x="120.65" y="666.6" font-size="6.4" fill="#333" text-anchor="middle">5</text><text x="130.75" y="666.6" font-size="6.4" fill="#333" text-anchor="middle">6</text><text x="140.85" y="666.6" font-size="6.4" fill="#333" text-anchor="middle">7</text><text x="150.95" y="666.6" font-size="6.4" fill="#333" text-anchor="middle">8</text><text x="161.05" y="666.6" font-size="6.4" fill="#333" text-anchor="middle">9</text><text x="171.15" y="666.6" font-size="6.4" fill="#333" text-anchor="middle">10</text><text x="181.25" y="666.6" font-size="6.4" fill="#333" text-anchor="middle">11</text><text x="191.35" y="666.6" font-size="6.4" fill="#333" text-anchor="middle">12</text><text x="201.45" y="666.6" font-size="6.4" fill="#333" text-anchor="middle">13</text><text x="211.55" y="666.6" font-size="6.4" fill="#333" text-anchor="middle">14</text><text x="221.65" y="666.6" font-size="6.4" fill="#333" text-anchor="middle">15</text><text x="231.75" y="666.6" font-size="6.4" fill="#333" text-anchor="middle">16</text><text x="241.85" y="666.6" font-size="6.4" fill="#333" text-anchor="middle">17</text><text x="251.95" y="666.6" font-size="6.4" fill="#333" text-anchor="middle">18</text><text x="75.6" y="674.6" font-size="6.2" fill="#333">Patient IDs</text><text transform="translate(55.7,601.9) rotate(-90)" font-size="7.8" fill="#333" text-anchor="middle">Proportion of cells with CC amplification</text><circle cx="81.37" cy="647.2" r="1.65" fill="#c2c2c2" stroke="#999" stroke-width="0.3"/><circle cx="81.32" cy="650.3" r="1.65" fill="#c2c2c2" stroke="#999" stroke-width="0.3"/><circle cx="79.72" cy="653.3" r="1.65" fill="#c2c2c2" stroke="#999" stroke-width="0.3"/><circle cx="81.49" cy="589.6" r="1.65" fill="#efb3c6"/><circle cx="81.08" cy="599.7" r="1.65" fill="#efb3c6"/><circle cx="81.66" cy="615.9" r="1.65" fill="#efb3c6"/><circle cx="81.01" cy="628" r="1.65" fill="#efb3c6"/><circle cx="81.75" cy="644.2" r="1.65" fill="#a64f8e"/><circle cx="80.18" cy="651.3" r="1.65" fill="#a64f8e"/><circle cx="81" cy="630" r="1.65" fill="#111"/><circle cx="81.09" cy="635.7" r="1.65" fill="#111"/><circle cx="80.32" cy="641.2" r="1.65" fill="#111"/><circle cx="80.26" cy="644.2" r="1.65" fill="#111"/><circle cx="79.95" cy="646.2" r="1.65" fill="#111"/><circle cx="91.46" cy="633" r="1.65" fill="#c2c2c2" stroke="#999" stroke-width="0.3"/><circle cx="89.99" cy="636" r="1.65" fill="#c2c2c2" stroke="#999" stroke-width="0.3"/><circle cx="91.09" cy="639" r="1.65" fill="#c2c2c2" stroke="#999" stroke-width="0.3"/><circle cx="90.54" cy="654.3" r="1.65" fill="#c2c2c2" stroke="#999" stroke-width="0.3"/><circle cx="90.97" cy="561.4" r="1.65" fill="#efb3c6"/><circle cx="89.78" cy="564.4" r="1.65" fill="#efb3c6"/><circle cx="89.09" cy="567.4" r="1.65" fill="#efb3c6"/><circle cx="90.88" cy="570.5" r="1.65" fill="#efb3c6"/><circle cx="89.29" cy="575.1" r="1.65" fill="#a64f8e"/><circle cx="89.93" cy="577.1" r="1.65" fill="#a64f8e"/><circle cx="91.19" cy="579.5" r="1.65" fill="#a64f8e"/><circle cx="89" cy="620" r="1.65" fill="#a64f8e"/><circle cx="91.58" cy="642.2" r="1.65" fill="#111"/><circle cx="90.62" cy="644.2" r="1.65" fill="#111"/><circle cx="90.53" cy="646.2" r="1.65" fill="#111"/><circle cx="90.88" cy="647.2" r="1.65" fill="#111"/><circle cx="99.12" cy="624" r="1.65" fill="#c2c2c2" stroke="#999" stroke-width="0.3"/><circle cx="99.02" cy="642.2" r="1.65" fill="#c2c2c2" stroke="#999" stroke-width="0.3"/><circle cx="101.11" cy="650.3" r="1.65" fill="#c2c2c2" stroke="#999" stroke-width="0.3"/><circle cx="100.71" cy="652.3" r="1.65" fill="#c2c2c2" stroke="#999" stroke-width="0.3"/><circle cx="100.87" cy="573.1" r="1.65" fill="#efb3c6"/><circle cx="101.42" cy="583.6" r="1.65" fill="#efb3c6"/><circle cx="99.76" cy="586.6" r="1.65" fill="#efb3c6"/><circle cx="99.43" cy="578.5" r="1.65" fill="#a64f8e"/><circle cx="101.86" cy="607.8" r="1.65" fill="#a64f8e"/><circle cx="99.13" cy="610.9" r="1.65" fill="#a64f8e"/><circle cx="100.5" cy="612.9" r="1.65" fill="#a64f8e"/><circle cx="100.82" cy="600.8" r="1.65" fill="#111"/><circle cx="101.82" cy="628" r="1.65" fill="#111"/><circle cx="99.21" cy="635.1" r="1.65" fill="#111"/><circle cx="101.06" cy="645.6" r="1.65" fill="#111"/><circle cx="109.29" cy="639.1" r="1.65" fill="#c2c2c2" stroke="#999" stroke-width="0.3"/><circle cx="110.41" cy="645.2" r="1.65" fill="#c2c2c2" stroke="#999" stroke-width="0.3"/><circle cx="110.91" cy="653.3" r="1.65" fill="#c2c2c2" stroke="#999" stroke-width="0.3"/><circle cx="111.6" cy="551.3" r="1.65" fill="#efb3c6"/><circle cx="109.19" cy="561.4" r="1.65" fill="#efb3c6"/><circle cx="111.3" cy="562.4" r="1.65" fill="#a64f8e"/><circle cx="109.5" cy="575.5" r="1.65" fill="#a64f8e"/><circle cx="110.26" cy="602.8" r="1.65" fill="#a64f8e"/><circle cx="111.99" cy="604.8" r="1.65" fill="#a64f8e"/><circle cx="111.6" cy="619.5" r="1.65" fill="#111"/><circle cx="109.28" cy="629.6" r="1.65" fill="#111"/><circle cx="109.06" cy="642.8" r="1.65" fill="#111"/><circle cx="119.24" cy="637.1" r="1.65" fill="#c2c2c2" stroke="#999" stroke-width="0.3"/><circle cx="121.49" cy="641.2" r="1.65" fill="#c2c2c2" stroke="#999" stroke-width="0.3"/><circle cx="119.27" cy="653.3" r="1.65" fill="#c2c2c2" stroke="#999" stroke-width="0.3"/><circle cx="121.5" cy="536.7" r="1.65" fill="#efb3c6"/><circle cx="121.57" cy="545.2" r="1.65" fill="#efb3c6"/><circle cx="121.6" cy="562.4" r="1.65" fill="#efb3c6"/><circle cx="121.96" cy="564.4" r="1.65" fill="#a64f8e"/><circle cx="121.05" cy="579.1" r="1.65" fill="#a64f8e"/><circle cx="121.62" cy="599.7" r="1.65" fill="#a64f8e"/><circle cx="120.78" cy="600.8" r="1.65" fill="#a64f8e"/><circle cx="121.16" cy="599.7" r="1.65" fill="#111"/><circle cx="119.36" cy="611.9" r="1.65" fill="#111"/><circle cx="120.8" cy="624.6" r="1.65" fill="#111"/><circle cx="122.12" cy="629.6" r="1.65" fill="#111"/><circle cx="130.41" cy="646.2" r="1.65" fill="#c2c2c2" stroke="#999" stroke-width="0.3"/><circle cx="131.39" cy="649.2" r="1.65" fill="#c2c2c2" stroke="#999" stroke-width="0.3"/><circle cx="129.79" cy="572.5" r="1.65" fill="#efb3c6"/><circle cx="130.69" cy="591.3" r="1.65" fill="#efb3c6"/><circle cx="130.87" cy="607.8" r="1.65" fill="#efb3c6"/><circle cx="131.56" cy="639.1" r="1.65" fill="#a64f8e"/><circle cx="130.22" cy="647.2" r="1.65" fill="#a64f8e"/><circle cx="130.66" cy="607.8" r="1.65" fill="#111"/><circle cx="129.82" cy="613.5" r="1.65" fill="#111"/><circle cx="130.98" cy="621" r="1.65" fill="#111"/><circle cx="142.17" cy="640.2" r="1.65" fill="#c2c2c2" stroke="#999" stroke-width="0.3"/><circle cx="140.51" cy="652.3" r="1.65" fill="#c2c2c2" stroke="#999" stroke-width="0.3"/><circle cx="141.33" cy="656.3" r="1.65" fill="#c2c2c2" stroke="#999" stroke-width="0.3"/><circle cx="141.02" cy="590" r="1.65" fill="#efb3c6"/><circle cx="139.94" cy="613.9" r="1.65" fill="#efb3c6"/><circle cx="141.44" cy="624" r="1.65" fill="#efb3c6"/><circle cx="139.99" cy="640.2" r="1.65" fill="#a64f8e"/><circle cx="141.19" cy="645.2" r="1.65" fill="#a64f8e"/><circle cx="142.33" cy="651.3" r="1.65" fill="#a64f8e"/><circle cx="140.27" cy="657.3" r="1.65" fill="#a64f8e"/><circle cx="141.36" cy="631" r="1.65" fill="#111"/><circle cx="140.37" cy="634.1" r="1.65" fill="#111"/><circle cx="141.28" cy="637.1" r="1.65" fill="#111"/><circle cx="139.92" cy="648.2" r="1.65" fill="#111"/><circle cx="150.95" cy="652.3" r="1.65" fill="#c2c2c2" stroke="#999" stroke-width="0.3"/><circle cx="151.8" cy="533.1" r="1.65" fill="#efb3c6"/><circle cx="150.09" cy="565.4" r="1.65" fill="#efb3c6"/><circle cx="150.51" cy="607.8" r="1.65" fill="#efb3c6"/><circle cx="150.13" cy="547.2" r="1.65" fill="#a64f8e"/><circle cx="149.92" cy="550.3" r="1.65" fill="#a64f8e"/><circle cx="151.46" cy="574.5" r="1.65" fill="#a64f8e"/><circle cx="151.94" cy="587.6" r="1.65" fill="#a64f8e"/><circle cx="151.03" cy="615.3" r="1.65" fill="#111"/><circle cx="150.79" cy="626" r="1.65" fill="#111"/><circle cx="150.36" cy="646.2" r="1.65" fill="#111"/><circle cx="160.27" cy="646.2" r="1.65" fill="#c2c2c2" stroke="#999" stroke-width="0.3"/><circle cx="162.38" cy="652.3" r="1.65" fill="#c2c2c2" stroke="#999" stroke-width="0.3"/><circle cx="160.99" cy="572.5" r="1.65" fill="#efb3c6"/><circle cx="161.6" cy="586.6" r="1.65" fill="#efb3c6"/><circle cx="160.39" cy="595.7" r="1.65" fill="#efb3c6"/><circle cx="160.07" cy="598.7" r="1.65" fill="#a64f8e"/><circle cx="159.58" cy="605.8" r="1.65" fill="#a64f8e"/><circle cx="160.44" cy="613.9" r="1.65" fill="#a64f8e"/><circle cx="160.81" cy="615.9" r="1.65" fill="#a64f8e"/><circle cx="161.11" cy="629" r="1.65" fill="#111"/><circle cx="161.4" cy="632.1" r="1.65" fill="#111"/><circle cx="161.62" cy="641.2" r="1.65" fill="#111"/><circle cx="172.28" cy="654.3" r="1.65" fill="#c2c2c2" stroke="#999" stroke-width="0.3"/><circle cx="172.06" cy="657.3" r="1.65" fill="#c2c2c2" stroke="#999" stroke-width="0.3"/><circle cx="171.71" cy="626" r="1.65" fill="#efb3c6"/><circle cx="172.06" cy="631" r="1.65" fill="#efb3c6"/><circle cx="171.28" cy="620" r="1.65" fill="#a64f8e"/><circle cx="171.07" cy="622" r="1.65" fill="#a64f8e"/><circle cx="172.4" cy="642.2" r="1.65" fill="#a64f8e"/><circle cx="172.33" cy="647.2" r="1.65" fill="#a64f8e"/><circle cx="170.81" cy="652.3" r="1.65" fill="#111"/><circle cx="182.35" cy="635.1" r="1.65" fill="#c2c2c2" stroke="#999" stroke-width="0.3"/><circle cx="181.04" cy="644.2" r="1.65" fill="#c2c2c2" stroke="#999" stroke-width="0.3"/><circle cx="182.01" cy="654.3" r="1.65" fill="#c2c2c2" stroke="#999" stroke-width="0.3"/><circle cx="179.82" cy="587.6" r="1.65" fill="#efb3c6"/><circle cx="181.53" cy="591.7" r="1.65" fill="#efb3c6"/><circle cx="182.59" cy="613.9" r="1.65" fill="#efb3c6"/><circle cx="181.07" cy="598.1" r="1.65" fill="#a64f8e"/><circle cx="182.36" cy="601.4" r="1.65" fill="#a64f8e"/><circle cx="181.79" cy="647.2" r="1.65" fill="#111"/><circle cx="179.81" cy="651.3" r="1.65" fill="#111"/><circle cx="179.98" cy="657.3" r="1.65" fill="#111"/><circle cx="190.84" cy="630" r="1.65" fill="#c2c2c2" stroke="#999" stroke-width="0.3"/><circle cx="192.76" cy="651.3" r="1.65" fill="#c2c2c2" stroke="#999" stroke-width="0.3"/><circle cx="191.82" cy="574.5" r="1.65" fill="#efb3c6"/><circle cx="191.64" cy="589.6" r="1.65" fill="#efb3c6"/><circle cx="192.43" cy="594.7" r="1.65" fill="#efb3c6"/><circle cx="190.9" cy="601.8" r="1.65" fill="#efb3c6"/><circle cx="190.29" cy="613.9" r="1.65" fill="#a64f8e"/><circle cx="191.19" cy="627" r="1.65" fill="#a64f8e"/><circle cx="192.57" cy="648.2" r="1.65" fill="#a64f8e"/><circle cx="190.35" cy="628" r="1.65" fill="#111"/><circle cx="191.33" cy="640.2" r="1.65" fill="#111"/><circle cx="190.73" cy="642.2" r="1.65" fill="#111"/><circle cx="201.02" cy="644.2" r="1.65" fill="#c2c2c2" stroke="#999" stroke-width="0.3"/><circle cx="200.23" cy="654.3" r="1.65" fill="#c2c2c2" stroke="#999" stroke-width="0.3"/><circle cx="202.67" cy="592.7" r="1.65" fill="#efb3c6"/><circle cx="200.72" cy="596.7" r="1.65" fill="#efb3c6"/><circle cx="202.32" cy="618.9" r="1.65" fill="#a64f8e"/><circle cx="200.47" cy="632.1" r="1.65" fill="#a64f8e"/><circle cx="201.23" cy="641.2" r="1.65" fill="#a64f8e"/><circle cx="200.02" cy="626" r="1.65" fill="#111"/><circle cx="201.72" cy="640.2" r="1.65" fill="#111"/><circle cx="211.58" cy="611.9" r="1.65" fill="#c2c2c2" stroke="#999" stroke-width="0.3"/><circle cx="211.34" cy="646.2" r="1.65" fill="#c2c2c2" stroke="#999" stroke-width="0.3"/><circle cx="210.65" cy="652.3" r="1.65" fill="#c2c2c2" stroke="#999" stroke-width="0.3"/><circle cx="211.96" cy="592.7" r="1.65" fill="#efb3c6"/><circle cx="210.16" cy="596.7" r="1.65" fill="#efb3c6"/><circle cx="212.85" cy="608.8" r="1.65" fill="#a64f8e"/><circle cx="211.5" cy="617.5" r="1.65" fill="#a64f8e"/><circle cx="211.88" cy="637.1" r="1.65" fill="#a64f8e"/><circle cx="211.32" cy="651.3" r="1.65" fill="#a64f8e"/><circle cx="210.12" cy="615.5" r="1.65" fill="#111"/><circle cx="210.14" cy="626" r="1.65" fill="#111"/><circle cx="212.23" cy="628.4" r="1.65" fill="#111"/><circle cx="221.61" cy="650.3" r="1.65" fill="#c2c2c2" stroke="#999" stroke-width="0.3"/><circle cx="220.98" cy="656.3" r="1.65" fill="#c2c2c2" stroke="#999" stroke-width="0.3"/><circle cx="221.76" cy="560.4" r="1.65" fill="#efb3c6"/><circle cx="222.76" cy="584.6" r="1.65" fill="#efb3c6"/><circle cx="221.68" cy="571" r="1.65" fill="#a64f8e"/><circle cx="221.7" cy="577.1" r="1.65" fill="#a64f8e"/><circle cx="221.9" cy="579.5" r="1.65" fill="#a64f8e"/><circle cx="222.77" cy="590" r="1.65" fill="#a64f8e"/><circle cx="220.24" cy="619.5" r="1.65" fill="#111"/><circle cx="222.14" cy="628" r="1.65" fill="#111"/><circle cx="221.88" cy="634.1" r="1.65" fill="#111"/><circle cx="222.3" cy="644.2" r="1.65" fill="#111"/><circle cx="230.74" cy="641.2" r="1.65" fill="#c2c2c2" stroke="#999" stroke-width="0.3"/><circle cx="232.74" cy="646.2" r="1.65" fill="#c2c2c2" stroke="#999" stroke-width="0.3"/><circle cx="232.63" cy="649.2" r="1.65" fill="#c2c2c2" stroke="#999" stroke-width="0.3"/><circle cx="231.08" cy="580.6" r="1.65" fill="#efb3c6"/><circle cx="233.09" cy="584.6" r="1.65" fill="#efb3c6"/><circle cx="230.41" cy="589.6" r="1.65" fill="#efb3c6"/><circle cx="231.89" cy="602.2" r="1.65" fill="#a64f8e"/><circle cx="230.51" cy="613.9" r="1.65" fill="#a64f8e"/><circle cx="230.82" cy="615.9" r="1.65" fill="#a64f8e"/><circle cx="232.17" cy="624" r="1.65" fill="#a64f8e"/><circle cx="232.37" cy="629.6" r="1.65" fill="#111"/><circle cx="231.69" cy="633.1" r="1.65" fill="#111"/><circle cx="230.99" cy="639.7" r="1.65" fill="#111"/><circle cx="231.89" cy="654.3" r="1.65" fill="#111"/><circle cx="241.7" cy="618.9" r="1.65" fill="#c2c2c2" stroke="#999" stroke-width="0.3"/><circle cx="241.5" cy="642.2" r="1.65" fill="#c2c2c2" stroke="#999" stroke-width="0.3"/><circle cx="241.58" cy="653.9" r="1.65" fill="#c2c2c2" stroke="#999" stroke-width="0.3"/><circle cx="241.74" cy="592.7" r="1.65" fill="#efb3c6"/><circle cx="241.46" cy="611.9" r="1.65" fill="#efb3c6"/><circle cx="240.72" cy="615.9" r="1.65" fill="#efb3c6"/><circle cx="241.84" cy="577.1" r="1.65" fill="#a64f8e"/><circle cx="241.2" cy="599.3" r="1.65" fill="#a64f8e"/><circle cx="242.73" cy="637.1" r="1.65" fill="#a64f8e"/><circle cx="243.22" cy="647.2" r="1.65" fill="#a64f8e"/><circle cx="242.59" cy="620" r="1.65" fill="#111"/><circle cx="241.34" cy="634.1" r="1.65" fill="#111"/><circle cx="241.78" cy="636.1" r="1.65" fill="#111"/><circle cx="252.67" cy="624.4" r="1.65" fill="#c2c2c2" stroke="#999" stroke-width="0.3"/><circle cx="251.14" cy="654.3" r="1.65" fill="#c2c2c2" stroke="#999" stroke-width="0.3"/><circle cx="252.85" cy="655.9" r="1.65" fill="#c2c2c2" stroke="#999" stroke-width="0.3"/><circle cx="250.58" cy="548.2" r="1.65" fill="#efb3c6"/><circle cx="253.35" cy="554.9" r="1.65" fill="#efb3c6"/><circle cx="252.12" cy="599.7" r="1.65" fill="#a64f8e"/><circle cx="252.77" cy="642.2" r="1.65" fill="#a64f8e"/><circle cx="252.25" cy="647.2" r="1.65" fill="#a64f8e"/><circle cx="253" cy="602.2" r="1.65" fill="#111"/><circle cx="251.72" cy="621" r="1.65" fill="#111"/><circle cx="250.72" cy="636.1" r="1.65" fill="#111"/><circle cx="251.07" cy="641.2" r="1.65" fill="#111"/><rect x="75.2" y="532" width="183.6" height="129" fill="none" stroke="#222" stroke-width="0.9"/><text x="121.5" y="677" font-size="6.3" fill="#333">DCIS region</text><circle cx="123.6" cy="681.8" r="1.2" fill="#111"/><text x="127.3" y="684" font-size="6.3" fill="#333">Cells w/o <tspan font-style="italic">ERBB2</tspan> ampl</text><circle cx="123.6" cy="689.3" r="1.2" fill="#efb3c6"/><text x="127.3" y="691.6" font-size="6.3" fill="#333">Cells w/ <tspan font-style="italic">ERBB2</tspan> ampl</text><text x="198" y="677" font-size="6.3" fill="#333">IDC region</text><circle cx="201.5" cy="681.8" r="1.2" fill="#c2c2c2"/><text x="203.8" y="684" font-size="6.3" fill="#333">Cells w/o <tspan font-style="italic">ERBB2</tspan> ampl</text><circle cx="201.5" cy="689.3" r="1.2" fill="#a64f8e"/><text x="203.8" y="691.6" font-size="6.3" fill="#333">Cells w/ <tspan font-style="italic">ERBB2</tspan> ampl</text><text x="286.4" y="495" font-size="10.4" fill="#111" font-weight="bold">F</text><rect x="316.9" y="499.3" width="162.1" height="108.9" fill="none" stroke="#222" stroke-width="0.9"/><line x1="313.4" y1="608.2" x2="316.9" y2="608.2" stroke="#222" stroke-width="0.7"/><text x="309.9" y="611.2" font-size="8.6" fill="#333" text-anchor="end">1.0</text><line x1="313.4" y1="580.98" x2="316.9" y2="580.98" stroke="#222" stroke-width="0.7"/><text x="309.9" y="583.98" font-size="8.6" fill="#333" text-anchor="end">1.5</text><line x1="313.4" y1="553.75" x2="316.9" y2="553.75" stroke="#222" stroke-width="0.7"/><text x="309.9" y="556.75" font-size="8.6" fill="#333" text-anchor="end">2.0</text><line x1="313.4" y1="526.52" x2="316.9" y2="526.52" stroke="#222" stroke-width="0.7"/><text x="309.9" y="529.52" font-size="8.6" fill="#333" text-anchor="end">2.5</text><line x1="313.4" y1="499.3" x2="316.9" y2="499.3" stroke="#222" stroke-width="0.7"/><text x="309.9" y="502.3" font-size="8.6" fill="#333" text-anchor="end">3.0</text><line x1="317" y1="608.2" x2="317" y2="610.8" stroke="#222" stroke-width="0.7"/><text x="317.8" y="621.4" font-size="8.6" fill="#333" text-anchor="middle">0</text><line x1="357.5" y1="608.2" x2="357.5" y2="610.8" stroke="#222" stroke-width="0.7"/><text x="358.3" y="621.4" font-size="8.6" fill="#333" text-anchor="middle">10</text><line x1="398" y1="608.2" x2="398" y2="610.8" stroke="#222" stroke-width="0.7"/><text x="398.8" y="621.4" font-size="8.6" fill="#333" text-anchor="middle">20</text><line x1="438.5" y1="608.2" x2="438.5" y2="610.8" stroke="#222" stroke-width="0.7"/><text x="439.3" y="621.4" font-size="8.6" fill="#333" text-anchor="middle">30</text><line x1="479" y1="608.2" x2="479" y2="610.8" stroke="#222" stroke-width="0.7"/><text x="479.8" y="621.4" font-size="8.6" fill="#333" text-anchor="middle">40</text><text x="392.8" y="634.6" font-size="7.4" fill="#333" text-anchor="middle">% of GZMB<tspan font-size="5" dy="-3">+</tspan><tspan dy="3"> CD8</tspan><tspan font-size="5" dy="-3">+</tspan><tspan dy="3"> cells</tspan></text><text transform="translate(289.4,558.8) rotate(-90)" font-size="8" fill="#333" text-anchor="middle">17q12 CC copy number</text><circle cx="315.8" cy="559.6" r="2.3" fill="#a99ccb"/><circle cx="332" cy="585.9" r="2.3" fill="#a99ccb"/><circle cx="358" cy="587.1" r="2.3" fill="#a99ccb"/><circle cx="373.8" cy="586.2" r="2.3" fill="#a99ccb"/><circle cx="380.7" cy="585" r="2.3" fill="#a99ccb"/><circle cx="385.1" cy="570" r="2.3" fill="#a99ccb"/><circle cx="387.4" cy="582.7" r="2.3" fill="#a99ccb"/><circle cx="404.6" cy="584.4" r="2.3" fill="#a99ccb"/><circle cx="414.2" cy="575.8" r="2.3" fill="#a99ccb"/><circle cx="456" cy="589.2" r="2.3" fill="#a99ccb"/><circle cx="338.9" cy="522.6" r="2.3" fill="#45277f"/><circle cx="324.3" cy="531.2" r="2.3" fill="#45277f"/><circle cx="323.9" cy="539.3" r="2.3" fill="#45277f"/><circle cx="341.9" cy="554.7" r="2.3" fill="#45277f"/><circle cx="319.3" cy="573.5" r="2.3" fill="#45277f"/><circle cx="330.3" cy="572.3" r="2.3" fill="#45277f"/><circle cx="331.5" cy="574.6" r="2.3" fill="#45277f"/><circle cx="327.3" cy="585.9" r="2.3" fill="#45277f"/><circle cx="346.3" cy="572.1" r="2.3" fill="#45277f"/><circle cx="350.9" cy="572.1" r="2.3" fill="#45277f"/><circle cx="380" cy="567" r="2.3" fill="#45277f"/><line x1="317" y1="560.28" x2="457.13" y2="593.93" stroke="#222" stroke-width="1.0"/><text x="449" y="514.4" font-size="8.7" fill="#a99ccb">DCIS</text><text x="449" y="529.6" font-size="8.7" fill="#45277f">IDC</text><text x="430.3" y="558.8" font-size="8.1" fill="#222"><tspan font-style="italic">r</tspan> = −0.4686</text><text x="429.3" y="569.6" font-size="8.1" fill="#222"><tspan font-style="italic">P</tspan> = 0.0322</text></svg></body></html>
